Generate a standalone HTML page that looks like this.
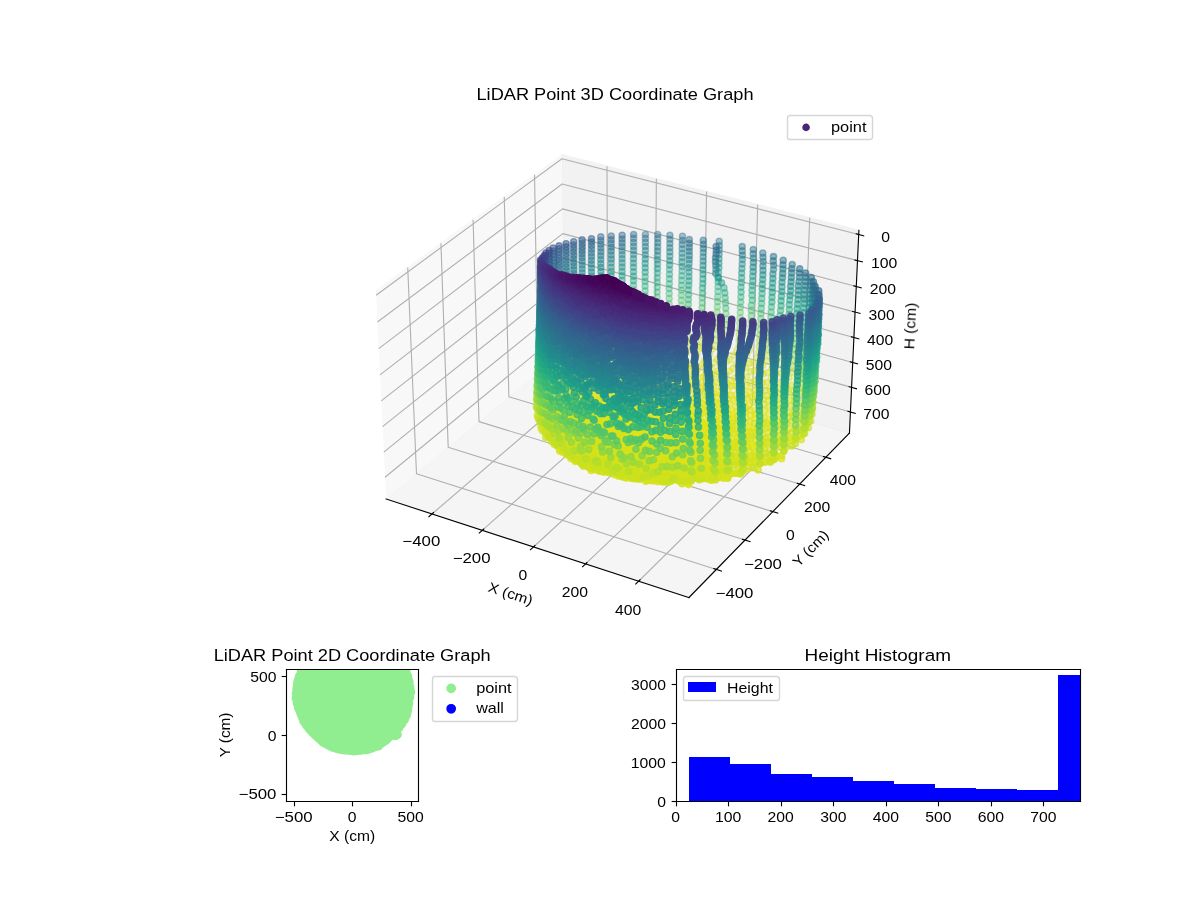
<!DOCTYPE html><html><head><meta charset="utf-8"><title>LiDAR Point Graphs</title><style>
html,body{margin:0;padding:0;background:#fff}svg{display:block}
svg path{stroke-linejoin:round;stroke-linecap:butt}
text{font-family:"Liberation Sans",sans-serif;fill:#000;white-space:pre}
.s3 circle{stroke-width:1.39px}
.k0{fill:#440154;stroke:#440154}.k1{fill:#46075a;stroke:#46075a}.k2{fill:#470d60;stroke:#470d60}.k3{fill:#471365;stroke:#471365}.k4{fill:#48186a;stroke:#48186a}.k5{fill:#481d6f;stroke:#481d6f}.k6{fill:#482374;stroke:#482374}.k7{fill:#482878;stroke:#482878}.k8{fill:#472d7b;stroke:#472d7b}.k9{fill:#46327e;stroke:#46327e}.ka{fill:#453781;stroke:#453781}.kb{fill:#443b84;stroke:#443b84}.kc{fill:#424086;stroke:#424086}.kd{fill:#404588;stroke:#404588}.ke{fill:#3e4989;stroke:#3e4989}.kf{fill:#3d4e8a;stroke:#3d4e8a}.kg{fill:#3a538b;stroke:#3a538b}.kh{fill:#38588c;stroke:#38588c}.ki{fill:#365c8d;stroke:#365c8d}.kj{fill:#34608d;stroke:#34608d}.kk{fill:#32648e;stroke:#32648e}.kl{fill:#31688e;stroke:#31688e}.km{fill:#2f6c8e;stroke:#2f6c8e}.kn{fill:#2d708e;stroke:#2d708e}.ko{fill:#2c738e;stroke:#2c738e}.kp{fill:#2a778e;stroke:#2a778e}.kq{fill:#297b8e;stroke:#297b8e}.kr{fill:#277f8e;stroke:#277f8e}.ks{fill:#26828e;stroke:#26828e}.kt{fill:#24868e;stroke:#24868e}.ku{fill:#238a8d;stroke:#238a8d}.kv{fill:#218e8d;stroke:#218e8d}.kw{fill:#20928c;stroke:#20928c}.kx{fill:#1f968b;stroke:#1f968b}.ky{fill:#1f9a8a;stroke:#1f9a8a}.kz{fill:#1f9e89;stroke:#1f9e89}.k10{fill:#1fa187;stroke:#1fa187}.k11{fill:#21a585;stroke:#21a585}.k12{fill:#23a983;stroke:#23a983}.k13{fill:#26ad81;stroke:#26ad81}.k14{fill:#2ab07f;stroke:#2ab07f}.k15{fill:#2fb47c;stroke:#2fb47c}.k16{fill:#35b779;stroke:#35b779}.k17{fill:#3bbb75;stroke:#3bbb75}.k18{fill:#42be71;stroke:#42be71}.k19{fill:#4ac16d;stroke:#4ac16d}.k1a{fill:#52c569;stroke:#52c569}.k1b{fill:#5ac864;stroke:#5ac864}.k1c{fill:#65cb5e;stroke:#65cb5e}.k1d{fill:#6ece58;stroke:#6ece58}.k1e{fill:#77d153;stroke:#77d153}.k1f{fill:#81d34d;stroke:#81d34d}.k1g{fill:#8bd646;stroke:#8bd646}.k1h{fill:#95d840;stroke:#95d840}.k1i{fill:#a0da39;stroke:#a0da39}.k1j{fill:#aadc32;stroke:#aadc32}.k1k{fill:#b5de2b;stroke:#b5de2b}.k1l{fill:#c0df25;stroke:#c0df25}.k1m{fill:#cae11f;stroke:#cae11f}.k1n{fill:#d5e21a;stroke:#d5e21a}.k1o{fill:#dfe318;stroke:#dfe318}.k1p{fill:#eae51a;stroke:#eae51a}.k1q{fill:#f4e61e;stroke:#f4e61e}.a0{fill-opacity:.3;stroke-opacity:.3}.a1{fill-opacity:.35;stroke-opacity:.35}.a2{fill-opacity:.4;stroke-opacity:.4}.a3{fill-opacity:.45;stroke-opacity:.45}.a4{fill-opacity:.5;stroke-opacity:.5}.a5{fill-opacity:.55;stroke-opacity:.55}.a6{fill-opacity:.6;stroke-opacity:.6}.a7{fill-opacity:.65;stroke-opacity:.65}.a8{fill-opacity:.7;stroke-opacity:.7}.a9{fill-opacity:.75;stroke-opacity:.75}.aa{fill-opacity:.8;stroke-opacity:.8}.ab{fill-opacity:.85;stroke-opacity:.85}.ac{fill-opacity:.9;stroke-opacity:.9}.ad{fill-opacity:.95;stroke-opacity:.95}.ae{fill-opacity:1;stroke-opacity:1}
</style></head><body>
<svg width="1200" height="900" viewBox="0 0 1200 900"><defs><clipPath id="p7de2c0d83e"><rect x="675.65" y="669" width="404.35" height="132"/></clipPath></defs>
<path d="M0 900L1200 900L1200 0L0 0Z" style="fill:#fff"/>
<path d="M351 636L879 636L879 108L351 108Z" style="fill:#fff"/>
<path d="M375.89 290.89L561.86 154.69L564.16 350.66L386.1 499.01" style="fill:#f2f2f2;opacity:0.5;stroke:#f2f2f2;stroke-linejoin:miter;stroke-width:1.389"/>
<path d="M561.86 154.69L858.9 230.3L849.44 433.15L564.16 350.66" style="fill:#e6e6e6;opacity:0.5;stroke:#e6e6e6;stroke-linejoin:miter;stroke-width:1.389"/>
<path d="M386.1 499.01L688.88 597.61L849.44 433.15L564.16 350.66" style="fill:#ececec;opacity:0.5;stroke:#ececec;stroke-linejoin:miter;stroke-width:1.389"/>
<path d="M432.02 513.96L607.59 363.22L607.01 166.18" style="fill:none;stroke:#b0b0b0;stroke-width:1.111"/>
<path d="M482.25 530.32L655.04 376.94L656.36 178.75" style="fill:none;stroke:#b0b0b0;stroke-width:1.111"/>
<path d="M533.42 546.98L703.29 390.89L706.58 191.53" style="fill:none;stroke:#b0b0b0;stroke-width:1.111"/>
<path d="M585.53 563.95L752.35 405.08L757.68 204.54" style="fill:none;stroke:#b0b0b0;stroke-width:1.111"/>
<path d="M638.61 581.24L802.26 419.51L809.69 217.77" style="fill:none;stroke:#b0b0b0;stroke-width:1.111"/>
<path d="M407.72 267.58L416.49 473.7L716.38 569.44" style="fill:none;stroke:#b0b0b0;stroke-width:1.111"/>
<path d="M440.91 243.27L448.21 447.26L745.06 540.07" style="fill:none;stroke:#b0b0b0;stroke-width:1.111"/>
<path d="M473.08 219.71L479 421.62L772.83 511.62" style="fill:none;stroke:#b0b0b0;stroke-width:1.111"/>
<path d="M504.27 196.87L508.88 396.72L799.75 484.04" style="fill:none;stroke:#b0b0b0;stroke-width:1.111"/>
<path d="M534.53 174.71L537.9 372.54L825.86 457.3" style="fill:none;stroke:#b0b0b0;stroke-width:1.111"/>
<path d="M858.7 234.51L561.91 158.75L376.1 295.22" style="fill:none;stroke:#b0b0b0;stroke-width:1.111"/>
<path d="M857.49 260.64L562.21 183.95L377.42 322.06" style="fill:none;stroke:#b0b0b0;stroke-width:1.111"/>
<path d="M856.28 286.51L562.5 208.91L378.72 348.63" style="fill:none;stroke:#b0b0b0;stroke-width:1.111"/>
<path d="M855.09 312.11L562.79 233.63L380.01 374.91" style="fill:none;stroke:#b0b0b0;stroke-width:1.111"/>
<path d="M853.91 337.45L563.07 258.11L381.29 400.91" style="fill:none;stroke:#b0b0b0;stroke-width:1.111"/>
<path d="M852.74 362.54L563.36 282.36L382.55 426.64" style="fill:none;stroke:#b0b0b0;stroke-width:1.111"/>
<path d="M851.58 387.37L563.64 306.37L383.8 452.1" style="fill:none;stroke:#b0b0b0;stroke-width:1.111"/>
<path d="M850.43 411.96L563.92 330.15L385.04 477.3" style="fill:none;stroke:#b0b0b0;stroke-width:1.111"/>
<path d="M386.1 499.01L688.88 597.61" style="fill:none;stroke:#000;stroke-width:1.111;stroke-linecap:square"/>
<path d="M433.55 512.65L428.95 516.6" style="fill:none;stroke:#000;stroke-width:1.111;stroke-linecap:square"/>
<path d="M483.76 528.98L479.23 533.01" style="fill:none;stroke:#000;stroke-width:1.111;stroke-linecap:square"/>
<path d="M534.9 545.62L530.44 549.72" style="fill:none;stroke:#000;stroke-width:1.111;stroke-linecap:square"/>
<path d="M586.98 562.56L582.6 566.74" style="fill:none;stroke:#000;stroke-width:1.111;stroke-linecap:square"/>
<path d="M640.04 579.82L635.74 584.08" style="fill:none;stroke:#000;stroke-width:1.111;stroke-linecap:square"/>
<path d="M849.44 433.15L688.88 597.61" style="fill:none;stroke:#000;stroke-width:1.111;stroke-linecap:square"/>
<path d="M713.86 568.63L721.45 571.05" style="fill:none;stroke:#000;stroke-width:1.111;stroke-linecap:square"/>
<path d="M742.55 539.29L750.06 541.63" style="fill:none;stroke:#000;stroke-width:1.111;stroke-linecap:square"/>
<path d="M770.36 510.86L777.79 513.14" style="fill:none;stroke:#000;stroke-width:1.111;stroke-linecap:square"/>
<path d="M797.31 483.31L804.65 485.51" style="fill:none;stroke:#000;stroke-width:1.111;stroke-linecap:square"/>
<path d="M823.44 456.59L830.71 458.73" style="fill:none;stroke:#000;stroke-width:1.111;stroke-linecap:square"/>
<path d="M849.44 433.15L858.9 230.3" style="fill:none;stroke:#000;stroke-width:1.111;stroke-linecap:square"/>
<path d="M856.21 233.87L863.71 235.78" style="fill:none;stroke:#000;stroke-width:1.111;stroke-linecap:square"/>
<path d="M855 259.99L862.46 261.93" style="fill:none;stroke:#000;stroke-width:1.111;stroke-linecap:square"/>
<path d="M853.81 285.85L861.23 287.81" style="fill:none;stroke:#000;stroke-width:1.111;stroke-linecap:square"/>
<path d="M852.63 311.45L860.01 313.43" style="fill:none;stroke:#000;stroke-width:1.111;stroke-linecap:square"/>
<path d="M851.46 336.78L858.8 338.79" style="fill:none;stroke:#000;stroke-width:1.111;stroke-linecap:square"/>
<path d="M850.3 361.86L857.61 363.89" style="fill:none;stroke:#000;stroke-width:1.111;stroke-linecap:square"/>
<path d="M849.16 386.69L856.42 388.73" style="fill:none;stroke:#000;stroke-width:1.111;stroke-linecap:square"/>
<path d="M848.02 411.27L855.25 413.33" style="fill:none;stroke:#000;stroke-width:1.111;stroke-linecap:square"/>
<g class="s3"><g class="a0"><circle cx="680.4" cy="339.2" r="3.1" class="k1m"/><circle cx="667.9" cy="341.4" r="3.1" class="k1m"/><circle cx="679.2" cy="344.9" r="3.1" class="k1n"/><circle cx="644.7" cy="339.3" r="3.1" class="k1l"/><circle cx="633.3" cy="343.9" r="3.1" class="k1n"/><circle cx="644.4" cy="344.7" r="3.1" class="k1n"/><circle cx="655.5" cy="344.8" r="3.1" class="k1n"/><circle cx="666.5" cy="346.8" r="3.1" class="k1n"/><circle cx="715" cy="345.5" r="3.1" class="k1m"/><circle cx="677.5" cy="348.3" r="3.1" class="k1n"/><circle cx="715.8" cy="340.2" r="3.1" class="k1l"/><circle cx="668.9" cy="319.9" r="3.1" class="k1f"/><circle cx="654.5" cy="350.2" r="3.1" class="k1n"/><circle cx="643.7" cy="347.4" r="3.1" class="k1n"/><circle cx="716.2" cy="334.4" r="3.1" class="k1j"/><circle cx="700.8" cy="346.7" r="3.1" class="k1m"/><circle cx="726" cy="348.7" r="3.1" class="k1n"/><circle cx="727.3" cy="343.1" r="3.1" class="k1l"/><circle cx="665.2" cy="349.8" r="3.1" class="k1n"/></g><g class="a1"><circle cx="611.5" cy="346.7" r="3.1" class="k1m"/><circle cx="712.3" cy="349" r="3.1" class="k1n"/><circle cx="675.8" cy="352.2" r="3.1" class="k1n"/><circle cx="716.4" cy="328.6" r="3.1" class="k1h"/><circle cx="632.6" cy="352.3" r="3.1" class="k1n"/><circle cx="701" cy="340.7" r="3.1" class="k1k"/><circle cx="738.9" cy="346.5" r="3.1" class="k1m"/><circle cx="681.1" cy="310.7" r="3.1" class="k1c"/><circle cx="669" cy="309" r="3.1" class="k1c"/><circle cx="699.1" cy="349" r="3.1" class="k1m"/><circle cx="663.9" cy="355.7" r="3.1" class="k1o"/><circle cx="727" cy="336.8" r="3.1" class="k1j"/><circle cx="611.7" cy="350.5" r="3.1" class="k1m"/><circle cx="686.4" cy="353" r="3.1" class="k1n"/><circle cx="736.7" cy="351.1" r="3.1" class="k1n"/><circle cx="653.5" cy="351.3" r="3.1" class="k1n"/><circle cx="601.3" cy="351.5" r="3.1" class="k1n"/><circle cx="681.3" cy="305.5" r="3.1" class="k1b"/><circle cx="687" cy="347.5" r="3.1" class="k1m"/><circle cx="709.6" cy="354.3" r="3.1" class="k1n"/><circle cx="716.5" cy="322.9" r="3.1" class="k1f"/><circle cx="701.1" cy="334.9" r="3.1" class="k1i"/><circle cx="669.1" cy="303.7" r="3.1" class="k1a"/><circle cx="739.1" cy="340.5" r="3.1" class="k1k"/><circle cx="674.2" cy="354.9" r="3.1" class="k1n"/><circle cx="696.8" cy="354.7" r="3.1" class="k1n"/><circle cx="716.9" cy="317.5" r="3.1" class="k1d"/><circle cx="749.8" cy="349.8" r="3.1" class="k1m"/><circle cx="681.4" cy="300.3" r="3.1" class="k19"/><circle cx="657" cy="302.2" r="3.1" class="k19"/><circle cx="632.3" cy="355.1" r="3.1" class="k1n"/><circle cx="642.4" cy="356" r="3.1" class="k1n"/><circle cx="687.2" cy="341.7" r="3.1" class="k1k"/><circle cx="701.4" cy="329.3" r="3.1" class="k1g"/><circle cx="684.4" cy="358.1" r="3.1" class="k1o"/><circle cx="726.8" cy="330.7" r="3.1" class="k1h"/><circle cx="669.2" cy="298.5" r="3.1" class="k18"/><circle cx="739.3" cy="334.6" r="3.1" class="k1i"/><circle cx="733.3" cy="355.2" r="3.1" class="k1n"/><circle cx="747.1" cy="354.8" r="3.1" class="k1n"/><circle cx="612" cy="353.6" r="3.1" class="k1m"/><circle cx="719.9" cy="355.7" r="3.1" class="k1n"/><circle cx="652.6" cy="354.5" r="3.1" class="k1n"/><circle cx="657.1" cy="297.1" r="3.1" class="k18"/><circle cx="717.1" cy="312.1" r="3.1" class="k1c"/><circle cx="687.5" cy="336.1" r="3.1" class="k1i"/><circle cx="681.5" cy="295.2" r="3.1" class="k17"/><circle cx="707" cy="357" r="3.1" class="k1n"/><circle cx="662.7" cy="356.6" r="3.1" class="k1n"/><circle cx="701.6" cy="323.8" r="3.1" class="k1e"/><circle cx="601.3" cy="339.4" r="3.1" class="k1i"/><circle cx="669.2" cy="293.5" r="3.1" class="k16"/><circle cx="739.8" cy="329" r="3.1" class="k1g"/><circle cx="749.6" cy="343.5" r="3.1" class="k1j"/><circle cx="694.5" cy="358.8" r="3.1" class="k1n"/><circle cx="592" cy="354.7" r="3.1" class="k1m"/><circle cx="672.7" cy="357.8" r="3.1" class="k1n"/><circle cx="726.5" cy="324.8" r="3.1" class="k1e"/><circle cx="717.4" cy="306.8" r="3.1" class="k1a"/><circle cx="657.1" cy="292.1" r="3.1" class="k16"/><circle cx="730" cy="359.8" r="3.1" class="k1n"/><circle cx="641.8" cy="358.3" r="3.1" class="k1n"/><circle cx="687.5" cy="330.3" r="3.1" class="k1g"/><circle cx="681.4" cy="290.1" r="3.1" class="k16"/><circle cx="701.7" cy="318.3" r="3.1" class="k1d"/><circle cx="645.1" cy="295.8" r="3.1" class="k17"/><circle cx="612.3" cy="357.6" r="3.1" class="k1n"/><circle cx="601.2" cy="333.7" r="3.1" class="k1h"/><circle cx="750" cy="337.8" r="3.1" class="k1i"/><circle cx="717" cy="359.2" r="3.1" class="k1n"/><circle cx="743.5" cy="357.6" r="3.1" class="k1n"/><circle cx="651.7" cy="358.4" r="3.1" class="k1n"/><circle cx="682.6" cy="359.1" r="3.1" class="k1n"/><circle cx="739.8" cy="323.3" r="3.1" class="k1e"/><circle cx="669.1" cy="288.5" r="3.1" class="k15"/><circle cx="661.4" cy="360.7" r="3.1" class="k1n"/><circle cx="717.6" cy="301.6" r="3.1" class="k18"/><circle cx="704.4" cy="360.5" r="3.1" class="k1n"/><circle cx="657.2" cy="287.2" r="3.1" class="k15"/><circle cx="757.3" cy="357.6" r="3.1" class="k1n"/><circle cx="759" cy="352.5" r="3.1" class="k1l"/><circle cx="692.3" cy="363.5" r="3.1" class="k1o"/><circle cx="681.6" cy="285.2" r="3.1" class="k14"/><circle cx="592.9" cy="359.8" r="3.1" class="k1n"/><circle cx="701.9" cy="313" r="3.1" class="k1b"/><circle cx="669.4" cy="283.7" r="3.1" class="k13"/><circle cx="671.1" cy="362.8" r="3.1" class="k1o"/><circle cx="645.1" cy="290.9" r="3.1" class="k15"/><circle cx="687.6" cy="324.8" r="3.1" class="k1e"/><circle cx="726.3" cy="319.1" r="3.1" class="k1c"/><circle cx="591.8" cy="343.7" r="3.1" class="k1j"/><circle cx="750.4" cy="332.1" r="3.1" class="k1g"/><circle cx="740.1" cy="317.9" r="3.1" class="k1c"/><circle cx="717.8" cy="296.6" r="3.1" class="k16"/><circle cx="583.3" cy="360.9" r="3.1" class="k1n"/><circle cx="657.2" cy="282.4" r="3.1" class="k13"/><circle cx="582.8" cy="354.6" r="3.1" class="k1l"/><circle cx="681.7" cy="280.4" r="3.1" class="k12"/><circle cx="612.6" cy="361.7" r="3.1" class="k1n"/><circle cx="739.9" cy="361.7" r="3.1" class="k1n"/><circle cx="714.1" cy="362.9" r="3.1" class="k1n"/><circle cx="669.4" cy="278.9" r="3.1" class="k12"/><circle cx="726.8" cy="361.4" r="3.1" class="k1n"/><circle cx="702" cy="307.8" r="3.1" class="k19"/><circle cx="759.3" cy="346.5" r="3.1" class="k1j"/><circle cx="753.3" cy="362.9" r="3.1" class="k1n"/><circle cx="650.7" cy="362.5" r="3.1" class="k1n"/><circle cx="680.7" cy="363" r="3.1" class="k1n"/><circle cx="645.1" cy="286.1" r="3.1" class="k14"/><circle cx="750.8" cy="326.6" r="3.1" class="k1e"/><circle cx="701.9" cy="364.4" r="3.1" class="k1o"/><circle cx="633.5" cy="290.1" r="3.1" class="k15"/><circle cx="660.2" cy="364" r="3.1" class="k1n"/><circle cx="669.6" cy="367.8" r="3.1" class="k1o"/><circle cx="740.3" cy="312.5" r="3.1" class="k1a"/><circle cx="717.9" cy="291.5" r="3.1" class="k15"/><circle cx="726" cy="313.6" r="3.1" class="k1a"/><circle cx="681.8" cy="275.7" r="3.1" class="k11"/><circle cx="657.2" cy="277.7" r="3.1" class="k11"/><circle cx="702.3" cy="302.9" r="3.1" class="k18"/><circle cx="593.8" cy="362.8" r="3.1" class="k1n"/><circle cx="690.2" cy="365.9" r="3.1" class="k1o"/><circle cx="603.2" cy="359" r="3.1" class="k1m"/><circle cx="669.5" cy="274.2" r="3.1" class="k10"/><circle cx="767.1" cy="361.3" r="3.1" class="k1n"/><circle cx="645.1" cy="281.4" r="3.1" class="k12"/><circle cx="759.6" cy="340.7" r="3.1" class="k1h"/><circle cx="582.7" cy="348.5" r="3.1" class="k1j"/><circle cx="657.4" cy="273.1" r="3.1" class="k10"/><circle cx="640.6" cy="366.5" r="3.1" class="k1o"/><circle cx="633.5" cy="285.4" r="3.1" class="k13"/><circle cx="751" cy="321.1" r="3.1" class="k1c"/><circle cx="622.1" cy="365.2" r="3.1" class="k1n"/><circle cx="682" cy="271" r="3.1" class="kz"/><circle cx="718" cy="286.6" r="3.1" class="k13"/><circle cx="711.3" cy="367.2" r="3.1" class="k1o"/><circle cx="740.4" cy="307.2" r="3.1" class="k18"/><circle cx="612.9" cy="365.1" r="3.1" class="k1n"/><circle cx="678.9" cy="367.1" r="3.1" class="k1o"/><circle cx="768.2" cy="355.7" r="3.1" class="k1l"/><circle cx="723.7" cy="364.7" r="3.1" class="k1n"/><circle cx="645.2" cy="276.8" r="3.1" class="k11"/><circle cx="736.3" cy="364.3" r="3.1" class="k1n"/><circle cx="584.5" cy="361.7" r="3.1" class="k1m"/><circle cx="688.1" cy="309.3" r="3.1" class="k19"/><circle cx="669.5" cy="269.6" r="3.1" class="kz"/><circle cx="702.3" cy="297.8" r="3.1" class="k16"/><circle cx="574.5" cy="359.3" r="3.1" class="k1m"/><circle cx="699.5" cy="367.7" r="3.1" class="k1o"/></g><g class="a2"><circle cx="725.7" cy="308.2" r="3.1" class="k18"/><circle cx="603.8" cy="365" r="3.1" class="k1n"/><circle cx="649.9" cy="364.5" r="3.1" class="k1n"/><circle cx="582.6" cy="342.9" r="3.1" class="k1h"/><circle cx="657.4" cy="268.6" r="3.1" class="ky"/><circle cx="759.9" cy="335" r="3.1" class="k1f"/><circle cx="682.1" cy="266.5" r="3.1" class="ky"/><circle cx="575.4" cy="364.7" r="3.1" class="k1n"/><circle cx="749.4" cy="363.3" r="3.1" class="k1n"/><circle cx="633.5" cy="280.7" r="3.1" class="k11"/><circle cx="751.3" cy="315.7" r="3.1" class="k1a"/><circle cx="718.2" cy="281.8" r="3.1" class="k12"/><circle cx="740.7" cy="302.1" r="3.1" class="k17"/><circle cx="762.8" cy="365.5" r="3.1" class="k1n"/><circle cx="659" cy="365.5" r="3.1" class="k1n"/><circle cx="688.1" cy="369.2" r="3.1" class="k1o"/><circle cx="768.8" cy="349.9" r="3.1" class="k1j"/><circle cx="669.6" cy="265.1" r="3.1" class="kx"/><circle cx="702.6" cy="293" r="3.1" class="k14"/><circle cx="594.7" cy="365" r="3.1" class="k1n"/><circle cx="645.2" cy="272.2" r="3.1" class="kz"/><circle cx="688.3" cy="304.4" r="3.1" class="k17"/><circle cx="668.1" cy="367.2" r="3.1" class="k1n"/><circle cx="657.5" cy="264.1" r="3.1" class="kx"/><circle cx="585.7" cy="367.3" r="3.1" class="k1n"/><circle cx="613.2" cy="369.2" r="3.1" class="k1o"/><circle cx="640" cy="368.9" r="3.1" class="k1o"/><circle cx="633.5" cy="276.2" r="3.1" class="k10"/><circle cx="760.2" cy="329.5" r="3.1" class="k1d"/><circle cx="732.9" cy="368.4" r="3.1" class="k1n"/><circle cx="718.4" cy="277" r="3.1" class="k10"/><circle cx="582.6" cy="337.2" r="3.1" class="k1f"/><circle cx="682" cy="261.9" r="3.1" class="kw"/><circle cx="720.6" cy="367.9" r="3.1" class="k1n"/><circle cx="649" cy="369.7" r="3.1" class="k1o"/><circle cx="725.5" cy="302.9" r="3.1" class="k16"/><circle cx="669.7" cy="260.7" r="3.1" class="kw"/><circle cx="740.9" cy="297.1" r="3.1" class="k15"/><circle cx="751.4" cy="310.4" r="3.1" class="k18"/><circle cx="631.1" cy="366.4" r="3.1" class="k1n"/><circle cx="677.1" cy="369.5" r="3.1" class="k1o"/><circle cx="622.1" cy="366.3" r="3.1" class="k1n"/><circle cx="708.6" cy="368.4" r="3.1" class="k1n"/><circle cx="622.1" cy="284.7" r="3.1" class="k12"/><circle cx="688.4" cy="299.5" r="3.1" class="k16"/><circle cx="776.3" cy="365" r="3.1" class="k1m"/><circle cx="745.6" cy="367.6" r="3.1" class="k1n"/><circle cx="697.1" cy="370.6" r="3.1" class="k1o"/><circle cx="702.5" cy="288.1" r="3.1" class="k13"/><circle cx="645.2" cy="267.8" r="3.1" class="kx"/><circle cx="768.9" cy="344" r="3.1" class="k1h"/><circle cx="633.5" cy="271.7" r="3.1" class="ky"/><circle cx="682.2" cy="257.5" r="3.1" class="kv"/><circle cx="760.7" cy="324.2" r="3.1" class="k1c"/><circle cx="758.6" cy="368.6" r="3.1" class="k1n"/><circle cx="576.8" cy="367.2" r="3.1" class="k1n"/><circle cx="657.9" cy="369.2" r="3.1" class="k1n"/><circle cx="657.4" cy="259.7" r="3.1" class="kv"/><circle cx="718.5" cy="272.3" r="3.1" class="kz"/><circle cx="669.8" cy="256.3" r="3.1" class="ku"/><circle cx="686" cy="371.4" r="3.1" class="k1o"/><circle cx="777.4" cy="359.4" r="3.1" class="k1l"/><circle cx="741.1" cy="292.1" r="3.1" class="k13"/><circle cx="622.1" cy="280.2" r="3.1" class="k10"/><circle cx="574.4" cy="347.4" r="3.1" class="k1h"/><circle cx="702.8" cy="283.5" r="3.1" class="k11"/><circle cx="688.6" cy="294.7" r="3.1" class="k14"/><circle cx="666.7" cy="371" r="3.1" class="k1o"/><circle cx="751.4" cy="305.2" r="3.1" class="k17"/><circle cx="645.2" cy="263.4" r="3.1" class="kw"/><circle cx="595.5" cy="366.8" r="3.1" class="k1m"/><circle cx="613.5" cy="373" r="3.1" class="k1o"/><circle cx="639.5" cy="372.6" r="3.1" class="k1o"/><circle cx="725.2" cy="297.8" r="3.1" class="k15"/><circle cx="718.9" cy="267.7" r="3.1" class="kx"/><circle cx="568.1" cy="369.7" r="3.1" class="k1n"/><circle cx="657.5" cy="255.4" r="3.1" class="ku"/><circle cx="630.8" cy="371.3" r="3.1" class="k1o"/><circle cx="729.5" cy="371.3" r="3.1" class="k1o"/><circle cx="705.9" cy="373" r="3.1" class="k1o"/><circle cx="717.5" cy="371.2" r="3.1" class="k1n"/><circle cx="648.1" cy="373.5" r="3.1" class="k1o"/><circle cx="772" cy="368.6" r="3.1" class="k1n"/><circle cx="567.2" cy="363.3" r="3.1" class="k1l"/><circle cx="752.3" cy="300.3" r="3.1" class="k15"/><circle cx="769.1" cy="338.2" r="3.1" class="k1f"/><circle cx="586.8" cy="368.7" r="3.1" class="k1n"/><circle cx="622.1" cy="370.2" r="3.1" class="k1n"/><circle cx="675.4" cy="373.1" r="3.1" class="k1o"/><circle cx="669.8" cy="251.9" r="3.1" class="kt"/><circle cx="633.5" cy="267.3" r="3.1" class="kx"/><circle cx="645.3" cy="259.1" r="3.1" class="kv"/><circle cx="682.1" cy="253.2" r="3.1" class="kt"/><circle cx="760.8" cy="318.7" r="3.1" class="k1a"/><circle cx="622.1" cy="275.7" r="3.1" class="kz"/><circle cx="702.9" cy="278.9" r="3.1" class="k10"/><circle cx="741.9" cy="370" r="3.1" class="k1n"/><circle cx="574.3" cy="341.8" r="3.1" class="k1g"/><circle cx="741" cy="287.2" r="3.1" class="k12"/><circle cx="657.6" cy="251.1" r="3.1" class="ks"/><circle cx="777.6" cy="353.4" r="3.1" class="k1j"/><circle cx="694.8" cy="372.5" r="3.1" class="k1n"/><circle cx="656.7" cy="372.7" r="3.1" class="k1o"/><circle cx="688.4" cy="289.9" r="3.1" class="k12"/><circle cx="718.9" cy="263.2" r="3.1" class="kv"/><circle cx="754.5" cy="370.7" r="3.1" class="k1n"/><circle cx="682.2" cy="248.8" r="3.1" class="ks"/><circle cx="633.5" cy="263" r="3.1" class="kv"/><circle cx="578.2" cy="369.6" r="3.1" class="k1n"/><circle cx="769.6" cy="332.8" r="3.1" class="k1d"/><circle cx="669.8" cy="247.7" r="3.1" class="kr"/><circle cx="684" cy="374.1" r="3.1" class="k1o"/><circle cx="596.4" cy="370.9" r="3.1" class="k1n"/><circle cx="665.3" cy="374.5" r="3.1" class="k1o"/><circle cx="645.3" cy="254.8" r="3.1" class="kt"/><circle cx="567.1" cy="357.4" r="3.1" class="k1j"/><circle cx="741.5" cy="282.5" r="3.1" class="k10"/><circle cx="724.8" cy="292.9" r="3.1" class="k13"/><circle cx="761" cy="313.5" r="3.1" class="k18"/><circle cx="703" cy="274.3" r="3.1" class="ky"/><circle cx="638.9" cy="376.3" r="3.1" class="k1o"/><circle cx="767.5" cy="372.6" r="3.1" class="k1n"/><circle cx="630.5" cy="375.3" r="3.1" class="k1o"/><circle cx="587.9" cy="373.6" r="3.1" class="k1n"/><circle cx="688.7" cy="285.4" r="3.1" class="k11"/><circle cx="703.3" cy="376.8" r="3.1" class="k1o"/><circle cx="657.6" cy="246.9" r="3.1" class="kr"/><circle cx="752" cy="295.2" r="3.1" class="k14"/><circle cx="611.3" cy="280" r="3.1" class="k10"/><circle cx="726.2" cy="374.3" r="3.1" class="k1o"/><circle cx="622.1" cy="271.4" r="3.1" class="kx"/><circle cx="613.8" cy="375.1" r="3.1" class="k1o"/><circle cx="714.6" cy="374.1" r="3.1" class="k1o"/><circle cx="622.1" cy="374.1" r="3.1" class="k1o"/><circle cx="574.2" cy="336.4" r="3.1" class="k1e"/><circle cx="673.7" cy="376.6" r="3.1" class="k1o"/><circle cx="719" cy="258.7" r="3.1" class="ku"/><circle cx="738.2" cy="374.2" r="3.1" class="k1n"/><circle cx="633.5" cy="258.7" r="3.1" class="ku"/><circle cx="777.9" cy="347.6" r="3.1" class="k1h"/><circle cx="669.9" cy="243.5" r="3.1" class="kq"/><circle cx="569.8" cy="370.8" r="3.1" class="k1n"/><circle cx="682.2" cy="244.6" r="3.1" class="kq"/><circle cx="645.4" cy="250.6" r="3.1" class="ks"/><circle cx="784.3" cy="368.3" r="3.1" class="k1m"/><circle cx="769.8" cy="327.4" r="3.1" class="k1b"/><circle cx="741.7" cy="277.7" r="3.1" class="kz"/><circle cx="622.1" cy="267.1" r="3.1" class="kw"/><circle cx="688.9" cy="280.9" r="3.1" class="k10"/><circle cx="647.3" cy="374.3" r="3.1" class="k1n"/><circle cx="605.4" cy="374.2" r="3.1" class="k1n"/><circle cx="657.7" cy="242.7" r="3.1" class="kq"/><circle cx="761.3" cy="308.4" r="3.1" class="k16"/><circle cx="692.5" cy="375.2" r="3.1" class="k1o"/><circle cx="611.2" cy="275.7" r="3.1" class="ky"/><circle cx="579.6" cy="373.7" r="3.1" class="k1n"/><circle cx="702.9" cy="269.8" r="3.1" class="kx"/><circle cx="633.6" cy="254.5" r="3.1" class="kt"/><circle cx="780.7" cy="373.3" r="3.1" class="k1n"/><circle cx="655.6" cy="375.4" r="3.1" class="k1n"/><circle cx="752" cy="290.3" r="3.1" class="k12"/><circle cx="567.1" cy="351.4" r="3.1" class="k1h"/><circle cx="682.4" cy="240.4" r="3.1" class="kp"/><circle cx="719.1" cy="254.3" r="3.1" class="kt"/><circle cx="645.4" cy="246.5" r="3.1" class="kq"/><circle cx="597.2" cy="374.2" r="3.1" class="k1n"/><circle cx="750.6" cy="371.7" r="3.1" class="k1m"/><circle cx="669.9" cy="239.3" r="3.1" class="kp"/><circle cx="722.9" cy="378.3" r="3.1" class="k1o"/><circle cx="561.5" cy="372.7" r="3.1" class="k1n"/><circle cx="682" cy="376.5" r="3.1" class="k1o"/><circle cx="663.9" cy="377.1" r="3.1" class="k1o"/><circle cx="770.3" cy="322.1" r="3.1" class="k1a"/><circle cx="784.8" cy="362.4" r="3.1" class="k1k"/><circle cx="724" cy="287.9" r="3.1" class="k11"/><circle cx="734.6" cy="378.2" r="3.1" class="k1o"/><circle cx="657.7" cy="238.6" r="3.1" class="ko"/><circle cx="622.1" cy="262.9" r="3.1" class="kv"/><circle cx="589" cy="376" r="3.1" class="k1n"/><circle cx="741.7" cy="273.1" r="3.1" class="kx"/><circle cx="777.8" cy="341.7" r="3.1" class="k1f"/><circle cx="763.1" cy="374.1" r="3.1" class="k1n"/><circle cx="703.1" cy="265.4" r="3.1" class="kv"/><circle cx="761.6" cy="303.4" r="3.1" class="k15"/><circle cx="688.9" cy="276.5" r="3.1" class="ky"/><circle cx="638.4" cy="378.4" r="3.1" class="k1o"/><circle cx="672" cy="380.1" r="3.1" class="k1o"/><circle cx="711.7" cy="376.8" r="3.1" class="k1o"/><circle cx="622.1" cy="377.2" r="3.1" class="k1o"/><circle cx="682.5" cy="236.2" r="3.1" class="ko"/><circle cx="752.3" cy="285.5" r="3.1" class="k10"/><circle cx="560.9" cy="367.2" r="3.1" class="k1l"/><circle cx="614" cy="377.5" r="3.1" class="k1o"/><circle cx="633.6" cy="250.4" r="3.1" class="kr"/><circle cx="700.7" cy="377.6" r="3.1" class="k1o"/><circle cx="646.4" cy="379" r="3.1" class="k1o"/><circle cx="719.2" cy="249.9" r="3.1" class="kr"/><circle cx="630.3" cy="376.2" r="3.1" class="k1n"/><circle cx="654.5" cy="381.3" r="3.1" class="k1p"/><circle cx="645.4" cy="242.4" r="3.1" class="kp"/><circle cx="690.2" cy="379.9" r="3.1" class="k1o"/><circle cx="611.3" cy="271.4" r="3.1" class="kx"/><circle cx="567" cy="345.9" r="3.1" class="k1f"/><circle cx="778.9" cy="336.6" r="3.1" class="k1d"/><circle cx="669.9" cy="235.3" r="3.1" class="kn"/><circle cx="571.4" cy="372.5" r="3.1" class="k1m"/><circle cx="770.9" cy="317.1" r="3.1" class="k18"/><circle cx="746.6" cy="376.9" r="3.1" class="k1n"/><circle cx="657.7" cy="234.5" r="3.1" class="kn"/><circle cx="622.1" cy="258.7" r="3.1" class="kt"/><circle cx="689" cy="272.1" r="3.1" class="kx"/><circle cx="606" cy="376.5" r="3.1" class="k1n"/><circle cx="703.2" cy="261.1" r="3.1" class="ku"/><circle cx="611.2" cy="267.2" r="3.1" class="kv"/><circle cx="741.9" cy="268.5" r="3.1" class="kw"/><circle cx="752.7" cy="280.9" r="3.1" class="kz"/><circle cx="680" cy="381.3" r="3.1" class="k1o"/><circle cx="761.8" cy="298.4" r="3.1" class="k13"/><circle cx="785.1" cy="356.6" r="3.1" class="k1i"/><circle cx="662.5" cy="381.2" r="3.1" class="k1o"/><circle cx="633.6" cy="246.4" r="3.1" class="kq"/><circle cx="598" cy="377.3" r="3.1" class="k1n"/><circle cx="581" cy="374.6" r="3.1" class="k1m"/><circle cx="719.3" cy="245.6" r="3.1" class="kq"/><circle cx="776.1" cy="373.4" r="3.1" class="k1m"/><circle cx="758.8" cy="377.4" r="3.1" class="k1n"/><circle cx="614.3" cy="382.6" r="3.1" class="k1o"/><circle cx="731.1" cy="381.1" r="3.1" class="k1o"/><circle cx="563.4" cy="374.8" r="3.1" class="k1m"/><circle cx="560.8" cy="361.1" r="3.1" class="k1j"/><circle cx="645.4" cy="238.4" r="3.1" class="ko"/><circle cx="600.9" cy="275.8" r="3.1" class="kx"/><circle cx="698.2" cy="381.8" r="3.1" class="k1o"/><circle cx="590.1" cy="379" r="3.1" class="k1n"/><circle cx="719.8" cy="379.4" r="3.1" class="k1o"/><circle cx="708.8" cy="379.9" r="3.1" class="k1o"/><circle cx="771.2" cy="312" r="3.1" class="k16"/><circle cx="622.1" cy="254.7" r="3.1" class="ks"/><circle cx="670.3" cy="383.2" r="3.1" class="k1p"/><circle cx="742.2" cy="264" r="3.1" class="ku"/><circle cx="637.8" cy="380.8" r="3.1" class="k1o"/><circle cx="703.2" cy="256.8" r="3.1" class="ks"/><circle cx="778.9" cy="331" r="3.1" class="k1b"/><circle cx="633.6" cy="242.4" r="3.1" class="kp"/><circle cx="622.1" cy="379.6" r="3.1" class="k1n"/><circle cx="786" cy="351.1" r="3.1" class="k1g"/><circle cx="762.1" cy="293.6" r="3.1" class="k12"/><circle cx="611.2" cy="263" r="3.1" class="ku"/><circle cx="688.8" cy="267.8" r="3.1" class="kv"/><circle cx="789" cy="377.8" r="3.1" class="k1n"/><circle cx="752.7" cy="276.2" r="3.1" class="kx"/><circle cx="792.1" cy="372.2" r="3.1" class="k1m"/><circle cx="630" cy="378.8" r="3.1" class="k1n"/><circle cx="742.7" cy="380.4" r="3.1" class="k1o"/><circle cx="688" cy="382.2" r="3.1" class="k1o"/><circle cx="573" cy="375.6" r="3.1" class="k1m"/><circle cx="606.5" cy="380.8" r="3.1" class="k1o"/><circle cx="719.2" cy="241.4" r="3.1" class="ko"/><circle cx="645.4" cy="234.5" r="3.1" class="km"/><circle cx="653.4" cy="382.9" r="3.1" class="k1o"/><circle cx="645.6" cy="380.2" r="3.1" class="k1n"/><circle cx="742.4" cy="259.6" r="3.1" class="kt"/><circle cx="622.1" cy="250.7" r="3.1" class="kq"/><circle cx="771.4" cy="377.7" r="3.1" class="k1n"/><circle cx="565.3" cy="379.8" r="3.1" class="k1n"/><circle cx="771.5" cy="306.9" r="3.1" class="k15"/><circle cx="582.3" cy="378.6" r="3.1" class="k1n"/><circle cx="598.8" cy="381.3" r="3.1" class="k1o"/><circle cx="689.1" cy="263.6" r="3.1" class="ku"/><circle cx="678.1" cy="383.8" r="3.1" class="k1o"/><circle cx="703.3" cy="252.6" r="3.1" class="kr"/><circle cx="555.6" cy="376.3" r="3.1" class="k1m"/><circle cx="633.6" cy="238.4" r="3.1" class="kn"/></g><g class="a3"><circle cx="566.9" cy="335.1" r="3.1" class="k1c"/><circle cx="753.1" cy="271.6" r="3.1" class="kw"/><circle cx="661.1" cy="383.9" r="3.1" class="k1o"/><circle cx="754.7" cy="380.5" r="3.1" class="k1n"/><circle cx="779.3" cy="325.8" r="3.1" class="k19"/><circle cx="560.8" cy="355.2" r="3.1" class="k1h"/><circle cx="762.3" cy="288.8" r="3.1" class="k10"/><circle cx="601" cy="271.6" r="3.1" class="kw"/><circle cx="727.6" cy="384" r="3.1" class="k1o"/><circle cx="611.3" cy="259" r="3.1" class="ks"/><circle cx="622.1" cy="384.6" r="3.1" class="k1o"/><circle cx="786.2" cy="345.4" r="3.1" class="k1e"/><circle cx="716.7" cy="382.2" r="3.1" class="k1o"/><circle cx="668.7" cy="386.5" r="3.1" class="k1p"/><circle cx="721.6" cy="282.8" r="3.1" class="ky"/><circle cx="591.2" cy="381.8" r="3.1" class="k1o"/><circle cx="738.9" cy="384.6" r="3.1" class="k1o"/><circle cx="555" cy="371.4" r="3.1" class="k1l"/><circle cx="644.8" cy="386.5" r="3.1" class="k1p"/><circle cx="792.4" cy="366.1" r="3.1" class="k1j"/><circle cx="695.7" cy="383.9" r="3.1" class="k1o"/><circle cx="706" cy="382" r="3.1" class="k1o"/><circle cx="637.3" cy="384" r="3.1" class="k1o"/><circle cx="689.2" cy="259.5" r="3.1" class="ks"/><circle cx="703.4" cy="248.5" r="3.1" class="kq"/><circle cx="771.9" cy="302.1" r="3.1" class="k13"/><circle cx="633.6" cy="234.5" r="3.1" class="km"/><circle cx="574.7" cy="379.5" r="3.1" class="k1n"/><circle cx="629.7" cy="382.5" r="3.1" class="k1o"/><circle cx="742.4" cy="255.2" r="3.1" class="kr"/><circle cx="766.8" cy="382.3" r="3.1" class="k1o"/><circle cx="600.9" cy="267.5" r="3.1" class="ku"/><circle cx="622.1" cy="246.7" r="3.1" class="kp"/><circle cx="614.6" cy="383" r="3.1" class="k1o"/><circle cx="784.1" cy="379.6" r="3.1" class="k1n"/><circle cx="611.2" cy="255" r="3.1" class="kr"/><circle cx="753.1" cy="267.1" r="3.1" class="ku"/><circle cx="762.4" cy="284.1" r="3.1" class="ky"/><circle cx="607.1" cy="383.2" r="3.1" class="k1o"/><circle cx="599.6" cy="385.6" r="3.1" class="k1o"/><circle cx="685.8" cy="384" r="3.1" class="k1o"/><circle cx="557.7" cy="380.4" r="3.1" class="k1n"/><circle cx="779.4" cy="320.5" r="3.1" class="k18"/><circle cx="560.7" cy="349.6" r="3.1" class="k1f"/><circle cx="583.6" cy="382.2" r="3.1" class="k1n"/><circle cx="786.7" cy="340" r="3.1" class="k1c"/><circle cx="652.3" cy="384.7" r="3.1" class="k1o"/><circle cx="689.3" cy="255.4" r="3.1" class="kr"/><circle cx="600.8" cy="263.5" r="3.1" class="kt"/><circle cx="567.1" cy="382.1" r="3.1" class="k1n"/><circle cx="659.8" cy="387.3" r="3.1" class="k1o"/><circle cx="793.1" cy="360.5" r="3.1" class="k1i"/><circle cx="750.6" cy="382.8" r="3.1" class="k1n"/><circle cx="676.3" cy="386.1" r="3.1" class="k1o"/><circle cx="622.1" cy="242.9" r="3.1" class="ko"/><circle cx="703.4" cy="244.4" r="3.1" class="ko"/><circle cx="713.6" cy="385.9" r="3.1" class="k1o"/><circle cx="703.3" cy="386.3" r="3.1" class="k1o"/><circle cx="772" cy="297.2" r="3.1" class="k12"/><circle cx="554.9" cy="365.3" r="3.1" class="k1j"/><circle cx="742.3" cy="250.9" r="3.1" class="kq"/><circle cx="753.4" cy="262.6" r="3.1" class="kt"/><circle cx="611.2" cy="251.1" r="3.1" class="kq"/><circle cx="636.8" cy="388.3" r="3.1" class="k1p"/><circle cx="762.7" cy="279.5" r="3.1" class="kx"/><circle cx="780.1" cy="315.6" r="3.1" class="k16"/><circle cx="629.4" cy="387.2" r="3.1" class="k1o"/><circle cx="576.2" cy="383.6" r="3.1" class="k1n"/><circle cx="724.3" cy="384.8" r="3.1" class="k1o"/><circle cx="667.1" cy="388.7" r="3.1" class="k1p"/><circle cx="693.3" cy="386.4" r="3.1" class="k1o"/><circle cx="735.3" cy="386.1" r="3.1" class="k1o"/><circle cx="779.2" cy="382.6" r="3.1" class="k1n"/><circle cx="592.2" cy="383.9" r="3.1" class="k1n"/><circle cx="787.4" cy="334.8" r="3.1" class="k1b"/><circle cx="560.6" cy="344.3" r="3.1" class="k1d"/><circle cx="683.6" cy="388.6" r="3.1" class="k1p"/><circle cx="622.1" cy="385.6" r="3.1" class="k1o"/><circle cx="600.8" cy="259.5" r="3.1" class="ks"/><circle cx="614.8" cy="385.9" r="3.1" class="k1o"/><circle cx="689.2" cy="251.3" r="3.1" class="kq"/><circle cx="622.1" cy="239" r="3.1" class="km"/><circle cx="591.4" cy="276" r="3.1" class="kw"/><circle cx="559.8" cy="383.5" r="3.1" class="k1n"/><circle cx="644.1" cy="386.7" r="3.1" class="k1o"/><circle cx="584.9" cy="385.9" r="3.1" class="k1o"/><circle cx="550.3" cy="381.3" r="3.1" class="k1n"/><circle cx="772.3" cy="292.4" r="3.1" class="k10"/><circle cx="762.4" cy="382.7" r="3.1" class="k1n"/><circle cx="703.3" cy="240.4" r="3.1" class="kn"/><circle cx="793.2" cy="354.6" r="3.1" class="k1g"/><circle cx="746.5" cy="386.5" r="3.1" class="k1o"/><circle cx="797.1" cy="379.3" r="3.1" class="k1m"/><circle cx="742.2" cy="246.6" r="3.1" class="ko"/><circle cx="611.3" cy="247.2" r="3.1" class="ko"/><circle cx="780.6" cy="310.6" r="3.1" class="k15"/><circle cx="607.6" cy="385.5" r="3.1" class="k1n"/><circle cx="753.4" cy="258.2" r="3.1" class="kr"/><circle cx="762.9" cy="274.9" r="3.1" class="kv"/><circle cx="798.9" cy="375.8" r="3.1" class="k1l"/><circle cx="651.3" cy="387.4" r="3.1" class="k1o"/><circle cx="674.4" cy="389.4" r="3.1" class="k1o"/><circle cx="554.9" cy="359.4" r="3.1" class="k1h"/><circle cx="600.4" cy="386.6" r="3.1" class="k1o"/><circle cx="569" cy="384.1" r="3.1" class="k1n"/><circle cx="689.3" cy="247.4" r="3.1" class="ko"/><circle cx="622.1" cy="235.2" r="3.1" class="kl"/><circle cx="600.8" cy="255.6" r="3.1" class="kq"/><circle cx="787.5" cy="329.5" r="3.1" class="k19"/><circle cx="560.5" cy="339" r="3.1" class="k1b"/><circle cx="622.1" cy="390.7" r="3.1" class="k1p"/><circle cx="721" cy="387.7" r="3.1" class="k1o"/><circle cx="791.7" cy="385.2" r="3.1" class="k1n"/><circle cx="611.2" cy="243.4" r="3.1" class="kn"/><circle cx="593.3" cy="387.8" r="3.1" class="k1o"/><circle cx="774.4" cy="385.3" r="3.1" class="k1n"/><circle cx="710.7" cy="386.9" r="3.1" class="k1o"/><circle cx="700.6" cy="387.5" r="3.1" class="k1o"/><circle cx="577.8" cy="386.3" r="3.1" class="k1n"/><circle cx="549.9" cy="375.5" r="3.1" class="k1l"/><circle cx="591.5" cy="272" r="3.1" class="ku"/><circle cx="772.4" cy="287.7" r="3.1" class="ky"/><circle cx="781.1" cy="305.8" r="3.1" class="k13"/><circle cx="758" cy="387" r="3.1" class="k1o"/><circle cx="636.2" cy="390.3" r="3.1" class="k1o"/><circle cx="658.5" cy="387.3" r="3.1" class="k1o"/><circle cx="690.9" cy="388.6" r="3.1" class="k1o"/><circle cx="793.7" cy="349.1" r="3.1" class="k1e"/><circle cx="763" cy="270.4" r="3.1" class="ku"/><circle cx="629.2" cy="388.6" r="3.1" class="k1o"/><circle cx="681.5" cy="391.1" r="3.1" class="k1p"/><circle cx="753.2" cy="253.9" r="3.1" class="kq"/><circle cx="689.4" cy="243.4" r="3.1" class="kn"/><circle cx="552.6" cy="384.4" r="3.1" class="k1n"/><circle cx="799.3" cy="369.9" r="3.1" class="k1j"/><circle cx="600.9" cy="251.8" r="3.1" class="kp"/><circle cx="650.3" cy="392.1" r="3.1" class="k1p"/><circle cx="665.6" cy="389" r="3.1" class="k1o"/><circle cx="731.7" cy="385.9" r="3.1" class="k1n"/><circle cx="742.6" cy="388.8" r="3.1" class="k1o"/><circle cx="554.8" cy="353.8" r="3.1" class="k1f"/><circle cx="591.4" cy="268" r="3.1" class="kt"/><circle cx="643.3" cy="389.3" r="3.1" class="k1o"/><circle cx="586.2" cy="388.2" r="3.1" class="k1o"/><circle cx="615.1" cy="387.3" r="3.1" class="k1n"/><circle cx="611.2" cy="239.7" r="3.1" class="km"/><circle cx="608.1" cy="388.3" r="3.1" class="k1o"/><circle cx="561.8" cy="384.7" r="3.1" class="k1n"/><circle cx="787.7" cy="324.3" r="3.1" class="k17"/><circle cx="672.6" cy="392.3" r="3.1" class="k1p"/><circle cx="718.2" cy="277.9" r="3.1" class="kw"/><circle cx="717.7" cy="391.6" r="3.1" class="k1o"/><circle cx="707.7" cy="391.3" r="3.1" class="k1o"/><circle cx="570.7" cy="387" r="3.1" class="k1n"/><circle cx="772.6" cy="283.1" r="3.1" class="kx"/><circle cx="594.3" cy="392.5" r="3.1" class="k1p"/><circle cx="794.6" cy="343.9" r="3.1" class="k1c"/><circle cx="560.6" cy="333.8" r="3.1" class="k1a"/><circle cx="769.7" cy="388.6" r="3.1" class="k1o"/><circle cx="781.1" cy="300.9" r="3.1" class="k11"/><circle cx="549.7" cy="369.5" r="3.1" class="k1j"/><circle cx="786.6" cy="387.5" r="3.1" class="k1n"/><circle cx="762.9" cy="266" r="3.1" class="ks"/><circle cx="753.3" cy="249.6" r="3.1" class="ko"/><circle cx="600.8" cy="248" r="3.1" class="ko"/><circle cx="657.2" cy="391.6" r="3.1" class="k1o"/><circle cx="697.9" cy="390.7" r="3.1" class="k1o"/><circle cx="601.1" cy="388.1" r="3.1" class="k1n"/><circle cx="753.8" cy="389.9" r="3.1" class="k1o"/><circle cx="689.3" cy="239.6" r="3.1" class="km"/><circle cx="582.2" cy="276.6" r="3.1" class="kv"/><circle cx="579.3" cy="389" r="3.1" class="k1o"/><circle cx="642.5" cy="395.2" r="3.1" class="k1p"/><circle cx="728.1" cy="390.3" r="3.1" class="k1o"/><circle cx="591.4" cy="264.1" r="3.1" class="ks"/><circle cx="628.9" cy="392.4" r="3.1" class="k1o"/><circle cx="799.8" cy="364.1" r="3.1" class="k1h"/><circle cx="688.5" cy="391.1" r="3.1" class="k1o"/><circle cx="611.2" cy="236" r="3.1" class="kl"/><circle cx="635.7" cy="392.7" r="3.1" class="k1o"/><circle cx="554.7" cy="348.4" r="3.1" class="k1d"/><circle cx="545.7" cy="386.4" r="3.1" class="k1n"/><circle cx="679.4" cy="393.8" r="3.1" class="k1p"/><circle cx="788.1" cy="319.2" r="3.1" class="k16"/><circle cx="554.9" cy="387.2" r="3.1" class="k1n"/><circle cx="615.3" cy="392" r="3.1" class="k1o"/><circle cx="772.9" cy="278.5" r="3.1" class="kv"/><circle cx="560.4" cy="329" r="3.1" class="k18"/><circle cx="664" cy="392.3" r="3.1" class="k1o"/><circle cx="781.5" cy="296.2" r="3.1" class="k10"/><circle cx="622.1" cy="390.3" r="3.1" class="k1o"/><circle cx="763.2" cy="261.6" r="3.1" class="kr"/><circle cx="600.8" cy="244.2" r="3.1" class="kn"/><circle cx="670.8" cy="396.4" r="3.1" class="k1p"/><circle cx="608.6" cy="391.9" r="3.1" class="k1o"/><circle cx="794.8" cy="338.5" r="3.1" class="k1a"/><circle cx="649.2" cy="394.1" r="3.1" class="k1o"/><circle cx="572.5" cy="390.4" r="3.1" class="k1o"/><circle cx="738.8" cy="389.5" r="3.1" class="k1n"/><circle cx="587.5" cy="389.9" r="3.1" class="k1n"/><circle cx="563.9" cy="386.8" r="3.1" class="k1n"/><circle cx="582.2" cy="272.7" r="3.1" class="ku"/><circle cx="591.4" cy="260.3" r="3.1" class="kr"/><circle cx="789" cy="314.5" r="3.1" class="k14"/><circle cx="714.6" cy="393.7" r="3.1" class="k1o"/><circle cx="704.8" cy="393.6" r="3.1" class="k1o"/><circle cx="803.3" cy="384.7" r="3.1" class="k1m"/><circle cx="724.6" cy="394.8" r="3.1" class="k1p"/><circle cx="765.1" cy="390.2" r="3.1" class="k1n"/><circle cx="781.6" cy="389.5" r="3.1" class="k1n"/><circle cx="549.7" cy="363.4" r="3.1" class="k1h"/><circle cx="601.9" cy="391.8" r="3.1" class="k1o"/><circle cx="749.6" cy="392.2" r="3.1" class="k1o"/><circle cx="600.8" cy="240.5" r="3.1" class="kl"/><circle cx="695.3" cy="393.2" r="3.1" class="k1o"/><circle cx="772.9" cy="274" r="3.1" class="ku"/><circle cx="799.9" cy="358.4" r="3.1" class="k1f"/><circle cx="554.7" cy="343.1" r="3.1" class="k1b"/><circle cx="781.8" cy="291.5" r="3.1" class="ky"/><circle cx="686.2" cy="394.6" r="3.1" class="k1o"/><circle cx="655.9" cy="393.6" r="3.1" class="k1o"/><circle cx="560.4" cy="324.1" r="3.1" class="k16"/><circle cx="580.8" cy="391.2" r="3.1" class="k1n"/><circle cx="734.9" cy="395.1" r="3.1" class="k1o"/><circle cx="595.3" cy="392.6" r="3.1" class="k1o"/><circle cx="795.4" cy="333.4" r="3.1" class="k19"/><circle cx="798.9" cy="388.4" r="3.1" class="k1n"/><circle cx="763" cy="257.3" r="3.1" class="kp"/><circle cx="662.5" cy="396.3" r="3.1" class="k1p"/><circle cx="628.7" cy="394.8" r="3.1" class="k1o"/><circle cx="615.6" cy="395.2" r="3.1" class="k1o"/><circle cx="548.2" cy="388.3" r="3.1" class="k1n"/><circle cx="545.6" cy="379.3" r="3.1" class="k1k"/><circle cx="582.2" cy="268.8" r="3.1" class="ks"/><circle cx="635.2" cy="394.9" r="3.1" class="k1o"/><circle cx="565.9" cy="391.4" r="3.1" class="k1n"/><circle cx="789.4" cy="309.6" r="3.1" class="k13"/><circle cx="557.2" cy="388.9" r="3.1" class="k1n"/><circle cx="591.5" cy="256.5" r="3.1" class="kp"/><circle cx="692.7" cy="399" r="3.1" class="k1p"/><circle cx="773.5" cy="269.6" r="3.1" class="ks"/><circle cx="600.8" cy="236.9" r="3.1" class="kk"/><circle cx="622.1" cy="392.8" r="3.1" class="k1o"/><circle cx="641.8" cy="394.9" r="3.1" class="k1o"/><circle cx="760.6" cy="393.3" r="3.1" class="k1o"/><circle cx="588.7" cy="393.2" r="3.1" class="k1o"/><circle cx="677.4" cy="394.1" r="3.1" class="k1o"/><circle cx="803.7" cy="378.7" r="3.1" class="k1k"/><circle cx="776.7" cy="392.2" r="3.1" class="k1n"/><circle cx="648.2" cy="396.7" r="3.1" class="k1p"/><circle cx="800.7" cy="353" r="3.1" class="k1d"/><circle cx="782" cy="286.9" r="3.1" class="kx"/><circle cx="609.1" cy="393.8" r="3.1" class="k1o"/><circle cx="549.7" cy="357.7" r="3.1" class="k1f"/><circle cx="745.5" cy="395.1" r="3.1" class="k1o"/><circle cx="582.1" cy="265" r="3.1" class="kr"/><circle cx="702" cy="395.1" r="3.1" class="k1o"/><circle cx="554.7" cy="337.9" r="3.1" class="k19"/><circle cx="715.7" cy="273.5" r="3.1" class="kt"/><circle cx="711.5" cy="394.7" r="3.1" class="k1o"/><circle cx="669" cy="396.3" r="3.1" class="k1o"/><circle cx="591.4" cy="252.8" r="3.1" class="ko"/><circle cx="602.6" cy="394.3" r="3.1" class="k1o"/><circle cx="762.8" cy="253.1" r="3.1" class="ko"/><circle cx="574.2" cy="390.6" r="3.1" class="k1n"/><circle cx="795.4" cy="328.2" r="3.1" class="k17"/><circle cx="654.7" cy="397.3" r="3.1" class="k1o"/><circle cx="793.6" cy="390.6" r="3.1" class="k1n"/><circle cx="683.9" cy="397" r="3.1" class="k1o"/><circle cx="773.7" cy="265.2" r="3.1" class="kr"/><circle cx="721.3" cy="394.5" r="3.1" class="k1o"/><circle cx="596.2" cy="395.5" r="3.1" class="k1o"/><circle cx="789.3" cy="304.7" r="3.1" class="k11"/><circle cx="582.3" cy="393.4" r="3.1" class="k1n"/><circle cx="545.6" cy="373.1" r="3.1" class="k1i"/><circle cx="550.6" cy="390.4" r="3.1" class="k1m"/><circle cx="573.8" cy="277.4" r="3.1" class="ku"/><circle cx="716" cy="269.5" r="3.1" class="ks"/><circle cx="731.3" cy="395.4" r="3.1" class="k1o"/><circle cx="699.1" cy="400.7" r="3.1" class="k1p"/><circle cx="804.4" cy="373" r="3.1" class="k1i"/><circle cx="622.1" cy="397" r="3.1" class="k1o"/><circle cx="559.4" cy="391.4" r="3.1" class="k1n"/><circle cx="634.7" cy="397.8" r="3.1" class="k1o"/><circle cx="661" cy="398.2" r="3.1" class="k1o"/><circle cx="567.8" cy="393.7" r="3.1" class="k1n"/><circle cx="628.4" cy="396.8" r="3.1" class="k1o"/><circle cx="554.4" cy="333.2" r="3.1" class="k18"/><circle cx="782" cy="282.3" r="3.1" class="kv"/><circle cx="801" cy="347.6" r="3.1" class="k1c"/><circle cx="615.8" cy="397.1" r="3.1" class="k1o"/><circle cx="675.4" cy="397.5" r="3.1" class="k1o"/><circle cx="582.2" cy="261.2" r="3.1" class="kq"/><circle cx="641" cy="398.3" r="3.1" class="k1o"/><circle cx="708.4" cy="399.1" r="3.1" class="k1p"/><circle cx="591.5" cy="249.2" r="3.1" class="kn"/><circle cx="549.7" cy="352.2" r="3.1" class="k1d"/><circle cx="741.5" cy="397.5" r="3.1" class="k1o"/><circle cx="795.9" cy="323.2" r="3.1" class="k15"/><circle cx="756.3" cy="394.5" r="3.1" class="k1n"/><circle cx="771.9" cy="393.5" r="3.1" class="k1n"/><circle cx="542.1" cy="389.5" r="3.1" class="k1m"/><circle cx="576" cy="394.9" r="3.1" class="k1n"/><circle cx="789.8" cy="300" r="3.1" class="k10"/></g><g class="a4"><circle cx="667.3" cy="399.8" r="3.1" class="k1p"/><circle cx="609.6" cy="396" r="3.1" class="k1o"/><circle cx="690.3" cy="398.5" r="3.1" class="k1o"/><circle cx="773.3" cy="260.9" r="3.1" class="kp"/><circle cx="782.5" cy="277.8" r="3.1" class="ku"/><circle cx="647.3" cy="397.5" r="3.1" class="k1o"/><circle cx="788.4" cy="392.4" r="3.1" class="k1n"/><circle cx="589.9" cy="393.5" r="3.1" class="k1n"/><circle cx="573.9" cy="273.5" r="3.1" class="kt"/><circle cx="582.1" cy="257.6" r="3.1" class="kp"/><circle cx="681.7" cy="400" r="3.1" class="k1p"/><circle cx="717.9" cy="397.2" r="3.1" class="k1o"/><circle cx="544.4" cy="394.1" r="3.1" class="k1n"/><circle cx="653.4" cy="399.8" r="3.1" class="k1o"/><circle cx="597.2" cy="398.9" r="3.1" class="k1o"/><circle cx="583.7" cy="396.9" r="3.1" class="k1o"/><circle cx="715.8" cy="265.5" r="3.1" class="kr"/><circle cx="603.4" cy="396" r="3.1" class="k1n"/><circle cx="553.1" cy="393.9" r="3.1" class="k1n"/><circle cx="591.5" cy="245.6" r="3.1" class="km"/><circle cx="801.5" cy="342.4" r="3.1" class="k1a"/><circle cx="796.7" cy="318.4" r="3.1" class="k14"/><circle cx="554.4" cy="328.4" r="3.1" class="k16"/><circle cx="804.7" cy="367.2" r="3.1" class="k1g"/><circle cx="561.6" cy="394.7" r="3.1" class="k1n"/><circle cx="727.6" cy="397.9" r="3.1" class="k1o"/><circle cx="805.6" cy="393.8" r="3.1" class="k1n"/><circle cx="659.5" cy="401.7" r="3.1" class="k1p"/><circle cx="549.6" cy="347" r="3.1" class="k1b"/><circle cx="790.1" cy="295.4" r="3.1" class="ky"/><circle cx="752" cy="397.2" r="3.1" class="k1o"/><circle cx="628.2" cy="399.6" r="3.1" class="k1o"/><circle cx="767.2" cy="395.9" r="3.1" class="k1n"/><circle cx="616.1" cy="399.9" r="3.1" class="k1o"/><circle cx="783.2" cy="396.7" r="3.1" class="k1n"/><circle cx="545.9" cy="366.6" r="3.1" class="k1g"/><circle cx="622.1" cy="399.2" r="3.1" class="k1o"/><circle cx="569.8" cy="395.3" r="3.1" class="k1n"/><circle cx="573.8" cy="269.7" r="3.1" class="kr"/><circle cx="582.1" cy="253.9" r="3.1" class="kn"/><circle cx="773.5" cy="256.6" r="3.1" class="ko"/><circle cx="696.4" cy="401.6" r="3.1" class="k1p"/><circle cx="673.4" cy="399.7" r="3.1" class="k1o"/><circle cx="634.3" cy="399.4" r="3.1" class="k1o"/><circle cx="737.6" cy="399.1" r="3.1" class="k1o"/><circle cx="782.7" cy="273.4" r="3.1" class="ks"/><circle cx="591.1" cy="398.6" r="3.1" class="k1o"/><circle cx="640.3" cy="400.6" r="3.1" class="k1o"/><circle cx="714.6" cy="401.4" r="3.1" class="k1p"/><circle cx="591.5" cy="242.1" r="3.1" class="kl"/><circle cx="687.8" cy="402.1" r="3.1" class="k1p"/><circle cx="610.1" cy="399.7" r="3.1" class="k1o"/><circle cx="542.1" cy="382.9" r="3.1" class="k1k"/><circle cx="547.1" cy="397.9" r="3.1" class="k1o"/><circle cx="705.4" cy="399.7" r="3.1" class="k1o"/><circle cx="796.9" cy="313.5" r="3.1" class="k12"/><circle cx="801.8" cy="337.1" r="3.1" class="k18"/><circle cx="715.5" cy="261.6" r="3.1" class="kp"/><circle cx="790.7" cy="290.8" r="3.1" class="kx"/><circle cx="646.3" cy="400.7" r="3.1" class="k1o"/><circle cx="679.4" cy="403" r="3.1" class="k1p"/><circle cx="805.3" cy="361.8" r="3.1" class="k1e"/><circle cx="604.1" cy="399.7" r="3.1" class="k1o"/><circle cx="577.6" cy="395.6" r="3.1" class="k1n"/><circle cx="555.5" cy="396.5" r="3.1" class="k1n"/><circle cx="806.9" cy="387.3" r="3.1" class="k1l"/><circle cx="724" cy="400.9" r="3.1" class="k1o"/><circle cx="554.6" cy="323.6" r="3.1" class="k15"/><circle cx="582.1" cy="250.4" r="3.1" class="km"/><circle cx="652.2" cy="402.4" r="3.1" class="k1p"/><circle cx="573.8" cy="266" r="3.1" class="kq"/><circle cx="571.7" cy="400.3" r="3.1" class="k1o"/><circle cx="762.6" cy="399.3" r="3.1" class="k1o"/><circle cx="549.6" cy="341.8" r="3.1" class="k19"/><circle cx="665.6" cy="399.9" r="3.1" class="k1o"/><circle cx="545.6" cy="361.2" r="3.1" class="k1e"/><circle cx="563.7" cy="397" r="3.1" class="k1n"/><circle cx="782.9" cy="269" r="3.1" class="kr"/><circle cx="598.2" cy="400.1" r="3.1" class="k1o"/><circle cx="671.5" cy="403.9" r="3.1" class="k1p"/><circle cx="591.5" cy="238.7" r="3.1" class="kj"/><circle cx="628" cy="403.4" r="3.1" class="k1p"/><circle cx="778.2" cy="398.7" r="3.1" class="k1n"/><circle cx="585.2" cy="397.7" r="3.1" class="k1n"/><circle cx="800.2" cy="393.9" r="3.1" class="k1m"/><circle cx="658.1" cy="403.6" r="3.1" class="k1p"/><circle cx="715.6" cy="257.8" r="3.1" class="ko"/><circle cx="573.6" cy="262.4" r="3.1" class="kp"/><circle cx="622.1" cy="402.5" r="3.1" class="k1o"/><circle cx="747.8" cy="398.4" r="3.1" class="k1n"/><circle cx="702.4" cy="403.5" r="3.1" class="k1p"/><circle cx="797.1" cy="308.7" r="3.1" class="k11"/><circle cx="685.3" cy="404.8" r="3.1" class="k1p"/><circle cx="639.6" cy="403.5" r="3.1" class="k1p"/><circle cx="802.2" cy="332.1" r="3.1" class="k16"/><circle cx="693.7" cy="403.2" r="3.1" class="k1o"/><circle cx="610.5" cy="403" r="3.1" class="k1o"/><circle cx="733.8" cy="400.2" r="3.1" class="k1o"/><circle cx="633.8" cy="402" r="3.1" class="k1o"/><circle cx="616.3" cy="401.7" r="3.1" class="k1o"/><circle cx="579.3" cy="400.1" r="3.1" class="k1o"/><circle cx="790.6" cy="286.3" r="3.1" class="kv"/><circle cx="582.2" cy="246.9" r="3.1" class="kl"/><circle cx="645.3" cy="404.9" r="3.1" class="k1p"/><circle cx="592.3" cy="400.5" r="3.1" class="k1o"/><circle cx="716.1" cy="254" r="3.1" class="kn"/><circle cx="554.5" cy="319.1" r="3.1" class="k13"/><circle cx="805.4" cy="356.2" r="3.1" class="k1c"/><circle cx="604.8" cy="403.5" r="3.1" class="k1o"/><circle cx="783" cy="264.7" r="3.1" class="kp"/><circle cx="542.3" cy="376.3" r="3.1" class="k1h"/><circle cx="807.4" cy="381.4" r="3.1" class="k1j"/><circle cx="677.3" cy="405.3" r="3.1" class="k1p"/><circle cx="549.6" cy="336.9" r="3.1" class="k17"/><circle cx="663.9" cy="404" r="3.1" class="k1o"/><circle cx="711.4" cy="401.1" r="3.1" class="k1o"/><circle cx="720.5" cy="402.9" r="3.1" class="k1o"/><circle cx="758.1" cy="401.1" r="3.1" class="k1o"/><circle cx="743.6" cy="402.4" r="3.1" class="k1o"/><circle cx="573.6" cy="258.8" r="3.1" class="ko"/><circle cx="557.9" cy="398.4" r="3.1" class="k1n"/><circle cx="549.6" cy="397.7" r="3.1" class="k1n"/><circle cx="565.9" cy="400.1" r="3.1" class="k1n"/><circle cx="773.3" cy="401.2" r="3.1" class="k1o"/><circle cx="794.7" cy="396.7" r="3.1" class="k1n"/><circle cx="716.3" cy="250.2" r="3.1" class="km"/><circle cx="797.5" cy="304.1" r="3.1" class="kz"/><circle cx="586.6" cy="401" r="3.1" class="k1o"/><circle cx="791.1" cy="281.8" r="3.1" class="ku"/><circle cx="541.1" cy="396.7" r="3.1" class="k1m"/><circle cx="651" cy="404" r="3.1" class="k1o"/><circle cx="545.9" cy="355.4" r="3.1" class="k1c"/><circle cx="582.2" cy="243.4" r="3.1" class="kk"/><circle cx="699.4" cy="406.4" r="3.1" class="k1p"/><circle cx="573.6" cy="400.8" r="3.1" class="k1n"/><circle cx="729.9" cy="403.3" r="3.1" class="k1o"/><circle cx="691" cy="406.6" r="3.1" class="k1p"/><circle cx="802.2" cy="327" r="3.1" class="k15"/><circle cx="627.7" cy="405.4" r="3.1" class="k1p"/><circle cx="669.6" cy="405.4" r="3.1" class="k1p"/><circle cx="806.1" cy="351" r="3.1" class="k1b"/><circle cx="783.2" cy="260.4" r="3.1" class="ko"/><circle cx="540" cy="391.9" r="3.1" class="k1l"/><circle cx="656.7" cy="405.5" r="3.1" class="k1p"/><circle cx="616.6" cy="404.9" r="3.1" class="k1o"/><circle cx="633.3" cy="405.2" r="3.1" class="k1o"/><circle cx="708.1" cy="405" r="3.1" class="k1o"/><circle cx="593.5" cy="403.8" r="3.1" class="k1o"/><circle cx="599.1" cy="400.8" r="3.1" class="k1n"/><circle cx="789.3" cy="400.2" r="3.1" class="k1n"/><circle cx="581" cy="402.6" r="3.1" class="k1o"/><circle cx="566.5" cy="274.4" r="3.1" class="kr"/><circle cx="622.1" cy="403.9" r="3.1" class="k1o"/><circle cx="549.6" cy="332.2" r="3.1" class="k16"/><circle cx="582.1" cy="239.9" r="3.1" class="kj"/><circle cx="638.9" cy="405.7" r="3.1" class="k1o"/><circle cx="682.9" cy="406.3" r="3.1" class="k1p"/><circle cx="611" cy="405.2" r="3.1" class="k1o"/><circle cx="739.5" cy="405.3" r="3.1" class="k1o"/><circle cx="573.8" cy="255.3" r="3.1" class="kn"/><circle cx="798" cy="299.5" r="3.1" class="ky"/><circle cx="791.4" cy="277.4" r="3.1" class="ks"/><circle cx="807.4" cy="375.4" r="3.1" class="k1h"/><circle cx="803.4" cy="322.4" r="3.1" class="k14"/><circle cx="552.2" cy="400.6" r="3.1" class="k1n"/><circle cx="644.4" cy="406.4" r="3.1" class="k1p"/><circle cx="542.4" cy="370.1" r="3.1" class="k1f"/><circle cx="560.2" cy="401" r="3.1" class="k1n"/><circle cx="716.1" cy="246.6" r="3.1" class="kl"/><circle cx="753.7" cy="402.1" r="3.1" class="k1n"/><circle cx="675.1" cy="407" r="3.1" class="k1p"/><circle cx="662.2" cy="405.7" r="3.1" class="k1o"/><circle cx="545.8" cy="350.2" r="3.1" class="k1a"/><circle cx="717.1" cy="403.6" r="3.1" class="k1o"/><circle cx="649.8" cy="407.7" r="3.1" class="k1p"/><circle cx="543.9" cy="399.2" r="3.1" class="k1n"/><circle cx="605.5" cy="404.3" r="3.1" class="k1o"/><circle cx="806.6" cy="345.8" r="3.1" class="k19"/><circle cx="573.6" cy="251.8" r="3.1" class="kl"/><circle cx="667.7" cy="409.3" r="3.1" class="k1p"/><circle cx="588" cy="403.4" r="3.1" class="k1o"/><circle cx="568" cy="400.8" r="3.1" class="k1n"/><circle cx="627.5" cy="409.2" r="3.1" class="k1p"/><circle cx="768.6" cy="400.4" r="3.1" class="k1n"/><circle cx="566.5" cy="270.8" r="3.1" class="kq"/><circle cx="688.4" cy="408.9" r="3.1" class="k1p"/><circle cx="539.8" cy="385.6" r="3.1" class="k1j"/><circle cx="600.1" cy="404.4" r="3.1" class="k1o"/><circle cx="655.3" cy="408.3" r="3.1" class="k1p"/><circle cx="726.3" cy="403.9" r="3.1" class="k1o"/><circle cx="806.2" cy="399.6" r="3.1" class="k1m"/><circle cx="791.6" cy="273.1" r="3.1" class="kr"/><circle cx="798.2" cy="294.9" r="3.1" class="kw"/><circle cx="784.2" cy="401.5" r="3.1" class="k1n"/><circle cx="562.6" cy="405.5" r="3.1" class="k1o"/><circle cx="622.1" cy="407.6" r="3.1" class="k1o"/><circle cx="808.2" cy="370" r="3.1" class="k1f"/><circle cx="638.1" cy="409.5" r="3.1" class="k1p"/><circle cx="749.3" cy="405.5" r="3.1" class="k1o"/><circle cx="809" cy="395.5" r="3.1" class="k1l"/><circle cx="735.5" cy="407.1" r="3.1" class="k1o"/><circle cx="575.4" cy="401.2" r="3.1" class="k1n"/><circle cx="696.6" cy="406.1" r="3.1" class="k1o"/><circle cx="803.3" cy="317.5" r="3.1" class="k12"/><circle cx="549.9" cy="327.2" r="3.1" class="k14"/><circle cx="680.6" cy="408.4" r="3.1" class="k1p"/><circle cx="554.8" cy="403.2" r="3.1" class="k1n"/><circle cx="566.4" cy="267.2" r="3.1" class="kp"/><circle cx="594.7" cy="405.5" r="3.1" class="k1o"/><circle cx="713.7" cy="406.9" r="3.1" class="k1o"/><circle cx="632.8" cy="406.7" r="3.1" class="k1o"/><circle cx="763.8" cy="404.2" r="3.1" class="k1n"/><circle cx="611.5" cy="407.2" r="3.1" class="k1o"/><circle cx="705" cy="405" r="3.1" class="k1o"/><circle cx="573.7" cy="248.4" r="3.1" class="kl"/><circle cx="545.8" cy="345.1" r="3.1" class="k18"/><circle cx="542.5" cy="364.3" r="3.1" class="k1d"/><circle cx="807" cy="340.8" r="3.1" class="k17"/><circle cx="582.6" cy="403.1" r="3.1" class="k1n"/><circle cx="616.8" cy="405.3" r="3.1" class="k1o"/><circle cx="800.5" cy="403" r="3.1" class="k1n"/><circle cx="779" cy="405.1" r="3.1" class="k1o"/><circle cx="643.4" cy="408.3" r="3.1" class="k1o"/><circle cx="722.6" cy="407.9" r="3.1" class="k1o"/><circle cx="570" cy="404.2" r="3.1" class="k1n"/><circle cx="546.7" cy="401" r="3.1" class="k1n"/><circle cx="577.3" cy="406.9" r="3.1" class="k1o"/><circle cx="566.2" cy="263.7" r="3.1" class="ko"/><circle cx="660.6" cy="407.6" r="3.1" class="k1o"/><circle cx="798.4" cy="290.4" r="3.1" class="kv"/><circle cx="673" cy="408.1" r="3.1" class="k1o"/><circle cx="791.7" cy="268.8" r="3.1" class="kp"/><circle cx="606.2" cy="406.5" r="3.1" class="k1o"/><circle cx="573.6" cy="245" r="3.1" class="kj"/><circle cx="731.6" cy="410" r="3.1" class="k1p"/><circle cx="589.4" cy="405.4" r="3.1" class="k1o"/><circle cx="808.7" cy="364.6" r="3.1" class="k1d"/><circle cx="648.7" cy="408.6" r="3.1" class="k1o"/><circle cx="809.9" cy="389.9" r="3.1" class="k1k"/><circle cx="693.7" cy="409.6" r="3.1" class="k1p"/><circle cx="538.5" cy="400" r="3.1" class="k1m"/><circle cx="701.9" cy="409.4" r="3.1" class="k1o"/><circle cx="745" cy="407.4" r="3.1" class="k1o"/><circle cx="803.5" cy="312.7" r="3.1" class="k10"/><circle cx="710.3" cy="410.4" r="3.1" class="k1p"/><circle cx="601" cy="407.1" r="3.1" class="k1o"/><circle cx="759.2" cy="406.9" r="3.1" class="k1o"/><circle cx="665.8" cy="409" r="3.1" class="k1o"/><circle cx="595.8" cy="408.8" r="3.1" class="k1o"/><circle cx="685.8" cy="408.9" r="3.1" class="k1o"/><circle cx="545.7" cy="340.3" r="3.1" class="k17"/><circle cx="678.2" cy="410.7" r="3.1" class="k1p"/><circle cx="653.9" cy="409.7" r="3.1" class="k1o"/><circle cx="540" cy="378.9" r="3.1" class="k1h"/><circle cx="541.5" cy="405.5" r="3.1" class="k1n"/><circle cx="792.2" cy="264.5" r="3.1" class="ko"/><circle cx="566.2" cy="260.3" r="3.1" class="kn"/><circle cx="807.2" cy="335.7" r="3.1" class="k16"/><circle cx="564.8" cy="405.9" r="3.1" class="k1n"/><circle cx="632.4" cy="409.7" r="3.1" class="k1o"/><circle cx="622.1" cy="408.4" r="3.1" class="k1o"/><circle cx="627.3" cy="408.5" r="3.1" class="k1o"/><circle cx="670.9" cy="412.2" r="3.1" class="k1p"/><circle cx="611.9" cy="409.6" r="3.1" class="k1o"/><circle cx="573.7" cy="241.7" r="3.1" class="ki"/><circle cx="617" cy="408.5" r="3.1" class="k1o"/><circle cx="719" cy="409.7" r="3.1" class="k1o"/><circle cx="774" cy="406" r="3.1" class="k1n"/><circle cx="557.3" cy="403.4" r="3.1" class="k1n"/><circle cx="549.5" cy="403.2" r="3.1" class="k1n"/><circle cx="642.5" cy="411.4" r="3.1" class="k1p"/><circle cx="542.7" cy="358.5" r="3.1" class="k1b"/><circle cx="754.6" cy="410.7" r="3.1" class="k1o"/><circle cx="798.3" cy="285.9" r="3.1" class="kt"/><circle cx="584.2" cy="404.8" r="3.1" class="k1n"/><circle cx="572.1" cy="406.2" r="3.1" class="k1n"/><circle cx="740.8" cy="410.3" r="3.1" class="k1o"/><circle cx="549.8" cy="318.5" r="3.1" class="k11"/><circle cx="809.4" cy="359.4" r="3.1" class="k1b"/><circle cx="637.5" cy="408.9" r="3.1" class="k1o"/><circle cx="538.1" cy="394.8" r="3.1" class="k1k"/><circle cx="659" cy="410.4" r="3.1" class="k1o"/><circle cx="606.9" cy="409.4" r="3.1" class="k1o"/><circle cx="803.5" cy="308" r="3.1" class="kz"/><circle cx="683.3" cy="413.4" r="3.1" class="k1p"/><circle cx="795.1" cy="401.8" r="3.1" class="k1m"/><circle cx="698.9" cy="411.7" r="3.1" class="k1p"/><circle cx="566.2" cy="256.8" r="3.1" class="km"/><circle cx="590.7" cy="407.6" r="3.1" class="k1o"/><circle cx="579.1" cy="407.3" r="3.1" class="k1n"/><circle cx="810" cy="383.8" r="3.1" class="k1h"/><circle cx="545.6" cy="335.6" r="3.1" class="k16"/><circle cx="601.9" cy="410" r="3.1" class="k1o"/><circle cx="807.6" cy="330.8" r="3.1" class="k14"/><circle cx="647.5" cy="410.7" r="3.1" class="k1o"/><circle cx="799" cy="281.6" r="3.1" class="ks"/><circle cx="559.8" cy="275.5" r="3.1" class="kq"/><circle cx="727.8" cy="409.7" r="3.1" class="k1o"/><circle cx="707" cy="411.3" r="3.1" class="k1o"/><circle cx="691" cy="410.4" r="3.1" class="k1o"/><circle cx="675.9" cy="413.1" r="3.1" class="k1p"/><circle cx="789.6" cy="405.8" r="3.1" class="k1n"/><circle cx="597" cy="411.2" r="3.1" class="k1o"/><circle cx="631.9" cy="413" r="3.1" class="k1p"/><circle cx="552.2" cy="406.3" r="3.1" class="k1n"/><circle cx="804.4" cy="303.5" r="3.1" class="kx"/><circle cx="636.8" cy="413.9" r="3.1" class="k1p"/><circle cx="540.1" cy="372.8" r="3.1" class="k1f"/><circle cx="559.7" cy="406.3" r="3.1" class="k1n"/><circle cx="652.5" cy="411.3" r="3.1" class="k1o"/><circle cx="617.3" cy="411.8" r="3.1" class="k1o"/><circle cx="542.7" cy="353.3" r="3.1" class="k1a"/><circle cx="769.2" cy="407" r="3.1" class="k1n"/><circle cx="715.4" cy="411.3" r="3.1" class="k1o"/><circle cx="664" cy="409.8" r="3.1" class="k1o"/><circle cx="627" cy="411.2" r="3.1" class="k1o"/><circle cx="724" cy="414.3" r="3.1" class="k1p"/><circle cx="567.1" cy="406.9" r="3.1" class="k1n"/><circle cx="544.4" cy="405.6" r="3.1" class="k1n"/><circle cx="622.1" cy="410.7" r="3.1" class="k1o"/><circle cx="566.3" cy="253.5" r="3.1" class="kl"/><circle cx="559.7" cy="272" r="3.1" class="kp"/><circle cx="657.4" cy="413.6" r="3.1" class="k1p"/><circle cx="736.8" cy="411.4" r="3.1" class="k1o"/><circle cx="809.2" cy="353.9" r="3.1" class="k1a"/><circle cx="668.9" cy="413.5" r="3.1" class="k1p"/><circle cx="808.4" cy="326.1" r="3.1" class="k13"/><circle cx="784.3" cy="409.5" r="3.1" class="k1o"/><circle cx="607.6" cy="412.8" r="3.1" class="k1o"/><circle cx="799.5" cy="277.3" r="3.1" class="kq"/><circle cx="585.7" cy="406.8" r="3.1" class="k1n"/><circle cx="750.2" cy="410.2" r="3.1" class="k1o"/><circle cx="646.4" cy="415.1" r="3.1" class="k1p"/><circle cx="580.9" cy="410.7" r="3.1" class="k1o"/><circle cx="641.6" cy="412.7" r="3.1" class="k1o"/><circle cx="612.4" cy="410.5" r="3.1" class="k1o"/><circle cx="545.7" cy="331" r="3.1" class="k14"/><circle cx="574.1" cy="407.2" r="3.1" class="k1n"/><circle cx="810.4" cy="403.7" r="3.1" class="k1m"/><circle cx="695.9" cy="413.4" r="3.1" class="k1o"/><circle cx="810.4" cy="378.2" r="3.1" class="k1g"/></g><g class="a5"><circle cx="764.3" cy="410.6" r="3.1" class="k1o"/><circle cx="538.2" cy="388" r="3.1" class="k1i"/><circle cx="566.1" cy="250.2" r="3.1" class="kk"/><circle cx="562.2" cy="410.4" r="3.1" class="k1o"/><circle cx="688.2" cy="412.9" r="3.1" class="k1o"/><circle cx="536.7" cy="404.9" r="3.1" class="k1m"/><circle cx="559.6" cy="268.6" r="3.1" class="ko"/><circle cx="805.8" cy="407.2" r="3.1" class="k1n"/><circle cx="804.4" cy="299" r="3.1" class="kw"/><circle cx="703.8" cy="412.6" r="3.1" class="k1o"/><circle cx="680.8" cy="413.4" r="3.1" class="k1o"/><circle cx="662.1" cy="414.1" r="3.1" class="k1p"/><circle cx="732.7" cy="414.6" r="3.1" class="k1p"/><circle cx="626.8" cy="415.5" r="3.1" class="k1p"/><circle cx="592.1" cy="408.4" r="3.1" class="k1n"/><circle cx="569.3" cy="410.2" r="3.1" class="k1n"/><circle cx="673.6" cy="414.8" r="3.1" class="k1p"/><circle cx="554.9" cy="408" r="3.1" class="k1n"/><circle cx="651.1" cy="414.7" r="3.1" class="k1p"/><circle cx="631.5" cy="415.6" r="3.1" class="k1p"/><circle cx="712" cy="413.1" r="3.1" class="k1o"/><circle cx="539.6" cy="409.3" r="3.1" class="k1n"/><circle cx="576.1" cy="412.1" r="3.1" class="k1o"/><circle cx="602.8" cy="410.6" r="3.1" class="k1o"/><circle cx="587.3" cy="411.2" r="3.1" class="k1o"/><circle cx="542.8" cy="348.1" r="3.1" class="k18"/><circle cx="809.6" cy="348.8" r="3.1" class="k18"/><circle cx="799.4" cy="273" r="3.1" class="kp"/><circle cx="540.3" cy="366.9" r="3.1" class="k1c"/><circle cx="808.4" cy="321.3" r="3.1" class="k11"/><circle cx="559.4" cy="265.2" r="3.1" class="kn"/><circle cx="617.5" cy="414.1" r="3.1" class="k1o"/><circle cx="598.1" cy="412" r="3.1" class="k1o"/><circle cx="566.1" cy="246.9" r="3.1" class="kj"/><circle cx="636.1" cy="415.3" r="3.1" class="k1p"/><circle cx="622.1" cy="413.4" r="3.1" class="k1o"/><circle cx="655.8" cy="416.2" r="3.1" class="k1p"/><circle cx="640.7" cy="416.4" r="3.1" class="k1p"/><circle cx="547.3" cy="406.2" r="3.1" class="k1m"/><circle cx="666.8" cy="415.6" r="3.1" class="k1p"/><circle cx="745.9" cy="411.1" r="3.1" class="k1n"/><circle cx="800.2" cy="409.4" r="3.1" class="k1n"/><circle cx="811.3" cy="398" r="3.1" class="k1k"/><circle cx="810.8" cy="372.6" r="3.1" class="k1e"/><circle cx="759.7" cy="411.8" r="3.1" class="k1o"/><circle cx="612.8" cy="413.5" r="3.1" class="k1o"/><circle cx="779.2" cy="408.8" r="3.1" class="k1n"/><circle cx="692.9" cy="415.2" r="3.1" class="k1o"/><circle cx="685.5" cy="415.3" r="3.1" class="k1o"/><circle cx="804.4" cy="294.5" r="3.1" class="ku"/><circle cx="720.3" cy="412.8" r="3.1" class="k1o"/><circle cx="582.7" cy="412.2" r="3.1" class="k1o"/><circle cx="593.4" cy="412.5" r="3.1" class="k1o"/><circle cx="660.3" cy="417.5" r="3.1" class="k1p"/><circle cx="809.4" cy="316.8" r="3.1" class="k10"/><circle cx="566.1" cy="243.7" r="3.1" class="ki"/><circle cx="678.3" cy="415.9" r="3.1" class="k1o"/><circle cx="608.2" cy="413.3" r="3.1" class="k1o"/><circle cx="559.4" cy="261.8" r="3.1" class="km"/><circle cx="799.7" cy="268.8" r="3.1" class="ko"/><circle cx="700.6" cy="414.1" r="3.1" class="k1o"/><circle cx="741.6" cy="414.9" r="3.1" class="k1o"/><circle cx="542.7" cy="343.4" r="3.1" class="k16"/><circle cx="603.7" cy="414.5" r="3.1" class="k1o"/><circle cx="645.3" cy="415.3" r="3.1" class="k1o"/><circle cx="599.2" cy="416.7" r="3.1" class="k1p"/><circle cx="564.6" cy="410.7" r="3.1" class="k1n"/><circle cx="810" cy="343.8" r="3.1" class="k16"/><circle cx="708.5" cy="414.9" r="3.1" class="k1o"/><circle cx="728.8" cy="414.9" r="3.1" class="k1o"/><circle cx="538.6" cy="381.2" r="3.1" class="k1g"/><circle cx="671.4" cy="416.8" r="3.1" class="k1p"/><circle cx="557.5" cy="409.5" r="3.1" class="k1n"/><circle cx="536.8" cy="397.8" r="3.1" class="k1k"/><circle cx="755" cy="414.5" r="3.1" class="k1o"/><circle cx="550.1" cy="409.2" r="3.1" class="k1n"/><circle cx="774.1" cy="411.3" r="3.1" class="k1n"/><circle cx="631" cy="417.7" r="3.1" class="k1p"/><circle cx="697.4" cy="419.2" r="3.1" class="k1p"/><circle cx="794.6" cy="410.5" r="3.1" class="k1n"/><circle cx="716.6" cy="416.1" r="3.1" class="k1o"/><circle cx="649.8" cy="415.9" r="3.1" class="k1o"/><circle cx="559.3" cy="258.5" r="3.1" class="kl"/><circle cx="540.5" cy="361.2" r="3.1" class="k1a"/><circle cx="546" cy="322.1" r="3.1" class="k11"/><circle cx="626.6" cy="416.6" r="3.1" class="k1o"/><circle cx="542.6" cy="409.3" r="3.1" class="k1n"/><circle cx="588.9" cy="412.4" r="3.1" class="k1n"/><circle cx="571.5" cy="410.1" r="3.1" class="k1n"/><circle cx="811.8" cy="392.2" r="3.1" class="k1i"/><circle cx="804.5" cy="290.1" r="3.1" class="kt"/><circle cx="811.1" cy="367.2" r="3.1" class="k1c"/><circle cx="560.1" cy="414.7" r="3.1" class="k1o"/><circle cx="682.8" cy="418.2" r="3.1" class="k1p"/><circle cx="635.4" cy="417.4" r="3.1" class="k1p"/><circle cx="654.2" cy="417.8" r="3.1" class="k1p"/><circle cx="584.4" cy="415.4" r="3.1" class="k1o"/><circle cx="639.8" cy="418.5" r="3.1" class="k1p"/><circle cx="664.8" cy="416.9" r="3.1" class="k1o"/><circle cx="613.3" cy="416.1" r="3.1" class="k1o"/><circle cx="622.1" cy="414.8" r="3.1" class="k1o"/><circle cx="705.1" cy="418.2" r="3.1" class="k1p"/><circle cx="675.8" cy="418.7" r="3.1" class="k1p"/><circle cx="594.8" cy="415.5" r="3.1" class="k1o"/><circle cx="809.2" cy="312.1" r="3.1" class="ky"/><circle cx="608.9" cy="416.9" r="3.1" class="k1o"/><circle cx="617.7" cy="414.6" r="3.1" class="k1o"/><circle cx="769.1" cy="414" r="3.1" class="k1o"/><circle cx="690" cy="416" r="3.1" class="k1o"/><circle cx="737.4" cy="416.2" r="3.1" class="k1o"/><circle cx="578.1" cy="410.6" r="3.1" class="k1n"/><circle cx="542.7" cy="338.7" r="3.1" class="k15"/><circle cx="559.1" cy="255.2" r="3.1" class="kk"/><circle cx="724.9" cy="416.7" r="3.1" class="k1o"/><circle cx="810.2" cy="338.8" r="3.1" class="k15"/><circle cx="789.2" cy="412.7" r="3.1" class="k1n"/><circle cx="553" cy="412.1" r="3.1" class="k1n"/><circle cx="545.7" cy="412.8" r="3.1" class="k1n"/><circle cx="567" cy="412.7" r="3.1" class="k1n"/><circle cx="604.6" cy="417.1" r="3.1" class="k1o"/><circle cx="573.7" cy="414.4" r="3.1" class="k1o"/><circle cx="750.5" cy="415.5" r="3.1" class="k1o"/><circle cx="805.1" cy="285.8" r="3.1" class="kr"/><circle cx="590.4" cy="416.8" r="3.1" class="k1o"/><circle cx="658.6" cy="418.1" r="3.1" class="k1o"/><circle cx="644.2" cy="417.4" r="3.1" class="k1o"/><circle cx="669.2" cy="418.8" r="3.1" class="k1p"/><circle cx="764.2" cy="417.6" r="3.1" class="k1o"/><circle cx="713" cy="418" r="3.1" class="k1o"/><circle cx="546" cy="317.9" r="3.1" class="kz"/><circle cx="538.7" cy="375.1" r="3.1" class="k1e"/><circle cx="811.7" cy="362.1" r="3.1" class="k1a"/><circle cx="701.8" cy="421.6" r="3.1" class="k1p"/><circle cx="580.1" cy="415.3" r="3.1" class="k1o"/><circle cx="694.3" cy="420.1" r="3.1" class="k1p"/><circle cx="812.4" cy="386.6" r="3.1" class="k1g"/><circle cx="648.4" cy="418.5" r="3.1" class="k1o"/><circle cx="617.9" cy="419.7" r="3.1" class="k1p"/><circle cx="540.6" cy="355.8" r="3.1" class="k19"/><circle cx="809.6" cy="307.6" r="3.1" class="kx"/><circle cx="559.2" cy="252.1" r="3.1" class="kj"/><circle cx="600.3" cy="416.6" r="3.1" class="k1o"/><circle cx="733.2" cy="418" r="3.1" class="k1o"/><circle cx="562.7" cy="415.7" r="3.1" class="k1o"/><circle cx="652.7" cy="420.3" r="3.1" class="k1p"/><circle cx="622.1" cy="418.3" r="3.1" class="k1o"/><circle cx="810.8" cy="334.1" r="3.1" class="k13"/><circle cx="538.2" cy="411.2" r="3.1" class="k1m"/><circle cx="680.1" cy="419.4" r="3.1" class="k1o"/><circle cx="783.8" cy="414.3" r="3.1" class="k1n"/><circle cx="537.2" cy="390.4" r="3.1" class="k1h"/><circle cx="810.7" cy="411.1" r="3.1" class="k1m"/><circle cx="673.4" cy="420.7" r="3.1" class="k1p"/><circle cx="687.1" cy="418.1" r="3.1" class="k1o"/><circle cx="630.6" cy="418.2" r="3.1" class="k1o"/><circle cx="746.1" cy="417.6" r="3.1" class="k1o"/><circle cx="805.5" cy="281.6" r="3.1" class="kq"/><circle cx="638.9" cy="420.5" r="3.1" class="k1p"/><circle cx="569.4" cy="415.9" r="3.1" class="k1o"/><circle cx="721" cy="418.2" r="3.1" class="k1o"/><circle cx="662.8" cy="418.5" r="3.1" class="k1o"/><circle cx="536.5" cy="406.9" r="3.1" class="k1l"/><circle cx="542.9" cy="334" r="3.1" class="k13"/><circle cx="596.1" cy="417.1" r="3.1" class="k1o"/><circle cx="626.4" cy="416.6" r="3.1" class="k1o"/><circle cx="555.8" cy="413.5" r="3.1" class="k1n"/><circle cx="634.8" cy="417.8" r="3.1" class="k1o"/><circle cx="586.1" cy="415.2" r="3.1" class="k1n"/><circle cx="559.2" cy="248.9" r="3.1" class="ki"/><circle cx="553.8" cy="270" r="3.1" class="kn"/><circle cx="609.6" cy="418.1" r="3.1" class="k1o"/><circle cx="575.8" cy="416.2" r="3.1" class="k1n"/><circle cx="656.8" cy="420.9" r="3.1" class="k1p"/><circle cx="709.4" cy="419.3" r="3.1" class="k1o"/><circle cx="759.5" cy="417.7" r="3.1" class="k1o"/><circle cx="812.1" cy="357" r="3.1" class="k19"/><circle cx="810.1" cy="303.2" r="3.1" class="kv"/><circle cx="548.6" cy="413" r="3.1" class="k1n"/><circle cx="667" cy="420.9" r="3.1" class="k1p"/><circle cx="684.3" cy="422.7" r="3.1" class="k1p"/><circle cx="591.9" cy="418.7" r="3.1" class="k1o"/><circle cx="804.9" cy="413.2" r="3.1" class="k1n"/><circle cx="541.4" cy="414.3" r="3.1" class="k1n"/><circle cx="729.1" cy="420.1" r="3.1" class="k1o"/><circle cx="613.7" cy="415.5" r="3.1" class="k1n"/><circle cx="778.6" cy="415.9" r="3.1" class="k1n"/><circle cx="812.1" cy="406.1" r="3.1" class="k1l"/><circle cx="540.6" cy="350.9" r="3.1" class="k17"/><circle cx="553.5" cy="266.7" r="3.1" class="km"/><circle cx="605.4" cy="418.1" r="3.1" class="k1o"/><circle cx="811.3" cy="329.4" r="3.1" class="k12"/><circle cx="677.5" cy="422.5" r="3.1" class="k1p"/><circle cx="597.4" cy="422.4" r="3.1" class="k1p"/><circle cx="643.1" cy="418.6" r="3.1" class="k1o"/><circle cx="812.4" cy="380.8" r="3.1" class="k1e"/><circle cx="539" cy="369.1" r="3.1" class="k1b"/><circle cx="805.6" cy="277.3" r="3.1" class="kp"/><circle cx="660.9" cy="422.3" r="3.1" class="k1p"/><circle cx="559.1" cy="245.8" r="3.1" class="kh"/><circle cx="717.2" cy="420.1" r="3.1" class="k1o"/><circle cx="626.1" cy="421.6" r="3.1" class="k1p"/><circle cx="705.9" cy="423.3" r="3.1" class="k1p"/><circle cx="582" cy="416.4" r="3.1" class="k1n"/><circle cx="647.1" cy="420.2" r="3.1" class="k1o"/><circle cx="565.2" cy="417.2" r="3.1" class="k1n"/><circle cx="601.4" cy="418.7" r="3.1" class="k1o"/><circle cx="691.3" cy="420.1" r="3.1" class="k1o"/><circle cx="741.7" cy="418.3" r="3.1" class="k1o"/><circle cx="558.5" cy="416.5" r="3.1" class="k1n"/><circle cx="618.1" cy="421" r="3.1" class="k1o"/><circle cx="571.7" cy="418" r="3.1" class="k1o"/><circle cx="799.1" cy="415.4" r="3.1" class="k1n"/><circle cx="725.1" cy="423.4" r="3.1" class="k1p"/><circle cx="622.1" cy="420.3" r="3.1" class="k1o"/><circle cx="614.2" cy="421.2" r="3.1" class="k1o"/><circle cx="671" cy="422" r="3.1" class="k1p"/><circle cx="698.5" cy="419.3" r="3.1" class="k1o"/><circle cx="810.3" cy="298.8" r="3.1" class="ku"/><circle cx="634.1" cy="421.1" r="3.1" class="k1o"/><circle cx="537.4" cy="383.8" r="3.1" class="k1f"/><circle cx="544.5" cy="416.7" r="3.1" class="k1n"/><circle cx="773.5" cy="417.4" r="3.1" class="k1n"/><circle cx="754.8" cy="418.3" r="3.1" class="k1o"/><circle cx="587.9" cy="417.5" r="3.1" class="k1n"/><circle cx="630.1" cy="419.1" r="3.1" class="k1o"/><circle cx="688.2" cy="424.3" r="3.1" class="k1p"/><circle cx="651.1" cy="420" r="3.1" class="k1o"/><circle cx="606.3" cy="422.3" r="3.1" class="k1o"/><circle cx="641.9" cy="423.2" r="3.1" class="k1p"/><circle cx="551.6" cy="414.4" r="3.1" class="k1n"/><circle cx="577.9" cy="417.9" r="3.1" class="k1n"/><circle cx="553.7" cy="263.5" r="3.1" class="kl"/><circle cx="610.2" cy="420.4" r="3.1" class="k1o"/><circle cx="811.9" cy="351.7" r="3.1" class="k17"/><circle cx="638" cy="420.9" r="3.1" class="k1o"/><circle cx="655.1" cy="422.7" r="3.1" class="k1p"/><circle cx="536.6" cy="399.5" r="3.1" class="k1j"/><circle cx="695.3" cy="424.2" r="3.1" class="k1p"/><circle cx="811.3" cy="324.7" r="3.1" class="k10"/><circle cx="805.6" cy="273.1" r="3.1" class="kn"/><circle cx="583.9" cy="420.2" r="3.1" class="k1o"/><circle cx="793.5" cy="417.6" r="3.1" class="k1n"/><circle cx="593.4" cy="420.5" r="3.1" class="k1o"/><circle cx="664.8" cy="422.2" r="3.1" class="k1o"/><circle cx="768.4" cy="421" r="3.1" class="k1o"/><circle cx="812.9" cy="375.4" r="3.1" class="k1d"/><circle cx="812.5" cy="400.2" r="3.1" class="k1j"/><circle cx="750.2" cy="421.9" r="3.1" class="k1o"/><circle cx="658.9" cy="425.2" r="3.1" class="k1p"/><circle cx="540.9" cy="345.8" r="3.1" class="k15"/><circle cx="681.5" cy="422.8" r="3.1" class="k1o"/><circle cx="713.5" cy="421.4" r="3.1" class="k1o"/><circle cx="737.4" cy="419.4" r="3.1" class="k1o"/><circle cx="539" cy="363.6" r="3.1" class="k1a"/><circle cx="645.8" cy="422.9" r="3.1" class="k1o"/><circle cx="674.9" cy="423.2" r="3.1" class="k1p"/><circle cx="543.1" cy="325.2" r="3.1" class="k10"/><circle cx="553.5" cy="260.3" r="3.1" class="kk"/><circle cx="554.5" cy="418.2" r="3.1" class="k1n"/><circle cx="810.5" cy="294.4" r="3.1" class="ks"/><circle cx="537.3" cy="415.3" r="3.1" class="k1m"/><circle cx="625.9" cy="423.7" r="3.1" class="k1p"/><circle cx="602.4" cy="421" r="3.1" class="k1o"/><circle cx="721.2" cy="424" r="3.1" class="k1p"/><circle cx="629.7" cy="424" r="3.1" class="k1p"/><circle cx="668.7" cy="424.3" r="3.1" class="k1p"/><circle cx="633.4" cy="424.6" r="3.1" class="k1p"/><circle cx="574" cy="419.2" r="3.1" class="k1n"/><circle cx="702.5" cy="422.6" r="3.1" class="k1o"/><circle cx="567.7" cy="417.3" r="3.1" class="k1n"/><circle cx="812.7" cy="347" r="3.1" class="k16"/><circle cx="618.4" cy="423" r="3.1" class="k1o"/><circle cx="614.6" cy="423.6" r="3.1" class="k1o"/><circle cx="589.6" cy="420.5" r="3.1" class="k1o"/><circle cx="598.6" cy="422.1" r="3.1" class="k1o"/><circle cx="547.7" cy="417.6" r="3.1" class="k1n"/><circle cx="811.8" cy="320.2" r="3.1" class="kz"/><circle cx="685.3" cy="426.2" r="3.1" class="k1p"/><circle cx="733.2" cy="422.1" r="3.1" class="k1o"/><circle cx="561.2" cy="415.7" r="3.1" class="k1m"/><circle cx="709.8" cy="424.1" r="3.1" class="k1o"/><circle cx="610.9" cy="423.7" r="3.1" class="k1o"/><circle cx="649.6" cy="422.8" r="3.1" class="k1o"/><circle cx="653.3" cy="425.7" r="3.1" class="k1p"/><circle cx="763.6" cy="421.6" r="3.1" class="k1o"/><circle cx="553.5" cy="257.2" r="3.1" class="kj"/><circle cx="745.7" cy="423" r="3.1" class="k1o"/><circle cx="662.7" cy="425" r="3.1" class="k1p"/><circle cx="540.8" cy="341.3" r="3.1" class="k14"/><circle cx="537.6" cy="377.5" r="3.1" class="k1d"/><circle cx="564" cy="421.5" r="3.1" class="k1o"/><circle cx="813.4" cy="394.7" r="3.1" class="k1h"/><circle cx="672.4" cy="426.7" r="3.1" class="k1p"/><circle cx="637.2" cy="423.4" r="3.1" class="k1o"/><circle cx="622.1" cy="420.5" r="3.1" class="k1n"/><circle cx="594.9" cy="423" r="3.1" class="k1o"/><circle cx="813.2" cy="370.1" r="3.1" class="k1b"/><circle cx="580" cy="419" r="3.1" class="k1n"/><circle cx="640.9" cy="425" r="3.1" class="k1p"/><circle cx="678.7" cy="425.1" r="3.1" class="k1p"/><circle cx="810.7" cy="290.1" r="3.1" class="kr"/><circle cx="557.4" cy="420.4" r="3.1" class="k1n"/><circle cx="788.2" cy="416.2" r="3.1" class="k1m"/><circle cx="607.2" cy="423" r="3.1" class="k1o"/><circle cx="644.5" cy="425.9" r="3.1" class="k1p"/><circle cx="699" cy="425" r="3.1" class="k1p"/><circle cx="692.1" cy="423.5" r="3.1" class="k1o"/><circle cx="782.7" cy="420.3" r="3.1" class="k1n"/><circle cx="585.8" cy="420.7" r="3.1" class="k1n"/><circle cx="536.8" cy="392.5" r="3.1" class="k1g"/><circle cx="553.3" cy="254.1" r="3.1" class="ki"/><circle cx="812.4" cy="315.8" r="3.1" class="kx"/><circle cx="576.3" cy="421.8" r="3.1" class="k1o"/><circle cx="717.3" cy="424.6" r="3.1" class="k1o"/><circle cx="603.5" cy="423.9" r="3.1" class="k1o"/><circle cx="539.3" cy="358.1" r="3.1" class="k18"/><circle cx="758.7" cy="423.4" r="3.1" class="k1o"/><circle cx="812.9" cy="342.1" r="3.1" class="k14"/><circle cx="729" cy="423.4" r="3.1" class="k1o"/><circle cx="809" cy="418.7" r="3.1" class="k1n"/><circle cx="591.3" cy="423.4" r="3.1" class="k1o"/><circle cx="657" cy="425.2" r="3.1" class="k1o"/><circle cx="550.7" cy="419.2" r="3.1" class="k1n"/><circle cx="648.1" cy="426.5" r="3.1" class="k1p"/><circle cx="666.3" cy="425.5" r="3.1" class="k1o"/><circle cx="706.2" cy="425.3" r="3.1" class="k1o"/><circle cx="570.2" cy="418.5" r="3.1" class="k1n"/><circle cx="537.1" cy="408.2" r="3.1" class="k1k"/><circle cx="540.6" cy="414.4" r="3.1" class="k1m"/><circle cx="622.1" cy="425.1" r="3.1" class="k1o"/><circle cx="741.2" cy="423.4" r="3.1" class="k1o"/><circle cx="582.1" cy="422.3" r="3.1" class="k1o"/><circle cx="682.3" cy="426.9" r="3.1" class="k1p"/><circle cx="669.8" cy="429.2" r="3.1" class="k1p"/><circle cx="553.2" cy="251" r="3.1" class="kh"/><circle cx="811" cy="285.9" r="3.1" class="kq"/><circle cx="629.3" cy="424.9" r="3.1" class="k1o"/><circle cx="813.8" cy="365.1" r="3.1" class="k19"/><circle cx="541" cy="336.6" r="3.1" class="k12"/><circle cx="660.5" cy="426.9" r="3.1" class="k1p"/><circle cx="813.9" cy="389.1" r="3.1" class="k1f"/><circle cx="777.5" cy="421.5" r="3.1" class="k1n"/><circle cx="803.2" cy="420.8" r="3.1" class="k1n"/><circle cx="611.5" cy="425.7" r="3.1" class="k1o"/><circle cx="695.7" cy="427.3" r="3.1" class="k1p"/><circle cx="632.8" cy="425.1" r="3.1" class="k1o"/><circle cx="625.7" cy="423.7" r="3.1" class="k1o"/><circle cx="812" cy="413.9" r="3.1" class="k1l"/><circle cx="572.7" cy="423.6" r="3.1" class="k1o"/><circle cx="599.9" cy="422.5" r="3.1" class="k1n"/><circle cx="618.6" cy="423.3" r="3.1" class="k1o"/><circle cx="543.9" cy="418.2" r="3.1" class="k1m"/><circle cx="636.3" cy="425.6" r="3.1" class="k1o"/><circle cx="596.4" cy="424.8" r="3.1" class="k1o"/><circle cx="566.6" cy="421.7" r="3.1" class="k1n"/><circle cx="676" cy="425.8" r="3.1" class="k1o"/><circle cx="615" cy="423.5" r="3.1" class="k1o"/><circle cx="688.9" cy="425.1" r="3.1" class="k1o"/><circle cx="639.8" cy="426.6" r="3.1" class="k1o"/><circle cx="538" cy="371.4" r="3.1" class="k1b"/><circle cx="812.4" cy="311.3" r="3.1" class="kw"/><circle cx="587.7" cy="423.1" r="3.1" class="k1o"/><circle cx="651.6" cy="425.7" r="3.1" class="k1o"/><circle cx="553.1" cy="248" r="3.1" class="kg"/><circle cx="560.3" cy="420.6" r="3.1" class="k1n"/><circle cx="539.2" cy="353.2" r="3.1" class="k16"/><circle cx="713.5" cy="425.2" r="3.1" class="k1o"/><circle cx="553.8" cy="421.1" r="3.1" class="k1n"/><circle cx="813" cy="337.3" r="3.1" class="k12"/><circle cx="578.6" cy="423.4" r="3.1" class="k1o"/><circle cx="754" cy="423.1" r="3.1" class="k1n"/><circle cx="604.6" cy="426.3" r="3.1" class="k1o"/><circle cx="724.9" cy="423.7" r="3.1" class="k1o"/><circle cx="749.3" cy="427.5" r="3.1" class="k1p"/><circle cx="736.9" cy="424.6" r="3.1" class="k1o"/><circle cx="702.6" cy="426.5" r="3.1" class="k1o"/><circle cx="664" cy="427.8" r="3.1" class="k1p"/><circle cx="811.3" cy="281.8" r="3.1" class="ko"/><circle cx="608" cy="423.7" r="3.1" class="k1o"/><circle cx="720.8" cy="428.3" r="3.1" class="k1p"/><circle cx="643.2" cy="426.5" r="3.1" class="k1o"/><circle cx="537" cy="386" r="3.1" class="k1e"/><circle cx="540.9" cy="332.5" r="3.1" class="k11"/><circle cx="592.9" cy="424.9" r="3.1" class="k1o"/><circle cx="655.1" cy="426.8" r="3.1" class="k1o"/><circle cx="601.2" cy="427" r="3.1" class="k1o"/><circle cx="584.2" cy="424.5" r="3.1" class="k1o"/><circle cx="772.4" cy="422" r="3.1" class="k1n"/><circle cx="709.7" cy="428.5" r="3.1" class="k1p"/><circle cx="547.1" cy="420.7" r="3.1" class="k1n"/><circle cx="646.6" cy="428.1" r="3.1" class="k1p"/><circle cx="814" cy="360" r="3.1" class="k18"/></g><g class="a6"><circle cx="618.8" cy="427.6" r="3.1" class="k1o"/><circle cx="679.4" cy="427.9" r="3.1" class="k1o"/><circle cx="549.1" cy="268.3" r="3.1" class="kl"/><circle cx="797.5" cy="420.2" r="3.1" class="k1n"/><circle cx="673.2" cy="428.5" r="3.1" class="k1p"/><circle cx="569.3" cy="424.1" r="3.1" class="k1n"/><circle cx="575.2" cy="425.4" r="3.1" class="k1o"/><circle cx="628.8" cy="427.3" r="3.1" class="k1o"/><circle cx="589.6" cy="426.7" r="3.1" class="k1o"/><circle cx="814.1" cy="383.6" r="3.1" class="k1d"/><circle cx="699.1" cy="429.8" r="3.1" class="k1p"/><circle cx="685.8" cy="427" r="3.1" class="k1o"/><circle cx="813.9" cy="332.9" r="3.1" class="k11"/><circle cx="812.6" cy="306.9" r="3.1" class="ku"/><circle cx="812.5" cy="408" r="3.1" class="k1j"/><circle cx="676.5" cy="433.4" r="3.1" class="k1q"/><circle cx="732.6" cy="426.5" r="3.1" class="k1o"/><circle cx="658.4" cy="428.2" r="3.1" class="k1o"/><circle cx="615.5" cy="427" r="3.1" class="k1o"/><circle cx="649.9" cy="429.1" r="3.1" class="k1p"/><circle cx="632.2" cy="427.3" r="3.1" class="k1o"/><circle cx="537.9" cy="417.4" r="3.1" class="k1m"/><circle cx="744.7" cy="428.7" r="3.1" class="k1p"/><circle cx="537.3" cy="400.6" r="3.1" class="k1h"/><circle cx="622.1" cy="425.3" r="3.1" class="k1o"/><circle cx="556.8" cy="422.6" r="3.1" class="k1n"/><circle cx="540.4" cy="420.5" r="3.1" class="k1m"/><circle cx="563.1" cy="421.8" r="3.1" class="k1n"/><circle cx="538" cy="366" r="3.1" class="k19"/><circle cx="667.3" cy="428.4" r="3.1" class="k1o"/><circle cx="539.3" cy="348.4" r="3.1" class="k15"/><circle cx="635.5" cy="427.3" r="3.1" class="k1o"/><circle cx="597.9" cy="426.2" r="3.1" class="k1o"/><circle cx="550.4" cy="423.4" r="3.1" class="k1n"/><circle cx="692.4" cy="426.1" r="3.1" class="k1o"/><circle cx="811.3" cy="277.6" r="3.1" class="kn"/><circle cx="767.3" cy="423.2" r="3.1" class="k1n"/><circle cx="625.5" cy="424.5" r="3.1" class="k1n"/><circle cx="586.3" cy="428" r="3.1" class="k1o"/><circle cx="612.1" cy="426.1" r="3.1" class="k1o"/><circle cx="549.1" cy="265.2" r="3.1" class="kk"/><circle cx="762.3" cy="426.8" r="3.1" class="k1o"/><circle cx="791.9" cy="421.1" r="3.1" class="k1m"/><circle cx="608.9" cy="426.5" r="3.1" class="k1o"/><circle cx="814.7" cy="355.2" r="3.1" class="k16"/><circle cx="638.7" cy="427.4" r="3.1" class="k1o"/><circle cx="594.6" cy="427.5" r="3.1" class="k1o"/><circle cx="728.3" cy="428.3" r="3.1" class="k1o"/><circle cx="682.7" cy="429.8" r="3.1" class="k1p"/><circle cx="653.2" cy="428.7" r="3.1" class="k1o"/><circle cx="716.9" cy="427.5" r="3.1" class="k1o"/><circle cx="642" cy="428.5" r="3.1" class="k1o"/><circle cx="661.7" cy="428.3" r="3.1" class="k1o"/><circle cx="580.8" cy="422.9" r="3.1" class="k1n"/><circle cx="812.6" cy="302.6" r="3.1" class="kt"/><circle cx="543.8" cy="423" r="3.1" class="k1n"/><circle cx="706" cy="427.9" r="3.1" class="k1o"/><circle cx="571.9" cy="425.6" r="3.1" class="k1n"/><circle cx="622.1" cy="429.9" r="3.1" class="k1o"/><circle cx="645.1" cy="429.8" r="3.1" class="k1o"/><circle cx="670.6" cy="429.9" r="3.1" class="k1o"/><circle cx="565.9" cy="424.7" r="3.1" class="k1n"/><circle cx="619" cy="430" r="3.1" class="k1o"/><circle cx="605.6" cy="426.2" r="3.1" class="k1o"/><circle cx="786.4" cy="423.2" r="3.1" class="k1n"/><circle cx="813.7" cy="328.2" r="3.1" class="kz"/><circle cx="625.3" cy="429.6" r="3.1" class="k1o"/><circle cx="814.3" cy="378.1" r="3.1" class="k1c"/><circle cx="648.3" cy="431.9" r="3.1" class="k1p"/><circle cx="689.1" cy="428.6" r="3.1" class="k1o"/><circle cx="656.4" cy="430.4" r="3.1" class="k1p"/><circle cx="537.5" cy="379.3" r="3.1" class="k1c"/><circle cx="628.4" cy="429.4" r="3.1" class="k1o"/><circle cx="812.9" cy="402.2" r="3.1" class="k1h"/><circle cx="559.8" cy="424" r="3.1" class="k1n"/><circle cx="612.8" cy="430.5" r="3.1" class="k1p"/><circle cx="602.4" cy="427.3" r="3.1" class="k1o"/><circle cx="615.9" cy="429.5" r="3.1" class="k1o"/><circle cx="631.5" cy="429.9" r="3.1" class="k1o"/><circle cx="757.4" cy="427.9" r="3.1" class="k1o"/><circle cx="583.1" cy="428" r="3.1" class="k1o"/><circle cx="664.9" cy="430.6" r="3.1" class="k1p"/><circle cx="549.3" cy="262.2" r="3.1" class="kj"/><circle cx="539.4" cy="343.7" r="3.1" class="k13"/><circle cx="591.4" cy="427.1" r="3.1" class="k1o"/><circle cx="702.3" cy="431.1" r="3.1" class="k1p"/><circle cx="713" cy="429.3" r="3.1" class="k1o"/><circle cx="577.6" cy="424.6" r="3.1" class="k1n"/><circle cx="740.3" cy="426.8" r="3.1" class="k1n"/><circle cx="695.6" cy="428.1" r="3.1" class="k1o"/><circle cx="637.7" cy="431.2" r="3.1" class="k1p"/><circle cx="781" cy="425.2" r="3.1" class="k1n"/><circle cx="815.1" cy="350.4" r="3.1" class="k15"/><circle cx="553.5" cy="423.3" r="3.1" class="k1n"/><circle cx="537.3" cy="394" r="3.1" class="k1f"/><circle cx="538.3" cy="360.5" r="3.1" class="k17"/><circle cx="634.6" cy="429.2" r="3.1" class="k1o"/><circle cx="735.8" cy="430.7" r="3.1" class="k1o"/><circle cx="724.2" cy="428.7" r="3.1" class="k1o"/><circle cx="673.7" cy="432" r="3.1" class="k1p"/><circle cx="651.3" cy="431.4" r="3.1" class="k1p"/><circle cx="814.5" cy="323.8" r="3.1" class="ky"/><circle cx="549.1" cy="259.2" r="3.1" class="ki"/><circle cx="685.8" cy="431.2" r="3.1" class="k1o"/><circle cx="596.2" cy="429.4" r="3.1" class="k1o"/><circle cx="599.3" cy="426.7" r="3.1" class="k1n"/><circle cx="588.3" cy="428.5" r="3.1" class="k1o"/><circle cx="812.6" cy="298.3" r="3.1" class="ks"/><circle cx="659.4" cy="430.7" r="3.1" class="k1o"/><circle cx="547.1" cy="424" r="3.1" class="k1n"/><circle cx="562.8" cy="426.7" r="3.1" class="k1n"/><circle cx="679.6" cy="430.2" r="3.1" class="k1o"/><circle cx="609.7" cy="428.3" r="3.1" class="k1o"/><circle cx="815" cy="373.2" r="3.1" class="k1a"/><circle cx="556.7" cy="426.9" r="3.1" class="k1n"/><circle cx="775.7" cy="426.8" r="3.1" class="k1n"/><circle cx="585.3" cy="431.1" r="3.1" class="k1o"/><circle cx="640.7" cy="430.2" r="3.1" class="k1o"/><circle cx="622.1" cy="432.8" r="3.1" class="k1p"/><circle cx="568.7" cy="425.8" r="3.1" class="k1n"/><circle cx="752.7" cy="428.2" r="3.1" class="k1o"/><circle cx="538.5" cy="408.8" r="3.1" class="k1j"/><circle cx="692.2" cy="430.8" r="3.1" class="k1o"/><circle cx="606.7" cy="428.7" r="3.1" class="k1o"/><circle cx="806.8" cy="424.1" r="3.1" class="k1n"/><circle cx="603.7" cy="430.5" r="3.1" class="k1o"/><circle cx="643.7" cy="431.8" r="3.1" class="k1o"/><circle cx="698.7" cy="432.6" r="3.1" class="k1p"/><circle cx="540.6" cy="425.2" r="3.1" class="k1n"/><circle cx="625.1" cy="432.1" r="3.1" class="k1o"/><circle cx="810.7" cy="421.1" r="3.1" class="k1m"/><circle cx="800.8" cy="427.5" r="3.1" class="k1n"/><circle cx="667.9" cy="430.5" r="3.1" class="k1o"/><circle cx="813.4" cy="396.5" r="3.1" class="k1g"/><circle cx="747.9" cy="431.3" r="3.1" class="k1o"/><circle cx="580" cy="427.3" r="3.1" class="k1n"/><circle cx="628" cy="432" r="3.1" class="k1o"/><circle cx="709.1" cy="430.2" r="3.1" class="k1o"/><circle cx="593.2" cy="429.7" r="3.1" class="k1o"/><circle cx="662.4" cy="432.2" r="3.1" class="k1o"/><circle cx="574.5" cy="425.3" r="3.1" class="k1n"/><circle cx="539.6" cy="339.2" r="3.1" class="k12"/><circle cx="549.1" cy="256.3" r="3.1" class="kh"/><circle cx="654.3" cy="431.5" r="3.1" class="k1o"/><circle cx="571.5" cy="430.4" r="3.1" class="k1o"/><circle cx="676.6" cy="433.9" r="3.1" class="k1p"/><circle cx="616.3" cy="431.6" r="3.1" class="k1o"/><circle cx="720.1" cy="429.5" r="3.1" class="k1o"/><circle cx="815.3" cy="345.6" r="3.1" class="k13"/><circle cx="537.7" cy="373.4" r="3.1" class="k1a"/><circle cx="619.2" cy="430.7" r="3.1" class="k1o"/><circle cx="600.8" cy="430.8" r="3.1" class="k1o"/><circle cx="770.6" cy="428.2" r="3.1" class="k1n"/><circle cx="813" cy="294.1" r="3.1" class="kq"/><circle cx="636.6" cy="433.7" r="3.1" class="k1p"/><circle cx="550.4" cy="425.6" r="3.1" class="k1n"/><circle cx="814.6" cy="319.4" r="3.1" class="kw"/><circle cx="590.3" cy="431.1" r="3.1" class="k1o"/><circle cx="646.6" cy="431.3" r="3.1" class="k1o"/><circle cx="682.6" cy="432.3" r="3.1" class="k1o"/><circle cx="670.8" cy="433" r="3.1" class="k1o"/><circle cx="795.1" cy="428.7" r="3.1" class="k1n"/><circle cx="538.5" cy="355.3" r="3.1" class="k15"/><circle cx="559.8" cy="428.7" r="3.1" class="k1n"/><circle cx="630.9" cy="430.4" r="3.1" class="k1o"/><circle cx="688.8" cy="433.1" r="3.1" class="k1o"/><circle cx="610.5" cy="431.6" r="3.1" class="k1o"/><circle cx="731.5" cy="429.2" r="3.1" class="k1n"/><circle cx="565.7" cy="427.6" r="3.1" class="k1n"/><circle cx="549" cy="253.4" r="3.1" class="kg"/><circle cx="538.9" cy="419.4" r="3.1" class="k1l"/><circle cx="743.3" cy="432.4" r="3.1" class="k1o"/><circle cx="633.8" cy="430.7" r="3.1" class="k1o"/><circle cx="597.9" cy="431.2" r="3.1" class="k1o"/><circle cx="642.2" cy="435.4" r="3.1" class="k1p"/><circle cx="705.3" cy="431.8" r="3.1" class="k1o"/><circle cx="815.1" cy="368" r="3.1" class="k18"/><circle cx="613.4" cy="429.6" r="3.1" class="k1o"/><circle cx="639.4" cy="433.2" r="3.1" class="k1o"/><circle cx="544.1" cy="426.1" r="3.1" class="k1n"/><circle cx="727.2" cy="432.4" r="3.1" class="k1o"/><circle cx="652.2" cy="435" r="3.1" class="k1p"/><circle cx="695.1" cy="433.2" r="3.1" class="k1o"/><circle cx="649.5" cy="431.9" r="3.1" class="k1o"/><circle cx="577" cy="427.7" r="3.1" class="k1n"/><circle cx="657.2" cy="431.1" r="3.1" class="k1o"/><circle cx="716" cy="430.4" r="3.1" class="k1o"/><circle cx="660" cy="434.6" r="3.1" class="k1p"/><circle cx="607.7" cy="431.1" r="3.1" class="k1o"/><circle cx="582.4" cy="429.3" r="3.1" class="k1n"/><circle cx="537.8" cy="386.9" r="3.1" class="k1d"/><circle cx="665.3" cy="432.1" r="3.1" class="k1o"/><circle cx="814.1" cy="391.3" r="3.1" class="k1e"/><circle cx="815.9" cy="341" r="3.1" class="k12"/><circle cx="539.7" cy="334.8" r="3.1" class="k10"/><circle cx="587.5" cy="431.5" r="3.1" class="k1o"/><circle cx="813.2" cy="290" r="3.1" class="kp"/><circle cx="765.5" cy="428.1" r="3.1" class="k1n"/><circle cx="701.5" cy="434.9" r="3.1" class="k1p"/><circle cx="810.9" cy="414.9" r="3.1" class="k1k"/><circle cx="595.1" cy="431.2" r="3.1" class="k1o"/><circle cx="814.7" cy="315" r="3.1" class="kv"/><circle cx="604.9" cy="431.4" r="3.1" class="k1o"/><circle cx="549.1" cy="250.5" r="3.1" class="kf"/><circle cx="602.2" cy="433.3" r="3.1" class="k1o"/><circle cx="553.7" cy="426.2" r="3.1" class="k1m"/><circle cx="644.9" cy="434.6" r="3.1" class="k1p"/><circle cx="712" cy="433.2" r="3.1" class="k1o"/><circle cx="789.6" cy="428.1" r="3.1" class="k1n"/><circle cx="738.8" cy="433" r="3.1" class="k1o"/><circle cx="685.4" cy="434.4" r="3.1" class="k1o"/><circle cx="568.6" cy="429.8" r="3.1" class="k1n"/><circle cx="630.3" cy="434.2" r="3.1" class="k1o"/><circle cx="679.4" cy="433.5" r="3.1" class="k1o"/><circle cx="760.5" cy="430.4" r="3.1" class="k1n"/><circle cx="673.6" cy="433.6" r="3.1" class="k1o"/><circle cx="627.6" cy="433.2" r="3.1" class="k1o"/><circle cx="624.9" cy="432.7" r="3.1" class="k1o"/><circle cx="538.6" cy="350.6" r="3.1" class="k14"/><circle cx="668" cy="434.1" r="3.1" class="k1o"/><circle cx="538" cy="367.6" r="3.1" class="k18"/><circle cx="614" cy="433.4" r="3.1" class="k1o"/><circle cx="547.5" cy="427.3" r="3.1" class="k1n"/><circle cx="538.9" cy="400.9" r="3.1" class="k1g"/><circle cx="784.1" cy="430.4" r="3.1" class="k1n"/><circle cx="722.9" cy="432.9" r="3.1" class="k1o"/><circle cx="654.9" cy="434.4" r="3.1" class="k1o"/><circle cx="718.7" cy="437" r="3.1" class="k1p"/><circle cx="574.2" cy="428.9" r="3.1" class="k1n"/><circle cx="647.6" cy="435.3" r="3.1" class="k1p"/><circle cx="592.3" cy="432" r="3.1" class="k1o"/><circle cx="632.9" cy="433.6" r="3.1" class="k1o"/><circle cx="579.6" cy="429.9" r="3.1" class="k1n"/><circle cx="635.6" cy="434.5" r="3.1" class="k1o"/><circle cx="557" cy="429.4" r="3.1" class="k1n"/><circle cx="562.9" cy="428.1" r="3.1" class="k1n"/><circle cx="619.4" cy="431.3" r="3.1" class="k1n"/><circle cx="662.7" cy="434.7" r="3.1" class="k1o"/><circle cx="622.1" cy="431" r="3.1" class="k1n"/><circle cx="815.2" cy="362.8" r="3.1" class="k16"/><circle cx="697.8" cy="436.5" r="3.1" class="k1p"/><circle cx="638.2" cy="435.8" r="3.1" class="k1p"/><circle cx="541.5" cy="312.6" r="3.1" class="ku"/><circle cx="691.5" cy="433.6" r="3.1" class="k1o"/><circle cx="657.5" cy="436.9" r="3.1" class="k1p"/><circle cx="813.4" cy="285.9" r="3.1" class="ko"/><circle cx="755.6" cy="431.8" r="3.1" class="k1o"/><circle cx="539.8" cy="330.8" r="3.1" class="kz"/><circle cx="616.7" cy="430.9" r="3.1" class="k1n"/><circle cx="816" cy="336.4" r="3.1" class="k10"/><circle cx="577" cy="433.4" r="3.1" class="k1o"/><circle cx="734.3" cy="433.6" r="3.1" class="k1o"/><circle cx="611.4" cy="432.2" r="3.1" class="k1o"/><circle cx="541.2" cy="428.3" r="3.1" class="k1n"/><circle cx="596.9" cy="434.2" r="3.1" class="k1o"/><circle cx="676.3" cy="435.7" r="3.1" class="k1o"/><circle cx="814.2" cy="385.7" r="3.1" class="k1c"/><circle cx="670.6" cy="436" r="3.1" class="k1p"/><circle cx="814.7" cy="310.7" r="3.1" class="ku"/><circle cx="708.1" cy="433.7" r="3.1" class="k1o"/><circle cx="608.7" cy="432.9" r="3.1" class="k1o"/><circle cx="682.1" cy="435.8" r="3.1" class="k1o"/><circle cx="811.9" cy="409.5" r="3.1" class="k1i"/><circle cx="629.6" cy="438.1" r="3.1" class="k1p"/><circle cx="584.8" cy="429.8" r="3.1" class="k1n"/><circle cx="650.2" cy="435.1" r="3.1" class="k1o"/><circle cx="665.2" cy="436.6" r="3.1" class="k1p"/><circle cx="538" cy="380.7" r="3.1" class="k1b"/><circle cx="622.1" cy="436.3" r="3.1" class="k1o"/><circle cx="640.8" cy="434.7" r="3.1" class="k1o"/><circle cx="778.7" cy="430" r="3.1" class="k1n"/><circle cx="582.2" cy="433.1" r="3.1" class="k1o"/><circle cx="688" cy="436" r="3.1" class="k1o"/><circle cx="541.3" cy="309.2" r="3.1" class="kt"/><circle cx="538.6" cy="346.1" r="3.1" class="k12"/><circle cx="606.2" cy="433.2" r="3.1" class="k1o"/><circle cx="571.5" cy="430.2" r="3.1" class="k1n"/><circle cx="545.8" cy="267" r="3.1" class="kj"/><circle cx="704.1" cy="436.6" r="3.1" class="k1p"/><circle cx="816.3" cy="358.4" r="3.1" class="k15"/><circle cx="750.8" cy="432.4" r="3.1" class="k1n"/><circle cx="746" cy="436" r="3.1" class="k1o"/><circle cx="589.7" cy="431" r="3.1" class="k1n"/><circle cx="624.6" cy="435.1" r="3.1" class="k1o"/><circle cx="565.9" cy="429.5" r="3.1" class="k1n"/><circle cx="660.1" cy="436.9" r="3.1" class="k1p"/><circle cx="714.6" cy="436.3" r="3.1" class="k1o"/><circle cx="550.9" cy="427" r="3.1" class="k1m"/><circle cx="603.6" cy="433.9" r="3.1" class="k1o"/><circle cx="594.3" cy="434.1" r="3.1" class="k1o"/><circle cx="619.6" cy="434.8" r="3.1" class="k1o"/><circle cx="813.4" cy="281.9" r="3.1" class="km"/><circle cx="773.4" cy="432" r="3.1" class="k1n"/><circle cx="560.2" cy="429.8" r="3.1" class="k1n"/><circle cx="614.7" cy="435.6" r="3.1" class="k1o"/><circle cx="539.7" cy="410.2" r="3.1" class="k1i"/><circle cx="544.8" cy="429.5" r="3.1" class="k1n"/><circle cx="729.9" cy="434" r="3.1" class="k1o"/><circle cx="694.1" cy="436.4" r="3.1" class="k1o"/><circle cx="643.3" cy="434.7" r="3.1" class="k1o"/><circle cx="539.9" cy="326.7" r="3.1" class="kx"/><circle cx="627.1" cy="434.4" r="3.1" class="k1o"/><circle cx="617.1" cy="434.5" r="3.1" class="k1o"/><circle cx="538.4" cy="362.1" r="3.1" class="k16"/><circle cx="632.1" cy="435.7" r="3.1" class="k1o"/><circle cx="587.1" cy="433.1" r="3.1" class="k1n"/><circle cx="634.6" cy="436.7" r="3.1" class="k1o"/><circle cx="569" cy="433.7" r="3.1" class="k1o"/><circle cx="816" cy="331.8" r="3.1" class="kz"/><circle cx="652.7" cy="435" r="3.1" class="k1o"/><circle cx="678.8" cy="437.4" r="3.1" class="k1o"/><circle cx="554.3" cy="430.5" r="3.1" class="k1n"/><circle cx="655.2" cy="438.2" r="3.1" class="k1p"/><circle cx="725.5" cy="437" r="3.1" class="k1o"/><circle cx="815.1" cy="380.9" r="3.1" class="k1a"/><circle cx="648.2" cy="438.7" r="3.1" class="k1p"/><circle cx="814.6" cy="306.4" r="3.1" class="ks"/><circle cx="645.8" cy="435.9" r="3.1" class="k1o"/><circle cx="612.2" cy="435.1" r="3.1" class="k1o"/><circle cx="591.9" cy="435.3" r="3.1" class="k1o"/><circle cx="609.8" cy="436.1" r="3.1" class="k1o"/><circle cx="673.2" cy="436.4" r="3.1" class="k1o"/><circle cx="545.9" cy="264.1" r="3.1" class="ki"/><circle cx="667.7" cy="436.7" r="3.1" class="k1o"/><circle cx="639.3" cy="438.2" r="3.1" class="k1p"/><circle cx="540.2" cy="421.4" r="3.1" class="k1k"/><circle cx="662.5" cy="438" r="3.1" class="k1p"/><circle cx="808.4" cy="427.8" r="3.1" class="k1m"/><circle cx="768.3" cy="432.4" r="3.1" class="k1n"/><circle cx="579.6" cy="432.9" r="3.1" class="k1n"/><circle cx="684.6" cy="436.6" r="3.1" class="k1o"/><circle cx="539.5" cy="393.4" r="3.1" class="k1d"/><circle cx="557.7" cy="433.5" r="3.1" class="k1n"/><circle cx="803.9" cy="429.8" r="3.1" class="k1m"/><circle cx="763.1" cy="435.5" r="3.1" class="k1o"/><circle cx="637" cy="435.7" r="3.1" class="k1o"/><circle cx="700.3" cy="436.8" r="3.1" class="k1o"/><circle cx="710.6" cy="436.5" r="3.1" class="k1o"/><circle cx="538.8" cy="341.5" r="3.1" class="k11"/><circle cx="741.4" cy="435" r="3.1" class="k1o"/><circle cx="607.4" cy="435.7" r="3.1" class="k1o"/><circle cx="548.3" cy="430.6" r="3.1" class="k1n"/><circle cx="574.4" cy="430.7" r="3.1" class="k1n"/><circle cx="816.1" cy="353.4" r="3.1" class="k14"/><circle cx="598.7" cy="434" r="3.1" class="k1n"/><circle cx="811.3" cy="403.1" r="3.1" class="k1g"/><circle cx="816.7" cy="327.6" r="3.1" class="kx"/><circle cx="563.4" cy="430.7" r="3.1" class="k1n"/><circle cx="736.8" cy="437.8" r="3.1" class="k1o"/><circle cx="605" cy="436.7" r="3.1" class="k1o"/><circle cx="584.7" cy="433.2" r="3.1" class="k1n"/><circle cx="540.1" cy="322.8" r="3.1" class="kw"/><circle cx="561" cy="436.7" r="3.1" class="k1o"/><circle cx="815.3" cy="302.4" r="3.1" class="kr"/><circle cx="546" cy="261.3" r="3.1" class="kh"/><circle cx="690.5" cy="436.3" r="3.1" class="k1o"/><circle cx="670.1" cy="438.8" r="3.1" class="k1o"/><circle cx="641.7" cy="437.3" r="3.1" class="k1o"/><circle cx="538.5" cy="374.4" r="3.1" class="k18"/><circle cx="596.3" cy="435.4" r="3.1" class="k1o"/><circle cx="675.5" cy="438.3" r="3.1" class="k1o"/><circle cx="589.5" cy="434.8" r="3.1" class="k1n"/><circle cx="624.4" cy="436.8" r="3.1" class="k1o"/><circle cx="538.4" cy="357.2" r="3.1" class="k14"/><circle cx="602.7" cy="437.2" r="3.1" class="k1o"/><circle cx="629" cy="437.5" r="3.1" class="k1o"/><circle cx="657.5" cy="436.9" r="3.1" class="k1o"/><circle cx="664.8" cy="438.9" r="3.1" class="k1o"/><circle cx="577.2" cy="434.4" r="3.1" class="k1n"/><circle cx="650.5" cy="436.8" r="3.1" class="k1o"/><circle cx="551.9" cy="432.9" r="3.1" class="k1n"/><circle cx="617.5" cy="436.9" r="3.1" class="k1o"/><circle cx="681.1" cy="438.4" r="3.1" class="k1o"/><circle cx="798.1" cy="429.8" r="3.1" class="k1m"/><circle cx="706.6" cy="438" r="3.1" class="k1o"/><circle cx="572" cy="433.7" r="3.1" class="k1n"/><circle cx="631.3" cy="438" r="3.1" class="k1o"/><circle cx="721.3" cy="435.7" r="3.1" class="k1o"/><circle cx="622.1" cy="436.2" r="3.1" class="k1o"/><circle cx="626.7" cy="436.5" r="3.1" class="k1o"/><circle cx="644" cy="438.3" r="3.1" class="k1o"/><circle cx="792.3" cy="432.8" r="3.1" class="k1n"/><circle cx="696.5" cy="438.1" r="3.1" class="k1o"/><circle cx="815.3" cy="375.7" r="3.1" class="k19"/><circle cx="594" cy="437.2" r="3.1" class="k1o"/><circle cx="635.7" cy="439.9" r="3.1" class="k1p"/><circle cx="545.6" cy="258.5" r="3.1" class="kg"/><circle cx="615.3" cy="436.8" r="3.1" class="k1o"/><circle cx="732.3" cy="438.8" r="3.1" class="k1o"/><circle cx="633.5" cy="438.4" r="3.1" class="k1o"/><circle cx="566.5" cy="433.2" r="3.1" class="k1n"/><circle cx="613" cy="437.5" r="3.1" class="k1o"/><circle cx="758.2" cy="434.8" r="3.1" class="k1n"/><circle cx="619.8" cy="435.4" r="3.1" class="k1n"/><circle cx="659.8" cy="439.6" r="3.1" class="k1p"/><circle cx="587.2" cy="436.8" r="3.1" class="k1o"/><circle cx="600.5" cy="437.8" r="3.1" class="k1o"/><circle cx="542.3" cy="430.4" r="3.1" class="k1m"/><circle cx="717" cy="438.1" r="3.1" class="k1o"/><circle cx="652.8" cy="438.2" r="3.1" class="k1o"/><circle cx="608.6" cy="439.2" r="3.1" class="k1o"/><circle cx="686.9" cy="438.2" r="3.1" class="k1o"/><circle cx="582.3" cy="433.6" r="3.1" class="k1n"/><circle cx="816.6" cy="348.8" r="3.1" class="k12"/><circle cx="646.2" cy="438.7" r="3.1" class="k1o"/><circle cx="808.9" cy="421.8" r="3.1" class="k1k"/><circle cx="580.1" cy="437.5" r="3.1" class="k1o"/><circle cx="540.2" cy="319.1" r="3.1" class="kv"/><circle cx="816.8" cy="323.2" r="3.1" class="kw"/><circle cx="812.2" cy="398" r="3.1" class="k1e"/><circle cx="786.8" cy="433.3" r="3.1" class="k1n"/><circle cx="539.1" cy="337.1" r="3.1" class="kz"/><circle cx="606.4" cy="439.4" r="3.1" class="k1o"/><circle cx="569.7" cy="436.2" r="3.1" class="k1n"/><circle cx="753.3" cy="435.8" r="3.1" class="k1n"/><circle cx="610.8" cy="436.2" r="3.1" class="k1n"/><circle cx="814.9" cy="298.2" r="3.1" class="kp"/><circle cx="575" cy="435.8" r="3.1" class="k1n"/><circle cx="540.4" cy="401.9" r="3.1" class="k1f"/><circle cx="712.8" cy="440" r="3.1" class="k1o"/><circle cx="672.3" cy="439.5" r="3.1" class="k1o"/><circle cx="667" cy="439.9" r="3.1" class="k1o"/><circle cx="555.3" cy="433.9" r="3.1" class="k1n"/><circle cx="661.9" cy="441.1" r="3.1" class="k1p"/><circle cx="541.7" cy="299" r="3.1" class="kq"/><circle cx="637.9" cy="438.3" r="3.1" class="k1o"/><circle cx="781.3" cy="435.1" r="3.1" class="k1n"/><circle cx="692.7" cy="438.8" r="3.1" class="k1o"/><circle cx="655" cy="439.2" r="3.1" class="k1o"/><circle cx="539.7" cy="386.8" r="3.1" class="k1b"/><circle cx="748.4" cy="437.9" r="3.1" class="k1o"/><circle cx="598.3" cy="437.3" r="3.1" class="k1o"/><circle cx="677.7" cy="438.9" r="3.1" class="k1o"/><circle cx="545.9" cy="255.8" r="3.1" class="kf"/><circle cx="775.9" cy="437.3" r="3.1" class="k1o"/><circle cx="727.9" cy="438.3" r="3.1" class="k1o"/><circle cx="683.3" cy="439.9" r="3.1" class="k1o"/><circle cx="545.9" cy="431.2" r="3.1" class="k1m"/><circle cx="585" cy="436.6" r="3.1" class="k1n"/><circle cx="815.4" cy="370.6" r="3.1" class="k17"/><circle cx="620" cy="439.1" r="3.1" class="k1o"/><circle cx="591.8" cy="435.3" r="3.1" class="k1n"/><circle cx="538.8" cy="368.7" r="3.1" class="k17"/><circle cx="628.4" cy="439.7" r="3.1" class="k1o"/><circle cx="538.8" cy="352.1" r="3.1" class="k13"/><circle cx="640.1" cy="438.1" r="3.1" class="k1o"/><circle cx="657" cy="440.9" r="3.1" class="k1o"/><circle cx="604.3" cy="438.4" r="3.1" class="k1o"/><circle cx="698.7" cy="440.3" r="3.1" class="k1o"/><circle cx="626.3" cy="438.7" r="3.1" class="k1o"/><circle cx="589.7" cy="438" r="3.1" class="k1o"/><circle cx="663.9" cy="442.8" r="3.1" class="k1p"/><circle cx="689" cy="440.8" r="3.1" class="k1o"/><circle cx="817.4" cy="319" r="3.1" class="ku"/><circle cx="702.6" cy="435.9" r="3.1" class="k1n"/><circle cx="582.9" cy="439.3" r="3.1" class="k1o"/><circle cx="630.5" cy="439.4" r="3.1" class="k1o"/><circle cx="572.8" cy="437.9" r="3.1" class="k1o"/><circle cx="642.1" cy="439.1" r="3.1" class="k1o"/><circle cx="816.9" cy="344.3" r="3.1" class="k11"/><circle cx="540.3" cy="315.5" r="3.1" class="kt"/><circle cx="743.7" cy="438.6" r="3.1" class="k1o"/><circle cx="648.3" cy="436.9" r="3.1" class="k1n"/><circle cx="549.6" cy="433.7" r="3.1" class="k1n"/><circle cx="539.1" cy="333.1" r="3.1" class="ky"/><circle cx="624.2" cy="437.6" r="3.1" class="k1o"/><circle cx="622.1" cy="437.5" r="3.1" class="k1n"/><circle cx="674.3" cy="441.6" r="3.1" class="k1o"/><circle cx="578" cy="437.8" r="3.1" class="k1o"/><circle cx="594.1" cy="440.3" r="3.1" class="k1o"/><circle cx="634.5" cy="441.1" r="3.1" class="k1o"/><circle cx="613.8" cy="439.2" r="3.1" class="k1o"/><circle cx="545.9" cy="253" r="3.1" class="ke"/><circle cx="602.3" cy="439.2" r="3.1" class="k1o"/><circle cx="541.1" cy="411.9" r="3.1" class="k1h"/><circle cx="618" cy="437.6" r="3.1" class="k1n"/><circle cx="815.2" cy="294.1" r="3.1" class="ko"/><circle cx="596.2" cy="437" r="3.1" class="k1n"/><circle cx="650.4" cy="439" r="3.1" class="k1o"/><circle cx="615.9" cy="437.9" r="3.1" class="k1o"/><circle cx="564.3" cy="432.6" r="3.1" class="k1m"/><circle cx="652.4" cy="441.9" r="3.1" class="k1o"/><circle cx="812.8" cy="392.7" r="3.1" class="k1c"/><circle cx="708.7" cy="439.4" r="3.1" class="k1o"/><circle cx="770.6" cy="436.9" r="3.1" class="k1n"/><circle cx="723.5" cy="438.6" r="3.1" class="k1o"/><circle cx="739" cy="440.4" r="3.1" class="k1o"/><circle cx="611.8" cy="439" r="3.1" class="k1o"/><circle cx="809.3" cy="415.8" r="3.1" class="k1i"/><circle cx="734.4" cy="443" r="3.1" class="k1p"/><circle cx="669.1" cy="439.9" r="3.1" class="k1o"/><circle cx="553.2" cy="436.3" r="3.1" class="k1n"/><circle cx="679.8" cy="441" r="3.1" class="k1o"/><circle cx="632.5" cy="438.4" r="3.1" class="k1o"/><circle cx="719.1" cy="441.2" r="3.1" class="k1o"/><circle cx="609.8" cy="439.8" r="3.1" class="k1o"/><circle cx="644.2" cy="439.2" r="3.1" class="k1o"/></g><g class="a7"><circle cx="558.7" cy="433.1" r="3.1" class="k1m"/><circle cx="567.6" cy="435.9" r="3.1" class="k1n"/><circle cx="562.2" cy="437.3" r="3.1" class="k1n"/><circle cx="636.5" cy="440.2" r="3.1" class="k1o"/><circle cx="765.4" cy="438.2" r="3.1" class="k1n"/><circle cx="540.1" cy="312.2" r="3.1" class="ks"/><circle cx="587.6" cy="438.1" r="3.1" class="k1n"/><circle cx="646.2" cy="440.7" r="3.1" class="k1o"/><circle cx="542.4" cy="422.5" r="3.1" class="k1k"/><circle cx="815.7" cy="365.7" r="3.1" class="k16"/><circle cx="607.8" cy="439.8" r="3.1" class="k1o"/><circle cx="600.2" cy="438.5" r="3.1" class="k1n"/><circle cx="714.9" cy="443" r="3.1" class="k1p"/><circle cx="817.7" cy="340" r="3.1" class="kz"/><circle cx="539.8" cy="380.8" r="3.1" class="k19"/><circle cx="598.3" cy="440.7" r="3.1" class="k1o"/><circle cx="585.7" cy="441.1" r="3.1" class="k1o"/><circle cx="539" cy="329.4" r="3.1" class="kx"/><circle cx="704.7" cy="440.4" r="3.1" class="k1o"/><circle cx="659.1" cy="440.1" r="3.1" class="k1o"/><circle cx="539" cy="347.6" r="3.1" class="k11"/><circle cx="592.2" cy="439.8" r="3.1" class="k1o"/><circle cx="654.4" cy="442.3" r="3.1" class="k1o"/><circle cx="676.3" cy="443.5" r="3.1" class="k1p"/><circle cx="817.4" cy="314.8" r="3.1" class="kt"/><circle cx="580.9" cy="439.5" r="3.1" class="k1o"/><circle cx="760.4" cy="439.6" r="3.1" class="k1o"/><circle cx="622.1" cy="441.4" r="3.1" class="k1o"/><circle cx="538.9" cy="363.6" r="3.1" class="k15"/><circle cx="624" cy="441.5" r="3.1" class="k1o"/><circle cx="638.4" cy="440.1" r="3.1" class="k1o"/><circle cx="700.6" cy="443.5" r="3.1" class="k1p"/><circle cx="694.8" cy="439.3" r="3.1" class="k1o"/><circle cx="625.9" cy="441.5" r="3.1" class="k1o"/><circle cx="620.2" cy="441.3" r="3.1" class="k1o"/><circle cx="618.4" cy="441.5" r="3.1" class="k1o"/><circle cx="681.7" cy="444.5" r="3.1" class="k1p"/><circle cx="627.8" cy="441.9" r="3.1" class="k1o"/><circle cx="815.3" cy="290.1" r="3.1" class="kn"/><circle cx="685.3" cy="440.1" r="3.1" class="k1o"/><circle cx="605.9" cy="440.2" r="3.1" class="k1o"/><circle cx="540.7" cy="394.6" r="3.1" class="k1c"/><circle cx="648.1" cy="441.5" r="3.1" class="k1o"/><circle cx="570.8" cy="438.2" r="3.1" class="k1n"/><circle cx="604" cy="441.7" r="3.1" class="k1o"/><circle cx="547.5" cy="436.6" r="3.1" class="k1n"/><circle cx="640.3" cy="441.1" r="3.1" class="k1o"/><circle cx="671" cy="441.6" r="3.1" class="k1o"/><circle cx="575.9" cy="437.6" r="3.1" class="k1n"/><circle cx="629.6" cy="441.7" r="3.1" class="k1o"/><circle cx="665.9" cy="441.5" r="3.1" class="k1o"/><circle cx="616.5" cy="441.1" r="3.1" class="k1o"/><circle cx="614.6" cy="441.7" r="3.1" class="k1o"/><circle cx="672.8" cy="446.4" r="3.1" class="k1p"/><circle cx="596.4" cy="441.5" r="3.1" class="k1o"/><circle cx="729.9" cy="442.2" r="3.1" class="k1o"/><circle cx="660.9" cy="442.2" r="3.1" class="k1o"/><circle cx="691" cy="441.9" r="3.1" class="k1o"/><circle cx="813.4" cy="387.7" r="3.1" class="k1b"/><circle cx="556.7" cy="436.3" r="3.1" class="k1n"/><circle cx="642.2" cy="442.2" r="3.1" class="k1o"/><circle cx="631.5" cy="441.7" r="3.1" class="k1o"/><circle cx="590.3" cy="440.6" r="3.1" class="k1o"/><circle cx="755.4" cy="440" r="3.1" class="k1o"/><circle cx="540.2" cy="308.8" r="3.1" class="kr"/><circle cx="565.6" cy="437.5" r="3.1" class="k1n"/><circle cx="544.9" cy="432.2" r="3.1" class="k1m"/><circle cx="710.7" cy="442.4" r="3.1" class="k1o"/><circle cx="800.5" cy="435.7" r="3.1" class="k1m"/><circle cx="816.4" cy="361.1" r="3.1" class="k14"/><circle cx="579" cy="440.4" r="3.1" class="k1o"/><circle cx="635.1" cy="442.7" r="3.1" class="k1o"/><circle cx="644" cy="442.7" r="3.1" class="k1o"/><circle cx="656.2" cy="441.9" r="3.1" class="k1o"/><circle cx="662.7" cy="444.3" r="3.1" class="k1o"/><circle cx="804.6" cy="433.5" r="3.1" class="k1m"/><circle cx="809.1" cy="409.7" r="3.1" class="k1g"/><circle cx="594.6" cy="442" r="3.1" class="k1o"/><circle cx="611" cy="441.4" r="3.1" class="k1o"/><circle cx="696.7" cy="443.5" r="3.1" class="k1o"/><circle cx="560.3" cy="438.4" r="3.1" class="k1n"/><circle cx="538.9" cy="343.4" r="3.1" class="k10"/><circle cx="612.8" cy="440.3" r="3.1" class="k1n"/><circle cx="636.8" cy="443.8" r="3.1" class="k1o"/><circle cx="817.8" cy="335.5" r="3.1" class="ky"/><circle cx="817.6" cy="310.6" r="3.1" class="ks"/><circle cx="678.1" cy="444.9" r="3.1" class="k1p"/><circle cx="725.4" cy="442.3" r="3.1" class="k1o"/><circle cx="794.7" cy="437" r="3.1" class="k1n"/><circle cx="539.4" cy="325.4" r="3.1" class="kv"/><circle cx="649.9" cy="440.6" r="3.1" class="k1o"/><circle cx="667.7" cy="443" r="3.1" class="k1o"/><circle cx="687.2" cy="442.9" r="3.1" class="k1o"/><circle cx="815.1" cy="286.2" r="3.1" class="km"/><circle cx="602.2" cy="439.9" r="3.1" class="k1n"/><circle cx="583.8" cy="439.6" r="3.1" class="k1n"/><circle cx="569" cy="439.5" r="3.1" class="k1n"/><circle cx="551.2" cy="436.3" r="3.1" class="k1m"/><circle cx="706.5" cy="443.7" r="3.1" class="k1o"/><circle cx="745.6" cy="442.2" r="3.1" class="k1o"/><circle cx="789" cy="438.4" r="3.1" class="k1n"/><circle cx="574" cy="438.4" r="3.1" class="k1n"/><circle cx="600.4" cy="441.2" r="3.1" class="k1o"/><circle cx="598.7" cy="443.6" r="3.1" class="k1o"/><circle cx="750.5" cy="439.2" r="3.1" class="k1n"/><circle cx="607.5" cy="442.2" r="3.1" class="k1o"/><circle cx="539.2" cy="358.5" r="3.1" class="k13"/><circle cx="540.1" cy="374.8" r="3.1" class="k17"/><circle cx="540.3" cy="305.5" r="3.1" class="kq"/><circle cx="683.4" cy="445.2" r="3.1" class="k1p"/><circle cx="554.9" cy="439.1" r="3.1" class="k1n"/><circle cx="620.5" cy="443.3" r="3.1" class="k1o"/><circle cx="622.1" cy="443.1" r="3.1" class="k1o"/><circle cx="702.4" cy="445.8" r="3.1" class="k1p"/><circle cx="588.5" cy="440" r="3.1" class="k1n"/><circle cx="623.8" cy="443" r="3.1" class="k1o"/><circle cx="609.2" cy="439.9" r="3.1" class="k1n"/><circle cx="542" cy="403.1" r="3.1" class="k1e"/><circle cx="657.9" cy="442.5" r="3.1" class="k1o"/><circle cx="721" cy="442.7" r="3.1" class="k1o"/><circle cx="651.7" cy="441.3" r="3.1" class="k1n"/><circle cx="813.6" cy="382.5" r="3.1" class="k19"/><circle cx="638.6" cy="442.3" r="3.1" class="k1o"/><circle cx="582.1" cy="441.8" r="3.1" class="k1o"/><circle cx="645.7" cy="441.6" r="3.1" class="k1o"/><circle cx="653.4" cy="444.1" r="3.1" class="k1o"/><circle cx="615.5" cy="443.6" r="3.1" class="k1o"/><circle cx="783.5" cy="438.8" r="3.1" class="k1n"/><circle cx="778" cy="441.1" r="3.1" class="k1n"/><circle cx="627.2" cy="442.7" r="3.1" class="k1o"/><circle cx="659.6" cy="445.6" r="3.1" class="k1o"/><circle cx="544.2" cy="266" r="3.1" class="kh"/><circle cx="674.5" cy="445.5" r="3.1" class="k1o"/><circle cx="716.6" cy="444.5" r="3.1" class="k1o"/><circle cx="647.4" cy="443.5" r="3.1" class="k1o"/><circle cx="816.7" cy="356.5" r="3.1" class="k13"/><circle cx="592.9" cy="440.9" r="3.1" class="k1n"/><circle cx="563.7" cy="438.4" r="3.1" class="k1n"/><circle cx="692.8" cy="442.9" r="3.1" class="k1o"/><circle cx="817.6" cy="306.5" r="3.1" class="kq"/><circle cx="577.3" cy="440.5" r="3.1" class="k1n"/><circle cx="641.8" cy="444.9" r="3.1" class="k1o"/><circle cx="541.1" cy="387.8" r="3.1" class="k1a"/><circle cx="628.8" cy="442.5" r="3.1" class="k1o"/><circle cx="567.3" cy="442.1" r="3.1" class="k1o"/><circle cx="545.7" cy="437.4" r="3.1" class="k1m"/><circle cx="586.8" cy="441.7" r="3.1" class="k1n"/><circle cx="817.9" cy="331.1" r="3.1" class="kw"/><circle cx="613.8" cy="443.3" r="3.1" class="k1o"/><circle cx="669.4" cy="444" r="3.1" class="k1o"/><circle cx="612.2" cy="444.2" r="3.1" class="k1o"/><circle cx="664.4" cy="443.8" r="3.1" class="k1o"/><circle cx="539.1" cy="339.1" r="3.1" class="ky"/><circle cx="630.5" cy="442.9" r="3.1" class="k1o"/><circle cx="801.4" cy="439.6" r="3.1" class="k1n"/><circle cx="604.2" cy="442.7" r="3.1" class="k1o"/><circle cx="539.6" cy="321.6" r="3.1" class="ku"/><circle cx="605.8" cy="440.8" r="3.1" class="k1n"/><circle cx="731.6" cy="446.3" r="3.1" class="k1p"/><circle cx="809.7" cy="404.3" r="3.1" class="k1e"/><circle cx="655" cy="445.7" r="3.1" class="k1o"/><circle cx="618.8" cy="440.8" r="3.1" class="k1n"/><circle cx="572.3" cy="440.1" r="3.1" class="k1n"/><circle cx="805.5" cy="427.9" r="3.1" class="k1k"/><circle cx="558.5" cy="439.8" r="3.1" class="k1n"/><circle cx="543.1" cy="413" r="3.1" class="k1g"/><circle cx="540.4" cy="302.3" r="3.1" class="kp"/><circle cx="633.7" cy="444" r="3.1" class="k1o"/><circle cx="640.2" cy="441.5" r="3.1" class="k1n"/><circle cx="740.9" cy="440.4" r="3.1" class="k1n"/><circle cx="617.1" cy="440.5" r="3.1" class="k1n"/><circle cx="602.6" cy="443.7" r="3.1" class="k1o"/><circle cx="712.3" cy="445.3" r="3.1" class="k1o"/><circle cx="772.7" cy="440.8" r="3.1" class="k1n"/><circle cx="698.3" cy="445.4" r="3.1" class="k1o"/><circle cx="609.1" cy="444.9" r="3.1" class="k1o"/><circle cx="610.6" cy="443.5" r="3.1" class="k1o"/><circle cx="635.2" cy="444.6" r="3.1" class="k1o"/><circle cx="795.6" cy="439.8" r="3.1" class="k1n"/><circle cx="597.1" cy="441.3" r="3.1" class="k1n"/><circle cx="767.4" cy="442.2" r="3.1" class="k1n"/><circle cx="679.7" cy="444.3" r="3.1" class="k1o"/><circle cx="736.3" cy="441.8" r="3.1" class="k1n"/><circle cx="688.9" cy="443.5" r="3.1" class="k1o"/><circle cx="544.4" cy="263.3" r="3.1" class="kg"/><circle cx="670.9" cy="446.5" r="3.1" class="k1o"/><circle cx="591.2" cy="440.9" r="3.1" class="k1n"/><circle cx="649" cy="442.9" r="3.1" class="k1n"/><circle cx="636.8" cy="445.1" r="3.1" class="k1o"/><circle cx="549.4" cy="437.8" r="3.1" class="k1m"/><circle cx="661.1" cy="445.8" r="3.1" class="k1o"/><circle cx="575.6" cy="442" r="3.1" class="k1n"/><circle cx="708.1" cy="446.5" r="3.1" class="k1o"/><circle cx="585.1" cy="442.3" r="3.1" class="k1n"/><circle cx="727" cy="446" r="3.1" class="k1o"/><circle cx="562.1" cy="440.9" r="3.1" class="k1n"/><circle cx="595.5" cy="442.9" r="3.1" class="k1n"/><circle cx="644.9" cy="445.7" r="3.1" class="k1o"/><circle cx="789.9" cy="440.6" r="3.1" class="k1n"/><circle cx="650.6" cy="445.1" r="3.1" class="k1o"/><circle cx="643.4" cy="443.3" r="3.1" class="k1o"/><circle cx="813.7" cy="377.4" r="3.1" class="k17"/><circle cx="666" cy="444.9" r="3.1" class="k1o"/><circle cx="619.2" cy="445.6" r="3.1" class="k1o"/><circle cx="553.2" cy="440.3" r="3.1" class="k1n"/><circle cx="685" cy="445.7" r="3.1" class="k1o"/><circle cx="625.1" cy="445.4" r="3.1" class="k1o"/><circle cx="539.8" cy="353.2" r="3.1" class="k11"/><circle cx="638.3" cy="445.7" r="3.1" class="k1o"/><circle cx="757.2" cy="444.9" r="3.1" class="k1o"/><circle cx="580.5" cy="440.9" r="3.1" class="k1n"/><circle cx="545.1" cy="422.9" r="3.1" class="k1i"/><circle cx="620.7" cy="444.9" r="3.1" class="k1o"/><circle cx="817.4" cy="302.4" r="3.1" class="kp"/><circle cx="762.3" cy="442.7" r="3.1" class="k1n"/><circle cx="676" cy="446.3" r="3.1" class="k1o"/><circle cx="601" cy="443" r="3.1" class="k1n"/><circle cx="817.9" cy="326.8" r="3.1" class="kv"/><circle cx="816.6" cy="351.8" r="3.1" class="k11"/><circle cx="540.6" cy="369" r="3.1" class="k15"/><circle cx="694.3" cy="445.6" r="3.1" class="k1o"/><circle cx="539.8" cy="318" r="3.1" class="kt"/><circle cx="570.7" cy="441.5" r="3.1" class="k1n"/><circle cx="540.5" cy="299.2" r="3.1" class="ko"/><circle cx="628" cy="445.4" r="3.1" class="k1o"/><circle cx="594" cy="444.4" r="3.1" class="k1o"/><circle cx="544.2" cy="260.7" r="3.1" class="kf"/><circle cx="617.7" cy="444.7" r="3.1" class="k1o"/><circle cx="623.6" cy="443.9" r="3.1" class="k1o"/><circle cx="606.1" cy="444.8" r="3.1" class="k1o"/><circle cx="539.4" cy="334.9" r="3.1" class="kx"/><circle cx="607.6" cy="442.9" r="3.1" class="k1n"/><circle cx="626.6" cy="444.2" r="3.1" class="k1o"/><circle cx="616.3" cy="444.8" r="3.1" class="k1o"/><circle cx="589.7" cy="441.5" r="3.1" class="k1n"/><circle cx="778.8" cy="442.7" r="3.1" class="k1n"/><circle cx="652" cy="446.2" r="3.1" class="k1o"/><circle cx="622.1" cy="443.4" r="3.1" class="k1n"/><circle cx="803.3" cy="433.7" r="3.1" class="k1l"/><circle cx="646.4" cy="445.9" r="3.1" class="k1o"/><circle cx="810.1" cy="399" r="3.1" class="k1c"/><circle cx="613.4" cy="446" r="3.1" class="k1o"/><circle cx="599.5" cy="443.9" r="3.1" class="k1n"/><circle cx="574.1" cy="444.2" r="3.1" class="k1o"/><circle cx="703.9" cy="446.2" r="3.1" class="k1o"/><circle cx="630.9" cy="445.5" r="3.1" class="k1o"/><circle cx="578.9" cy="443.1" r="3.1" class="k1n"/><circle cx="784.4" cy="439.8" r="3.1" class="k1m"/><circle cx="642.4" cy="448.8" r="3.1" class="k1p"/><circle cx="614.8" cy="444.2" r="3.1" class="k1n"/><circle cx="752.2" cy="444.3" r="3.1" class="k1o"/><circle cx="667.4" cy="446.5" r="3.1" class="k1o"/><circle cx="583.6" cy="442.8" r="3.1" class="k1n"/><circle cx="542.6" cy="395.4" r="3.1" class="k1b"/><circle cx="672.3" cy="447.5" r="3.1" class="k1o"/><circle cx="657.9" cy="446.7" r="3.1" class="k1o"/><circle cx="604.7" cy="444.8" r="3.1" class="k1o"/><circle cx="656.5" cy="442.9" r="3.1" class="k1n"/><circle cx="747.3" cy="446" r="3.1" class="k1o"/><circle cx="699.8" cy="447.8" r="3.1" class="k1o"/><circle cx="598.1" cy="444.9" r="3.1" class="k1o"/><circle cx="639.7" cy="444.1" r="3.1" class="k1n"/><circle cx="541.6" cy="381.2" r="3.1" class="k18"/><circle cx="805.3" cy="421.4" r="3.1" class="k1i"/><circle cx="818" cy="298.5" r="3.1" class="ko"/><circle cx="681.2" cy="445.5" r="3.1" class="k1o"/><circle cx="641.1" cy="445.8" r="3.1" class="k1o"/><circle cx="633.7" cy="446.2" r="3.1" class="k1o"/><circle cx="565.6" cy="440.4" r="3.1" class="k1m"/><circle cx="647.8" cy="446.6" r="3.1" class="k1o"/><circle cx="556.9" cy="439.6" r="3.1" class="k1m"/><circle cx="539.7" cy="314.7" r="3.1" class="ks"/><circle cx="690.3" cy="445.3" r="3.1" class="k1o"/><circle cx="632.3" cy="444.8" r="3.1" class="k1o"/><circle cx="588.2" cy="442.7" r="3.1" class="k1n"/><circle cx="540.6" cy="296.1" r="3.1" class="kn"/><circle cx="718.2" cy="446" r="3.1" class="k1o"/><circle cx="544.4" cy="258.1" r="3.1" class="ke"/><circle cx="722.6" cy="443.5" r="3.1" class="k1n"/><circle cx="668.7" cy="449.9" r="3.1" class="k1p"/><circle cx="635" cy="446.8" r="3.1" class="k1o"/><circle cx="763" cy="445.6" r="3.1" class="k1o"/><circle cx="662.6" cy="444.5" r="3.1" class="k1n"/><circle cx="818.1" cy="322.6" r="3.1" class="ku"/><circle cx="773.5" cy="441.7" r="3.1" class="k1n"/><circle cx="817.1" cy="347.4" r="3.1" class="k10"/><circle cx="813.8" cy="372.4" r="3.1" class="k16"/><circle cx="603.3" cy="445.1" r="3.1" class="k1o"/><circle cx="663.9" cy="448.7" r="3.1" class="k1o"/><circle cx="539.3" cy="331.3" r="3.1" class="kw"/><circle cx="677.4" cy="447.7" r="3.1" class="k1o"/><circle cx="610.7" cy="445.1" r="3.1" class="k1o"/><circle cx="653.4" cy="446" r="3.1" class="k1o"/><circle cx="686.4" cy="447.3" r="3.1" class="k1o"/><circle cx="695.7" cy="448.8" r="3.1" class="k1o"/><circle cx="654.7" cy="449.1" r="3.1" class="k1o"/><circle cx="586.8" cy="445" r="3.1" class="k1n"/><circle cx="768.2" cy="442.9" r="3.1" class="k1n"/><circle cx="592.6" cy="443" r="3.1" class="k1n"/><circle cx="560.6" cy="441.3" r="3.1" class="k1n"/><circle cx="659.2" cy="448" r="3.1" class="k1o"/><circle cx="649.1" cy="447.6" r="3.1" class="k1o"/><circle cx="623.4" cy="447.2" r="3.1" class="k1o"/><circle cx="596.7" cy="445.2" r="3.1" class="k1n"/><circle cx="582.2" cy="444.1" r="3.1" class="k1n"/><circle cx="569.2" cy="442" r="3.1" class="k1n"/><circle cx="540.3" cy="348.4" r="3.1" class="k10"/><circle cx="620.9" cy="447" r="3.1" class="k1o"/><circle cx="624.7" cy="447.1" r="3.1" class="k1o"/><circle cx="619.6" cy="447.1" r="3.1" class="k1o"/><circle cx="757.9" cy="445.9" r="3.1" class="k1o"/><circle cx="551.7" cy="441.4" r="3.1" class="k1m"/><circle cx="742.5" cy="445" r="3.1" class="k1n"/><circle cx="636.3" cy="446.3" r="3.1" class="k1o"/><circle cx="682.5" cy="449" r="3.1" class="k1o"/><circle cx="622.1" cy="446.5" r="3.1" class="k1o"/><circle cx="709.5" cy="448.5" r="3.1" class="k1o"/><circle cx="609.3" cy="444.8" r="3.1" class="k1n"/><circle cx="637.6" cy="447.5" r="3.1" class="k1o"/><circle cx="628.5" cy="447.8" r="3.1" class="k1o"/><circle cx="544.4" cy="255.6" r="3.1" class="kd"/><circle cx="752.9" cy="447.1" r="3.1" class="k1o"/><circle cx="606.8" cy="447.5" r="3.1" class="k1o"/><circle cx="577.5" cy="443.3" r="3.1" class="k1n"/><circle cx="541.1" cy="363.4" r="3.1" class="k13"/><circle cx="810.4" cy="393.8" r="3.1" class="k1b"/><circle cx="608" cy="445.8" r="3.1" class="k1o"/><circle cx="602" cy="444.7" r="3.1" class="k1n"/><circle cx="713.8" cy="445.3" r="3.1" class="k1n"/><circle cx="640" cy="450.4" r="3.1" class="k1p"/><circle cx="540.7" cy="293.2" r="3.1" class="km"/><circle cx="803.9" cy="427.8" r="3.1" class="k1j"/><circle cx="626" cy="446" r="3.1" class="k1o"/><circle cx="605.6" cy="448.6" r="3.1" class="k1o"/><circle cx="630.9" cy="448.5" r="3.1" class="k1o"/><circle cx="673.6" cy="448.3" r="3.1" class="k1o"/><circle cx="572.7" cy="443.7" r="3.1" class="k1n"/><circle cx="564.2" cy="442.5" r="3.1" class="k1n"/><circle cx="539.9" cy="311.4" r="3.1" class="kr"/><circle cx="817.8" cy="294.5" r="3.1" class="km"/><circle cx="638.8" cy="447.9" r="3.1" class="k1o"/><circle cx="581" cy="446.2" r="3.1" class="k1o"/><circle cx="591.2" cy="443.6" r="3.1" class="k1n"/><circle cx="615.8" cy="446.5" r="3.1" class="k1o"/><circle cx="629.7" cy="447" r="3.1" class="k1o"/><circle cx="614.6" cy="447.1" r="3.1" class="k1o"/><circle cx="737.8" cy="444.9" r="3.1" class="k1n"/><circle cx="817.8" cy="343.2" r="3.1" class="ky"/><circle cx="733.1" cy="446.8" r="3.1" class="k1o"/><circle cx="643.8" cy="445.3" r="3.1" class="k1n"/><circle cx="705.2" cy="448.8" r="3.1" class="k1o"/><circle cx="650.3" cy="447.6" r="3.1" class="k1o"/><circle cx="660.4" cy="449" r="3.1" class="k1o"/><circle cx="728.5" cy="448.6" r="3.1" class="k1o"/><circle cx="555.5" cy="441.9" r="3.1" class="k1m"/><circle cx="651.5" cy="450.5" r="3.1" class="k1p"/><circle cx="818.2" cy="318.5" r="3.1" class="ks"/><circle cx="595.4" cy="444.9" r="3.1" class="k1n"/><circle cx="585.5" cy="445.4" r="3.1" class="k1n"/><circle cx="627.2" cy="445.1" r="3.1" class="k1n"/><circle cx="665.1" cy="449.2" r="3.1" class="k1o"/><circle cx="814.5" cy="367.9" r="3.1" class="k14"/><circle cx="645" cy="447.2" r="3.1" class="k1o"/><circle cx="613.4" cy="447.3" r="3.1" class="k1o"/><circle cx="691.6" cy="447.6" r="3.1" class="k1o"/><circle cx="600.7" cy="445.1" r="3.1" class="k1n"/><circle cx="748" cy="446.6" r="3.1" class="k1o"/><circle cx="544.6" cy="403" r="3.1" class="k1d"/><circle cx="678.6" cy="449.2" r="3.1" class="k1o"/><circle cx="646.1" cy="449.3" r="3.1" class="k1o"/><circle cx="549.4" cy="436.7" r="3.1" class="k1l"/><circle cx="618.3" cy="444.1" r="3.1" class="k1n"/><circle cx="539.7" cy="327.3" r="3.1" class="ku"/><circle cx="701" cy="450" r="3.1" class="k1o"/><circle cx="805.3" cy="415.4" r="3.1" class="k1g"/><circle cx="674.8" cy="451.7" r="3.1" class="k1p"/><circle cx="542.7" cy="388.9" r="3.1" class="k19"/><circle cx="547.1" cy="425.2" r="3.1" class="k1i"/><circle cx="559.2" cy="443.7" r="3.1" class="k1n"/><circle cx="634.4" cy="449.6" r="3.1" class="k1o"/><circle cx="641.1" cy="449.7" r="3.1" class="k1o"/><circle cx="540.2" cy="344.3" r="3.1" class="ky"/><circle cx="687.6" cy="449.2" r="3.1" class="k1o"/><circle cx="633.2" cy="448.1" r="3.1" class="k1o"/><circle cx="611.1" cy="448.2" r="3.1" class="k1o"/><circle cx="604.4" cy="447.8" r="3.1" class="k1o"/><circle cx="632.1" cy="446.9" r="3.1" class="k1o"/><circle cx="542" cy="375.1" r="3.1" class="k16"/><circle cx="567.9" cy="443.1" r="3.1" class="k1n"/><circle cx="540.7" cy="290.3" r="3.1" class="kl"/><circle cx="719.4" cy="450.6" r="3.1" class="k1o"/><circle cx="576.3" cy="444.5" r="3.1" class="k1n"/><circle cx="545.8" cy="413.4" r="3.1" class="k1f"/><circle cx="563" cy="445.6" r="3.1" class="k1n"/><circle cx="818.7" cy="290.7" r="3.1" class="kl"/><circle cx="589.9" cy="444.1" r="3.1" class="k1n"/><circle cx="669.9" cy="448.3" r="3.1" class="k1o"/><circle cx="655.9" cy="446.9" r="3.1" class="k1n"/><circle cx="584.3" cy="447.1" r="3.1" class="k1n"/><circle cx="540" cy="308.2" r="3.1" class="kp"/><circle cx="599.5" cy="445.3" r="3.1" class="k1n"/><circle cx="738.4" cy="448.1" r="3.1" class="k1o"/><circle cx="743.2" cy="446.2" r="3.1" class="k1n"/><circle cx="612.2" cy="445.9" r="3.1" class="k1n"/><circle cx="594.2" cy="445.1" r="3.1" class="k1n"/><circle cx="623.2" cy="449.2" r="3.1" class="k1o"/><circle cx="588.8" cy="446.8" r="3.1" class="k1n"/><circle cx="661.5" cy="449.9" r="3.1" class="k1o"/><circle cx="622.1" cy="448.9" r="3.1" class="k1o"/><circle cx="541.1" cy="358.7" r="3.1" class="k12"/><circle cx="724" cy="446.9" r="3.1" class="k1n"/><circle cx="696.9" cy="449.5" r="3.1" class="k1o"/><circle cx="624.3" cy="448.6" r="3.1" class="k1o"/><circle cx="635.5" cy="448.4" r="3.1" class="k1o"/><circle cx="642.2" cy="449.3" r="3.1" class="k1o"/><circle cx="818.6" cy="314.5" r="3.1" class="kr"/><circle cx="652.5" cy="449.9" r="3.1" class="k1o"/><circle cx="729" cy="450.3" r="3.1" class="k1o"/><circle cx="579.8" cy="446.2" r="3.1" class="k1n"/><circle cx="610" cy="447.1" r="3.1" class="k1n"/><circle cx="666.2" cy="450.1" r="3.1" class="k1o"/><circle cx="608.9" cy="448.4" r="3.1" class="k1o"/><circle cx="810.3" cy="388.4" r="3.1" class="k19"/><circle cx="621.1" cy="448.2" r="3.1" class="k1o"/><circle cx="625.4" cy="448.4" r="3.1" class="k1o"/><circle cx="598.3" cy="446.1" r="3.1" class="k1n"/><circle cx="617.9" cy="448.8" r="3.1" class="k1o"/><circle cx="683.6" cy="448.9" r="3.1" class="k1o"/><circle cx="636.5" cy="449.2" r="3.1" class="k1o"/><circle cx="817.6" cy="338.7" r="3.1" class="kx"/><circle cx="626.4" cy="448.5" r="3.1" class="k1o"/><circle cx="603.3" cy="446.8" r="3.1" class="k1n"/><circle cx="620" cy="447.8" r="3.1" class="k1n"/><circle cx="627.5" cy="448.8" r="3.1" class="k1o"/><circle cx="710.6" cy="451.4" r="3.1" class="k1o"/><circle cx="733.7" cy="447.6" r="3.1" class="k1n"/><circle cx="554.2" cy="444.2" r="3.1" class="k1n"/><circle cx="647.3" cy="447.6" r="3.1" class="k1n"/><circle cx="571.5" cy="443.2" r="3.1" class="k1m"/><circle cx="679.7" cy="450.9" r="3.1" class="k1o"/><circle cx="593.1" cy="446" r="3.1" class="k1n"/><circle cx="575.1" cy="446.3" r="3.1" class="k1n"/><circle cx="607.8" cy="448.7" r="3.1" class="k1o"/><circle cx="814.5" cy="363.1" r="3.1" class="k13"/><circle cx="803.9" cy="421.6" r="3.1" class="k1h"/><circle cx="539.9" cy="323.7" r="3.1" class="kt"/><circle cx="540.9" cy="287.5" r="3.1" class="kk"/><circle cx="583.3" cy="448.4" r="3.1" class="k1o"/><circle cx="592" cy="448.7" r="3.1" class="k1o"/><circle cx="566.7" cy="445" r="3.1" class="k1n"/><circle cx="648.3" cy="449.4" r="3.1" class="k1o"/><circle cx="644.2" cy="451.6" r="3.1" class="k1o"/><circle cx="715.1" cy="448.4" r="3.1" class="k1o"/><circle cx="614.8" cy="449" r="3.1" class="k1o"/><circle cx="597.2" cy="446.9" r="3.1" class="k1n"/><circle cx="629.5" cy="448.8" r="3.1" class="k1o"/><circle cx="540.4" cy="340.1" r="3.1" class="kx"/><circle cx="643.2" cy="449.1" r="3.1" class="k1o"/><circle cx="805.8" cy="410" r="3.1" class="k1e"/><circle cx="606.8" cy="449.1" r="3.1" class="k1o"/><circle cx="630.5" cy="449.3" r="3.1" class="k1o"/><circle cx="692.7" cy="449.1" r="3.1" class="k1o"/><circle cx="540.3" cy="305" r="3.1" class="ko"/><circle cx="587.7" cy="447.1" r="3.1" class="k1n"/><circle cx="637.5" cy="448.8" r="3.1" class="k1o"/><circle cx="638.5" cy="449.9" r="3.1" class="k1o"/><circle cx="715.5" cy="452.2" r="3.1" class="k1o"/><circle cx="671" cy="448.8" r="3.1" class="k1n"/><circle cx="724.5" cy="448.7" r="3.1" class="k1n"/><circle cx="632.4" cy="450.5" r="3.1" class="k1o"/><circle cx="658" cy="449.6" r="3.1" class="k1o"/><circle cx="602.2" cy="446.2" r="3.1" class="k1n"/><circle cx="720" cy="450.3" r="3.1" class="k1o"/><circle cx="542.2" cy="369.7" r="3.1" class="k14"/><circle cx="702.1" cy="452.4" r="3.1" class="k1o"/><circle cx="675.8" cy="450.9" r="3.1" class="k1o"/><circle cx="639.4" cy="451.2" r="3.1" class="k1o"/><circle cx="688.7" cy="450.1" r="3.1" class="k1o"/><circle cx="601.2" cy="448" r="3.1" class="k1n"/><circle cx="667.2" cy="451.1" r="3.1" class="k1o"/><circle cx="631.5" cy="448.9" r="3.1" class="k1n"/><circle cx="540.9" cy="284.8" r="3.1" class="kk"/><circle cx="578.7" cy="446.7" r="3.1" class="k1n"/><circle cx="612.8" cy="448.8" r="3.1" class="k1n"/><circle cx="658.9" cy="452.6" r="3.1" class="k1o"/><circle cx="818.6" cy="310.4" r="3.1" class="kq"/><circle cx="818.4" cy="334.6" r="3.1" class="kw"/><circle cx="600.2" cy="449.7" r="3.1" class="k1o"/><circle cx="645.1" cy="451.8" r="3.1" class="k1o"/><circle cx="811.2" cy="383.8" r="3.1" class="k17"/><circle cx="541.2" cy="354.1" r="3.1" class="k10"/><circle cx="605.8" cy="448.9" r="3.1" class="k1n"/><circle cx="570.4" cy="445.3" r="3.1" class="k1n"/><circle cx="706.4" cy="449.7" r="3.1" class="k1o"/><circle cx="591.1" cy="449.1" r="3.1" class="k1n"/><circle cx="653.6" cy="448.5" r="3.1" class="k1n"/><circle cx="596.2" cy="447" r="3.1" class="k1n"/><circle cx="561.9" cy="445.5" r="3.1" class="k1n"/><circle cx="611.9" cy="449.1" r="3.1" class="k1n"/><circle cx="558" cy="443" r="3.1" class="k1m"/><circle cx="640.3" cy="451.8" r="3.1" class="k1o"/><circle cx="582.3" cy="449.1" r="3.1" class="k1n"/><circle cx="662.6" cy="448.5" r="3.1" class="k1n"/><circle cx="680.6" cy="453.2" r="3.1" class="k1o"/><circle cx="649.3" cy="449.3" r="3.1" class="k1n"/><circle cx="542.5" cy="265.2" r="3.1" class="kf"/><circle cx="540.1" cy="320.2" r="3.1" class="ks"/><circle cx="633.4" cy="449.6" r="3.1" class="k1o"/><circle cx="684.6" cy="450.6" r="3.1" class="k1o"/><circle cx="645.9" cy="453" r="3.1" class="k1o"/><circle cx="565.7" cy="447.2" r="3.1" class="k1n"/><circle cx="814.8" cy="358.6" r="3.1" class="k11"/><circle cx="543.6" cy="381.7" r="3.1" class="k17"/><circle cx="634.2" cy="450.4" r="3.1" class="k1o"/><circle cx="604.9" cy="449.3" r="3.1" class="k1n"/><circle cx="599.3" cy="450.5" r="3.1" class="k1o"/><circle cx="540.6" cy="282.2" r="3.1" class="kj"/><circle cx="641.2" cy="452.8" r="3.1" class="k1o"/><circle cx="540.4" cy="302" r="3.1" class="kn"/><circle cx="623" cy="450.2" r="3.1" class="k1o"/><circle cx="635.1" cy="451.5" r="3.1" class="k1o"/><circle cx="622.1" cy="450.1" r="3.1" class="k1o"/><circle cx="624.7" cy="450.5" r="3.1" class="k1o"/><circle cx="611" cy="449" r="3.1" class="k1n"/><circle cx="663.4" cy="451.7" r="3.1" class="k1o"/><circle cx="610.1" cy="450.1" r="3.1" class="k1o"/><circle cx="540.5" cy="336.3" r="3.1" class="kw"/><circle cx="574.1" cy="446.4" r="3.1" class="k1n"/><circle cx="595.3" cy="448.4" r="3.1" class="k1n"/><circle cx="654.5" cy="450.3" r="3.1" class="k1o"/><circle cx="586.7" cy="447.1" r="3.1" class="k1n"/><circle cx="623.9" cy="449.9" r="3.1" class="k1o"/><circle cx="625.6" cy="450.5" r="3.1" class="k1o"/><circle cx="671.9" cy="450.8" r="3.1" class="k1o"/><circle cx="650.1" cy="450.7" r="3.1" class="k1o"/><circle cx="545.6" cy="394.5" r="3.1" class="k1a"/><circle cx="577.8" cy="448.9" r="3.1" class="k1n"/><circle cx="546.1" cy="405.3" r="3.1" class="k1c"/><circle cx="618.7" cy="450.1" r="3.1" class="k1o"/><circle cx="569.5" cy="448.5" r="3.1" class="k1n"/><circle cx="693.7" cy="452.7" r="3.1" class="k1o"/><circle cx="627.3" cy="450.9" r="3.1" class="k1o"/><circle cx="697.9" cy="450.9" r="3.1" class="k1o"/><circle cx="549.6" cy="426.9" r="3.1" class="k1i"/><circle cx="711.2" cy="450" r="3.1" class="k1n"/><circle cx="590.2" cy="449.9" r="3.1" class="k1n"/><circle cx="609.2" cy="450.6" r="3.1" class="k1o"/><circle cx="804.1" cy="415.9" r="3.1" class="k1f"/><circle cx="641.9" cy="453.6" r="3.1" class="k1o"/><circle cx="547.5" cy="415.9" r="3.1" class="k1f"/><circle cx="659.7" cy="453.5" r="3.1" class="k1o"/><circle cx="706.8" cy="451.3" r="3.1" class="k1o"/><circle cx="628.9" cy="451.6" r="3.1" class="k1o"/><circle cx="542.4" cy="262.8" r="3.1" class="ke"/><circle cx="629.7" cy="452.4" r="3.1" class="k1o"/><circle cx="806.5" cy="404.9" r="3.1" class="k1c"/><circle cx="668.1" cy="451.9" r="3.1" class="k1o"/><circle cx="615.4" cy="451.1" r="3.1" class="k1o"/><circle cx="626.5" cy="449.2" r="3.1" class="k1n"/><circle cx="635.9" cy="450.9" r="3.1" class="k1o"/><circle cx="607.6" cy="452.5" r="3.1" class="k1o"/><circle cx="818.6" cy="306.4" r="3.1" class="ko"/><circle cx="689.5" cy="453.1" r="3.1" class="k1o"/><circle cx="676.6" cy="452" r="3.1" class="k1o"/><circle cx="573.2" cy="449.4" r="3.1" class="k1n"/><circle cx="616.2" cy="450" r="3.1" class="k1n"/><circle cx="630.5" cy="452.1" r="3.1" class="k1o"/><circle cx="685.4" cy="454.5" r="3.1" class="k1o"/><circle cx="557.1" cy="446" r="3.1" class="k1m"/><circle cx="598.5" cy="450.2" r="3.1" class="k1n"/><circle cx="617" cy="449.1" r="3.1" class="k1n"/><circle cx="608.4" cy="450.3" r="3.1" class="k1n"/><circle cx="603.2" cy="450.1" r="3.1" class="k1n"/><circle cx="811.7" cy="379.1" r="3.1" class="k16"/><circle cx="540.2" cy="316.8" r="3.1" class="kr"/><circle cx="702.5" cy="451.2" r="3.1" class="k1o"/><circle cx="631.2" cy="452.4" r="3.1" class="k1o"/><circle cx="817.8" cy="330.2" r="3.1" class="ku"/><circle cx="540.5" cy="299" r="3.1" class="km"/><circle cx="646.7" cy="451.9" r="3.1" class="k1o"/><circle cx="636.7" cy="451.2" r="3.1" class="k1o"/><circle cx="632" cy="453.2" r="3.1" class="k1o"/><circle cx="561" cy="447.4" r="3.1" class="k1n"/><circle cx="786.3" cy="447.1" r="3.1" class="k1n"/><circle cx="792" cy="445.9" r="3.1" class="k1m"/><circle cx="540.9" cy="279.5" r="3.1" class="ki"/><circle cx="655.3" cy="450.5" r="3.1" class="k1n"/><circle cx="606.9" cy="452.4" r="3.1" class="k1o"/><circle cx="637.4" cy="452.2" r="3.1" class="k1o"/><circle cx="589.4" cy="450.6" r="3.1" class="k1n"/><circle cx="672.7" cy="452.7" r="3.1" class="k1o"/><circle cx="542.4" cy="260.3" r="3.1" class="kd"/><circle cx="604" cy="447.2" r="3.1" class="k1n"/><circle cx="698.3" cy="451.9" r="3.1" class="k1o"/><circle cx="815.2" cy="354.2" r="3.1" class="k10"/><circle cx="542.7" cy="364.1" r="3.1" class="k12"/><circle cx="769.9" cy="449.7" r="3.1" class="k1n"/><circle cx="540.6" cy="332.5" r="3.1" class="kv"/><circle cx="585" cy="450.6" r="3.1" class="k1n"/><circle cx="642.7" cy="452.4" r="3.1" class="k1o"/><circle cx="594.4" cy="447.1" r="3.1" class="k1m"/><circle cx="638.1" cy="453.2" r="3.1" class="k1o"/><circle cx="780.8" cy="447.2" r="3.1" class="k1m"/><circle cx="593.6" cy="450" r="3.1" class="k1n"/><circle cx="775.3" cy="448.2" r="3.1" class="k1n"/><circle cx="617.8" cy="446.7" r="3.1" class="k1m"/><circle cx="576.9" cy="449.6" r="3.1" class="k1n"/><circle cx="541.9" cy="349" r="3.1" class="kz"/><circle cx="651.7" cy="452.5" r="3.1" class="k1o"/><circle cx="759.5" cy="451.1" r="3.1" class="k1n"/><circle cx="754.5" cy="452.1" r="3.1" class="k1o"/><circle cx="564.8" cy="448" r="3.1" class="k1n"/><circle cx="656" cy="452.7" r="3.1" class="k1o"/><circle cx="597.7" cy="450.5" r="3.1" class="k1n"/><circle cx="795.4" cy="443.8" r="3.1" class="k1m"/><circle cx="694.1" cy="452.3" r="3.1" class="k1o"/><circle cx="612.3" cy="451.6" r="3.1" class="k1n"/><circle cx="668.8" cy="453.5" r="3.1" class="k1o"/><circle cx="554.5" cy="442.2" r="3.1" class="k1l"/><circle cx="613.1" cy="450.4" r="3.1" class="k1n"/><circle cx="611.6" cy="452.5" r="3.1" class="k1o"/><circle cx="622.1" cy="452.6" r="3.1" class="k1o"/><circle cx="581.4" cy="446.9" r="3.1" class="k1m"/><circle cx="632.7" cy="452.1" r="3.1" class="k1o"/><circle cx="568.6" cy="449.5" r="3.1" class="k1n"/><circle cx="540.7" cy="277" r="3.1" class="kh"/><circle cx="606.2" cy="452.2" r="3.1" class="k1o"/><circle cx="643.4" cy="453.4" r="3.1" class="k1o"/><circle cx="647.5" cy="452.1" r="3.1" class="k1o"/><circle cx="652.3" cy="454.6" r="3.1" class="k1o"/><circle cx="554.2" cy="433.6" r="3.1" class="k1j"/><circle cx="633.3" cy="452.8" r="3.1" class="k1o"/><circle cx="664.2" cy="450.3" r="3.1" class="k1n"/><circle cx="585.8" cy="445.3" r="3.1" class="k1m"/><circle cx="572.4" cy="451" r="3.1" class="k1n"/><circle cx="624.8" cy="452.4" r="3.1" class="k1o"/><circle cx="624.1" cy="452.1" r="3.1" class="k1o"/><circle cx="764.7" cy="448.7" r="3.1" class="k1n"/><circle cx="660.4" cy="452.5" r="3.1" class="k1o"/><circle cx="620.8" cy="451.9" r="3.1" class="k1n"/><circle cx="818.6" cy="302.5" r="3.1" class="kn"/><circle cx="601.7" cy="450.9" r="3.1" class="k1n"/><circle cx="540.6" cy="296.2" r="3.1" class="kl"/><circle cx="804.5" cy="410.5" r="3.1" class="k1d"/><circle cx="592.9" cy="451.1" r="3.1" class="k1n"/><circle cx="685.8" cy="453.8" r="3.1" class="k1o"/><circle cx="618.8" cy="452.2" r="3.1" class="k1o"/><circle cx="818.5" cy="326.2" r="3.1" class="kt"/><circle cx="611" cy="452.1" r="3.1" class="k1n"/><circle cx="626.1" cy="452.4" r="3.1" class="k1o"/><circle cx="540.5" cy="313.5" r="3.1" class="kq"/><circle cx="542.6" cy="257.9" r="3.1" class="kc"/><circle cx="601.1" cy="452.5" r="3.1" class="k1o"/><circle cx="580.6" cy="449.8" r="3.1" class="k1n"/><circle cx="681.7" cy="455" r="3.1" class="k1o"/><circle cx="806.5" cy="399.5" r="3.1" class="k1b"/><circle cx="619.5" cy="451.5" r="3.1" class="k1n"/><circle cx="681.4" cy="451.8" r="3.1" class="k1n"/><circle cx="621.5" cy="450.9" r="3.1" class="k1n"/><circle cx="628.6" cy="454.3" r="3.1" class="k1o"/><circle cx="588.6" cy="450.9" r="3.1" class="k1n"/><circle cx="644" cy="454.3" r="3.1" class="k1o"/><circle cx="596.4" cy="453.6" r="3.1" class="k1o"/><circle cx="749.5" cy="450.7" r="3.1" class="k1n"/><circle cx="610.4" cy="452.8" r="3.1" class="k1o"/><circle cx="623.5" cy="450.7" r="3.1" class="k1n"/><circle cx="664.9" cy="453.3" r="3.1" class="k1o"/><circle cx="618.2" cy="451.8" r="3.1" class="k1n"/><circle cx="639.4" cy="453.7" r="3.1" class="k1o"/><circle cx="739.8" cy="452.4" r="3.1" class="k1n"/><circle cx="648.1" cy="453" r="3.1" class="k1o"/><circle cx="540.5" cy="329.1" r="3.1" class="kt"/><circle cx="689.9" cy="451.2" r="3.1" class="k1n"/><circle cx="540.6" cy="274.5" r="3.1" class="kg"/><circle cx="544.4" cy="375" r="3.1" class="k15"/><circle cx="811.8" cy="374.2" r="3.1" class="k15"/><circle cx="638.8" cy="451.6" r="3.1" class="k1n"/><circle cx="634" cy="452.2" r="3.1" class="k1n"/><circle cx="744.6" cy="451.2" r="3.1" class="k1n"/><circle cx="560.2" cy="449.5" r="3.1" class="k1n"/><circle cx="605.6" cy="451.6" r="3.1" class="k1n"/><circle cx="597" cy="450.1" r="3.1" class="k1n"/></g><g class="a8"><circle cx="634.6" cy="453.2" r="3.1" class="k1o"/><circle cx="656.7" cy="453.1" r="3.1" class="k1o"/><circle cx="815.4" cy="349.9" r="3.1" class="ky"/><circle cx="616.3" cy="452.6" r="3.1" class="k1n"/><circle cx="635.1" cy="454.4" r="3.1" class="k1o"/><circle cx="661" cy="454.6" r="3.1" class="k1o"/><circle cx="677.4" cy="452.3" r="3.1" class="k1n"/><circle cx="673.6" cy="456.6" r="3.1" class="k1o"/><circle cx="735" cy="452.6" r="3.1" class="k1n"/><circle cx="617.5" cy="451.3" r="3.1" class="k1n"/><circle cx="600.5" cy="453.1" r="3.1" class="k1o"/><circle cx="609.8" cy="452.9" r="3.1" class="k1o"/><circle cx="640" cy="454.5" r="3.1" class="k1o"/><circle cx="657.2" cy="456.3" r="3.1" class="k1o"/><circle cx="626.7" cy="451" r="3.1" class="k1n"/><circle cx="629.7" cy="454.2" r="3.1" class="k1o"/><circle cx="546.2" cy="387.3" r="3.1" class="k17"/><circle cx="730.3" cy="453.1" r="3.1" class="k1o"/><circle cx="552" cy="429.3" r="3.1" class="k1i"/><circle cx="609.2" cy="453.9" r="3.1" class="k1o"/><circle cx="584.3" cy="450.2" r="3.1" class="k1n"/><circle cx="673.4" cy="453.3" r="3.1" class="k1o"/><circle cx="630.2" cy="454.6" r="3.1" class="k1o"/><circle cx="604.9" cy="452.3" r="3.1" class="k1n"/><circle cx="652.9" cy="454.5" r="3.1" class="k1o"/><circle cx="592.2" cy="451.5" r="3.1" class="k1n"/><circle cx="540.6" cy="293.4" r="3.1" class="kl"/><circle cx="542.1" cy="344.8" r="3.1" class="kx"/><circle cx="588" cy="451.9" r="3.1" class="k1n"/><circle cx="564.1" cy="449.3" r="3.1" class="k1n"/><circle cx="604.4" cy="453.5" r="3.1" class="k1o"/><circle cx="725.7" cy="453.1" r="3.1" class="k1n"/><circle cx="568" cy="450.9" r="3.1" class="k1n"/><circle cx="721.1" cy="454" r="3.1" class="k1o"/><circle cx="635.7" cy="454.2" r="3.1" class="k1o"/><circle cx="576.2" cy="449.3" r="3.1" class="k1n"/><circle cx="818.8" cy="298.7" r="3.1" class="km"/><circle cx="669.4" cy="454" r="3.1" class="k1o"/><circle cx="580" cy="451.2" r="3.1" class="k1n"/><circle cx="665.5" cy="455.5" r="3.1" class="k1o"/><circle cx="540.6" cy="310.5" r="3.1" class="kp"/><circle cx="640.5" cy="454.8" r="3.1" class="k1o"/><circle cx="716.6" cy="454.5" r="3.1" class="k1o"/><circle cx="644.5" cy="453.5" r="3.1" class="k1o"/><circle cx="630.7" cy="454.2" r="3.1" class="k1o"/><circle cx="645" cy="455.8" r="3.1" class="k1o"/><circle cx="608.7" cy="453.7" r="3.1" class="k1o"/><circle cx="648.7" cy="452.9" r="3.1" class="k1n"/><circle cx="540.6" cy="272" r="3.1" class="kf"/><circle cx="677.7" cy="453" r="3.1" class="k1n"/><circle cx="669.6" cy="455.8" r="3.1" class="k1o"/><circle cx="629.1" cy="451.5" r="3.1" class="k1n"/><circle cx="712.2" cy="454.9" r="3.1" class="k1o"/><circle cx="649.2" cy="455.3" r="3.1" class="k1o"/><circle cx="608.2" cy="454.7" r="3.1" class="k1o"/><circle cx="547.2" cy="396.5" r="3.1" class="k19"/><circle cx="557.3" cy="445.2" r="3.1" class="k1l"/><circle cx="818.4" cy="322.1" r="3.1" class="kr"/><circle cx="614.1" cy="452.8" r="3.1" class="k1n"/><circle cx="595.8" cy="452.4" r="3.1" class="k1n"/><circle cx="636.2" cy="454.3" r="3.1" class="k1o"/><circle cx="661.5" cy="456" r="3.1" class="k1o"/><circle cx="707.8" cy="455.3" r="3.1" class="k1o"/><circle cx="543.6" cy="358.4" r="3.1" class="k10"/><circle cx="795.7" cy="437.5" r="3.1" class="k1k"/><circle cx="613.5" cy="453.4" r="3.1" class="k1n"/><circle cx="550.1" cy="417.1" r="3.1" class="k1e"/><circle cx="603.9" cy="453.7" r="3.1" class="k1n"/><circle cx="591.7" cy="452.4" r="3.1" class="k1n"/><circle cx="599.9" cy="452.4" r="3.1" class="k1n"/><circle cx="583.7" cy="451.5" r="3.1" class="k1n"/><circle cx="540.5" cy="290.8" r="3.1" class="kk"/><circle cx="631.2" cy="453.8" r="3.1" class="k1n"/><circle cx="615.1" cy="450.4" r="3.1" class="k1n"/><circle cx="571.8" cy="450.6" r="3.1" class="k1n"/><circle cx="621.2" cy="453.8" r="3.1" class="k1n"/><circle cx="540.9" cy="325.4" r="3.1" class="ks"/><circle cx="641" cy="455" r="3.1" class="k1o"/><circle cx="632.1" cy="455.5" r="3.1" class="k1o"/><circle cx="599.4" cy="454.3" r="3.1" class="k1o"/><circle cx="812.3" cy="369.8" r="3.1" class="k13"/><circle cx="595.4" cy="454.2" r="3.1" class="k1o"/><circle cx="806.7" cy="394.3" r="3.1" class="k19"/><circle cx="804.5" cy="404.9" r="3.1" class="k1b"/><circle cx="631.7" cy="454.2" r="3.1" class="k1o"/><circle cx="622.6" cy="453.4" r="3.1" class="k1n"/><circle cx="653.4" cy="454.6" r="3.1" class="k1o"/><circle cx="624" cy="453.7" r="3.1" class="k1n"/><circle cx="575.6" cy="451.6" r="3.1" class="k1n"/><circle cx="545.4" cy="382.7" r="3.1" class="k16"/><circle cx="587.5" cy="452.7" r="3.1" class="k1n"/><circle cx="815.6" cy="345.5" r="3.1" class="kx"/><circle cx="623.1" cy="453.3" r="3.1" class="k1n"/><circle cx="665.7" cy="455.2" r="3.1" class="k1o"/><circle cx="625.4" cy="454.3" r="3.1" class="k1o"/><circle cx="699.1" cy="455.4" r="3.1" class="k1o"/><circle cx="624.5" cy="453.4" r="3.1" class="k1n"/><circle cx="559.6" cy="451.1" r="3.1" class="k1n"/><circle cx="544.4" cy="369.9" r="3.1" class="k13"/><circle cx="548.9" cy="405.6" r="3.1" class="k1c"/><circle cx="618.5" cy="454.3" r="3.1" class="k1n"/><circle cx="618.9" cy="453.9" r="3.1" class="k1n"/><circle cx="540.7" cy="269.5" r="3.1" class="kf"/><circle cx="657.7" cy="455.8" r="3.1" class="k1o"/><circle cx="623.5" cy="452.9" r="3.1" class="k1n"/><circle cx="632.6" cy="455.5" r="3.1" class="k1o"/><circle cx="619.8" cy="453.2" r="3.1" class="k1n"/><circle cx="624.9" cy="453.4" r="3.1" class="k1n"/><circle cx="636.6" cy="453.7" r="3.1" class="k1n"/><circle cx="703.5" cy="454" r="3.1" class="k1n"/><circle cx="653.8" cy="457.1" r="3.1" class="k1o"/><circle cx="626.6" cy="454.7" r="3.1" class="k1o"/><circle cx="819" cy="294.9" r="3.1" class="kl"/><circle cx="540.7" cy="307.4" r="3.1" class="ko"/><circle cx="649.6" cy="455.3" r="3.1" class="k1o"/><circle cx="607.7" cy="453.3" r="3.1" class="k1n"/><circle cx="645.5" cy="454.8" r="3.1" class="k1o"/><circle cx="603.4" cy="453.3" r="3.1" class="k1n"/><circle cx="637.1" cy="454.7" r="3.1" class="k1o"/><circle cx="686.5" cy="456.9" r="3.1" class="k1o"/><circle cx="579.5" cy="451.7" r="3.1" class="k1n"/><circle cx="694.9" cy="455.1" r="3.1" class="k1o"/><circle cx="627" cy="454.5" r="3.1" class="k1n"/><circle cx="612.6" cy="452.4" r="3.1" class="k1n"/><circle cx="632.9" cy="455.5" r="3.1" class="k1o"/><circle cx="594.9" cy="454.9" r="3.1" class="k1o"/><circle cx="626.2" cy="453.3" r="3.1" class="k1n"/><circle cx="617.2" cy="454.3" r="3.1" class="k1n"/><circle cx="641.4" cy="454.5" r="3.1" class="k1n"/><circle cx="542.6" cy="340.5" r="3.1" class="kw"/><circle cx="654" cy="457.6" r="3.1" class="k1o"/><circle cx="661.8" cy="454.7" r="3.1" class="k1n"/><circle cx="690.7" cy="455.4" r="3.1" class="k1o"/><circle cx="657.8" cy="456.1" r="3.1" class="k1o"/><circle cx="611.8" cy="454.1" r="3.1" class="k1n"/><circle cx="543.2" cy="354.5" r="3.1" class="kz"/><circle cx="818.7" cy="318.2" r="3.1" class="kq"/><circle cx="563.5" cy="450.5" r="3.1" class="k1m"/><circle cx="599" cy="454" r="3.1" class="k1n"/><circle cx="616.5" cy="455" r="3.1" class="k1n"/><circle cx="612.2" cy="452.8" r="3.1" class="k1n"/><circle cx="603" cy="454.2" r="3.1" class="k1n"/><circle cx="591.2" cy="452.3" r="3.1" class="k1n"/><circle cx="540.5" cy="267.1" r="3.1" class="ke"/><circle cx="616.8" cy="454.2" r="3.1" class="k1n"/><circle cx="682.4" cy="456.6" r="3.1" class="k1o"/><circle cx="633.3" cy="455.7" r="3.1" class="k1o"/><circle cx="637.4" cy="454.9" r="3.1" class="k1n"/><circle cx="540.9" cy="288" r="3.1" class="kj"/><circle cx="641.7" cy="455.7" r="3.1" class="k1o"/><circle cx="611.4" cy="454.4" r="3.1" class="k1n"/><circle cx="617.6" cy="452.8" r="3.1" class="k1n"/><circle cx="606.9" cy="454.8" r="3.1" class="k1n"/><circle cx="627.8" cy="454.3" r="3.1" class="k1n"/><circle cx="571.3" cy="452.2" r="3.1" class="k1n"/><circle cx="628.2" cy="454.8" r="3.1" class="k1n"/><circle cx="567.4" cy="450.9" r="3.1" class="k1m"/><circle cx="616.1" cy="454.8" r="3.1" class="k1n"/><circle cx="650" cy="456.3" r="3.1" class="k1o"/><circle cx="645.8" cy="455.1" r="3.1" class="k1n"/><circle cx="579.1" cy="454.1" r="3.1" class="k1n"/><circle cx="615.4" cy="455.6" r="3.1" class="k1o"/><circle cx="587" cy="452.6" r="3.1" class="k1n"/><circle cx="650.1" cy="457.3" r="3.1" class="k1o"/><circle cx="816.1" cy="341.5" r="3.1" class="kw"/><circle cx="611" cy="454.6" r="3.1" class="k1n"/><circle cx="670.2" cy="457.7" r="3.1" class="k1o"/><circle cx="594.6" cy="455.7" r="3.1" class="k1o"/><circle cx="602.7" cy="454.7" r="3.1" class="k1n"/><circle cx="812.5" cy="365.2" r="3.1" class="k12"/><circle cx="633.9" cy="456.8" r="3.1" class="k1o"/><circle cx="805.4" cy="400.2" r="3.1" class="k1a"/><circle cx="628.5" cy="454.4" r="3.1" class="k1n"/><circle cx="628.8" cy="455.1" r="3.1" class="k1n"/><circle cx="575.2" cy="452.3" r="3.1" class="k1n"/><circle cx="541.4" cy="321.7" r="3.1" class="kr"/><circle cx="583.2" cy="450.5" r="3.1" class="k1m"/><circle cx="615.1" cy="455.7" r="3.1" class="k1n"/><circle cx="598.6" cy="454.4" r="3.1" class="k1n"/><circle cx="606.6" cy="455" r="3.1" class="k1n"/><circle cx="633.6" cy="455.2" r="3.1" class="k1n"/><circle cx="590.8" cy="453.5" r="3.1" class="k1n"/><circle cx="807" cy="389.4" r="3.1" class="k17"/><circle cx="662.2" cy="458.7" r="3.1" class="k1o"/><circle cx="796.2" cy="431.7" r="3.1" class="k1i"/><circle cx="606.3" cy="456.4" r="3.1" class="k1o"/><circle cx="541" cy="304.4" r="3.1" class="kn"/><circle cx="634.2" cy="457.3" r="3.1" class="k1o"/><circle cx="582.9" cy="454" r="3.1" class="k1n"/><circle cx="614.9" cy="455.7" r="3.1" class="k1n"/><circle cx="674.2" cy="455.8" r="3.1" class="k1n"/><circle cx="678.3" cy="454.9" r="3.1" class="k1n"/><circle cx="637.8" cy="454" r="3.1" class="k1n"/><circle cx="614.6" cy="456.1" r="3.1" class="k1o"/><circle cx="642.1" cy="455.2" r="3.1" class="k1n"/><circle cx="610.4" cy="455.4" r="3.1" class="k1n"/><circle cx="621.3" cy="455.5" r="3.1" class="k1n"/><circle cx="666.2" cy="456.9" r="3.1" class="k1o"/><circle cx="634.4" cy="457.8" r="3.1" class="k1o"/><circle cx="615.8" cy="453" r="3.1" class="k1n"/><circle cx="620.8" cy="455.7" r="3.1" class="k1n"/><circle cx="571" cy="454.8" r="3.1" class="k1n"/><circle cx="544.6" cy="364.8" r="3.1" class="k11"/><circle cx="630" cy="456.5" r="3.1" class="k1o"/><circle cx="610.7" cy="453.9" r="3.1" class="k1n"/><circle cx="540.9" cy="264.8" r="3.1" class="kd"/><circle cx="629.1" cy="454.1" r="3.1" class="k1n"/><circle cx="541.1" cy="285.4" r="3.1" class="ki"/><circle cx="638.3" cy="456.8" r="3.1" class="k1o"/><circle cx="623.2" cy="455.3" r="3.1" class="k1n"/><circle cx="542.7" cy="336.7" r="3.1" class="ku"/><circle cx="620.3" cy="455.7" r="3.1" class="k1n"/><circle cx="602.3" cy="454.8" r="3.1" class="k1n"/><circle cx="621.1" cy="455.2" r="3.1" class="k1n"/><circle cx="658.3" cy="458" r="3.1" class="k1o"/><circle cx="818.9" cy="314.3" r="3.1" class="kp"/><circle cx="598.3" cy="455.1" r="3.1" class="k1n"/><circle cx="622.4" cy="454.8" r="3.1" class="k1n"/><circle cx="622.1" cy="454.8" r="3.1" class="k1n"/><circle cx="586.7" cy="453.9" r="3.1" class="k1n"/><circle cx="642.3" cy="456.6" r="3.1" class="k1o"/><circle cx="629.7" cy="455.2" r="3.1" class="k1n"/><circle cx="563.1" cy="452.5" r="3.1" class="k1n"/><circle cx="630.2" cy="456.7" r="3.1" class="k1o"/><circle cx="646.3" cy="456" r="3.1" class="k1n"/><circle cx="610.2" cy="455.6" r="3.1" class="k1n"/><circle cx="619.8" cy="455.5" r="3.1" class="k1n"/><circle cx="590.5" cy="454.6" r="3.1" class="k1n"/><circle cx="638.5" cy="457.6" r="3.1" class="k1o"/><circle cx="630.4" cy="457.1" r="3.1" class="k1o"/><circle cx="545.9" cy="376.4" r="3.1" class="k14"/><circle cx="552.5" cy="419.1" r="3.1" class="k1e"/><circle cx="625" cy="455.6" r="3.1" class="k1n"/><circle cx="619.1" cy="455.8" r="3.1" class="k1n"/><circle cx="567" cy="452.5" r="3.1" class="k1m"/><circle cx="624.7" cy="455.1" r="3.1" class="k1n"/><circle cx="624.2" cy="454.6" r="3.1" class="k1n"/><circle cx="602.1" cy="455.5" r="3.1" class="k1n"/><circle cx="598.1" cy="456.4" r="3.1" class="k1n"/><circle cx="816.7" cy="337.5" r="3.1" class="ku"/><circle cx="574.9" cy="454" r="3.1" class="k1n"/><circle cx="625.4" cy="455.8" r="3.1" class="k1n"/><circle cx="609.9" cy="455.9" r="3.1" class="k1n"/><circle cx="634.7" cy="458.5" r="3.1" class="k1o"/><circle cx="634.6" cy="457.1" r="3.1" class="k1o"/><circle cx="541.1" cy="301.6" r="3.1" class="km"/><circle cx="614.1" cy="455.4" r="3.1" class="k1n"/><circle cx="634.8" cy="458.9" r="3.1" class="k1o"/><circle cx="613.9" cy="456.1" r="3.1" class="k1n"/><circle cx="543.8" cy="349.6" r="3.1" class="kx"/><circle cx="619.3" cy="454.7" r="3.1" class="k1n"/><circle cx="540.8" cy="262.4" r="3.1" class="kc"/><circle cx="646.5" cy="458.3" r="3.1" class="k1o"/><circle cx="541.7" cy="318.3" r="3.1" class="kq"/><circle cx="625.8" cy="455.8" r="3.1" class="k1n"/><circle cx="812.9" cy="360.9" r="3.1" class="k10"/><circle cx="594.3" cy="454.3" r="3.1" class="k1n"/><circle cx="606" cy="454.4" r="3.1" class="k1n"/><circle cx="642.4" cy="455.6" r="3.1" class="k1n"/><circle cx="613.7" cy="456.6" r="3.1" class="k1n"/><circle cx="618.7" cy="455.3" r="3.1" class="k1n"/><circle cx="590.3" cy="456.2" r="3.1" class="k1n"/><circle cx="626.3" cy="456.8" r="3.1" class="k1n"/><circle cx="541.1" cy="282.9" r="3.1" class="kh"/><circle cx="654.3" cy="456.3" r="3.1" class="k1n"/><circle cx="601.9" cy="456.3" r="3.1" class="k1n"/><circle cx="578.7" cy="453.6" r="3.1" class="k1n"/><circle cx="638.6" cy="456.6" r="3.1" class="k1n"/><circle cx="550.8" cy="407.8" r="3.1" class="k1b"/><circle cx="582.6" cy="454.2" r="3.1" class="k1n"/><circle cx="618.5" cy="455.2" r="3.1" class="k1n"/><circle cx="626.5" cy="456.7" r="3.1" class="k1n"/><circle cx="650.4" cy="456.7" r="3.1" class="k1n"/><circle cx="618" cy="456.3" r="3.1" class="k1n"/><circle cx="626.6" cy="457" r="3.1" class="k1n"/><circle cx="548.8" cy="387.4" r="3.1" class="k16"/><circle cx="691" cy="460.8" r="3.1" class="k1o"/><circle cx="807.1" cy="384.4" r="3.1" class="k16"/><circle cx="805.4" cy="395" r="3.1" class="k18"/><circle cx="586.5" cy="454.3" r="3.1" class="k1n"/><circle cx="642.7" cy="457.6" r="3.1" class="k1o"/><circle cx="630.9" cy="457.1" r="3.1" class="k1n"/><circle cx="542.7" cy="333.1" r="3.1" class="kt"/><circle cx="613.6" cy="456.1" r="3.1" class="k1n"/><circle cx="549.7" cy="397" r="3.1" class="k19"/><circle cx="540.6" cy="260.1" r="3.1" class="kc"/><circle cx="726.2" cy="459.6" r="3.1" class="k1o"/><circle cx="626.8" cy="456.8" r="3.1" class="k1n"/><circle cx="699.5" cy="460" r="3.1" class="k1o"/><circle cx="682.7" cy="460.3" r="3.1" class="k1o"/><circle cx="627" cy="457.6" r="3.1" class="k1n"/><circle cx="617.5" cy="456.6" r="3.1" class="k1n"/><circle cx="613.4" cy="456.6" r="3.1" class="k1n"/><circle cx="818.7" cy="310.3" r="3.1" class="ko"/><circle cx="703.8" cy="459.7" r="3.1" class="k1o"/><circle cx="745.2" cy="458.9" r="3.1" class="k1o"/><circle cx="597.9" cy="456.1" r="3.1" class="k1n"/><circle cx="626.9" cy="456.8" r="3.1" class="k1n"/><circle cx="691" cy="460.8" r="3.1" class="k1o"/><circle cx="570.8" cy="455.5" r="3.1" class="k1n"/><circle cx="617.7" cy="455.6" r="3.1" class="k1n"/><circle cx="617.3" cy="457" r="3.1" class="k1n"/><circle cx="541" cy="280.5" r="3.1" class="kg"/><circle cx="721.6" cy="460.4" r="3.1" class="k1o"/><circle cx="658.4" cy="459.9" r="3.1" class="k1o"/><circle cx="617.2" cy="457.4" r="3.1" class="k1n"/><circle cx="566.8" cy="454.7" r="3.1" class="k1n"/><circle cx="541.3" cy="298.8" r="3.1" class="kl"/><circle cx="627.1" cy="457.2" r="3.1" class="k1n"/><circle cx="609.4" cy="457.7" r="3.1" class="k1n"/><circle cx="605.7" cy="455.2" r="3.1" class="k1n"/><circle cx="631" cy="456.7" r="3.1" class="k1n"/><circle cx="712.6" cy="458.7" r="3.1" class="k1o"/><circle cx="574.7" cy="455.4" r="3.1" class="k1n"/><circle cx="594.1" cy="454.4" r="3.1" class="k1n"/><circle cx="617.1" cy="457.6" r="3.1" class="k1n"/><circle cx="654.5" cy="459.7" r="3.1" class="k1o"/><circle cx="557.1" cy="425.4" r="3.1" class="k1f"/><circle cx="717.1" cy="458.5" r="3.1" class="k1o"/><circle cx="740.4" cy="458" r="3.1" class="k1n"/><circle cx="601.7" cy="458" r="3.1" class="k1n"/><circle cx="678.6" cy="459.1" r="3.1" class="k1o"/><circle cx="658.4" cy="460" r="3.1" class="k1o"/><circle cx="795.7" cy="425.2" r="3.1" class="k1f"/><circle cx="594" cy="457.2" r="3.1" class="k1n"/><circle cx="638.8" cy="456.7" r="3.1" class="k1n"/><circle cx="816.9" cy="333.4" r="3.1" class="kt"/><circle cx="699.5" cy="459.7" r="3.1" class="k1o"/><circle cx="686.8" cy="459.7" r="3.1" class="k1o"/><circle cx="670.4" cy="459.7" r="3.1" class="k1o"/><circle cx="735.6" cy="459.5" r="3.1" class="k1o"/><circle cx="590.2" cy="456.5" r="3.1" class="k1n"/><circle cx="678.6" cy="459.7" r="3.1" class="k1o"/><circle cx="695.3" cy="458.4" r="3.1" class="k1o"/><circle cx="627.2" cy="457.6" r="3.1" class="k1n"/><circle cx="541.9" cy="315.2" r="3.1" class="kp"/><circle cx="650.6" cy="459.6" r="3.1" class="k1o"/><circle cx="613.3" cy="455.9" r="3.1" class="k1n"/><circle cx="627.1" cy="456.9" r="3.1" class="k1n"/><circle cx="674.5" cy="458.6" r="3.1" class="k1o"/><circle cx="708.2" cy="457.9" r="3.1" class="k1n"/><circle cx="631.1" cy="457.7" r="3.1" class="k1n"/><circle cx="635" cy="456.9" r="3.1" class="k1n"/><circle cx="726.2" cy="459.2" r="3.1" class="k1o"/><circle cx="686.9" cy="458.2" r="3.1" class="k1n"/><circle cx="670.4" cy="458.5" r="3.1" class="k1o"/><circle cx="617.1" cy="457.2" r="3.1" class="k1n"/><circle cx="666.4" cy="458.5" r="3.1" class="k1o"/><circle cx="695.3" cy="459.1" r="3.1" class="k1o"/><circle cx="613.2" cy="456.5" r="3.1" class="k1n"/><circle cx="622.3" cy="456.6" r="3.1" class="k1n"/><circle cx="650.6" cy="458.7" r="3.1" class="k1o"/><circle cx="708.2" cy="459" r="3.1" class="k1o"/><circle cx="635" cy="459.2" r="3.1" class="k1o"/><circle cx="770.7" cy="458.8" r="3.1" class="k1o"/><circle cx="721.7" cy="457.4" r="3.1" class="k1n"/><circle cx="781.5" cy="458.7" r="3.1" class="k1o"/><circle cx="617" cy="457.5" r="3.1" class="k1n"/><circle cx="730.9" cy="457.1" r="3.1" class="k1n"/><circle cx="586.3" cy="455.3" r="3.1" class="k1n"/><circle cx="682.7" cy="458.9" r="3.1" class="k1o"/><circle cx="617" cy="458" r="3.1" class="k1n"/><circle cx="597.8" cy="456.5" r="3.1" class="k1n"/><circle cx="760.3" cy="456.4" r="3.1" class="k1n"/><circle cx="740.4" cy="458.6" r="3.1" class="k1o"/><circle cx="654.5" cy="458.8" r="3.1" class="k1o"/><circle cx="750.2" cy="456.5" r="3.1" class="k1n"/><circle cx="613.1" cy="457.9" r="3.1" class="k1n"/><circle cx="703.9" cy="458.6" r="3.1" class="k1n"/><circle cx="635" cy="458.6" r="3.1" class="k1n"/><circle cx="781.6" cy="455.9" r="3.1" class="k1n"/><circle cx="717.1" cy="458.5" r="3.1" class="k1n"/><circle cx="712.7" cy="458.5" r="3.1" class="k1n"/><circle cx="578.6" cy="454.2" r="3.1" class="k1m"/><circle cx="621.2" cy="456.9" r="3.1" class="k1n"/><circle cx="812.9" cy="356.5" r="3.1" class="kz"/><circle cx="662.4" cy="458.5" r="3.1" class="k1n"/><circle cx="750.2" cy="458.2" r="3.1" class="k1n"/><circle cx="545.5" cy="359.1" r="3.1" class="kz"/><circle cx="666.4" cy="458.4" r="3.1" class="k1n"/><circle cx="617" cy="458" r="3.1" class="k1n"/><circle cx="646.7" cy="458.1" r="3.1" class="k1n"/><circle cx="674.5" cy="458.2" r="3.1" class="k1n"/><circle cx="770.8" cy="455.5" r="3.1" class="k1n"/><circle cx="541" cy="278.1" r="3.1" class="kg"/><circle cx="735.6" cy="456.1" r="3.1" class="k1n"/><circle cx="631.2" cy="458.2" r="3.1" class="k1n"/><circle cx="544.3" cy="345.1" r="3.1" class="kw"/><circle cx="808" cy="380.2" r="3.1" class="k14"/><circle cx="776.1" cy="455.3" r="3.1" class="k1n"/><circle cx="542.8" cy="329.6" r="3.1" class="ks"/><circle cx="559.7" cy="438.3" r="3.1" class="k1i"/><circle cx="558.6" cy="431" r="3.1" class="k1h"/><circle cx="582.4" cy="453.8" r="3.1" class="k1m"/><circle cx="776.1" cy="457.5" r="3.1" class="k1n"/><circle cx="631.1" cy="459.3" r="3.1" class="k1o"/><circle cx="819.2" cy="306.6" r="3.1" class="km"/><circle cx="650.5" cy="462.6" r="3.1" class="k1o"/><circle cx="646.7" cy="457.7" r="3.1" class="k1n"/><circle cx="642.8" cy="457.6" r="3.1" class="k1n"/><circle cx="638.9" cy="457.6" r="3.1" class="k1n"/><circle cx="621" cy="456.3" r="3.1" class="k1n"/><circle cx="605.5" cy="455.9" r="3.1" class="k1n"/><circle cx="755.2" cy="455.1" r="3.1" class="k1n"/><circle cx="646.6" cy="461.3" r="3.1" class="k1o"/><circle cx="620.9" cy="456.6" r="3.1" class="k1n"/><circle cx="541.4" cy="296.1" r="3.1" class="kk"/><circle cx="622.9" cy="455.2" r="3.1" class="k1n"/><circle cx="745.3" cy="457" r="3.1" class="k1n"/><circle cx="627.3" cy="458.1" r="3.1" class="k1n"/><circle cx="765.5" cy="456.7" r="3.1" class="k1n"/><circle cx="635" cy="459.1" r="3.1" class="k1n"/><circle cx="601.7" cy="459.2" r="3.1" class="k1n"/><circle cx="631.2" cy="456.9" r="3.1" class="k1n"/><circle cx="617" cy="458.1" r="3.1" class="k1n"/><circle cx="755.2" cy="456.6" r="3.1" class="k1n"/><circle cx="597.8" cy="457" r="3.1" class="k1n"/><circle cx="623.4" cy="456.3" r="3.1" class="k1n"/><circle cx="620.8" cy="457.1" r="3.1" class="k1n"/><circle cx="613.1" cy="457.9" r="3.1" class="k1n"/><circle cx="601.6" cy="456.9" r="3.1" class="k1n"/><circle cx="631" cy="460" r="3.1" class="k1o"/><circle cx="623.4" cy="457.5" r="3.1" class="k1n"/><circle cx="805.5" cy="390" r="3.1" class="k17"/><circle cx="609.3" cy="455.4" r="3.1" class="k1n"/><circle cx="635" cy="458.9" r="3.1" class="k1n"/><circle cx="590.1" cy="456.6" r="3.1" class="k1n"/><circle cx="586.3" cy="456.6" r="3.1" class="k1n"/><circle cx="605.5" cy="456.6" r="3.1" class="k1n"/><circle cx="627.3" cy="457.4" r="3.1" class="k1n"/><circle cx="620.8" cy="457.2" r="3.1" class="k1n"/><circle cx="620.9" cy="457.4" r="3.1" class="k1n"/><circle cx="542" cy="312.2" r="3.1" class="ko"/><circle cx="623.4" cy="457.4" r="3.1" class="k1n"/><circle cx="574.6" cy="456.4" r="3.1" class="k1n"/><circle cx="582.4" cy="456.4" r="3.1" class="k1n"/><circle cx="760.3" cy="456" r="3.1" class="k1n"/><circle cx="613.2" cy="458.2" r="3.1" class="k1n"/><circle cx="594" cy="456.3" r="3.1" class="k1n"/><circle cx="617" cy="456.3" r="3.1" class="k1n"/><circle cx="547.1" cy="369.6" r="3.1" class="k12"/><circle cx="561.9" cy="443.6" r="3.1" class="k1k"/><circle cx="623.5" cy="456.2" r="3.1" class="k1n"/><circle cx="540.9" cy="275.7" r="3.1" class="kf"/><circle cx="617" cy="457.7" r="3.1" class="k1n"/><circle cx="570.7" cy="456.1" r="3.1" class="k1n"/><circle cx="658.3" cy="461.6" r="3.1" class="k1o"/><circle cx="597.9" cy="458.6" r="3.1" class="k1n"/><circle cx="765.6" cy="453.3" r="3.1" class="k1m"/><circle cx="650.5" cy="460.3" r="3.1" class="k1o"/><circle cx="621.1" cy="457.6" r="3.1" class="k1n"/><circle cx="731" cy="455.4" r="3.1" class="k1m"/><circle cx="816.7" cy="329.3" r="3.1" class="ks"/><circle cx="549" cy="381.2" r="3.1" class="k15"/><circle cx="623.1" cy="457.6" r="3.1" class="k1n"/><circle cx="617.2" cy="458.8" r="3.1" class="k1n"/><circle cx="621.1" cy="457.4" r="3.1" class="k1n"/><circle cx="627.2" cy="457.3" r="3.1" class="k1n"/><circle cx="626.9" cy="459.3" r="3.1" class="k1n"/><circle cx="609.4" cy="458.1" r="3.1" class="k1n"/><circle cx="634.8" cy="459.9" r="3.1" class="k1o"/><circle cx="621" cy="456.7" r="3.1" class="k1n"/><circle cx="622.8" cy="457.7" r="3.1" class="k1n"/><circle cx="622.3" cy="458" r="3.1" class="k1n"/><circle cx="627" cy="459.1" r="3.1" class="k1n"/><circle cx="623.2" cy="456.9" r="3.1" class="k1n"/><circle cx="594" cy="458.2" r="3.1" class="k1n"/><circle cx="621.5" cy="457.6" r="3.1" class="k1n"/><circle cx="578.5" cy="455.2" r="3.1" class="k1m"/><circle cx="586.3" cy="459" r="3.1" class="k1n"/><circle cx="605.6" cy="458.7" r="3.1" class="k1n"/><circle cx="621.6" cy="457.6" r="3.1" class="k1n"/><circle cx="617.1" cy="457.8" r="3.1" class="k1n"/><circle cx="590.2" cy="458.4" r="3.1" class="k1n"/><circle cx="642.7" cy="458.5" r="3.1" class="k1n"/><circle cx="626.8" cy="459.7" r="3.1" class="k1n"/><circle cx="626.8" cy="459.6" r="3.1" class="k1n"/><circle cx="630.8" cy="459.9" r="3.1" class="k1n"/><circle cx="617.4" cy="459.1" r="3.1" class="k1n"/><circle cx="622.1" cy="457.6" r="3.1" class="k1n"/><circle cx="630.8" cy="460" r="3.1" class="k1n"/><circle cx="627.1" cy="457.8" r="3.1" class="k1n"/><circle cx="617.3" cy="458.5" r="3.1" class="k1n"/><circle cx="553" cy="409.9" r="3.1" class="k1b"/><circle cx="605.7" cy="460" r="3.1" class="k1n"/><circle cx="626.6" cy="460.1" r="3.1" class="k1o"/><circle cx="542.9" cy="326.3" r="3.1" class="kr"/><circle cx="598" cy="459.7" r="3.1" class="k1n"/><circle cx="658.3" cy="460.7" r="3.1" class="k1o"/><circle cx="813.2" cy="352.2" r="3.1" class="kx"/><circle cx="541.6" cy="293.5" r="3.1" class="kj"/><circle cx="638.8" cy="457.1" r="3.1" class="k1n"/><circle cx="566.7" cy="454.4" r="3.1" class="k1m"/><circle cx="564.6" cy="448.3" r="3.1" class="k1l"/><circle cx="819.4" cy="302.8" r="3.1" class="kl"/><circle cx="795.7" cy="419.3" r="3.1" class="k1d"/><circle cx="613.3" cy="458" r="3.1" class="k1n"/><circle cx="642.4" cy="461.4" r="3.1" class="k1o"/><circle cx="544.4" cy="341.3" r="3.1" class="kv"/><circle cx="784" cy="451" r="3.1" class="k1l"/><circle cx="654.4" cy="458.8" r="3.1" class="k1n"/><circle cx="646.6" cy="457.9" r="3.1" class="k1n"/><circle cx="594.1" cy="459.6" r="3.1" class="k1n"/><circle cx="662.3" cy="459.8" r="3.1" class="k1n"/><circle cx="609.3" cy="455" r="3.1" class="k1m"/><circle cx="674.3" cy="461.6" r="3.1" class="k1o"/><circle cx="590.3" cy="460.3" r="3.1" class="k1n"/><circle cx="541" cy="273.4" r="3.1" class="ke"/><circle cx="654.4" cy="459.1" r="3.1" class="k1n"/><circle cx="686.6" cy="463.3" r="3.1" class="k1o"/><circle cx="609.6" cy="458.8" r="3.1" class="k1n"/><circle cx="618" cy="459.5" r="3.1" class="k1n"/><circle cx="613.4" cy="458.1" r="3.1" class="k1n"/><circle cx="617.8" cy="459" r="3.1" class="k1n"/><circle cx="807.9" cy="375.3" r="3.1" class="k13"/><circle cx="545.9" cy="354.3" r="3.1" class="ky"/><circle cx="551.6" cy="399.1" r="3.1" class="k18"/><circle cx="542.2" cy="309.3" r="3.1" class="kn"/><circle cx="670.3" cy="461.3" r="3.1" class="k1o"/><circle cx="638.6" cy="459" r="3.1" class="k1n"/><circle cx="605.8" cy="460" r="3.1" class="k1n"/><circle cx="638.2" cy="462.2" r="3.1" class="k1o"/><circle cx="618.1" cy="459.6" r="3.1" class="k1n"/><circle cx="650.1" cy="462.8" r="3.1" class="k1o"/><circle cx="625.8" cy="460.2" r="3.1" class="k1n"/><circle cx="601.8" cy="457.1" r="3.1" class="k1n"/><circle cx="626.4" cy="458.9" r="3.1" class="k1n"/><circle cx="634.5" cy="459.8" r="3.1" class="k1n"/><circle cx="574.7" cy="457.8" r="3.1" class="k1n"/><circle cx="662.3" cy="459.5" r="3.1" class="k1n"/><circle cx="670.3" cy="460.1" r="3.1" class="k1n"/><circle cx="626.2" cy="459.2" r="3.1" class="k1n"/><circle cx="666.3" cy="459.4" r="3.1" class="k1n"/><circle cx="646.3" cy="461.2" r="3.1" class="k1o"/><circle cx="550.6" cy="389" r="3.1" class="k16"/><circle cx="630.5" cy="459.2" r="3.1" class="k1n"/><circle cx="609.7" cy="459.2" r="3.1" class="k1n"/><circle cx="678.4" cy="461.9" r="3.1" class="k1o"/><circle cx="618.3" cy="459.4" r="3.1" class="k1n"/><circle cx="613.7" cy="458.9" r="3.1" class="k1n"/><circle cx="666.3" cy="459.8" r="3.1" class="k1n"/><circle cx="806.2" cy="385.6" r="3.1" class="k15"/><circle cx="582.4" cy="456.4" r="3.1" class="k1m"/><circle cx="541.5" cy="291" r="3.1" class="ki"/><circle cx="629.8" cy="461.6" r="3.1" class="k1o"/><circle cx="682.5" cy="461.3" r="3.1" class="k1o"/><circle cx="618.9" cy="460.1" r="3.1" class="k1n"/><circle cx="690.8" cy="462.3" r="3.1" class="k1o"/><circle cx="634.5" cy="459" r="3.1" class="k1n"/><circle cx="654" cy="463" r="3.1" class="k1o"/><circle cx="816.7" cy="325.3" r="3.1" class="kr"/><circle cx="682.5" cy="461.9" r="3.1" class="k1o"/><circle cx="630.2" cy="459.9" r="3.1" class="k1n"/><circle cx="578.6" cy="456.2" r="3.1" class="k1m"/><circle cx="629.4" cy="462.2" r="3.1" class="k1o"/><circle cx="674.3" cy="460.4" r="3.1" class="k1n"/><circle cx="540.9" cy="271.1" r="3.1" class="kd"/><circle cx="625" cy="460.2" r="3.1" class="k1n"/><circle cx="557" cy="416.6" r="3.1" class="k1d"/><circle cx="602.1" cy="460" r="3.1" class="k1n"/><circle cx="783.5" cy="450.9" r="3.1" class="k1l"/><circle cx="634.1" cy="460.9" r="3.1" class="k1n"/><circle cx="629.5" cy="461.9" r="3.1" class="k1o"/><circle cx="598.1" cy="459" r="3.1" class="k1n"/><circle cx="570.7" cy="456.7" r="3.1" class="k1m"/><circle cx="606" cy="459.9" r="3.1" class="k1n"/><circle cx="695" cy="463.5" r="3.1" class="k1o"/><circle cx="609.9" cy="459.1" r="3.1" class="k1n"/><circle cx="678.4" cy="459.7" r="3.1" class="k1n"/><circle cx="614.6" cy="460.9" r="3.1" class="k1n"/><circle cx="624.5" cy="460.2" r="3.1" class="k1n"/><circle cx="699.3" cy="462.8" r="3.1" class="k1o"/><circle cx="625.2" cy="459.4" r="3.1" class="k1n"/><circle cx="634.1" cy="460.3" r="3.1" class="k1n"/><circle cx="633.6" cy="462.6" r="3.1" class="k1o"/><circle cx="686.6" cy="461.8" r="3.1" class="k1o"/><circle cx="548.8" cy="376.1" r="3.1" class="k13"/><circle cx="624.2" cy="460.2" r="3.1" class="k1n"/><circle cx="642" cy="462" r="3.1" class="k1o"/><circle cx="638.2" cy="460.1" r="3.1" class="k1n"/><circle cx="547.5" cy="364.3" r="3.1" class="k10"/><circle cx="594.3" cy="459.3" r="3.1" class="k1n"/><circle cx="819.3" cy="299.1" r="3.1" class="kk"/><circle cx="623.7" cy="460.3" r="3.1" class="k1n"/><circle cx="542.2" cy="306.5" r="3.1" class="km"/><circle cx="619.5" cy="459.4" r="3.1" class="k1n"/><circle cx="598.3" cy="460.4" r="3.1" class="k1n"/><circle cx="629.1" cy="461.6" r="3.1" class="k1n"/><circle cx="543.4" cy="322.7" r="3.1" class="kq"/><circle cx="812.9" cy="347.9" r="3.1" class="kw"/><circle cx="645.7" cy="463.5" r="3.1" class="k1o"/><circle cx="657.9" cy="462.7" r="3.1" class="k1o"/><circle cx="586.4" cy="457.5" r="3.1" class="k1m"/><circle cx="641.9" cy="461.6" r="3.1" class="k1n"/><circle cx="574.9" cy="459.8" r="3.1" class="k1n"/><circle cx="623.2" cy="460" r="3.1" class="k1n"/><circle cx="695.1" cy="461" r="3.1" class="k1n"/><circle cx="621.1" cy="460" r="3.1" class="k1n"/><circle cx="620.8" cy="459.8" r="3.1" class="k1n"/><circle cx="544.8" cy="337.4" r="3.1" class="kt"/><circle cx="628.8" cy="461.8" r="3.1" class="k1n"/><circle cx="610.4" cy="460" r="3.1" class="k1n"/><circle cx="582.6" cy="457.9" r="3.1" class="k1n"/><circle cx="637.7" cy="461.6" r="3.1" class="k1n"/><circle cx="808.5" cy="371.1" r="3.1" class="k12"/><circle cx="690.8" cy="461" r="3.1" class="k1n"/><circle cx="606.6" cy="461.3" r="3.1" class="k1n"/><circle cx="602.7" cy="462" r="3.1" class="k1o"/><circle cx="620" cy="458.8" r="3.1" class="k1n"/><circle cx="578.7" cy="458.5" r="3.1" class="k1n"/><circle cx="615.1" cy="460.6" r="3.1" class="k1n"/><circle cx="606.3" cy="459.6" r="3.1" class="k1n"/><circle cx="712.4" cy="463" r="3.1" class="k1o"/><circle cx="602.3" cy="459.8" r="3.1" class="k1n"/><circle cx="703.6" cy="462.8" r="3.1" class="k1o"/><circle cx="606.9" cy="462.6" r="3.1" class="k1o"/><circle cx="541.8" cy="288.4" r="3.1" class="ki"/><circle cx="633.7" cy="460.5" r="3.1" class="k1n"/><circle cx="708" cy="462.1" r="3.1" class="k1n"/><circle cx="796" cy="414" r="3.1" class="k1c"/><circle cx="637.7" cy="461.3" r="3.1" class="k1n"/><circle cx="541.1" cy="268.9" r="3.1" class="kd"/><circle cx="590.5" cy="458.8" r="3.1" class="k1n"/><circle cx="628.5" cy="461.4" r="3.1" class="k1n"/><circle cx="615.4" cy="460.7" r="3.1" class="k1n"/><circle cx="614.8" cy="459.2" r="3.1" class="k1n"/><circle cx="641.4" cy="463.5" r="3.1" class="k1o"/><circle cx="622.4" cy="458.9" r="3.1" class="k1n"/><circle cx="627.8" cy="462.5" r="3.1" class="k1o"/><circle cx="721.4" cy="463.6" r="3.1" class="k1o"/><circle cx="703.7" cy="460.9" r="3.1" class="k1n"/><circle cx="628.2" cy="461.9" r="3.1" class="k1n"/><circle cx="546.2" cy="349.8" r="3.1" class="kw"/><circle cx="633.1" cy="461.9" r="3.1" class="k1n"/><circle cx="699.3" cy="461.4" r="3.1" class="k1n"/><circle cx="610.7" cy="460" r="3.1" class="k1n"/><circle cx="614.3" cy="457.3" r="3.1" class="k1m"/><circle cx="627.4" cy="462.9" r="3.1" class="k1o"/><circle cx="661.8" cy="462.3" r="3.1" class="k1n"/><circle cx="615.8" cy="460.8" r="3.1" class="k1n"/><circle cx="586.7" cy="459.2" r="3.1" class="k1n"/><circle cx="816.9" cy="321.4" r="3.1" class="kp"/><circle cx="649.5" cy="463.4" r="3.1" class="k1o"/><circle cx="637.1" cy="462.8" r="3.1" class="k1o"/><circle cx="570.9" cy="458.6" r="3.1" class="k1n"/><circle cx="712.3" cy="463" r="3.1" class="k1o"/><circle cx="707.9" cy="462.1" r="3.1" class="k1n"/><circle cx="579" cy="461.3" r="3.1" class="k1n"/><circle cx="784.2" cy="444.6" r="3.1" class="k1j"/><circle cx="611.4" cy="461.4" r="3.1" class="k1n"/><circle cx="611.8" cy="462.4" r="3.1" class="k1n"/><circle cx="603" cy="462" r="3.1" class="k1n"/><circle cx="645.7" cy="461" r="3.1" class="k1n"/><circle cx="814.2" cy="344.2" r="3.1" class="kv"/><circle cx="616.5" cy="461.1" r="3.1" class="k1n"/><circle cx="627" cy="462" r="3.1" class="k1n"/><circle cx="542.6" cy="303.6" r="3.1" class="kl"/><circle cx="543.6" cy="319.6" r="3.1" class="kp"/><circle cx="716.9" cy="461.3" r="3.1" class="k1n"/><circle cx="616.8" cy="461.4" r="3.1" class="k1n"/><circle cx="669.7" cy="463.6" r="3.1" class="k1o"/><circle cx="805.9" cy="380.7" r="3.1" class="k14"/><circle cx="598.6" cy="459.4" r="3.1" class="k1n"/><circle cx="568.1" cy="452.4" r="3.1" class="k1l"/><circle cx="632.6" cy="461.8" r="3.1" class="k1n"/><circle cx="590.8" cy="460" r="3.1" class="k1n"/><circle cx="641.3" cy="461.9" r="3.1" class="k1n"/><circle cx="547.2" cy="360.1" r="3.1" class="kz"/><circle cx="607.3" cy="461.8" r="3.1" class="k1n"/><circle cx="541.1" cy="266.7" r="3.1" class="kc"/><circle cx="594.6" cy="458.3" r="3.1" class="k1m"/><circle cx="587" cy="461.5" r="3.1" class="k1n"/><circle cx="716.8" cy="462.5" r="3.1" class="k1n"/><circle cx="575.2" cy="461.4" r="3.1" class="k1n"/><circle cx="541.9" cy="286" r="3.1" class="kh"/><circle cx="637.1" cy="461.5" r="3.1" class="k1n"/><circle cx="653.2" cy="464.4" r="3.1" class="k1o"/><circle cx="665.8" cy="461.7" r="3.1" class="k1n"/><circle cx="582.9" cy="458.7" r="3.1" class="k1m"/><circle cx="640.6" cy="464.4" r="3.1" class="k1o"/><circle cx="553.5" cy="401.4" r="3.1" class="k18"/><circle cx="645" cy="463.7" r="3.1" class="k1o"/><circle cx="632.1" cy="462.1" r="3.1" class="k1n"/><circle cx="548.7" cy="371" r="3.1" class="k11"/><circle cx="725.9" cy="463.3" r="3.1" class="k1n"/><circle cx="726" cy="461.6" r="3.1" class="k1n"/><circle cx="721.3" cy="462.5" r="3.1" class="k1n"/><circle cx="625.4" cy="462.5" r="3.1" class="k1n"/><circle cx="612.2" cy="461.7" r="3.1" class="k1n"/><circle cx="644.9" cy="463.6" r="3.1" class="k1o"/><circle cx="617.6" cy="461.1" r="3.1" class="k1n"/><circle cx="545.1" cy="333.6" r="3.1" class="ks"/><circle cx="618.5" cy="461.9" r="3.1" class="k1n"/><circle cx="559.7" cy="418.8" r="3.1" class="k1d"/><circle cx="636.4" cy="462.8" r="3.1" class="k1n"/><circle cx="599" cy="460.3" r="3.1" class="k1n"/><circle cx="783.7" cy="444.7" r="3.1" class="k1j"/><circle cx="730.6" cy="461.7" r="3.1" class="k1n"/><circle cx="808.6" cy="366.6" r="3.1" class="k10"/><circle cx="624.9" cy="462.2" r="3.1" class="k1n"/><circle cx="653.3" cy="462.6" r="3.1" class="k1n"/><circle cx="740.1" cy="462.9" r="3.1" class="k1n"/><circle cx="603.4" cy="461.5" r="3.1" class="k1n"/><circle cx="617.2" cy="459.8" r="3.1" class="k1n"/><circle cx="618.9" cy="461.5" r="3.1" class="k1n"/><circle cx="624" cy="462.3" r="3.1" class="k1n"/><circle cx="677.7" cy="464.3" r="3.1" class="k1o"/><circle cx="623.1" cy="462.6" r="3.1" class="k1n"/><circle cx="640.5" cy="463.2" r="3.1" class="k1n"/><circle cx="599.4" cy="461.9" r="3.1" class="k1n"/><circle cx="613.5" cy="463.5" r="3.1" class="k1n"/><circle cx="607.7" cy="461" r="3.1" class="k1n"/><circle cx="619.4" cy="461.5" r="3.1" class="k1n"/><circle cx="817.1" cy="317.6" r="3.1" class="ko"/><circle cx="620.3" cy="461.9" r="3.1" class="k1n"/><circle cx="648.6" cy="464.9" r="3.1" class="k1o"/><circle cx="673.7" cy="462.5" r="3.1" class="k1n"/><circle cx="735.3" cy="461.4" r="3.1" class="k1n"/><circle cx="657.1" cy="464" r="3.1" class="k1o"/><circle cx="591.2" cy="460.7" r="3.1" class="k1n"/><circle cx="542.7" cy="301" r="3.1" class="kk"/><circle cx="622.1" cy="462" r="3.1" class="k1n"/><circle cx="613.1" cy="462.1" r="3.1" class="k1n"/><circle cx="546.5" cy="345.6" r="3.1" class="kv"/><circle cx="730.5" cy="462.1" r="3.1" class="k1n"/><circle cx="621.7" cy="461.8" r="3.1" class="k1n"/><circle cx="542.1" cy="283.6" r="3.1" class="kg"/><circle cx="624.5" cy="461.1" r="3.1" class="k1n"/><circle cx="552.8" cy="390.4" r="3.1" class="k16"/><circle cx="635.7" cy="463.3" r="3.1" class="k1n"/><circle cx="796" cy="408.6" r="3.1" class="k1a"/><circle cx="657" cy="463.9" r="3.1" class="k1n"/><circle cx="591.7" cy="463.3" r="3.1" class="k1n"/><circle cx="608.2" cy="461.6" r="3.1" class="k1n"/><circle cx="541.6" cy="264.5" r="3.1" class="kb"/><circle cx="603.9" cy="462.1" r="3.1" class="k1n"/><circle cx="635.8" cy="462.9" r="3.1" class="k1n"/><circle cx="630.2" cy="463.4" r="3.1" class="k1n"/><circle cx="681.8" cy="464.4" r="3.1" class="k1o"/><circle cx="814.5" cy="340.2" r="3.1" class="kt"/><circle cx="599.9" cy="463" r="3.1" class="k1n"/><circle cx="595.3" cy="460.6" r="3.1" class="k1n"/><circle cx="744.9" cy="461.9" r="3.1" class="k1n"/><circle cx="735.2" cy="462.2" r="3.1" class="k1n"/><circle cx="608.7" cy="462.7" r="3.1" class="k1n"/><circle cx="648.6" cy="464.1" r="3.1" class="k1n"/><circle cx="644.1" cy="464.8" r="3.1" class="k1o"/><circle cx="583.2" cy="459.4" r="3.1" class="k1m"/><circle cx="604.4" cy="463.3" r="3.1" class="k1n"/><circle cx="609.2" cy="463.5" r="3.1" class="k1n"/><circle cx="544.2" cy="316.3" r="3.1" class="ko"/><circle cx="754.8" cy="462.8" r="3.1" class="k1n"/><circle cx="660.9" cy="464.4" r="3.1" class="k1n"/><circle cx="749.9" cy="461.7" r="3.1" class="k1n"/><circle cx="685.9" cy="464.7" r="3.1" class="k1o"/><circle cx="545.2" cy="330.2" r="3.1" class="kr"/><circle cx="652.3" cy="465.5" r="3.1" class="k1o"/><circle cx="806.2" cy="376.3" r="3.1" class="k12"/><circle cx="628.6" cy="464.1" r="3.1" class="k1n"/><circle cx="541.3" cy="262.4" r="3.1" class="kb"/><circle cx="609.8" cy="464.1" r="3.1" class="k1n"/><circle cx="740" cy="461.6" r="3.1" class="k1n"/><circle cx="587.5" cy="460.4" r="3.1" class="k1m"/><circle cx="552.6" cy="379.8" r="3.1" class="k13"/><circle cx="644" cy="463.9" r="3.1" class="k1n"/><circle cx="542" cy="281.4" r="3.1" class="kf"/><circle cx="660.8" cy="464.2" r="3.1" class="k1n"/><circle cx="784.4" cy="438.5" r="3.1" class="k1h"/><circle cx="604.9" cy="463.8" r="3.1" class="k1n"/><circle cx="629.1" cy="463" r="3.1" class="k1n"/><circle cx="557.8" cy="406.8" r="3.1" class="k19"/><circle cx="639.7" cy="462.9" r="3.1" class="k1n"/><circle cx="629.7" cy="462.2" r="3.1" class="k1n"/><circle cx="614.6" cy="462.1" r="3.1" class="k1n"/><circle cx="652.2" cy="465.2" r="3.1" class="k1o"/><circle cx="542.8" cy="298.4" r="3.1" class="kj"/><circle cx="638.9" cy="465.2" r="3.1" class="k1o"/><circle cx="579.4" cy="459.1" r="3.1" class="k1m"/><circle cx="759.9" cy="462" r="3.1" class="k1n"/><circle cx="547.8" cy="355.1" r="3.1" class="kx"/><circle cx="808.6" cy="362.2" r="3.1" class="kz"/><circle cx="744.9" cy="461.4" r="3.1" class="k1n"/><circle cx="563.4" cy="428.3" r="3.1" class="k1f"/><circle cx="817.2" cy="313.9" r="3.1" class="kn"/><circle cx="749.8" cy="462.1" r="3.1" class="k1n"/><circle cx="628" cy="463.5" r="3.1" class="k1n"/><circle cx="600.5" cy="462.6" r="3.1" class="k1n"/><circle cx="690" cy="464.5" r="3.1" class="k1n"/><circle cx="759.8" cy="463.7" r="3.1" class="k1n"/><circle cx="588" cy="462.6" r="3.1" class="k1n"/><circle cx="592.2" cy="463.3" r="3.1" class="k1n"/><circle cx="546.4" cy="342" r="3.1" class="ku"/><circle cx="634.6" cy="462.7" r="3.1" class="k1n"/><circle cx="575.6" cy="460" r="3.1" class="k1m"/><circle cx="615.1" cy="461.8" r="3.1" class="k1n"/><circle cx="626.1" cy="464.6" r="3.1" class="k1n"/><circle cx="572.3" cy="456" r="3.1" class="k1l"/><circle cx="664.6" cy="465" r="3.1" class="k1n"/><circle cx="754.8" cy="462.4" r="3.1" class="k1n"/><circle cx="627.4" cy="463.6" r="3.1" class="k1n"/><circle cx="611" cy="464.8" r="3.1" class="k1n"/><circle cx="583.7" cy="460.6" r="3.1" class="k1m"/><circle cx="765.1" cy="461.7" r="3.1" class="k1n"/><circle cx="595.8" cy="460" r="3.1" class="k1m"/><circle cx="610.3" cy="463.4" r="3.1" class="k1n"/><circle cx="694.2" cy="465.1" r="3.1" class="k1n"/><circle cx="647.5" cy="465.3" r="3.1" class="k1n"/><circle cx="770.4" cy="462.2" r="3.1" class="k1n"/><circle cx="814.8" cy="336.3" r="3.1" class="ks"/><circle cx="544.3" cy="313.4" r="3.1" class="kn"/><circle cx="664.7" cy="463.7" r="3.1" class="k1n"/><circle cx="615.7" cy="461.7" r="3.1" class="k1n"/><circle cx="542" cy="279.1" r="3.1" class="ke"/><circle cx="562.6" cy="420.5" r="3.1" class="k1c"/><circle cx="625.5" cy="464.2" r="3.1" class="k1n"/><circle cx="643" cy="464.9" r="3.1" class="k1n"/><circle cx="601.1" cy="463.6" r="3.1" class="k1n"/><circle cx="698.4" cy="466" r="3.1" class="k1o"/><circle cx="580" cy="461.7" r="3.1" class="k1n"/><circle cx="617.5" cy="462.9" r="3.1" class="k1n"/><circle cx="656" cy="465.2" r="3.1" class="k1n"/><circle cx="545.2" cy="327.1" r="3.1" class="kq"/><circle cx="618.2" cy="463.2" r="3.1" class="k1n"/><circle cx="634" cy="462.4" r="3.1" class="k1n"/><circle cx="611.6" cy="464.6" r="3.1" class="k1n"/><circle cx="619.5" cy="463.9" r="3.1" class="k1n"/><circle cx="796.4" cy="403.7" r="3.1" class="k18"/><circle cx="668.6" cy="465" r="3.1" class="k1n"/><circle cx="620.1" cy="464" r="3.1" class="k1n"/><circle cx="783.6" cy="438.1" r="3.1" class="k1h"/><circle cx="606.2" cy="464.4" r="3.1" class="k1n"/><circle cx="668.5" cy="465.6" r="3.1" class="k1n"/><circle cx="647.6" cy="463.9" r="3.1" class="k1n"/><circle cx="616.9" cy="462" r="3.1" class="k1n"/><circle cx="624.1" cy="463.9" r="3.1" class="k1n"/><circle cx="542.9" cy="295.9" r="3.1" class="ki"/><circle cx="618.8" cy="463.2" r="3.1" class="k1n"/><circle cx="605.5" cy="462.4" r="3.1" class="k1n"/><circle cx="765" cy="462.3" r="3.1" class="k1n"/><circle cx="638.2" cy="464.2" r="3.1" class="k1n"/><circle cx="620.8" cy="463.4" r="3.1" class="k1n"/><circle cx="817.8" cy="310.3" r="3.1" class="km"/><circle cx="568.3" cy="437.4" r="3.1" class="k1g"/><circle cx="651.1" cy="466.2" r="3.1" class="k1n"/><circle cx="642.1" cy="465.9" r="3.1" class="k1n"/><circle cx="632" cy="464.4" r="3.1" class="k1n"/><circle cx="550.3" cy="364" r="3.1" class="kz"/><circle cx="706.9" cy="467.2" r="3.1" class="k1o"/><circle cx="612.3" cy="464.2" r="3.1" class="k1n"/><circle cx="806.4" cy="372" r="3.1" class="k11"/><circle cx="632.7" cy="463.2" r="3.1" class="k1n"/><circle cx="672.5" cy="465.7" r="3.1" class="k1n"/><circle cx="613.1" cy="465.1" r="3.1" class="k1n"/><circle cx="809.1" cy="358.2" r="3.1" class="kx"/><circle cx="542.1" cy="276.9" r="3.1" class="ke"/><circle cx="601.7" cy="463.4" r="3.1" class="k1n"/><circle cx="655.9" cy="463.7" r="3.1" class="k1n"/><circle cx="588.6" cy="462.5" r="3.1" class="k1n"/><circle cx="621.5" cy="462.4" r="3.1" class="k1m"/><circle cx="614.6" cy="466.4" r="3.1" class="k1n"/><circle cx="552.5" cy="374.6" r="3.1" class="k11"/><circle cx="613.8" cy="465.4" r="3.1" class="k1n"/><circle cx="642" cy="465.3" r="3.1" class="k1n"/><circle cx="770.3" cy="461.3" r="3.1" class="k1m"/><circle cx="774.1" cy="459.5" r="3.1" class="k1m"/><circle cx="544.5" cy="310.6" r="3.1" class="km"/><circle cx="651" cy="465.6" r="3.1" class="k1n"/><circle cx="566.6" cy="430.5" r="3.1" class="k1f"/><circle cx="602.4" cy="464.9" r="3.1" class="k1n"/><circle cx="659.6" cy="466" r="3.1" class="k1n"/><circle cx="702.6" cy="464.6" r="3.1" class="k1n"/><circle cx="631.2" cy="464.1" r="3.1" class="k1n"/><circle cx="676.4" cy="466.8" r="3.1" class="k1n"/><circle cx="624.8" cy="461.1" r="3.1" class="k1m"/><circle cx="711.3" cy="467.4" r="3.1" class="k1o"/><circle cx="616.2" cy="466.9" r="3.1" class="k1n"/><circle cx="663.3" cy="468.4" r="3.1" class="k1o"/></g><g class="a9"><circle cx="592.9" cy="461.8" r="3.1" class="k1m"/><circle cx="580.6" cy="462.6" r="3.1" class="k1m"/><circle cx="543.1" cy="293.4" r="3.1" class="ki"/><circle cx="629.7" cy="465.4" r="3.1" class="k1n"/><circle cx="659.7" cy="464.7" r="3.1" class="k1n"/><circle cx="672.4" cy="464.9" r="3.1" class="k1n"/><circle cx="814.7" cy="332.3" r="3.1" class="kr"/><circle cx="646.4" cy="465.1" r="3.1" class="k1n"/><circle cx="576.7" cy="459.7" r="3.1" class="k1m"/><circle cx="547.1" cy="337.8" r="3.1" class="ks"/><circle cx="635.1" cy="467.3" r="3.1" class="k1o"/><circle cx="584.3" cy="459.8" r="3.1" class="k1m"/><circle cx="597.7" cy="463.4" r="3.1" class="k1n"/><circle cx="784.2" cy="432.1" r="3.1" class="k1f"/><circle cx="548.5" cy="350.2" r="3.1" class="kv"/><circle cx="606.9" cy="462.5" r="3.1" class="k1m"/><circle cx="676.3" cy="466.6" r="3.1" class="k1n"/><circle cx="615.3" cy="465.4" r="3.1" class="k1n"/><circle cx="545.6" cy="323.7" r="3.1" class="kp"/><circle cx="542.1" cy="274.7" r="3.1" class="kd"/><circle cx="628.1" cy="465.8" r="3.1" class="k1n"/><circle cx="640.3" cy="467.3" r="3.1" class="k1n"/><circle cx="585" cy="463" r="3.1" class="k1m"/><circle cx="555.4" cy="391.1" r="3.1" class="k15"/><circle cx="589.3" cy="463.5" r="3.1" class="k1n"/><circle cx="641.2" cy="465.1" r="3.1" class="k1n"/><circle cx="636.7" cy="463.3" r="3.1" class="k1m"/><circle cx="593.6" cy="463.2" r="3.1" class="k1m"/><circle cx="598.5" cy="464.8" r="3.1" class="k1n"/><circle cx="560.6" cy="407.9" r="3.1" class="k19"/><circle cx="654.6" cy="466.4" r="3.1" class="k1n"/><circle cx="773.5" cy="459.5" r="3.1" class="k1m"/><circle cx="715.7" cy="467" r="3.1" class="k1n"/><circle cx="654.5" cy="466.8" r="3.1" class="k1n"/><circle cx="544.4" cy="308" r="3.1" class="kl"/><circle cx="796.6" cy="398.7" r="3.1" class="k17"/><circle cx="624.7" cy="466.8" r="3.1" class="k1n"/><circle cx="649.7" cy="467.6" r="3.1" class="k1n"/><circle cx="680.4" cy="466.8" r="3.1" class="k1n"/><circle cx="684.4" cy="468.9" r="3.1" class="k1o"/><circle cx="590.2" cy="466.2" r="3.1" class="k1n"/><circle cx="817.6" cy="306.5" r="3.1" class="kl"/><circle cx="680.3" cy="467.4" r="3.1" class="k1n"/><circle cx="626.5" cy="465.7" r="3.1" class="k1n"/><circle cx="635.9" cy="464.1" r="3.1" class="k1n"/><circle cx="809.7" cy="354.2" r="3.1" class="kw"/><circle cx="617" cy="465.1" r="3.1" class="k1n"/><circle cx="618.7" cy="466" r="3.1" class="k1n"/><circle cx="599.3" cy="466.4" r="3.1" class="k1n"/><circle cx="633.4" cy="467.8" r="3.1" class="k1n"/><circle cx="543.2" cy="291" r="3.1" class="kh"/><circle cx="663.4" cy="465.3" r="3.1" class="k1n"/><circle cx="623" cy="466.5" r="3.1" class="k1n"/><circle cx="645.3" cy="466" r="3.1" class="k1n"/><circle cx="639.5" cy="467.6" r="3.1" class="k1n"/><circle cx="603.2" cy="463.6" r="3.1" class="k1m"/><circle cx="620.4" cy="466.1" r="3.1" class="k1n"/><circle cx="720.1" cy="467.5" r="3.1" class="k1n"/><circle cx="806.9" cy="368" r="3.1" class="kz"/><circle cx="594.4" cy="464.7" r="3.1" class="k1n"/><circle cx="610.1" cy="465.9" r="3.1" class="k1n"/><circle cx="604" cy="465.2" r="3.1" class="k1n"/><circle cx="617.8" cy="464.8" r="3.1" class="k1n"/><circle cx="783.6" cy="432.1" r="3.1" class="k1f"/><circle cx="550.4" cy="359.4" r="3.1" class="kx"/><circle cx="585.8" cy="464.8" r="3.1" class="k1n"/><circle cx="554.9" cy="380.7" r="3.1" class="k12"/><circle cx="632.4" cy="468" r="3.1" class="k1n"/><circle cx="621.3" cy="465.7" r="3.1" class="k1n"/><circle cx="645.1" cy="465.7" r="3.1" class="k1n"/><circle cx="542.3" cy="272.6" r="3.1" class="kc"/><circle cx="600.2" cy="467.5" r="3.1" class="k1n"/><circle cx="815.2" cy="328.6" r="3.1" class="kq"/><circle cx="571.5" cy="442.5" r="3.1" class="k1h"/><circle cx="545.7" cy="320.7" r="3.1" class="ko"/><circle cx="658.2" cy="467.7" r="3.1" class="k1n"/><circle cx="581.4" cy="463.1" r="3.1" class="k1m"/><circle cx="558.6" cy="397.7" r="3.1" class="k16"/><circle cx="552.4" cy="369.6" r="3.1" class="k10"/><circle cx="667.2" cy="466.6" r="3.1" class="k1n"/><circle cx="724.7" cy="467.7" r="3.1" class="k1n"/><circle cx="611" cy="465.9" r="3.1" class="k1n"/><circle cx="688.4" cy="468.9" r="3.1" class="k1o"/><circle cx="605.8" cy="467.5" r="3.1" class="k1n"/><circle cx="638.5" cy="467.6" r="3.1" class="k1n"/><circle cx="684.3" cy="467.4" r="3.1" class="k1n"/><circle cx="648.3" cy="469.1" r="3.1" class="k1o"/><circle cx="544.5" cy="305.3" r="3.1" class="kk"/><circle cx="611.9" cy="466.6" r="3.1" class="k1n"/><circle cx="623.9" cy="464.2" r="3.1" class="k1m"/><circle cx="547.5" cy="334" r="3.1" class="kr"/><circle cx="670.9" cy="468.7" r="3.1" class="k1o"/><circle cx="630.5" cy="468.4" r="3.1" class="k1n"/><circle cx="609.2" cy="462.7" r="3.1" class="k1m"/><circle cx="548.8" cy="346" r="3.1" class="ku"/><circle cx="543.3" cy="288.7" r="3.1" class="kg"/><circle cx="658" cy="467.1" r="3.1" class="k1n"/><circle cx="667" cy="466.1" r="3.1" class="k1n"/><circle cx="631.5" cy="466.9" r="3.1" class="k1n"/><circle cx="574.5" cy="450.5" r="3.1" class="k1j"/><circle cx="604.9" cy="464.6" r="3.1" class="k1m"/><circle cx="542.3" cy="270.5" r="3.1" class="kc"/><circle cx="644.2" cy="465.7" r="3.1" class="k1n"/><circle cx="729.2" cy="467.7" r="3.1" class="k1n"/><circle cx="586.7" cy="465.8" r="3.1" class="k1n"/><circle cx="653.1" cy="467.6" r="3.1" class="k1n"/><circle cx="613.8" cy="467.2" r="3.1" class="k1n"/><circle cx="637.5" cy="467.6" r="3.1" class="k1n"/><circle cx="817.2" cy="302.8" r="3.1" class="kj"/><circle cx="784.4" cy="426.5" r="3.1" class="k1d"/><circle cx="774" cy="452.6" r="3.1" class="k1j"/><circle cx="549.9" cy="355.8" r="3.1" class="kw"/><circle cx="643.2" cy="467.3" r="3.1" class="k1n"/><circle cx="648.5" cy="466.9" r="3.1" class="k1n"/><circle cx="614.8" cy="467.4" r="3.1" class="k1n"/><circle cx="809.4" cy="349.9" r="3.1" class="kv"/><circle cx="595.2" cy="463.9" r="3.1" class="k1m"/><circle cx="688.3" cy="467.6" r="3.1" class="k1n"/><circle cx="582.2" cy="464.5" r="3.1" class="k1m"/><circle cx="674.6" cy="470.6" r="3.1" class="k1o"/><circle cx="670.8" cy="467.4" r="3.1" class="k1n"/><circle cx="796.4" cy="393.7" r="3.1" class="k15"/><circle cx="617.9" cy="468.8" r="3.1" class="k1n"/><circle cx="559.8" cy="402.1" r="3.1" class="k17"/><circle cx="545.9" cy="317.7" r="3.1" class="kn"/><circle cx="596.2" cy="466.1" r="3.1" class="k1n"/><circle cx="563.3" cy="409.8" r="3.1" class="k19"/><circle cx="815.4" cy="324.8" r="3.1" class="kp"/><circle cx="601.2" cy="466.1" r="3.1" class="k1n"/><circle cx="618.9" cy="469" r="3.1" class="k1n"/><circle cx="661.8" cy="467.7" r="3.1" class="k1n"/><circle cx="629.5" cy="466.6" r="3.1" class="k1n"/><circle cx="564.4" cy="416" r="3.1" class="k1a"/><circle cx="592" cy="467.2" r="3.1" class="k1n"/><circle cx="615.8" cy="467.1" r="3.1" class="k1n"/><circle cx="661.6" cy="468.1" r="3.1" class="k1n"/><circle cx="692.5" cy="467.9" r="3.1" class="k1n"/><circle cx="565.9" cy="422.1" r="3.1" class="k1c"/><circle cx="656.4" cy="470" r="3.1" class="k1o"/><circle cx="806.9" cy="363.7" r="3.1" class="ky"/><circle cx="641.1" cy="470.1" r="3.1" class="k1o"/><circle cx="552.1" cy="365.4" r="3.1" class="ky"/><circle cx="635.5" cy="468.8" r="3.1" class="k1n"/><circle cx="543.6" cy="286.4" r="3.1" class="kf"/><circle cx="591" cy="463.6" r="3.1" class="k1m"/><circle cx="545" cy="302.6" r="3.1" class="kj"/><circle cx="642.2" cy="467.6" r="3.1" class="k1n"/><circle cx="542.6" cy="268.4" r="3.1" class="kb"/><circle cx="636.5" cy="467" r="3.1" class="k1n"/><circle cx="547.7" cy="330.7" r="3.1" class="kq"/><circle cx="555.8" cy="384.2" r="3.1" class="k13"/><circle cx="628.5" cy="466.4" r="3.1" class="k1n"/><circle cx="773.5" cy="452.7" r="3.1" class="k1j"/><circle cx="634.4" cy="469.6" r="3.1" class="k1n"/><circle cx="674.7" cy="468" r="3.1" class="k1n"/><circle cx="606.8" cy="465" r="3.1" class="k1m"/><circle cx="616.8" cy="466.8" r="3.1" class="k1n"/><circle cx="783.9" cy="426.6" r="3.1" class="k1d"/><circle cx="587.7" cy="466.7" r="3.1" class="k1n"/><circle cx="621.1" cy="467.9" r="3.1" class="k1n"/><circle cx="696.6" cy="468.9" r="3.1" class="k1n"/><circle cx="651.7" cy="468.8" r="3.1" class="k1n"/><circle cx="651.5" cy="469.3" r="3.1" class="k1n"/><circle cx="624.3" cy="467.4" r="3.1" class="k1n"/><circle cx="602.2" cy="466.4" r="3.1" class="k1n"/><circle cx="607.8" cy="465.9" r="3.1" class="k1m"/><circle cx="692.4" cy="467.4" r="3.1" class="k1n"/><circle cx="626.4" cy="466.7" r="3.1" class="k1n"/><circle cx="583.2" cy="466.1" r="3.1" class="k1m"/><circle cx="611.1" cy="469.7" r="3.1" class="k1n"/><circle cx="733.9" cy="465.7" r="3.1" class="k1m"/><circle cx="593.1" cy="468.4" r="3.1" class="k1n"/><circle cx="738.6" cy="467.4" r="3.1" class="k1n"/><circle cx="623.2" cy="467.3" r="3.1" class="k1n"/><circle cx="597.2" cy="466.5" r="3.1" class="k1n"/><circle cx="603.3" cy="468" r="3.1" class="k1n"/><circle cx="609.9" cy="468.2" r="3.1" class="k1n"/><circle cx="647.3" cy="466.7" r="3.1" class="k1n"/><circle cx="810.3" cy="346.3" r="3.1" class="ku"/><circle cx="678.6" cy="469.7" r="3.1" class="k1n"/><circle cx="622.1" cy="466.9" r="3.1" class="k1n"/><circle cx="543.5" cy="284.2" r="3.1" class="kf"/><circle cx="696.4" cy="469" r="3.1" class="k1n"/><circle cx="665.4" cy="468.6" r="3.1" class="k1n"/><circle cx="633.2" cy="469.1" r="3.1" class="k1n"/><circle cx="640" cy="469.6" r="3.1" class="k1n"/><circle cx="678.4" cy="470.2" r="3.1" class="k1n"/><circle cx="542.6" cy="266.4" r="3.1" class="ka"/><circle cx="549.6" cy="341.6" r="3.1" class="ks"/><circle cx="646.2" cy="468.5" r="3.1" class="k1n"/><circle cx="700.6" cy="470.9" r="3.1" class="k1o"/><circle cx="665.2" cy="468.8" r="3.1" class="k1n"/><circle cx="700.8" cy="469.6" r="3.1" class="k1n"/><circle cx="545.1" cy="300.2" r="3.1" class="ki"/><circle cx="568.8" cy="425" r="3.1" class="k1c"/><circle cx="743.4" cy="467.8" r="3.1" class="k1n"/><circle cx="632.1" cy="469.5" r="3.1" class="k1n"/><circle cx="571.1" cy="430.1" r="3.1" class="k1e"/><circle cx="547.5" cy="327.8" r="3.1" class="kp"/><circle cx="815.4" cy="321.1" r="3.1" class="kn"/><circle cx="555.9" cy="373.6" r="3.1" class="k10"/><circle cx="558.8" cy="390.4" r="3.1" class="k14"/><circle cx="796.7" cy="389.2" r="3.1" class="k14"/><circle cx="546.6" cy="314.5" r="3.1" class="km"/><circle cx="784.8" cy="421.2" r="3.1" class="k1b"/><circle cx="645" cy="469.9" r="3.1" class="k1n"/><circle cx="550.5" cy="351" r="3.1" class="kv"/><circle cx="748.3" cy="468.5" r="3.1" class="k1n"/><circle cx="682.4" cy="470.7" r="3.1" class="k1n"/><circle cx="659.9" cy="470.1" r="3.1" class="k1n"/><circle cx="629.7" cy="470.3" r="3.1" class="k1n"/><circle cx="650.3" cy="469.4" r="3.1" class="k1n"/><circle cx="605.5" cy="469.4" r="3.1" class="k1n"/><circle cx="588.7" cy="467" r="3.1" class="k1m"/><circle cx="604.4" cy="467.5" r="3.1" class="k1n"/><circle cx="613.4" cy="469" r="3.1" class="k1n"/><circle cx="669" cy="470.1" r="3.1" class="k1n"/><circle cx="542.6" cy="264.4" r="3.1" class="ka"/><circle cx="614.6" cy="469.6" r="3.1" class="k1n"/><circle cx="704.8" cy="471.3" r="3.1" class="k1n"/><circle cx="543.8" cy="282" r="3.1" class="ke"/><circle cx="654.7" cy="470.3" r="3.1" class="k1n"/><circle cx="630.9" cy="468.7" r="3.1" class="k1n"/><circle cx="774" cy="446.1" r="3.1" class="k1h"/><circle cx="637.6" cy="470.5" r="3.1" class="k1n"/><circle cx="545" cy="297.8" r="3.1" class="ki"/><circle cx="668.8" cy="470.1" r="3.1" class="k1n"/><circle cx="806.4" cy="359.4" r="3.1" class="kw"/><circle cx="598.3" cy="465.6" r="3.1" class="k1m"/><circle cx="638.8" cy="468.5" r="3.1" class="k1n"/><circle cx="628.5" cy="469.8" r="3.1" class="k1n"/><circle cx="612.2" cy="467.2" r="3.1" class="k1m"/><circle cx="599.5" cy="467.9" r="3.1" class="k1n"/><circle cx="654.9" cy="469.4" r="3.1" class="k1n"/><circle cx="810.7" cy="342.5" r="3.1" class="ks"/><circle cx="682.3" cy="470.1" r="3.1" class="k1n"/><circle cx="549.5" cy="338.3" r="3.1" class="kr"/><circle cx="643.8" cy="470.1" r="3.1" class="k1n"/><circle cx="649.1" cy="470.5" r="3.1" class="k1n"/><circle cx="758.2" cy="470" r="3.1" class="k1n"/><circle cx="615.8" cy="468.8" r="3.1" class="k1n"/><circle cx="546.6" cy="311.9" r="3.1" class="kl"/><circle cx="595.4" cy="469.7" r="3.1" class="k1n"/><circle cx="606.8" cy="468.9" r="3.1" class="k1n"/><circle cx="636.3" cy="470.7" r="3.1" class="k1n"/><circle cx="547.6" cy="324.7" r="3.1" class="ko"/><circle cx="753.2" cy="467.8" r="3.1" class="k1m"/><circle cx="589.9" cy="468.3" r="3.1" class="k1n"/><circle cx="663.3" cy="472" r="3.1" class="k1n"/><circle cx="705" cy="468.4" r="3.1" class="k1n"/><circle cx="783.9" cy="420.9" r="3.1" class="k1b"/><circle cx="815.9" cy="317.5" r="3.1" class="km"/><circle cx="543.7" cy="280" r="3.1" class="kd"/><circle cx="635" cy="471.7" r="3.1" class="k1n"/><circle cx="642.5" cy="471.2" r="3.1" class="k1n"/><circle cx="617.1" cy="468.6" r="3.1" class="k1n"/><circle cx="773.7" cy="446.3" r="3.1" class="k1h"/><circle cx="624.7" cy="469.3" r="3.1" class="k1n"/><circle cx="619.6" cy="469.2" r="3.1" class="k1n"/><circle cx="601.9" cy="470.3" r="3.1" class="k1n"/><circle cx="553.3" cy="359.1" r="3.1" class="kw"/><circle cx="686.1" cy="471.3" r="3.1" class="k1n"/><circle cx="709" cy="471.1" r="3.1" class="k1n"/><circle cx="591.2" cy="470.5" r="3.1" class="k1n"/><circle cx="594.2" cy="465.5" r="3.1" class="k1m"/><circle cx="620.9" cy="469" r="3.1" class="k1n"/><circle cx="627.2" cy="468.1" r="3.1" class="k1m"/><circle cx="545.2" cy="295.5" r="3.1" class="kh"/><circle cx="797.2" cy="384.8" r="3.1" class="k12"/><circle cx="608" cy="469" r="3.1" class="k1n"/><circle cx="641.1" cy="472.3" r="3.1" class="k1n"/><circle cx="647.8" cy="471.3" r="3.1" class="k1n"/><circle cx="686.4" cy="469.9" r="3.1" class="k1n"/><circle cx="623.4" cy="468.8" r="3.1" class="k1n"/><circle cx="633.7" cy="471.8" r="3.1" class="k1n"/><circle cx="600.7" cy="467.6" r="3.1" class="k1m"/><circle cx="672.4" cy="470.9" r="3.1" class="k1n"/><circle cx="558.2" cy="385.5" r="3.1" class="k13"/><circle cx="709.2" cy="469" r="3.1" class="k1n"/><circle cx="653.4" cy="470.1" r="3.1" class="k1n"/><circle cx="580.7" cy="446.3" r="3.1" class="k1h"/><circle cx="657.9" cy="471.4" r="3.1" class="k1n"/><circle cx="690.3" cy="472.3" r="3.1" class="k1n"/><circle cx="672.7" cy="469.6" r="3.1" class="k1n"/><circle cx="713.3" cy="472.5" r="3.1" class="k1n"/><circle cx="603.3" cy="471.1" r="3.1" class="k1n"/><circle cx="612" cy="471.9" r="3.1" class="k1n"/><circle cx="658.1" cy="470.6" r="3.1" class="k1n"/><circle cx="632.3" cy="472.1" r="3.1" class="k1n"/><circle cx="546.8" cy="309.2" r="3.1" class="kk"/><circle cx="807.2" cy="355.8" r="3.1" class="kv"/><circle cx="713.5" cy="470.5" r="3.1" class="k1n"/><circle cx="557.1" cy="376.4" r="3.1" class="k10"/><circle cx="646.4" cy="472.5" r="3.1" class="k1n"/><circle cx="544" cy="277.9" r="3.1" class="kd"/><circle cx="810.8" cy="338.6" r="3.1" class="kr"/><circle cx="784.4" cy="415.4" r="3.1" class="k19"/><circle cx="580.9" cy="450.1" r="3.1" class="k1i"/><circle cx="556.3" cy="367.8" r="3.1" class="ky"/><circle cx="596.7" cy="469.1" r="3.1" class="k1m"/><circle cx="652" cy="471.9" r="3.1" class="k1n"/><circle cx="610.6" cy="469.7" r="3.1" class="k1n"/><circle cx="574.9" cy="432.9" r="3.1" class="k1e"/><circle cx="551.6" cy="346" r="3.1" class="kt"/><circle cx="676.1" cy="472.6" r="3.1" class="k1n"/><circle cx="613.4" cy="471.3" r="3.1" class="k1n"/><circle cx="815.7" cy="313.8" r="3.1" class="kl"/><circle cx="676.3" cy="471.4" r="3.1" class="k1n"/><circle cx="545.4" cy="293.2" r="3.1" class="kg"/><circle cx="609.3" cy="467.6" r="3.1" class="k1m"/><circle cx="661.4" cy="473.2" r="3.1" class="k1n"/><circle cx="639.7" cy="471.3" r="3.1" class="k1n"/><circle cx="552.9" cy="355.5" r="3.1" class="kv"/><circle cx="585.8" cy="459" r="3.1" class="k1k"/><circle cx="717.9" cy="471.2" r="3.1" class="k1n"/><circle cx="546.5" cy="307" r="3.1" class="kj"/><circle cx="598.1" cy="470.4" r="3.1" class="k1n"/><circle cx="630.9" cy="470.8" r="3.1" class="k1n"/><circle cx="774.2" cy="440" r="3.1" class="k1f"/><circle cx="548.5" cy="321.2" r="3.1" class="kn"/><circle cx="564.7" cy="398.5" r="3.1" class="k15"/><circle cx="650.6" cy="473.4" r="3.1" class="k1n"/><circle cx="638.3" cy="472.4" r="3.1" class="k1n"/><circle cx="544.1" cy="275.8" r="3.1" class="kc"/><circle cx="680" cy="474" r="3.1" class="k1o"/><circle cx="550.7" cy="333.8" r="3.1" class="kq"/><circle cx="666.7" cy="471" r="3.1" class="k1n"/><circle cx="698.3" cy="475.3" r="3.1" class="k1o"/><circle cx="797.6" cy="380.6" r="3.1" class="k11"/><circle cx="690.1" cy="470.1" r="3.1" class="k1n"/><circle cx="694" cy="473.2" r="3.1" class="k1n"/><circle cx="570.4" cy="421.5" r="3.1" class="k1b"/><circle cx="656.5" cy="471.7" r="3.1" class="k1n"/><circle cx="604.6" cy="469.8" r="3.1" class="k1m"/><circle cx="694.3" cy="471.9" r="3.1" class="k1n"/><circle cx="628" cy="471.3" r="3.1" class="k1n"/><circle cx="661.2" cy="472.5" r="3.1" class="k1n"/><circle cx="783.6" cy="415.3" r="3.1" class="k19"/><circle cx="551.7" cy="353" r="3.1" class="ku"/><circle cx="555.5" cy="364.5" r="3.1" class="kx"/><circle cx="592.7" cy="468.5" r="3.1" class="k1m"/><circle cx="617.7" cy="471.2" r="3.1" class="k1n"/><circle cx="599.5" cy="471.2" r="3.1" class="k1n"/><circle cx="717.7" cy="470.9" r="3.1" class="k1n"/><circle cx="545.5" cy="291" r="3.1" class="kf"/><circle cx="811.1" cy="334.9" r="3.1" class="kq"/><circle cx="581.8" cy="451" r="3.1" class="k1i"/><circle cx="644.9" cy="471.3" r="3.1" class="k1n"/><circle cx="629.5" cy="469.8" r="3.1" class="k1m"/><circle cx="620.7" cy="471.5" r="3.1" class="k1n"/><circle cx="562.4" cy="389.6" r="3.1" class="k13"/><circle cx="606.1" cy="470.6" r="3.1" class="k1n"/><circle cx="614.8" cy="469.6" r="3.1" class="k1m"/><circle cx="759.9" cy="463.5" r="3.1" class="k1l"/><circle cx="722.3" cy="471.4" r="3.1" class="k1n"/><circle cx="544" cy="273.9" r="3.1" class="kb"/><circle cx="636.8" cy="472" r="3.1" class="k1n"/><circle cx="578.5" cy="437.9" r="3.1" class="k1f"/><circle cx="773.5" cy="439.9" r="3.1" class="k1f"/><circle cx="607.6" cy="471.6" r="3.1" class="k1n"/><circle cx="625.1" cy="470.7" r="3.1" class="k1n"/><circle cx="816" cy="310.3" r="3.1" class="kk"/><circle cx="566.5" cy="402.3" r="3.1" class="k16"/><circle cx="548.6" cy="318.4" r="3.1" class="km"/><circle cx="807" cy="351.8" r="3.1" class="ku"/><circle cx="626.6" cy="469.9" r="3.1" class="k1m"/><circle cx="655" cy="473.1" r="3.1" class="k1n"/><circle cx="623.6" cy="470.3" r="3.1" class="k1m"/><circle cx="622.1" cy="470.2" r="3.1" class="k1m"/><circle cx="679.8" cy="472.1" r="3.1" class="k1n"/><circle cx="726.8" cy="472.8" r="3.1" class="k1n"/><circle cx="609.1" cy="471.7" r="3.1" class="k1n"/><circle cx="632.1" cy="474.3" r="3.1" class="k1n"/><circle cx="633.7" cy="473.2" r="3.1" class="k1n"/><circle cx="643.4" cy="471.6" r="3.1" class="k1n"/><circle cx="784.1" cy="409.9" r="3.1" class="k18"/><circle cx="573.8" cy="423" r="3.1" class="k1b"/><circle cx="659.6" cy="473.4" r="3.1" class="k1n"/><circle cx="552.4" cy="341.6" r="3.1" class="kr"/><circle cx="722.1" cy="471" r="3.1" class="k1m"/><circle cx="547.4" cy="304" r="3.1" class="ki"/><circle cx="683.8" cy="473.9" r="3.1" class="k1n"/><circle cx="551.1" cy="330.3" r="3.1" class="kp"/><circle cx="569.8" cy="412.3" r="3.1" class="k18"/><circle cx="544.2" cy="271.9" r="3.1" class="kb"/><circle cx="664.4" cy="473.6" r="3.1" class="k1n"/><circle cx="545.9" cy="288.7" r="3.1" class="kf"/><circle cx="670.2" cy="471.1" r="3.1" class="k1m"/><circle cx="601.1" cy="470" r="3.1" class="k1m"/><circle cx="610.6" cy="472" r="3.1" class="k1n"/><circle cx="635.3" cy="471" r="3.1" class="k1m"/><circle cx="649.1" cy="471.8" r="3.1" class="k1n"/><circle cx="641.9" cy="472.7" r="3.1" class="k1n"/><circle cx="731.3" cy="473.7" r="3.1" class="k1n"/><circle cx="568.4" cy="406.2" r="3.1" class="k17"/><circle cx="628.8" cy="474.8" r="3.1" class="k1n"/><circle cx="797.6" cy="376.1" r="3.1" class="k10"/><circle cx="647.4" cy="474.1" r="3.1" class="k1n"/><circle cx="673.7" cy="474.8" r="3.1" class="k1n"/><circle cx="683.5" cy="473.8" r="3.1" class="k1n"/><circle cx="702.1" cy="475" r="3.1" class="k1n"/><circle cx="640.2" cy="474.1" r="3.1" class="k1n"/><circle cx="602.5" cy="471.6" r="3.1" class="k1m"/><circle cx="810.9" cy="331" r="3.1" class="kp"/><circle cx="702.4" cy="473.5" r="3.1" class="k1n"/><circle cx="698.1" cy="471.5" r="3.1" class="k1m"/><circle cx="576.3" cy="430.6" r="3.1" class="k1d"/><circle cx="664.7" cy="471.7" r="3.1" class="k1m"/><circle cx="612.2" cy="472" r="3.1" class="k1n"/><circle cx="630.5" cy="473.1" r="3.1" class="k1n"/><circle cx="613.8" cy="472.9" r="3.1" class="k1n"/><circle cx="816.1" cy="306.7" r="3.1" class="kj"/><circle cx="547.3" cy="301.8" r="3.1" class="ki"/><circle cx="783.6" cy="410.1" r="3.1" class="k18"/><circle cx="552.4" cy="348.4" r="3.1" class="kt"/><circle cx="773.7" cy="433.5" r="3.1" class="k1d"/><circle cx="545.8" cy="286.7" r="3.1" class="ke"/><circle cx="625.5" cy="474.4" r="3.1" class="k1n"/><circle cx="726.6" cy="471.2" r="3.1" class="k1m"/><circle cx="550.8" cy="327.6" r="3.1" class="ko"/><circle cx="658" cy="474.4" r="3.1" class="k1n"/><circle cx="604.1" cy="472.2" r="3.1" class="k1n"/><circle cx="544.5" cy="270" r="3.1" class="ka"/><circle cx="807.3" cy="348.1" r="3.1" class="kt"/><circle cx="687.6" cy="474.9" r="3.1" class="k1n"/><circle cx="556.2" cy="359" r="3.1" class="kv"/><circle cx="617.1" cy="473.2" r="3.1" class="k1n"/><circle cx="706.5" cy="475.1" r="3.1" class="k1n"/><circle cx="627.2" cy="473.2" r="3.1" class="k1n"/><circle cx="731.1" cy="473.1" r="3.1" class="k1n"/><circle cx="620.5" cy="473.7" r="3.1" class="k1n"/><circle cx="653.4" cy="471.8" r="3.1" class="k1m"/><circle cx="615.4" cy="472.1" r="3.1" class="k1m"/><circle cx="549.7" cy="315" r="3.1" class="kl"/><circle cx="638.6" cy="473.6" r="3.1" class="k1n"/><circle cx="562.3" cy="383.5" r="3.1" class="k11"/><circle cx="651.7" cy="474.6" r="3.1" class="k1n"/><circle cx="667.7" cy="475.1" r="3.1" class="k1n"/><circle cx="773.9" cy="434.3" r="3.1" class="k1d"/><circle cx="622.1" cy="473.2" r="3.1" class="k1n"/><circle cx="706.2" cy="475.6" r="3.1" class="k1n"/><circle cx="735.9" cy="473.2" r="3.1" class="k1n"/><circle cx="618.8" cy="472.7" r="3.1" class="k1n"/><circle cx="784.8" cy="405.5" r="3.1" class="k16"/><circle cx="668" cy="473.8" r="3.1" class="k1n"/><circle cx="560.7" cy="375.2" r="3.1" class="kz"/><circle cx="544.5" cy="268.1" r="3.1" class="k9"/><circle cx="547.5" cy="299.5" r="3.1" class="kh"/><circle cx="635.1" cy="475.4" r="3.1" class="k1n"/><circle cx="546" cy="284.6" r="3.1" class="kd"/><circle cx="623.8" cy="472.2" r="3.1" class="k1m"/><circle cx="644" cy="475.1" r="3.1" class="k1n"/><circle cx="645.8" cy="472.7" r="3.1" class="k1m"/><circle cx="797.7" cy="371.9" r="3.1" class="ky"/><circle cx="811" cy="327.3" r="3.1" class="kn"/><circle cx="759.6" cy="456.1" r="3.1" class="k1i"/><circle cx="662.8" cy="473.3" r="3.1" class="k1n"/><circle cx="553.2" cy="337.3" r="3.1" class="kq"/><circle cx="595.2" cy="461.3" r="3.1" class="k1k"/><circle cx="559.7" cy="366.8" r="3.1" class="kx"/><circle cx="566.2" cy="395.5" r="3.1" class="k14"/><circle cx="687.3" cy="473.2" r="3.1" class="k1n"/><circle cx="735.7" cy="473.3" r="3.1" class="k1n"/><circle cx="671.3" cy="477.2" r="3.1" class="k1n"/><circle cx="549.5" cy="312.6" r="3.1" class="kk"/><circle cx="565.8" cy="389" r="3.1" class="k12"/><circle cx="606" cy="470.3" r="3.1" class="k1m"/><circle cx="691.4" cy="475.8" r="3.1" class="k1n"/><circle cx="636.9" cy="472.8" r="3.1" class="k1m"/><circle cx="547.1" cy="297.5" r="3.1" class="kg"/><circle cx="740.6" cy="473.7" r="3.1" class="k1n"/><circle cx="631.5" cy="476.3" r="3.1" class="k1n"/><circle cx="656.2" cy="474.7" r="3.1" class="k1n"/><circle cx="649.9" cy="475.2" r="3.1" class="k1n"/><circle cx="710.3" cy="476.5" r="3.1" class="k1n"/><circle cx="588.8" cy="449.6" r="3.1" class="k1h"/><circle cx="551.3" cy="324.3" r="3.1" class="kn"/><circle cx="633.3" cy="474.8" r="3.1" class="k1n"/><circle cx="784.1" cy="405.5" r="3.1" class="k16"/><circle cx="580.7" cy="432.9" r="3.1" class="k1d"/><circle cx="546.1" cy="282.6" r="3.1" class="kd"/><circle cx="677.3" cy="473.4" r="3.1" class="k1m"/><circle cx="661" cy="475.7" r="3.1" class="k1n"/><circle cx="640.4" cy="477.2" r="3.1" class="k1n"/><circle cx="544.7" cy="266.2" r="3.1" class="k9"/><circle cx="609.2" cy="472.8" r="3.1" class="k1m"/><circle cx="807.4" cy="344.4" r="3.1" class="kr"/><circle cx="671.1" cy="476.4" r="3.1" class="k1n"/><circle cx="691.1" cy="475.3" r="3.1" class="k1n"/><circle cx="652.4" cy="480" r="3.1" class="k1o"/><circle cx="710.7" cy="473.9" r="3.1" class="k1n"/><circle cx="774.1" cy="428.3" r="3.1" class="k1b"/><circle cx="629.7" cy="475.7" r="3.1" class="k1n"/><circle cx="556.4" cy="354.5" r="3.1" class="ku"/><circle cx="740.3" cy="473.8" r="3.1" class="k1m"/><circle cx="549.4" cy="310.2" r="3.1" class="kj"/><circle cx="642.2" cy="474.3" r="3.1" class="k1n"/><circle cx="596.8" cy="461.1" r="3.1" class="k1j"/><circle cx="622.1" cy="476.7" r="3.1" class="k1n"/><circle cx="811.4" cy="323.9" r="3.1" class="km"/><circle cx="618.4" cy="476.1" r="3.1" class="k1n"/><circle cx="550.9" cy="322" r="3.1" class="km"/><circle cx="584.8" cy="442.2" r="3.1" class="k1f"/><circle cx="614.6" cy="474.7" r="3.1" class="k1n"/><circle cx="798.2" cy="368" r="3.1" class="kx"/><circle cx="648.1" cy="475.3" r="3.1" class="k1n"/><circle cx="598.1" cy="463" r="3.1" class="k1k"/><circle cx="665.9" cy="474.6" r="3.1" class="k1n"/><circle cx="680.8" cy="475.6" r="3.1" class="k1n"/><circle cx="654.4" cy="475.2" r="3.1" class="k1n"/><circle cx="560.4" cy="370.5" r="3.1" class="ky"/><circle cx="784.5" cy="400.4" r="3.1" class="k15"/><circle cx="546.3" cy="280.6" r="3.1" class="kc"/><circle cx="774.3" cy="429.1" r="3.1" class="k1c"/><circle cx="568.6" cy="397.8" r="3.1" class="k14"/><circle cx="646.2" cy="477.4" r="3.1" class="k1n"/><circle cx="611" cy="471.8" r="3.1" class="k1m"/><circle cx="659.1" cy="477" r="3.1" class="k1n"/><circle cx="624" cy="475.2" r="3.1" class="k1n"/><circle cx="549.1" cy="308.1" r="3.1" class="kj"/><circle cx="553.9" cy="333.4" r="3.1" class="kp"/><circle cx="620.2" cy="475" r="3.1" class="k1n"/><circle cx="695.3" cy="475.7" r="3.1" class="k1n"/><circle cx="627.8" cy="474.2" r="3.1" class="k1m"/><circle cx="548" cy="294.9" r="3.1" class="kf"/><circle cx="695" cy="476.6" r="3.1" class="k1n"/><circle cx="664" cy="477.8" r="3.1" class="k1n"/><circle cx="625.9" cy="474.3" r="3.1" class="k1m"/><circle cx="714.6" cy="475.8" r="3.1" class="k1n"/><circle cx="714.9" cy="474.4" r="3.1" class="k1m"/><circle cx="554.6" cy="342.2" r="3.1" class="kr"/><circle cx="743.7" cy="471.1" r="3.1" class="k1m"/><circle cx="638.5" cy="475.5" r="3.1" class="k1n"/><circle cx="546" cy="278.8" r="3.1" class="kb"/><circle cx="612.8" cy="471.7" r="3.1" class="k1m"/><circle cx="572.2" cy="406.9" r="3.1" class="k16"/><circle cx="578.8" cy="424.9" r="3.1" class="k1a"/><circle cx="563" cy="376.4" r="3.1" class="kz"/><circle cx="719.1" cy="476.8" r="3.1" class="k1n"/><circle cx="616.5" cy="472.7" r="3.1" class="k1m"/><circle cx="807.7" cy="340.8" r="3.1" class="kq"/><circle cx="669.1" cy="477.4" r="3.1" class="k1n"/><circle cx="551.1" cy="319.2" r="3.1" class="kl"/><circle cx="812" cy="320.4" r="3.1" class="kl"/><circle cx="784.1" cy="400.7" r="3.1" class="k15"/><circle cx="608.1" cy="464.2" r="3.1" class="k1k"/><circle cx="759.6" cy="449.5" r="3.1" class="k1g"/><circle cx="570.9" cy="400.9" r="3.1" class="k15"/><circle cx="674.4" cy="476.8" r="3.1" class="k1n"/><circle cx="718.8" cy="477.7" r="3.1" class="k1n"/><circle cx="674.7" cy="475.9" r="3.1" class="k1n"/><circle cx="699.1" cy="477.4" r="3.1" class="k1n"/><circle cx="634.5" cy="477" r="3.1" class="k1n"/><circle cx="560.7" cy="360.7" r="3.1" class="kv"/><circle cx="548" cy="292.9" r="3.1" class="kf"/><circle cx="558.8" cy="359.3" r="3.1" class="kv"/><circle cx="684.4" cy="476.8" r="3.1" class="k1n"/><circle cx="556.8" cy="350.1" r="3.1" class="ks"/><circle cx="636.5" cy="475.2" r="3.1" class="k1m"/><circle cx="577.1" cy="414.4" r="3.1" class="k18"/><circle cx="549.4" cy="305.6" r="3.1" class="ki"/><circle cx="698.8" cy="477.9" r="3.1" class="k1n"/><circle cx="644.2" cy="476.3" r="3.1" class="k1n"/><circle cx="798" cy="363.8" r="3.1" class="kw"/><circle cx="774.2" cy="422.9" r="3.1" class="k1a"/><circle cx="657.1" cy="477.2" r="3.1" class="k1n"/><circle cx="723.4" cy="478.2" r="3.1" class="k1n"/><circle cx="742.3" cy="469.6" r="3.1" class="k1l"/><circle cx="575.1" cy="409.1" r="3.1" class="k16"/><circle cx="630.5" cy="477.6" r="3.1" class="k1n"/><circle cx="554.4" cy="330" r="3.1" class="kn"/><circle cx="546.7" cy="276.8" r="3.1" class="kb"/><circle cx="784.7" cy="395.9" r="3.1" class="k13"/><circle cx="650.5" cy="476.6" r="3.1" class="k1n"/><circle cx="626.3" cy="478.1" r="3.1" class="k1n"/><circle cx="548.2" cy="290.8" r="3.1" class="ke"/><circle cx="556" cy="347.5" r="3.1" class="ks"/><circle cx="632.5" cy="475.5" r="3.1" class="k1m"/><circle cx="677.8" cy="478.9" r="3.1" class="k1n"/><circle cx="555.1" cy="338.3" r="3.1" class="kp"/><circle cx="546.2" cy="275" r="3.1" class="ka"/><circle cx="642.2" cy="476.5" r="3.1" class="k1n"/><circle cx="812.3" cy="317" r="3.1" class="kk"/><circle cx="566.9" cy="380.3" r="3.1" class="kz"/><circle cx="773.9" cy="423.2" r="3.1" class="k1a"/><circle cx="553.8" cy="327.7" r="3.1" class="kn"/><circle cx="678.1" cy="477.3" r="3.1" class="k1n"/><circle cx="807.7" cy="337.2" r="3.1" class="kp"/><circle cx="624.2" cy="477.2" r="3.1" class="k1n"/><circle cx="655" cy="478.2" r="3.1" class="k1n"/><circle cx="591.5" cy="441.3" r="3.1" class="k1e"/><circle cx="662" cy="476.5" r="3.1" class="k1m"/><circle cx="640.1" cy="477.4" r="3.1" class="k1n"/><circle cx="648.4" cy="477.5" r="3.1" class="k1n"/><circle cx="552.1" cy="315.9" r="3.1" class="kk"/><circle cx="688" cy="477.5" r="3.1" class="k1n"/><circle cx="702.8" cy="478.5" r="3.1" class="k1n"/><circle cx="583.2" cy="426.5" r="3.1" class="k1a"/><circle cx="723.2" cy="477" r="3.1" class="k1n"/><circle cx="659.8" cy="480.1" r="3.1" class="k1n"/><circle cx="672.3" cy="477.7" r="3.1" class="k1n"/><circle cx="703.1" cy="477" r="3.1" class="k1n"/><circle cx="783.9" cy="395.8" r="3.1" class="k13"/><circle cx="798.4" cy="360" r="3.1" class="ku"/><circle cx="553" cy="325.6" r="3.1" class="km"/><circle cx="550.4" cy="302.8" r="3.1" class="kh"/><circle cx="628.4" cy="475.1" r="3.1" class="k1m"/></g><g class="aa"><circle cx="548.5" cy="288.7" r="3.1" class="kd"/><circle cx="646.2" cy="479" r="3.1" class="k1n"/><circle cx="727.9" cy="477.7" r="3.1" class="k1n"/><circle cx="559.1" cy="354.6" r="3.1" class="kt"/><circle cx="622.1" cy="475.6" r="3.1" class="k1m"/><circle cx="667.1" cy="476.4" r="3.1" class="k1m"/><circle cx="546.6" cy="273.2" r="3.1" class="ka"/><circle cx="620.1" cy="474.5" r="3.1" class="k1m"/><circle cx="637.9" cy="477.7" r="3.1" class="k1n"/><circle cx="614" cy="472" r="3.1" class="k1l"/><circle cx="664.9" cy="480.4" r="3.1" class="k1n"/><circle cx="635.8" cy="478.8" r="3.1" class="k1n"/><circle cx="759.7" cy="443.4" r="3.1" class="k1e"/><circle cx="583.7" cy="429" r="3.1" class="k1b"/><circle cx="785" cy="391.5" r="3.1" class="k12"/><circle cx="587.6" cy="434.6" r="3.1" class="k1c"/><circle cx="612.1" cy="469.7" r="3.1" class="k1l"/><circle cx="563.8" cy="369.7" r="3.1" class="kx"/><circle cx="743.3" cy="463.1" r="3.1" class="k1j"/><circle cx="550.1" cy="300.8" r="3.1" class="kg"/><circle cx="727.5" cy="478.2" r="3.1" class="k1n"/><circle cx="774.1" cy="417.4" r="3.1" class="k18"/><circle cx="707.1" cy="478.7" r="3.1" class="k1n"/><circle cx="811.8" cy="313.4" r="3.1" class="kj"/><circle cx="548.4" cy="286.8" r="3.1" class="kd"/><circle cx="552.3" cy="313.3" r="3.1" class="kj"/><circle cx="568.9" cy="382.7" r="3.1" class="k10"/><circle cx="546.6" cy="271.4" r="3.1" class="k9"/><circle cx="681.6" cy="478.7" r="3.1" class="k1n"/><circle cx="691.7" cy="479.1" r="3.1" class="k1n"/><circle cx="633.5" cy="478.7" r="3.1" class="k1n"/><circle cx="652.8" cy="478" r="3.1" class="k1n"/><circle cx="807.8" cy="333.7" r="3.1" class="ko"/><circle cx="562.9" cy="361.6" r="3.1" class="kv"/><circle cx="556.7" cy="343.1" r="3.1" class="kq"/><circle cx="681.2" cy="478.8" r="3.1" class="k1n"/><circle cx="566.6" cy="375.3" r="3.1" class="ky"/><circle cx="798.9" cy="356.4" r="3.1" class="kt"/><circle cx="706.8" cy="478.7" r="3.1" class="k1n"/><circle cx="670.1" cy="479.2" r="3.1" class="k1n"/><circle cx="578.9" cy="410.8" r="3.1" class="k16"/><circle cx="773.8" cy="417.8" r="3.1" class="k18"/><circle cx="644" cy="478" r="3.1" class="k1m"/><circle cx="631.3" cy="478.3" r="3.1" class="k1m"/><circle cx="742.2" cy="462.2" r="3.1" class="k1j"/><circle cx="581.4" cy="418.4" r="3.1" class="k18"/><circle cx="657.6" cy="479.3" r="3.1" class="k1n"/><circle cx="550.4" cy="298.6" r="3.1" class="kg"/><circle cx="616.1" cy="467.5" r="3.1" class="k1k"/><circle cx="783.9" cy="391.3" r="3.1" class="k12"/><circle cx="602.6" cy="451.9" r="3.1" class="k1g"/><circle cx="618.1" cy="468.2" r="3.1" class="k1k"/><circle cx="711.1" cy="480.3" r="3.1" class="k1n"/><circle cx="546.8" cy="269.6" r="3.1" class="k8"/><circle cx="552.5" cy="310.9" r="3.1" class="ki"/><circle cx="549" cy="284.8" r="3.1" class="kc"/><circle cx="650.6" cy="478.5" r="3.1" class="k1m"/><circle cx="559.5" cy="350.2" r="3.1" class="ks"/><circle cx="675.6" cy="477.5" r="3.1" class="k1m"/><circle cx="557.2" cy="333" r="3.1" class="kn"/><circle cx="556.3" cy="340.3" r="3.1" class="kp"/><circle cx="641.7" cy="478.6" r="3.1" class="k1m"/><circle cx="785.1" cy="387" r="3.1" class="k11"/><circle cx="811.9" cy="309.9" r="3.1" class="ki"/><circle cx="601.6" cy="446.9" r="3.1" class="k1f"/><circle cx="662.6" cy="480" r="3.1" class="k1n"/><circle cx="554.7" cy="321.5" r="3.1" class="kl"/><circle cx="648.2" cy="480.5" r="3.1" class="k1n"/><circle cx="685" cy="479.9" r="3.1" class="k1n"/><circle cx="688.5" cy="484.6" r="3.1" class="k1o"/><circle cx="546.9" cy="267.9" r="3.1" class="k8"/><circle cx="808.4" cy="330.3" r="3.1" class="kn"/><circle cx="562.5" cy="357.8" r="3.1" class="kt"/><circle cx="577.5" cy="403.8" r="3.1" class="k15"/><circle cx="550.5" cy="296.6" r="3.1" class="kf"/><circle cx="667.8" cy="480.8" r="3.1" class="k1n"/><circle cx="639.4" cy="479.2" r="3.1" class="k1m"/><circle cx="684.7" cy="480.2" r="3.1" class="k1n"/><circle cx="571.5" cy="383.9" r="3.1" class="k10"/><circle cx="710.8" cy="479.1" r="3.1" class="k1m"/><circle cx="552.5" cy="308.6" r="3.1" class="ki"/><circle cx="678.9" cy="480.9" r="3.1" class="k1n"/><circle cx="773.8" cy="412.1" r="3.1" class="k16"/><circle cx="798.5" cy="352.3" r="3.1" class="ks"/><circle cx="759.5" cy="437.2" r="3.1" class="k1c"/><circle cx="566.1" cy="370.9" r="3.1" class="kw"/><circle cx="549.4" cy="282.9" r="3.1" class="kb"/><circle cx="594.1" cy="433.8" r="3.1" class="k1b"/><circle cx="645.8" cy="481.2" r="3.1" class="k1n"/><circle cx="550.1" cy="294.7" r="3.1" class="ke"/><circle cx="695.5" cy="478.1" r="3.1" class="k1m"/><circle cx="673.2" cy="480.1" r="3.1" class="k1n"/><circle cx="610.8" cy="457.6" r="3.1" class="k1h"/><circle cx="655.2" cy="479" r="3.1" class="k1m"/><circle cx="743.7" cy="456.7" r="3.1" class="k1h"/><circle cx="574.4" cy="392.7" r="3.1" class="k12"/><circle cx="728.3" cy="470.1" r="3.1" class="k1k"/><circle cx="636.9" cy="478.5" r="3.1" class="k1m"/><circle cx="784.1" cy="387.1" r="3.1" class="k10"/><circle cx="576.2" cy="397.1" r="3.1" class="k13"/><circle cx="564.8" cy="363.1" r="3.1" class="ku"/><circle cx="628.8" cy="471.6" r="3.1" class="k1k"/><circle cx="715.3" cy="480" r="3.1" class="k1m"/><circle cx="773.9" cy="412.8" r="3.1" class="k16"/><circle cx="549.2" cy="281.1" r="3.1" class="kb"/><circle cx="573.3" cy="387.1" r="3.1" class="k10"/><circle cx="785.3" cy="382.8" r="3.1" class="kz"/><circle cx="555.2" cy="318.6" r="3.1" class="kk"/><circle cx="652.8" cy="481" r="3.1" class="k1n"/><circle cx="660.1" cy="480.5" r="3.1" class="k1n"/><circle cx="682.1" cy="483.8" r="3.1" class="k1n"/><circle cx="552.7" cy="306.3" r="3.1" class="kh"/><circle cx="560" cy="346" r="3.1" class="kq"/><circle cx="558.2" cy="329.1" r="3.1" class="km"/><circle cx="808.2" cy="326.8" r="3.1" class="km"/><circle cx="727.5" cy="469.7" r="3.1" class="k1k"/><circle cx="665.3" cy="481.8" r="3.1" class="k1n"/><circle cx="590.3" cy="427.1" r="3.1" class="k1a"/><circle cx="688.1" cy="481.7" r="3.1" class="k1n"/><circle cx="569.9" cy="374.6" r="3.1" class="kx"/><circle cx="799.2" cy="348.9" r="3.1" class="kr"/><circle cx="549.2" cy="279.4" r="3.1" class="ka"/><circle cx="552.2" cy="304.5" r="3.1" class="kg"/><circle cx="699.2" cy="479.8" r="3.1" class="k1m"/><circle cx="550.9" cy="292.5" r="3.1" class="ke"/><circle cx="609.4" cy="451.2" r="3.1" class="k1f"/><circle cx="742.1" cy="455.1" r="3.1" class="k1g"/><circle cx="713.8" cy="477.9" r="3.1" class="k1m"/><circle cx="773.9" cy="407.3" r="3.1" class="k15"/><circle cx="555.3" cy="316.1" r="3.1" class="kj"/><circle cx="670.7" cy="481.2" r="3.1" class="k1m"/><circle cx="563.4" cy="352.4" r="3.1" class="ks"/><circle cx="657.6" cy="481.6" r="3.1" class="k1n"/><circle cx="568.3" cy="372.5" r="3.1" class="kw"/><circle cx="558" cy="326.5" r="3.1" class="kl"/><circle cx="581.3" cy="405.5" r="3.1" class="k14"/><circle cx="558.4" cy="334.7" r="3.1" class="kn"/><circle cx="554.4" cy="314.5" r="3.1" class="kj"/><circle cx="549.3" cy="277.6" r="3.1" class="ka"/><circle cx="643" cy="477.1" r="3.1" class="k1l"/><circle cx="785.6" cy="378.7" r="3.1" class="ky"/><circle cx="784.3" cy="382.9" r="3.1" class="kz"/><circle cx="583.9" cy="412.6" r="3.1" class="k16"/><circle cx="550.9" cy="290.6" r="3.1" class="kd"/><circle cx="759.5" cy="431.4" r="3.1" class="k1a"/><circle cx="564.9" cy="358.5" r="3.1" class="kt"/><circle cx="571.7" cy="377.3" r="3.1" class="ky"/><circle cx="808.5" cy="323.4" r="3.1" class="kl"/><circle cx="596.1" cy="429.2" r="3.1" class="k1a"/><circle cx="605.3" cy="440.4" r="3.1" class="k1c"/><circle cx="626.4" cy="463.6" r="3.1" class="k1i"/><circle cx="557.3" cy="324.5" r="3.1" class="kl"/><circle cx="773.6" cy="407.7" r="3.1" class="k15"/><circle cx="799.3" cy="345.2" r="3.1" class="kq"/><circle cx="553" cy="302" r="3.1" class="kg"/><circle cx="606.8" cy="441.9" r="3.1" class="k1d"/><circle cx="662.7" cy="481.9" r="3.1" class="k1m"/><circle cx="676.4" cy="479.2" r="3.1" class="k1m"/><circle cx="567.2" cy="364" r="3.1" class="ku"/><circle cx="560.8" cy="341.5" r="3.1" class="kp"/><circle cx="701.9" cy="478.8" r="3.1" class="k1m"/><circle cx="649.5" cy="475.6" r="3.1" class="k1l"/><circle cx="691.3" cy="479.6" r="3.1" class="k1m"/><circle cx="743.2" cy="449.3" r="3.1" class="k1e"/><circle cx="550" cy="275.8" r="3.1" class="k9"/><circle cx="587.9" cy="415.5" r="3.1" class="k16"/><circle cx="608.4" cy="442.3" r="3.1" class="k1d"/><circle cx="563.2" cy="349" r="3.1" class="kr"/><circle cx="691.3" cy="481" r="3.1" class="k1m"/><circle cx="551.4" cy="288.6" r="3.1" class="kc"/><circle cx="668.1" cy="482.5" r="3.1" class="k1m"/><circle cx="786" cy="374.7" r="3.1" class="kx"/><circle cx="573.5" cy="380.1" r="3.1" class="ky"/><circle cx="557.2" cy="322.1" r="3.1" class="kk"/><circle cx="560" cy="339.2" r="3.1" class="ko"/><circle cx="727.8" cy="461.7" r="3.1" class="k1h"/><circle cx="553.2" cy="299.9" r="3.1" class="kf"/><circle cx="549.7" cy="274.2" r="3.1" class="k9"/><circle cx="773.9" cy="402.5" r="3.1" class="k13"/><circle cx="555.5" cy="311.4" r="3.1" class="ki"/><circle cx="784.3" cy="378.8" r="3.1" class="ky"/><circle cx="715.5" cy="472.1" r="3.1" class="k1k"/><circle cx="622.1" cy="459.1" r="3.1" class="k1h"/><circle cx="808.7" cy="320" r="3.1" class="kk"/><circle cx="551.3" cy="286.9" r="3.1" class="kc"/><circle cx="800" cy="341.9" r="3.1" class="kp"/><circle cx="684.8" cy="480.2" r="3.1" class="k1m"/><circle cx="742.3" cy="448.8" r="3.1" class="k1e"/><circle cx="597.8" cy="427.2" r="3.1" class="k19"/><circle cx="679" cy="480.8" r="3.1" class="k1m"/><circle cx="624.2" cy="457.5" r="3.1" class="k1g"/><circle cx="598.8" cy="430.1" r="3.1" class="k1a"/><circle cx="565.3" cy="353.7" r="3.1" class="kr"/><circle cx="555" cy="309.5" r="3.1" class="kh"/><circle cx="599.9" cy="432.8" r="3.1" class="k1a"/><circle cx="727" cy="461.2" r="3.1" class="k1h"/><circle cx="575.6" cy="382.5" r="3.1" class="ky"/><circle cx="601.1" cy="435.6" r="3.1" class="k1b"/><circle cx="672.8" cy="478.9" r="3.1" class="k1l"/><circle cx="773.6" cy="403" r="3.1" class="k13"/><circle cx="550" cy="272.5" r="3.1" class="k8"/><circle cx="568.9" cy="366.2" r="3.1" class="ku"/><circle cx="560.2" cy="329.9" r="3.1" class="km"/><circle cx="786.6" cy="370.9" r="3.1" class="kw"/><circle cx="759.2" cy="425.6" r="3.1" class="k18"/><circle cx="633.6" cy="462.3" r="3.1" class="k1h"/><circle cx="551.4" cy="285.1" r="3.1" class="kb"/><circle cx="593.1" cy="419" r="3.1" class="k17"/><circle cx="553.7" cy="297.7" r="3.1" class="ke"/><circle cx="567.4" cy="359.1" r="3.1" class="kt"/><circle cx="713.8" cy="469.4" r="3.1" class="k1j"/><circle cx="560.1" cy="336" r="3.1" class="kn"/><circle cx="554.7" cy="307.6" r="3.1" class="kg"/><circle cx="620.1" cy="454.1" r="3.1" class="k1f"/><circle cx="653.6" cy="473.1" r="3.1" class="k1k"/><circle cx="549.8" cy="271" r="3.1" class="k8"/><circle cx="808.9" cy="316.7" r="3.1" class="kj"/><circle cx="553.2" cy="296" r="3.1" class="ke"/><circle cx="583.6" cy="400.7" r="3.1" class="k13"/><circle cx="578" cy="384.7" r="3.1" class="kz"/><circle cx="564" cy="344.2" r="3.1" class="kp"/><circle cx="784.6" cy="375" r="3.1" class="kw"/><circle cx="799.7" cy="338.2" r="3.1" class="ko"/><circle cx="551.4" cy="283.4" r="3.1" class="kb"/><circle cx="579.8" cy="388.7" r="3.1" class="k10"/><circle cx="558.5" cy="318.5" r="3.1" class="kj"/><circle cx="594.2" cy="420.2" r="3.1" class="k17"/><circle cx="564.9" cy="350.5" r="3.1" class="kq"/><circle cx="572.6" cy="369.6" r="3.1" class="kv"/><circle cx="773.5" cy="397.7" r="3.1" class="k12"/><circle cx="639.4" cy="464.3" r="3.1" class="k1i"/><circle cx="646.1" cy="468.5" r="3.1" class="k1j"/><circle cx="582.1" cy="391.4" r="3.1" class="k10"/><circle cx="586.6" cy="406.1" r="3.1" class="k14"/><circle cx="549.9" cy="269.4" r="3.1" class="k7"/><circle cx="557.6" cy="316.9" r="3.1" class="kj"/><circle cx="743" cy="442.7" r="3.1" class="k1c"/><circle cx="786.6" cy="366.8" r="3.1" class="ku"/><circle cx="590.1" cy="410.5" r="3.1" class="k15"/><circle cx="553.4" cy="294.1" r="3.1" class="kd"/><circle cx="603.1" cy="431.9" r="3.1" class="k1a"/><circle cx="555.3" cy="305.2" r="3.1" class="kg"/><circle cx="774" cy="398.7" r="3.1" class="k12"/><circle cx="631" cy="456.7" r="3.1" class="k1g"/><circle cx="658.1" cy="471.5" r="3.1" class="k1j"/><circle cx="567.2" cy="355.2" r="3.1" class="kr"/><circle cx="809" cy="313.4" r="3.1" class="ki"/><circle cx="569" cy="361.3" r="3.1" class="kt"/><circle cx="759.8" cy="421.1" r="3.1" class="k17"/><circle cx="552.2" cy="281.6" r="3.1" class="ka"/><circle cx="691.9" cy="471.9" r="3.1" class="k1j"/><circle cx="571.5" cy="366.9" r="3.1" class="ku"/><circle cx="614.4" cy="444.8" r="3.1" class="k1d"/><circle cx="727.4" cy="454" r="3.1" class="k1f"/><circle cx="604.6" cy="432.8" r="3.1" class="k1a"/><circle cx="741.6" cy="441.5" r="3.1" class="k1c"/><circle cx="787.5" cy="363.3" r="3.1" class="kt"/><circle cx="799.5" cy="334.6" r="3.1" class="km"/><circle cx="561.9" cy="325.5" r="3.1" class="kk"/><circle cx="618.2" cy="445.9" r="3.1" class="k1d"/><circle cx="555.1" cy="303.3" r="3.1" class="kf"/><circle cx="587.5" cy="406.6" r="3.1" class="k14"/><circle cx="784.6" cy="371" r="3.1" class="kv"/><circle cx="553.7" cy="292.2" r="3.1" class="kc"/><circle cx="701.3" cy="468.3" r="3.1" class="k1i"/><circle cx="561.4" cy="331.6" r="3.1" class="km"/><circle cx="552" cy="280" r="3.1" class="k9"/><circle cx="558.4" cy="314" r="3.1" class="ki"/><circle cx="715" cy="463.1" r="3.1" class="k1h"/><circle cx="691" cy="470.8" r="3.1" class="k1j"/><circle cx="726.8" cy="453.9" r="3.1" class="k1f"/><circle cx="774.1" cy="393.7" r="3.1" class="k10"/><circle cx="575.1" cy="370.5" r="3.1" class="kv"/><circle cx="564.9" cy="339.7" r="3.1" class="kn"/><circle cx="573" cy="370" r="3.1" class="kv"/><circle cx="553.4" cy="290.6" r="3.1" class="kc"/><circle cx="552" cy="278.4" r="3.1" class="k9"/><circle cx="563.8" cy="338" r="3.1" class="kn"/><circle cx="788" cy="359.6" r="3.1" class="ks"/><circle cx="616.5" cy="440.9" r="3.1" class="k1b"/><circle cx="774.4" cy="394.6" r="3.1" class="k11"/><circle cx="562.1" cy="322.8" r="3.1" class="kk"/><circle cx="611.2" cy="436.1" r="3.1" class="k1a"/><circle cx="560.9" cy="321.4" r="3.1" class="kj"/><circle cx="799.5" cy="331.2" r="3.1" class="kl"/><circle cx="566.4" cy="344.7" r="3.1" class="kp"/><circle cx="591.9" cy="407.6" r="3.1" class="k14"/><circle cx="578.2" cy="377.5" r="3.1" class="kw"/><circle cx="662" cy="466.7" r="3.1" class="k1i"/><circle cx="553.5" cy="288.8" r="3.1" class="kb"/><circle cx="558.7" cy="311.6" r="3.1" class="kh"/><circle cx="742.6" cy="436.2" r="3.1" class="k1a"/><circle cx="713.2" cy="460.4" r="3.1" class="k1g"/><circle cx="585.9" cy="395.7" r="3.1" class="k11"/><circle cx="552" cy="276.8" r="3.1" class="k8"/><circle cx="684.1" cy="468" r="3.1" class="k1i"/><circle cx="613" cy="436" r="3.1" class="k1a"/><circle cx="556.5" cy="300.6" r="3.1" class="ke"/><circle cx="577.4" cy="372" r="3.1" class="kv"/><circle cx="759.7" cy="415.9" r="3.1" class="k16"/><circle cx="784.3" cy="367" r="3.1" class="ku"/><circle cx="582.1" cy="384.1" r="3.1" class="ky"/><circle cx="584.2" cy="387.3" r="3.1" class="kz"/><circle cx="649.2" cy="460.8" r="3.1" class="k1g"/><circle cx="788.8" cy="356.2" r="3.1" class="kr"/><circle cx="667.1" cy="466.6" r="3.1" class="k1h"/><circle cx="553.3" cy="287.2" r="3.1" class="kb"/><circle cx="560.6" cy="319.4" r="3.1" class="kj"/><circle cx="558.4" cy="309.8" r="3.1" class="kg"/><circle cx="672.5" cy="467.2" r="3.1" class="k1i"/><circle cx="597" cy="411.4" r="3.1" class="k14"/><circle cx="773.7" cy="389.2" r="3.1" class="kz"/><circle cx="568.6" cy="349.1" r="3.1" class="kp"/><circle cx="552.4" cy="275.2" r="3.1" class="k8"/><circle cx="677.7" cy="465.7" r="3.1" class="k1h"/><circle cx="741.4" cy="435.3" r="3.1" class="k1a"/><circle cx="557.6" cy="308.2" r="3.1" class="kg"/><circle cx="642.2" cy="455.8" r="3.1" class="k1f"/><circle cx="727.5" cy="447.5" r="3.1" class="k1d"/><circle cx="564.3" cy="334.4" r="3.1" class="km"/><circle cx="607" cy="424.5" r="3.1" class="k17"/><circle cx="581" cy="378.2" r="3.1" class="kw"/><circle cx="799.5" cy="327.8" r="3.1" class="kk"/><circle cx="551.9" cy="273.7" r="3.1" class="k7"/><circle cx="635.9" cy="449.3" r="3.1" class="k1d"/><circle cx="560.2" cy="317.4" r="3.1" class="ki"/><circle cx="586.8" cy="396.2" r="3.1" class="k11"/><circle cx="557.1" cy="298.5" r="3.1" class="kd"/><circle cx="584.5" cy="389.1" r="3.1" class="kz"/><circle cx="774.1" cy="390.1" r="3.1" class="kz"/><circle cx="628.3" cy="442.5" r="3.1" class="k1b"/><circle cx="573.3" cy="364.2" r="3.1" class="kt"/><circle cx="571" cy="353.4" r="3.1" class="kq"/><circle cx="727" cy="447.4" r="3.1" class="k1d"/><circle cx="788.7" cy="352.3" r="3.1" class="kq"/><circle cx="567.1" cy="340.4" r="3.1" class="kn"/><circle cx="784.6" cy="363.4" r="3.1" class="kt"/><circle cx="554.3" cy="285.3" r="3.1" class="ka"/><circle cx="593.7" cy="405" r="3.1" class="k13"/><circle cx="653.4" cy="459.8" r="3.1" class="k1g"/><circle cx="573.4" cy="358.3" r="3.1" class="kr"/><circle cx="552.1" cy="272.2" r="3.1" class="k7"/><circle cx="691.6" cy="462.4" r="3.1" class="k1g"/><circle cx="714.5" cy="454.9" r="3.1" class="k1e"/><circle cx="557.2" cy="296.6" r="3.1" class="kd"/><circle cx="564.7" cy="325.4" r="3.1" class="kk"/><circle cx="577" cy="367.5" r="3.1" class="ku"/><circle cx="590.5" cy="399.2" r="3.1" class="k11"/><circle cx="556.3" cy="295.4" r="3.1" class="kc"/><circle cx="551.5" cy="270.8" r="3.1" class="k7"/><circle cx="554" cy="283.8" r="3.1" class="ka"/><circle cx="774.1" cy="385.3" r="3.1" class="ky"/><circle cx="610.3" cy="423.8" r="3.1" class="k17"/><circle cx="558.6" cy="305.7" r="3.1" class="kf"/><circle cx="759.3" cy="410.6" r="3.1" class="k14"/><circle cx="700.5" cy="458.3" r="3.1" class="k1f"/><circle cx="626.2" cy="439.6" r="3.1" class="k1b"/><circle cx="564.6" cy="331.3" r="3.1" class="kl"/><circle cx="742.2" cy="430.1" r="3.1" class="k18"/><circle cx="799.4" cy="324.5" r="3.1" class="kj"/><circle cx="560.9" cy="314.7" r="3.1" class="kh"/><circle cx="789.1" cy="348.7" r="3.1" class="kp"/><circle cx="569.1" cy="344.6" r="3.1" class="ko"/><circle cx="578.7" cy="370.4" r="3.1" class="ku"/><circle cx="690.6" cy="460.7" r="3.1" class="k1g"/><circle cx="599.8" cy="410.8" r="3.1" class="k14"/><circle cx="600.7" cy="413.8" r="3.1" class="k15"/><circle cx="556.2" cy="293.7" r="3.1" class="kc"/><circle cx="571" cy="349.5" r="3.1" class="kp"/><circle cx="558.6" cy="303.7" r="3.1" class="ke"/><circle cx="774.1" cy="386.1" r="3.1" class="ky"/><circle cx="599.2" cy="406.1" r="3.1" class="k13"/><circle cx="784.8" cy="359.9" r="3.1" class="ks"/><circle cx="712.5" cy="451.7" r="3.1" class="k1d"/><circle cx="741" cy="429.3" r="3.1" class="k18"/><circle cx="567.6" cy="336.6" r="3.1" class="km"/><circle cx="556" cy="292.1" r="3.1" class="kb"/><circle cx="633.1" cy="441.2" r="3.1" class="k1b"/><circle cx="555.1" cy="281.9" r="3.1" class="k9"/><circle cx="595.4" cy="402.7" r="3.1" class="k12"/><circle cx="573.4" cy="354.1" r="3.1" class="kq"/><circle cx="645.4" cy="450.4" r="3.1" class="k1d"/><circle cx="727.4" cy="440.9" r="3.1" class="k1b"/><circle cx="789.5" cy="345.3" r="3.1" class="ko"/><circle cx="564.8" cy="328.3" r="3.1" class="kk"/><circle cx="565.5" cy="322.1" r="3.1" class="kj"/><circle cx="576.5" cy="363.7" r="3.1" class="ks"/><circle cx="581.1" cy="371.9" r="3.1" class="ku"/><circle cx="588.8" cy="392.7" r="3.1" class="kz"/><circle cx="799.8" cy="321.4" r="3.1" class="ki"/><circle cx="774.1" cy="381.1" r="3.1" class="kw"/><circle cx="586.5" cy="385.7" r="3.1" class="ky"/><circle cx="561.7" cy="311.9" r="3.1" class="kg"/><circle cx="555" cy="280.4" r="3.1" class="k9"/><circle cx="559.1" cy="301.6" r="3.1" class="ke"/><circle cx="567.1" cy="334.4" r="3.1" class="kl"/><circle cx="759.3" cy="406" r="3.1" class="k12"/><circle cx="583.3" cy="373.9" r="3.1" class="kv"/><circle cx="656.6" cy="452.2" r="3.1" class="k1d"/><circle cx="554.3" cy="279.1" r="3.1" class="k8"/><circle cx="638.6" cy="442.8" r="3.1" class="k1b"/><circle cx="556.5" cy="290.3" r="3.1" class="kb"/><circle cx="726.1" cy="439.8" r="3.1" class="k1a"/><circle cx="603.8" cy="413.6" r="3.1" class="k14"/><circle cx="630.8" cy="438.5" r="3.1" class="k1a"/><circle cx="585.3" cy="376.7" r="3.1" class="kv"/><circle cx="561.3" cy="310.2" r="3.1" class="kg"/><circle cx="742.3" cy="424.9" r="3.1" class="k17"/><circle cx="682.7" cy="454.7" r="3.1" class="k1e"/><circle cx="789.9" cy="341.9" r="3.1" class="kn"/><circle cx="649.5" cy="451.4" r="3.1" class="k1d"/><circle cx="784.7" cy="356.2" r="3.1" class="kq"/><circle cx="672.3" cy="456.7" r="3.1" class="k1e"/><circle cx="609.7" cy="412.4" r="3.1" class="k14"/><circle cx="554" cy="277.7" r="3.1" class="k8"/><circle cx="556" cy="288.9" r="3.1" class="ka"/><circle cx="571.2" cy="345.6" r="3.1" class="ko"/><circle cx="564.4" cy="318.6" r="3.1" class="ki"/><circle cx="573" cy="350.8" r="3.1" class="kp"/></g><g class="ab"><circle cx="570.4" cy="339.5" r="3.1" class="km"/><circle cx="575.7" cy="360.6" r="3.1" class="kr"/><circle cx="624" cy="428.5" r="3.1" class="k17"/><circle cx="773.4" cy="381.6" r="3.1" class="kw"/><circle cx="800" cy="318.2" r="3.1" class="kh"/><circle cx="575.4" cy="355.4" r="3.1" class="kq"/><circle cx="713.8" cy="446.6" r="3.1" class="k1c"/><circle cx="603" cy="407.7" r="3.1" class="k13"/><circle cx="774.3" cy="377.3" r="3.1" class="kv"/><circle cx="563.7" cy="317" r="3.1" class="kh"/><circle cx="676.6" cy="453.1" r="3.1" class="k1d"/><circle cx="618.4" cy="426.5" r="3.1" class="k17"/><circle cx="556" cy="287.3" r="3.1" class="ka"/><circle cx="554.2" cy="276.2" r="3.1" class="k7"/><circle cx="567.3" cy="331.3" r="3.1" class="kk"/><circle cx="560.1" cy="299.3" r="3.1" class="kd"/><circle cx="566.8" cy="318.5" r="3.1" class="kh"/><circle cx="587.7" cy="385.1" r="3.1" class="kx"/><circle cx="700.2" cy="450.2" r="3.1" class="k1c"/><circle cx="740.7" cy="423.5" r="3.1" class="k16"/><circle cx="790.4" cy="338.6" r="3.1" class="km"/><circle cx="622.1" cy="425.9" r="3.1" class="k17"/><circle cx="636" cy="439.7" r="3.1" class="k1a"/><circle cx="690.9" cy="452.3" r="3.1" class="k1d"/><circle cx="665.7" cy="450.7" r="3.1" class="k1d"/><circle cx="660.4" cy="448.5" r="3.1" class="k1c"/><circle cx="559.4" cy="298" r="3.1" class="kc"/><circle cx="553.8" cy="274.8" r="3.1" class="k7"/><circle cx="562.3" cy="307.5" r="3.1" class="kf"/><circle cx="616.6" cy="423.1" r="3.1" class="k16"/><circle cx="620.3" cy="424.3" r="3.1" class="k16"/><circle cx="571" cy="342.5" r="3.1" class="kn"/><circle cx="712.3" cy="444.7" r="3.1" class="k1b"/><circle cx="563.6" cy="315" r="3.1" class="kg"/><circle cx="726.8" cy="434.2" r="3.1" class="k19"/><circle cx="758.9" cy="401.1" r="3.1" class="k11"/><circle cx="558.9" cy="296.5" r="3.1" class="kc"/><circle cx="784.3" cy="352.6" r="3.1" class="kp"/><circle cx="570.5" cy="336.2" r="3.1" class="kl"/><circle cx="567.3" cy="323.1" r="3.1" class="ki"/><circle cx="800" cy="315" r="3.1" class="kg"/><circle cx="567" cy="328.9" r="3.1" class="kk"/><circle cx="556.6" cy="285.6" r="3.1" class="k9"/><circle cx="580.5" cy="360.9" r="3.1" class="kr"/><circle cx="554" cy="273.4" r="3.1" class="k6"/><circle cx="689.6" cy="450" r="3.1" class="k1c"/><circle cx="742.6" cy="420.1" r="3.1" class="k15"/><circle cx="606" cy="407.8" r="3.1" class="k12"/><circle cx="773.8" cy="378" r="3.1" class="kv"/><circle cx="562.2" cy="305.7" r="3.1" class="ke"/><circle cx="575.3" cy="351.6" r="3.1" class="kp"/><circle cx="774.5" cy="373.6" r="3.1" class="ku"/><circle cx="594.2" cy="387.9" r="3.1" class="ky"/><circle cx="628.3" cy="429.6" r="3.1" class="k17"/><circle cx="586.9" cy="374.5" r="3.1" class="ku"/><circle cx="581.9" cy="364.3" r="3.1" class="ks"/><circle cx="641.6" cy="439.1" r="3.1" class="k1a"/><circle cx="790.4" cy="335.2" r="3.1" class="kl"/><circle cx="553.6" cy="272" r="3.1" class="k6"/><circle cx="613.3" cy="416.9" r="3.1" class="k14"/><circle cx="725.9" cy="433.5" r="3.1" class="k18"/><circle cx="559.1" cy="294.8" r="3.1" class="kb"/><circle cx="556.6" cy="284.1" r="3.1" class="k9"/><circle cx="573.9" cy="345.7" r="3.1" class="kn"/><circle cx="583.7" cy="367" r="3.1" class="ks"/><circle cx="607.5" cy="407.7" r="3.1" class="k12"/><circle cx="562" cy="304" r="3.1" class="ke"/><circle cx="615.1" cy="416" r="3.1" class="k14"/><circle cx="556.4" cy="282.7" r="3.1" class="k8"/><circle cx="579.5" cy="358.6" r="3.1" class="kq"/><circle cx="576.6" cy="354.4" r="3.1" class="kp"/><circle cx="784.8" cy="349.4" r="3.1" class="ko"/><circle cx="683.3" cy="448.5" r="3.1" class="k1c"/><circle cx="589.4" cy="382.8" r="3.1" class="kw"/><circle cx="585.9" cy="368.8" r="3.1" class="kt"/><circle cx="740.7" cy="418.5" r="3.1" class="k15"/><circle cx="652" cy="441.1" r="3.1" class="k1a"/><circle cx="561.7" cy="302.5" r="3.1" class="kd"/><circle cx="759.5" cy="397.4" r="3.1" class="k10"/><circle cx="790.6" cy="331.8" r="3.1" class="kk"/><circle cx="565.1" cy="311.7" r="3.1" class="kf"/><circle cx="713.6" cy="439.9" r="3.1" class="k1a"/><circle cx="571.2" cy="332.5" r="3.1" class="kk"/><circle cx="598.9" cy="390.5" r="3.1" class="ky"/><circle cx="563.9" cy="310.8" r="3.1" class="kf"/><circle cx="560.7" cy="301.4" r="3.1" class="kd"/><circle cx="567.9" cy="325.5" r="3.1" class="kj"/><circle cx="568.3" cy="319.7" r="3.1" class="kh"/><circle cx="656.8" cy="444" r="3.1" class="k1a"/><circle cx="559.8" cy="292.9" r="3.1" class="kb"/><circle cx="774.4" cy="369.7" r="3.1" class="kt"/><circle cx="773.6" cy="374.2" r="3.1" class="ku"/><circle cx="700.3" cy="443.3" r="3.1" class="k1a"/><circle cx="557.1" cy="281.1" r="3.1" class="k8"/><circle cx="581.5" cy="360.2" r="3.1" class="kr"/><circle cx="610.7" cy="406.7" r="3.1" class="k12"/><circle cx="645" cy="437" r="3.1" class="k19"/><circle cx="556.1" cy="279.9" r="3.1" class="k8"/><circle cx="567.9" cy="318" r="3.1" class="kh"/><circle cx="726.4" cy="428" r="3.1" class="k17"/><circle cx="575.8" cy="346.9" r="3.1" class="kn"/><circle cx="570.6" cy="330.4" r="3.1" class="kk"/><circle cx="742.2" cy="414.7" r="3.1" class="k14"/><circle cx="588.4" cy="372.5" r="3.1" class="kt"/><circle cx="632.9" cy="426.9" r="3.1" class="k16"/><circle cx="593.1" cy="380" r="3.1" class="kv"/><circle cx="596.1" cy="384.2" r="3.1" class="kw"/><circle cx="573.2" cy="336.1" r="3.1" class="kl"/><circle cx="560.3" cy="291.2" r="3.1" class="ka"/><circle cx="711.6" cy="437" r="3.1" class="k19"/><circle cx="576.4" cy="350.8" r="3.1" class="ko"/><circle cx="784.4" cy="345.8" r="3.1" class="kn"/><circle cx="556" cy="278.5" r="3.1" class="k7"/><circle cx="690.2" cy="443.2" r="3.1" class="k1a"/><circle cx="790.3" cy="328.5" r="3.1" class="kj"/><circle cx="676" cy="442.7" r="3.1" class="k1a"/><circle cx="564.7" cy="308.2" r="3.1" class="ke"/><circle cx="626" cy="419" r="3.1" class="k15"/><circle cx="579.3" cy="354.5" r="3.1" class="kp"/><circle cx="609.6" cy="401.8" r="3.1" class="k10"/><circle cx="665.8" cy="442.5" r="3.1" class="k1a"/><circle cx="559.7" cy="289.9" r="3.1" class="ka"/><circle cx="670.8" cy="442.9" r="3.1" class="k1a"/><circle cx="585.2" cy="365.2" r="3.1" class="ks"/><circle cx="660.6" cy="440.4" r="3.1" class="k19"/><circle cx="775.1" cy="366.4" r="3.1" class="ks"/><circle cx="725.6" cy="427.5" r="3.1" class="k16"/><circle cx="612.4" cy="404.8" r="3.1" class="k11"/><circle cx="559.1" cy="288.7" r="3.1" class="k9"/><circle cx="575.4" cy="339.8" r="3.1" class="kl"/><circle cx="759.5" cy="393.2" r="3.1" class="ky"/><circle cx="588.8" cy="374.3" r="3.1" class="ku"/><circle cx="568.3" cy="315.4" r="3.1" class="kg"/><circle cx="556.3" cy="277.1" r="3.1" class="k7"/><circle cx="689.1" cy="441.5" r="3.1" class="k1a"/><circle cx="740.4" cy="413.2" r="3.1" class="k13"/><circle cx="638.1" cy="427.5" r="3.1" class="k16"/><circle cx="587.5" cy="366.6" r="3.1" class="ks"/><circle cx="600.8" cy="386.8" r="3.1" class="kx"/><circle cx="567.1" cy="314.5" r="3.1" class="kg"/><circle cx="558.9" cy="287.3" r="3.1" class="k9"/><circle cx="773.6" cy="370.6" r="3.1" class="kt"/><circle cx="563.2" cy="298.2" r="3.1" class="kc"/><circle cx="571.1" cy="327.2" r="3.1" class="kj"/><circle cx="603.4" cy="394.8" r="3.1" class="kz"/><circle cx="565.1" cy="306.1" r="3.1" class="ke"/><circle cx="584.8" cy="359" r="3.1" class="kq"/><circle cx="555" cy="274.6" r="3.1" class="k6"/><circle cx="578.5" cy="352.2" r="3.1" class="ko"/><circle cx="556.2" cy="275.8" r="3.1" class="k6"/><circle cx="790.4" cy="325.3" r="3.1" class="ki"/><circle cx="566.6" cy="313" r="3.1" class="kf"/><circle cx="784.4" cy="342.6" r="3.1" class="km"/><circle cx="713.4" cy="433.5" r="3.1" class="k17"/><circle cx="624" cy="413.7" r="3.1" class="k13"/><circle cx="573.9" cy="332.3" r="3.1" class="kk"/><circle cx="581.7" cy="355.1" r="3.1" class="kp"/><circle cx="775.3" cy="362.9" r="3.1" class="kr"/><circle cx="605.9" cy="398.4" r="3.1" class="kz"/><circle cx="742.4" cy="410.3" r="3.1" class="k12"/><circle cx="570.6" cy="320.1" r="3.1" class="kh"/><circle cx="563.3" cy="296.6" r="3.1" class="kb"/><circle cx="598" cy="380.8" r="3.1" class="kv"/><circle cx="726.2" cy="422.4" r="3.1" class="k15"/><circle cx="620.3" cy="411.7" r="3.1" class="k12"/><circle cx="555.2" cy="273.3" r="3.1" class="k6"/><circle cx="571" cy="325" r="3.1" class="ki"/><circle cx="682.6" cy="439.1" r="3.1" class="k19"/><circle cx="605" cy="394" r="3.1" class="ky"/><circle cx="565.3" cy="304.2" r="3.1" class="kd"/><circle cx="603.1" cy="387.9" r="3.1" class="kx"/><circle cx="577.2" cy="345.6" r="3.1" class="kn"/><circle cx="602.3" cy="384.9" r="3.1" class="kw"/><circle cx="622.1" cy="410.6" r="3.1" class="k12"/><circle cx="759.7" cy="389.4" r="3.1" class="kx"/><circle cx="575.9" cy="335.9" r="3.1" class="kk"/><circle cx="566.7" cy="311" r="3.1" class="kf"/><circle cx="560.1" cy="285.5" r="3.1" class="k8"/><circle cx="630.3" cy="417.1" r="3.1" class="k14"/><circle cx="641.4" cy="426.8" r="3.1" class="k16"/><circle cx="711.7" cy="431.3" r="3.1" class="k17"/><circle cx="699.6" cy="435.4" r="3.1" class="k18"/><circle cx="598.9" cy="382.2" r="3.1" class="kv"/><circle cx="615.1" cy="406.6" r="3.1" class="k11"/><circle cx="647.3" cy="427.3" r="3.1" class="k16"/><circle cx="563.5" cy="295" r="3.1" class="kb"/><circle cx="595.5" cy="374.5" r="3.1" class="kt"/><circle cx="565" cy="302.8" r="3.1" class="kd"/><circle cx="652" cy="431.8" r="3.1" class="k17"/><circle cx="618.5" cy="408.2" r="3.1" class="k11"/><circle cx="577.9" cy="339.9" r="3.1" class="kl"/><circle cx="593" cy="373.4" r="3.1" class="kt"/><circle cx="790.2" cy="322.2" r="3.1" class="kh"/><circle cx="616.8" cy="407.3" r="3.1" class="k11"/><circle cx="559.7" cy="284.2" r="3.1" class="k8"/><circle cx="740.6" cy="408.8" r="3.1" class="k12"/><circle cx="725.1" cy="421.5" r="3.1" class="k15"/><circle cx="773.4" cy="366.9" r="3.1" class="ks"/><circle cx="574" cy="329.4" r="3.1" class="kj"/><circle cx="570.8" cy="317.7" r="3.1" class="kg"/><circle cx="628.2" cy="415.9" r="3.1" class="k13"/><circle cx="775.8" cy="359.6" r="3.1" class="kq"/><circle cx="784.3" cy="339.3" r="3.1" class="kl"/><circle cx="566.6" cy="309.3" r="3.1" class="ke"/><circle cx="635.2" cy="419.5" r="3.1" class="k14"/><circle cx="591" cy="370.6" r="3.1" class="ks"/><circle cx="584.6" cy="354.7" r="3.1" class="kp"/><circle cx="563.7" cy="293.4" r="3.1" class="ka"/><circle cx="689.4" cy="434.2" r="3.1" class="k17"/><circle cx="571.5" cy="322.1" r="3.1" class="kh"/><circle cx="675.7" cy="434.4" r="3.1" class="k17"/><circle cx="626.1" cy="413.7" r="3.1" class="k13"/><circle cx="589.7" cy="362.7" r="3.1" class="kq"/><circle cx="582" cy="350.4" r="3.1" class="kn"/><circle cx="573.6" cy="327.4" r="3.1" class="ki"/><circle cx="655.9" cy="430.4" r="3.1" class="k16"/><circle cx="742.3" cy="405.7" r="3.1" class="k11"/><circle cx="560.5" cy="282.6" r="3.1" class="k7"/><circle cx="562" cy="291.3" r="3.1" class="ka"/><circle cx="559.5" cy="281.6" r="3.1" class="k7"/><circle cx="576.3" cy="332.5" r="3.1" class="kj"/><circle cx="569.6" cy="314.9" r="3.1" class="kf"/><circle cx="660.6" cy="432.2" r="3.1" class="k17"/><circle cx="613.8" cy="399.4" r="3.1" class="kz"/><circle cx="596.8" cy="373.7" r="3.1" class="kt"/><circle cx="790.5" cy="319.2" r="3.1" class="kg"/><circle cx="571.3" cy="315.2" r="3.1" class="kf"/><circle cx="713.2" cy="427.4" r="3.1" class="k16"/><circle cx="759.4" cy="385.2" r="3.1" class="kw"/><circle cx="567" cy="307.2" r="3.1" class="kd"/><circle cx="688.4" cy="433" r="3.1" class="k17"/><circle cx="559" cy="280.4" r="3.1" class="k7"/><circle cx="566.3" cy="300.3" r="3.1" class="kc"/><circle cx="588.5" cy="358.4" r="3.1" class="kp"/><circle cx="565.2" cy="299.4" r="3.1" class="kb"/><circle cx="580" cy="345.3" r="3.1" class="km"/><circle cx="564" cy="291.8" r="3.1" class="ka"/><circle cx="775.4" cy="355.8" r="3.1" class="kp"/><circle cx="644.4" cy="423.8" r="3.1" class="k15"/><circle cx="784.2" cy="336.1" r="3.1" class="kk"/><circle cx="669.8" cy="431.4" r="3.1" class="k16"/><circle cx="638.4" cy="420.9" r="3.1" class="k14"/><circle cx="587.2" cy="354.7" r="3.1" class="ko"/><circle cx="725.6" cy="416.4" r="3.1" class="k13"/><circle cx="562.1" cy="289.8" r="3.1" class="k9"/><circle cx="773.5" cy="363.6" r="3.1" class="kq"/><circle cx="608.4" cy="389.7" r="3.1" class="kx"/><circle cx="664.7" cy="430.2" r="3.1" class="k16"/><circle cx="558.7" cy="279.2" r="3.1" class="k7"/><circle cx="624.1" cy="409.2" r="3.1" class="k11"/><circle cx="569.6" cy="313" r="3.1" class="kf"/><circle cx="561.5" cy="288.7" r="3.1" class="k9"/><circle cx="578.8" cy="335.2" r="3.1" class="kk"/><circle cx="740.3" cy="404.1" r="3.1" class="k10"/><circle cx="590.5" cy="363.2" r="3.1" class="kq"/><circle cx="601.1" cy="377.1" r="3.1" class="ku"/><circle cx="725.3" cy="416.9" r="3.1" class="k13"/><circle cx="711.6" cy="425.5" r="3.1" class="k15"/><circle cx="601.8" cy="379.9" r="3.1" class="ku"/><circle cx="574" cy="324.4" r="3.1" class="kh"/><circle cx="598" cy="373.5" r="3.1" class="kt"/><circle cx="581.8" cy="347" r="3.1" class="km"/><circle cx="632.5" cy="411.6" r="3.1" class="k12"/><circle cx="595.3" cy="369" r="3.1" class="ks"/><circle cx="592.8" cy="367.9" r="3.1" class="kr"/><circle cx="682.3" cy="431.4" r="3.1" class="k16"/><circle cx="790.7" cy="316.3" r="3.1" class="kf"/><circle cx="567.8" cy="304.8" r="3.1" class="kd"/><circle cx="610" cy="388.6" r="3.1" class="kw"/><circle cx="776.4" cy="353" r="3.1" class="ko"/><circle cx="558.1" cy="276.7" r="3.1" class="k6"/><circle cx="559.3" cy="277.7" r="3.1" class="k6"/><circle cx="598.7" cy="375.6" r="3.1" class="kt"/><circle cx="611.3" cy="389.6" r="3.1" class="kx"/><circle cx="698.5" cy="427.1" r="3.1" class="k15"/><circle cx="573.3" cy="317.9" r="3.1" class="kg"/><circle cx="577.2" cy="328.4" r="3.1" class="ki"/><circle cx="566.7" cy="297" r="3.1" class="kb"/><circle cx="784.1" cy="333" r="3.1" class="kj"/><circle cx="759.3" cy="381.3" r="3.1" class="ku"/><circle cx="580.1" cy="337.2" r="3.1" class="kk"/><circle cx="741.3" cy="400.2" r="3.1" class="kz"/><circle cx="616.6" cy="401.9" r="3.1" class="kz"/><circle cx="586.8" cy="351.3" r="3.1" class="kn"/><circle cx="588.2" cy="354.4" r="3.1" class="ko"/><circle cx="647.6" cy="420.4" r="3.1" class="k14"/><circle cx="622.1" cy="403" r="3.1" class="k10"/><circle cx="558.3" cy="275.4" r="3.1" class="k5"/><circle cx="576.1" cy="327.4" r="3.1" class="ki"/><circle cx="612.9" cy="389.2" r="3.1" class="kw"/><circle cx="568" cy="303.1" r="3.1" class="kc"/><circle cx="570.7" cy="310.1" r="3.1" class="ke"/><circle cx="563.3" cy="286.7" r="3.1" class="k8"/><circle cx="604.2" cy="381.2" r="3.1" class="ku"/><circle cx="572.9" cy="316.2" r="3.1" class="kf"/><circle cx="773.1" cy="360.1" r="3.1" class="kp"/><circle cx="641.3" cy="417.9" r="3.1" class="k13"/><circle cx="586.1" cy="347" r="3.1" class="km"/><circle cx="618.5" cy="401.1" r="3.1" class="kz"/><circle cx="574.4" cy="321.7" r="3.1" class="kg"/><circle cx="584" cy="347.8" r="3.1" class="km"/><circle cx="557.8" cy="274.3" r="3.1" class="k5"/><circle cx="635.5" cy="413.7" r="3.1" class="k12"/><circle cx="689" cy="427" r="3.1" class="k15"/><circle cx="615" cy="398.7" r="3.1" class="kz"/><circle cx="591.7" cy="362.4" r="3.1" class="kq"/><circle cx="675.9" cy="428.2" r="3.1" class="k16"/><circle cx="566.9" cy="295.4" r="3.1" class="ka"/><circle cx="605.3" cy="383.2" r="3.1" class="kv"/><circle cx="725.4" cy="411.4" r="3.1" class="k12"/><circle cx="581.5" cy="344" r="3.1" class="kl"/><circle cx="581.2" cy="339.7" r="3.1" class="kl"/><circle cx="630.2" cy="407" r="3.1" class="k10"/><circle cx="776.6" cy="349.7" r="3.1" class="kn"/><circle cx="566" cy="294.5" r="3.1" class="ka"/><circle cx="712.5" cy="421" r="3.1" class="k14"/><circle cx="563" cy="285.5" r="3.1" class="k8"/><circle cx="582.3" cy="347.8" r="3.1" class="km"/><circle cx="590" cy="359.4" r="3.1" class="kp"/><circle cx="651.5" cy="421.2" r="3.1" class="k14"/><circle cx="620.3" cy="399.6" r="3.1" class="kz"/><circle cx="579.9" cy="330.7" r="3.1" class="ki"/><circle cx="740" cy="399.4" r="3.1" class="kz"/><circle cx="688.4" cy="426.7" r="3.1" class="k15"/><circle cx="596.8" cy="367.2" r="3.1" class="kr"/><circle cx="573.8" cy="320.2" r="3.1" class="kg"/><circle cx="570.7" cy="308.3" r="3.1" class="kd"/><circle cx="783.9" cy="329.9" r="3.1" class="ki"/><circle cx="660.7" cy="425" r="3.1" class="k15"/><circle cx="568.6" cy="301.1" r="3.1" class="kb"/><circle cx="604" cy="374.5" r="3.1" class="kt"/><circle cx="724.5" cy="411" r="3.1" class="k11"/><circle cx="655.6" cy="421.8" r="3.1" class="k14"/><circle cx="759.4" cy="377.6" r="3.1" class="kt"/><circle cx="578.9" cy="329.5" r="3.1" class="ki"/><circle cx="591.2" cy="353.2" r="3.1" class="ko"/><circle cx="606.9" cy="382.1" r="3.1" class="ku"/><circle cx="570.3" cy="307" r="3.1" class="kd"/><circle cx="566.5" cy="292.8" r="3.1" class="k9"/><circle cx="669.5" cy="423.5" r="3.1" class="k14"/><circle cx="710.7" cy="418.7" r="3.1" class="k13"/><circle cx="638.7" cy="414.9" r="3.1" class="k12"/><circle cx="568.3" cy="299.8" r="3.1" class="kb"/><circle cx="741.4" cy="396.2" r="3.1" class="ky"/><circle cx="608.2" cy="383.3" r="3.1" class="kv"/><circle cx="577" cy="323.8" r="3.1" class="kh"/><circle cx="565.7" cy="291.9" r="3.1" class="k9"/><circle cx="586.7" cy="347.5" r="3.1" class="km"/><circle cx="564" cy="283.9" r="3.1" class="k7"/><circle cx="628" cy="402.6" r="3.1" class="kz"/><circle cx="600.9" cy="370.8" r="3.1" class="ks"/><circle cx="597.8" cy="367.7" r="3.1" class="kr"/><circle cx="589.5" cy="353.4" r="3.1" class="kn"/><circle cx="776.3" cy="346.2" r="3.1" class="km"/><circle cx="773.1" cy="356.9" r="3.1" class="ko"/><circle cx="609.5" cy="384.6" r="3.1" class="kv"/><circle cx="574.4" cy="312.8" r="3.1" class="ke"/><circle cx="581.4" cy="332.1" r="3.1" class="kj"/><circle cx="563.8" cy="282.7" r="3.1" class="k7"/><circle cx="644.2" cy="414.1" r="3.1" class="k12"/><circle cx="698" cy="420.5" r="3.1" class="k13"/><circle cx="570.3" cy="305.3" r="3.1" class="kc"/><circle cx="573.5" cy="311.9" r="3.1" class="ke"/><circle cx="565.6" cy="290.6" r="3.1" class="k9"/><circle cx="593.4" cy="360.4" r="3.1" class="kp"/><circle cx="563" cy="281.7" r="3.1" class="k7"/><circle cx="578.9" cy="327" r="3.1" class="kh"/><circle cx="783.6" cy="326.7" r="3.1" class="kh"/><circle cx="602.1" cy="371.3" r="3.1" class="ks"/><circle cx="663.4" cy="418.3" r="3.1" class="k13"/><circle cx="725.4" cy="406.9" r="3.1" class="k10"/><circle cx="562.3" cy="280.7" r="3.1" class="k6"/><circle cx="626" cy="399.6" r="3.1" class="ky"/><circle cx="681.1" cy="422.1" r="3.1" class="k14"/><circle cx="568.8" cy="298" r="3.1" class="ka"/><circle cx="739.8" cy="395.2" r="3.1" class="kx"/><circle cx="589.1" cy="347.8" r="3.1" class="km"/><circle cx="759.8" cy="374.3" r="3.1" class="ks"/><circle cx="607" cy="385.3" r="3.1" class="kv"/><circle cx="611.2" cy="382.8" r="3.1" class="ku"/><circle cx="632.5" cy="403.6" r="3.1" class="kz"/><circle cx="568.1" cy="297" r="3.1" class="ka"/><circle cx="565.7" cy="289.3" r="3.1" class="k8"/><circle cx="599.1" cy="367.3" r="3.1" class="kr"/><circle cx="573.3" cy="310.3" r="3.1" class="kd"/><circle cx="689" cy="421.3" r="3.1" class="k13"/><circle cx="575.8" cy="315.9" r="3.1" class="kf"/><circle cx="622.1" cy="398.2" r="3.1" class="ky"/><circle cx="581.1" cy="329.8" r="3.1" class="ki"/><circle cx="711.9" cy="414.8" r="3.1" class="k12"/><circle cx="583.1" cy="337.7" r="3.1" class="kk"/><circle cx="594.2" cy="361.6" r="3.1" class="kp"/><circle cx="776" cy="342.8" r="3.1" class="kl"/><circle cx="577.8" cy="320.5" r="3.1" class="kg"/><circle cx="620.3" cy="397" r="3.1" class="ky"/><circle cx="561.6" cy="278.5" r="3.1" class="k6"/><circle cx="562.8" cy="279.3" r="3.1" class="k6"/><circle cx="624" cy="396.4" r="3.1" class="kx"/><circle cx="724" cy="405.7" r="3.1" class="k10"/><circle cx="675.5" cy="420.7" r="3.1" class="k13"/><circle cx="576.7" cy="319.9" r="3.1" class="kf"/><circle cx="741.3" cy="392.1" r="3.1" class="kw"/><circle cx="772.8" cy="353.6" r="3.1" class="kn"/><circle cx="605.3" cy="376.3" r="3.1" class="kt"/><circle cx="583.7" cy="332.3" r="3.1" class="ki"/><circle cx="597" cy="356.8" r="3.1" class="ko"/><circle cx="571.7" cy="302.7" r="3.1" class="kb"/><circle cx="579.2" cy="324.1" r="3.1" class="kg"/><circle cx="573.3" cy="308.6" r="3.1" class="kd"/><circle cx="687.7" cy="419.3" r="3.1" class="k13"/><circle cx="587.2" cy="342.7" r="3.1" class="kl"/><circle cx="588.3" cy="345.9" r="3.1" class="kl"/><circle cx="612.9" cy="380.6" r="3.1" class="ku"/><circle cx="647.2" cy="410.6" r="3.1" class="k11"/><circle cx="710.6" cy="413.6" r="3.1" class="k11"/><circle cx="783.6" cy="323.8" r="3.1" class="kg"/><circle cx="584.5" cy="339.8" r="3.1" class="kk"/><circle cx="591.3" cy="351.1" r="3.1" class="kn"/><circle cx="568.9" cy="295.1" r="3.1" class="k9"/><circle cx="618.5" cy="393.2" r="3.1" class="kx"/><circle cx="597.3" cy="359.7" r="3.1" class="kp"/><circle cx="603.8" cy="368.8" r="3.1" class="kr"/><circle cx="565.7" cy="286.7" r="3.1" class="k7"/><circle cx="562" cy="277.2" r="3.1" class="k5"/><circle cx="604.6" cy="371.6" r="3.1" class="kr"/><circle cx="566.9" cy="287.5" r="3.1" class="k8"/><circle cx="630.2" cy="399.5" r="3.1" class="ky"/><circle cx="560.9" cy="276.2" r="3.1" class="k5"/><circle cx="760" cy="370.9" r="3.1" class="kr"/><circle cx="581.1" cy="327.3" r="3.1" class="kh"/><circle cx="576.4" cy="313.4" r="3.1" class="ke"/><circle cx="641" cy="407.7" r="3.1" class="k10"/><circle cx="585.7" cy="342.4" r="3.1" class="kl"/><circle cx="568.4" cy="294.1" r="3.1" class="k9"/><circle cx="776.8" cy="340" r="3.1" class="kk"/><circle cx="669.7" cy="417.9" r="3.1" class="k12"/><circle cx="571.7" cy="301.2" r="3.1" class="kb"/><circle cx="616.8" cy="389.8" r="3.1" class="kw"/><circle cx="739.6" cy="390.9" r="3.1" class="kw"/><circle cx="590.5" cy="346.7" r="3.1" class="kl"/><circle cx="614.5" cy="379.1" r="3.1" class="kt"/><circle cx="600.9" cy="364.6" r="3.1" class="kq"/><circle cx="593.8" cy="350.9" r="3.1" class="km"/><circle cx="697.9" cy="415" r="3.1" class="k12"/><circle cx="635.1" cy="402" r="3.1" class="kz"/><circle cx="573.7" cy="306.6" r="3.1" class="kc"/><circle cx="724.8" cy="401.7" r="3.1" class="ky"/><circle cx="650.6" cy="409.5" r="3.1" class="k10"/><circle cx="607" cy="374" r="3.1" class="ks"/><circle cx="655.1" cy="412.1" r="3.1" class="k11"/><circle cx="566.3" cy="285.3" r="3.1" class="k7"/><circle cx="591.9" cy="352.2" r="3.1" class="kn"/><circle cx="571.6" cy="299.9" r="3.1" class="ka"/><circle cx="580.6" cy="325.7" r="3.1" class="kh"/><circle cx="561.8" cy="274.9" r="3.1" class="k4"/><circle cx="583.8" cy="329.2" r="3.1" class="kh"/><circle cx="783.6" cy="320.9" r="3.1" class="kf"/><circle cx="712" cy="410.4" r="3.1" class="k10"/><circle cx="609.5" cy="377.6" r="3.1" class="kt"/><circle cx="772.5" cy="350.3" r="3.1" class="km"/><circle cx="681" cy="416.1" r="3.1" class="k12"/><circle cx="659.2" cy="412.2" r="3.1" class="k11"/><circle cx="741.2" cy="388.1" r="3.1" class="kv"/><circle cx="578.3" cy="315.9" r="3.1" class="ke"/><circle cx="566.2" cy="284.1" r="3.1" class="k7"/><circle cx="580.3" cy="320.5" r="3.1" class="kf"/><circle cx="588.2" cy="342.4" r="3.1" class="kk"/><circle cx="594.4" cy="352.3" r="3.1" class="kn"/><circle cx="777.4" cy="337.2" r="3.1" class="kj"/><circle cx="723.6" cy="400.9" r="3.1" class="ky"/><circle cx="591" cy="347.9" r="3.1" class="km"/><circle cx="598.9" cy="357.7" r="3.1" class="ko"/><circle cx="663.2" cy="411.1" r="3.1" class="k11"/><circle cx="565.5" cy="283.2" r="3.1" class="k6"/><circle cx="569.9" cy="292" r="3.1" class="k8"/><circle cx="577.4" cy="310.5" r="3.1" class="kd"/><circle cx="759.9" cy="367.3" r="3.1" class="kq"/><circle cx="615.4" cy="383" r="3.1" class="ku"/><circle cx="596.7" cy="356.7" r="3.1" class="ko"/><circle cx="583.1" cy="327.9" r="3.1" class="kh"/><circle cx="613.9" cy="380.9" r="3.1" class="kt"/><circle cx="632.7" cy="398.4" r="3.1" class="kx"/><circle cx="574.5" cy="304.3" r="3.1" class="kb"/><circle cx="570.8" cy="297.6" r="3.1" class="ka"/><circle cx="627.9" cy="391.9" r="3.1" class="kw"/><circle cx="573.3" cy="303.8" r="3.1" class="kb"/><circle cx="572.2" cy="298" r="3.1" class="ka"/><circle cx="569.5" cy="290.9" r="3.1" class="k8"/><circle cx="577.9" cy="314.5" r="3.1" class="ke"/><circle cx="579.8" cy="318.9" r="3.1" class="kf"/><circle cx="687.4" cy="412.2" r="3.1" class="k11"/><circle cx="638" cy="401.5" r="3.1" class="ky"/><circle cx="710.1" cy="408.2" r="3.1" class="k10"/><circle cx="585.5" cy="330.3" r="3.1" class="kh"/><circle cx="568.8" cy="290" r="3.1" class="k8"/><circle cx="603.4" cy="365" r="3.1" class="kp"/><circle cx="675.3" cy="414.3" r="3.1" class="k11"/><circle cx="575.7" cy="308.8" r="3.1" class="kc"/><circle cx="739.5" cy="387" r="3.1" class="kv"/><circle cx="566" cy="281.9" r="3.1" class="k6"/><circle cx="687.3" cy="413.1" r="3.1" class="k11"/><circle cx="586.1" cy="333.7" r="3.1" class="ki"/><circle cx="622.1" cy="391.1" r="3.1" class="kw"/><circle cx="611.3" cy="374.4" r="3.1" class="ks"/><circle cx="612.7" cy="376.2" r="3.1" class="ks"/><circle cx="602.9" cy="360.7" r="3.1" class="ko"/><circle cx="783.4" cy="318" r="3.1" class="ke"/><circle cx="577.7" cy="308.6" r="3.1" class="kc"/><circle cx="581.4" cy="322.2" r="3.1" class="kf"/><circle cx="625.9" cy="389.2" r="3.1" class="kv"/><circle cx="573.3" cy="302.3" r="3.1" class="kb"/><circle cx="724.6" cy="397.3" r="3.1" class="kx"/><circle cx="593.5" cy="350.7" r="3.1" class="km"/><circle cx="773.2" cy="347.7" r="3.1" class="kl"/><circle cx="777.4" cy="334.2" r="3.1" class="ki"/><circle cx="568.7" cy="288.9" r="3.1" class="k7"/><circle cx="698.3" cy="410.9" r="3.1" class="k10"/><circle cx="571.4" cy="295.8" r="3.1" class="k9"/><circle cx="643" cy="399.4" r="3.1" class="ky"/><circle cx="565.9" cy="280.8" r="3.1" class="k6"/><circle cx="592" cy="348" r="3.1" class="kl"/><circle cx="647.2" cy="403.9" r="3.1" class="kz"/><circle cx="567.9" cy="288" r="3.1" class="k7"/><circle cx="579.8" cy="317.1" r="3.1" class="ke"/><circle cx="595.8" cy="351.2" r="3.1" class="km"/><circle cx="587.5" cy="335.5" r="3.1" class="kj"/><circle cx="565.1" cy="279.9" r="3.1" class="k5"/><circle cx="741.1" cy="384.3" r="3.1" class="ku"/><circle cx="760.1" cy="364.1" r="3.1" class="kp"/><circle cx="583.5" cy="324.7" r="3.1" class="kg"/><circle cx="600.7" cy="354.9" r="3.1" class="kn"/><circle cx="605.8" cy="366.4" r="3.1" class="kq"/><circle cx="711.5" cy="405" r="3.1" class="kz"/></g><g class="ac"><circle cx="668.8" cy="409.3" r="3.1" class="k10"/><circle cx="723.3" cy="396.4" r="3.1" class="kx"/><circle cx="620.3" cy="385.5" r="3.1" class="ku"/><circle cx="624" cy="385.4" r="3.1" class="ku"/><circle cx="565.1" cy="278.8" r="3.1" class="k5"/><circle cx="585.8" cy="327.2" r="3.1" class="kg"/><circle cx="630.2" cy="391.2" r="3.1" class="kv"/><circle cx="582.5" cy="324" r="3.1" class="kg"/><circle cx="577" cy="306" r="3.1" class="kb"/><circle cx="579.4" cy="311" r="3.1" class="kd"/><circle cx="681" cy="410.6" r="3.1" class="k10"/><circle cx="608.1" cy="370.5" r="3.1" class="kr"/><circle cx="605.2" cy="361.8" r="3.1" class="ko"/><circle cx="618.6" cy="383.3" r="3.1" class="ku"/><circle cx="568.7" cy="286.5" r="3.1" class="k7"/><circle cx="567.4" cy="285.9" r="3.1" class="k7"/><circle cx="592.5" cy="337.8" r="3.1" class="kj"/><circle cx="654.8" cy="405" r="3.1" class="kz"/><circle cx="572.6" cy="293.9" r="3.1" class="k8"/><circle cx="739.6" cy="383.5" r="3.1" class="ku"/><circle cx="589.6" cy="336" r="3.1" class="kj"/><circle cx="590.7" cy="338.9" r="3.1" class="kj"/><circle cx="582.2" cy="318.9" r="3.1" class="ke"/><circle cx="574.8" cy="299.7" r="3.1" class="ka"/><circle cx="777.1" cy="331" r="3.1" class="kh"/><circle cx="596.9" cy="351.3" r="3.1" class="km"/><circle cx="615.2" cy="379.5" r="3.1" class="kt"/><circle cx="602.2" cy="358.8" r="3.1" class="ko"/><circle cx="635" cy="393.4" r="3.1" class="kw"/><circle cx="565.6" cy="277.6" r="3.1" class="k5"/><circle cx="650" cy="400.1" r="3.1" class="kx"/><circle cx="579" cy="309.7" r="3.1" class="kc"/><circle cx="572" cy="292.9" r="3.1" class="k8"/><circle cx="576.8" cy="304.7" r="3.1" class="kb"/><circle cx="610.8" cy="373.2" r="3.1" class="kr"/><circle cx="760.6" cy="361.1" r="3.1" class="ko"/><circle cx="580.7" cy="314" r="3.1" class="kd"/><circle cx="709.4" cy="402.6" r="3.1" class="ky"/><circle cx="772.3" cy="344.3" r="3.1" class="kk"/><circle cx="662.7" cy="403.7" r="3.1" class="ky"/><circle cx="724.4" cy="393.1" r="3.1" class="kw"/><circle cx="602.2" cy="353.5" r="3.1" class="km"/><circle cx="599.6" cy="350" r="3.1" class="kl"/><circle cx="686.8" cy="406" r="3.1" class="kz"/><circle cx="607.5" cy="364" r="3.1" class="kp"/><circle cx="587.5" cy="328.2" r="3.1" class="kh"/><circle cx="638.3" cy="397.8" r="3.1" class="kx"/><circle cx="592.7" cy="339.6" r="3.1" class="kj"/><circle cx="574.8" cy="298.4" r="3.1" class="k9"/><circle cx="565.5" cy="276.5" r="3.1" class="k4"/><circle cx="613.9" cy="374.7" r="3.1" class="kr"/><circle cx="740.5" cy="380.2" r="3.1" class="kt"/><circle cx="658" cy="401.5" r="3.1" class="ky"/><circle cx="639.9" cy="392.6" r="3.1" class="kw"/><circle cx="595.8" cy="347.2" r="3.1" class="kl"/><circle cx="609.9" cy="368" r="3.1" class="kq"/><circle cx="564.8" cy="275.6" r="3.1" class="k4"/><circle cx="586.1" cy="324.2" r="3.1" class="kg"/><circle cx="617.1" cy="376.5" r="3.1" class="ks"/><circle cx="627.9" cy="385.4" r="3.1" class="ku"/><circle cx="603.6" cy="358.2" r="3.1" class="kn"/><circle cx="612.6" cy="370.9" r="3.1" class="kq"/><circle cx="569.4" cy="284" r="3.1" class="k6"/><circle cx="580.7" cy="312.2" r="3.1" class="kd"/><circle cx="697.4" cy="404.6" r="3.1" class="ky"/><circle cx="723.6" cy="392.8" r="3.1" class="kw"/><circle cx="685.7" cy="404.5" r="3.1" class="ky"/><circle cx="573" cy="291.2" r="3.1" class="k8"/><circle cx="577.4" cy="302.7" r="3.1" class="ka"/><circle cx="582.8" cy="316.2" r="3.1" class="ke"/><circle cx="674" cy="405.4" r="3.1" class="kz"/><circle cx="594.5" cy="343.9" r="3.1" class="kk"/><circle cx="579.7" cy="307.4" r="3.1" class="kb"/><circle cx="777" cy="328.1" r="3.1" class="kg"/><circle cx="585.1" cy="323.6" r="3.1" class="kf"/><circle cx="576.3" cy="302.2" r="3.1" class="ka"/><circle cx="586.9" cy="326.8" r="3.1" class="kg"/><circle cx="589.1" cy="329.5" r="3.1" class="kh"/><circle cx="568.7" cy="283.1" r="3.1" class="k6"/><circle cx="584" cy="319.7" r="3.1" class="ke"/><circle cx="578.6" cy="307" r="3.1" class="kb"/><circle cx="643.2" cy="394.2" r="3.1" class="kw"/><circle cx="710.9" cy="399.8" r="3.1" class="kx"/><circle cx="761.1" cy="358.2" r="3.1" class="kn"/><circle cx="739.2" cy="379.6" r="3.1" class="ks"/><circle cx="575.7" cy="301.3" r="3.1" class="ka"/><circle cx="575.8" cy="296.4" r="3.1" class="k9"/><circle cx="598.8" cy="348.8" r="3.1" class="kl"/><circle cx="573" cy="290" r="3.1" class="k7"/><circle cx="601" cy="348.9" r="3.1" class="kl"/><circle cx="574.9" cy="295.8" r="3.1" class="k9"/><circle cx="568.6" cy="282.1" r="3.1" class="k5"/><circle cx="669" cy="404.5" r="3.1" class="ky"/><circle cx="772.4" cy="341.4" r="3.1" class="kj"/><circle cx="632.3" cy="386.3" r="3.1" class="ku"/><circle cx="592.4" cy="337.1" r="3.1" class="ki"/><circle cx="601.4" cy="352.1" r="3.1" class="km"/><circle cx="578.3" cy="305.7" r="3.1" class="kb"/><circle cx="574.1" cy="295" r="3.1" class="k8"/><circle cx="594" cy="338.9" r="3.1" class="kj"/><circle cx="590.8" cy="330.5" r="3.1" class="kh"/><circle cx="625.8" cy="379.9" r="3.1" class="ks"/><circle cx="572.7" cy="289.1" r="3.1" class="k7"/><circle cx="568.2" cy="281.2" r="3.1" class="k5"/><circle cx="646.6" cy="394.9" r="3.1" class="kw"/><circle cx="588.4" cy="328.1" r="3.1" class="kg"/><circle cx="680.5" cy="404.6" r="3.1" class="ky"/><circle cx="741" cy="377.1" r="3.1" class="ks"/><circle cx="581.2" cy="309.9" r="3.1" class="kc"/><circle cx="591.9" cy="333" r="3.1" class="kh"/><circle cx="567.3" cy="280.4" r="3.1" class="k5"/><circle cx="724.2" cy="389.1" r="3.1" class="ku"/><circle cx="583.2" cy="313.8" r="3.1" class="kd"/><circle cx="709.2" cy="398" r="3.1" class="kx"/><circle cx="572" cy="288.3" r="3.1" class="k7"/><circle cx="585.2" cy="321.2" r="3.1" class="kf"/><circle cx="605.5" cy="355.2" r="3.1" class="km"/><circle cx="584.2" cy="317.3" r="3.1" class="ke"/><circle cx="589.5" cy="330.5" r="3.1" class="kh"/><circle cx="687.5" cy="402.6" r="3.1" class="ky"/><circle cx="663.5" cy="401.2" r="3.1" class="kx"/><circle cx="576.3" cy="299.5" r="3.1" class="k9"/><circle cx="777.1" cy="325.3" r="3.1" class="kg"/><circle cx="582.5" cy="312.9" r="3.1" class="kd"/><circle cx="571.8" cy="287.3" r="3.1" class="k6"/><circle cx="761.3" cy="355.1" r="3.1" class="km"/><circle cx="623.9" cy="376.6" r="3.1" class="kr"/><circle cx="635" cy="387.8" r="3.1" class="ku"/><circle cx="598" cy="343.6" r="3.1" class="kk"/><circle cx="686.8" cy="402.3" r="3.1" class="kx"/><circle cx="723.3" cy="388.7" r="3.1" class="ku"/><circle cx="587.9" cy="322.6" r="3.1" class="kf"/><circle cx="596.4" cy="341.5" r="3.1" class="kj"/><circle cx="658.2" cy="397.1" r="3.1" class="kw"/><circle cx="629.9" cy="381.2" r="3.1" class="ks"/><circle cx="649.6" cy="392.5" r="3.1" class="kv"/><circle cx="581.6" cy="307.9" r="3.1" class="kb"/><circle cx="568.4" cy="279" r="3.1" class="k4"/><circle cx="571.6" cy="286.3" r="3.1" class="k6"/><circle cx="697.4" cy="400.2" r="3.1" class="kx"/><circle cx="739" cy="375.9" r="3.1" class="kr"/><circle cx="653.7" cy="394.5" r="3.1" class="kw"/><circle cx="606.8" cy="354.8" r="3.1" class="km"/><circle cx="579.5" cy="303.2" r="3.1" class="ka"/><circle cx="600.6" cy="346.3" r="3.1" class="kk"/><circle cx="772.2" cy="338.4" r="3.1" class="kj"/><circle cx="566.3" cy="277.5" r="3.1" class="k4"/><circle cx="639.9" cy="387.3" r="3.1" class="ku"/><circle cx="585.3" cy="319" r="3.1" class="ke"/><circle cx="674.3" cy="401.2" r="3.1" class="kx"/><circle cx="567.8" cy="278.2" r="3.1" class="k4"/><circle cx="710.5" cy="395.2" r="3.1" class="kw"/><circle cx="571.2" cy="285.4" r="3.1" class="k6"/><circle cx="575" cy="292.1" r="3.1" class="k7"/><circle cx="576.3" cy="292.5" r="3.1" class="k8"/><circle cx="612.5" cy="366" r="3.1" class="kp"/><circle cx="622.1" cy="372.6" r="3.1" class="kq"/><circle cx="591.9" cy="330.1" r="3.1" class="kg"/><circle cx="740.8" cy="373.4" r="3.1" class="kr"/><circle cx="589" cy="324.5" r="3.1" class="kf"/><circle cx="582.8" cy="310.9" r="3.1" class="kc"/><circle cx="598.9" cy="344.4" r="3.1" class="kk"/><circle cx="595.6" cy="337.3" r="3.1" class="ki"/><circle cx="593" cy="332.6" r="3.1" class="kh"/><circle cx="608" cy="355.4" r="3.1" class="km"/><circle cx="609.1" cy="357.6" r="3.1" class="kn"/><circle cx="618.8" cy="370.4" r="3.1" class="kq"/><circle cx="777.2" cy="322.6" r="3.1" class="kf"/><circle cx="566.5" cy="276.5" r="3.1" class="k4"/><circle cx="578" cy="296.9" r="3.1" class="k9"/><circle cx="724.3" cy="385.5" r="3.1" class="kt"/><circle cx="614.1" cy="365.9" r="3.1" class="kp"/><circle cx="761.7" cy="352.2" r="3.1" class="kl"/><circle cx="578.5" cy="301.3" r="3.1" class="ka"/><circle cx="571.3" cy="284.3" r="3.1" class="k6"/><circle cx="643.2" cy="388.6" r="3.1" class="ku"/><circle cx="620.5" cy="369.8" r="3.1" class="kq"/><circle cx="590.1" cy="326.7" r="3.1" class="kg"/><circle cx="585.6" cy="313.5" r="3.1" class="kc"/><circle cx="580" cy="301.3" r="3.1" class="ka"/><circle cx="594.8" cy="333.5" r="3.1" class="kh"/><circle cx="588.1" cy="320.1" r="3.1" class="ke"/><circle cx="709.1" cy="393.9" r="3.1" class="kv"/><circle cx="627.7" cy="376.2" r="3.1" class="kr"/><circle cx="604.6" cy="348.8" r="3.1" class="kl"/><circle cx="577.6" cy="296" r="3.1" class="k8"/><circle cx="585.4" cy="317" r="3.1" class="kd"/><circle cx="584.5" cy="313.2" r="3.1" class="kc"/><circle cx="581.3" cy="305.2" r="3.1" class="ka"/><circle cx="610.5" cy="357.5" r="3.1" class="kn"/><circle cx="688.1" cy="399.4" r="3.1" class="kx"/><circle cx="668.3" cy="397.6" r="3.1" class="kw"/><circle cx="582.8" cy="305.2" r="3.1" class="ka"/><circle cx="591.3" cy="328.8" r="3.1" class="kg"/><circle cx="576.1" cy="290.4" r="3.1" class="k7"/><circle cx="602.1" cy="345.1" r="3.1" class="kk"/><circle cx="604.3" cy="344.5" r="3.1" class="kk"/><circle cx="576.9" cy="295.3" r="3.1" class="k8"/><circle cx="575" cy="289.9" r="3.1" class="k7"/><circle cx="739.1" cy="372.7" r="3.1" class="kq"/><circle cx="583.3" cy="308.7" r="3.1" class="kb"/><circle cx="722.9" cy="384.6" r="3.1" class="kt"/><circle cx="637.2" cy="383.1" r="3.1" class="kt"/><circle cx="772.3" cy="335.7" r="3.1" class="ki"/><circle cx="593.7" cy="333.3" r="3.1" class="kh"/><circle cx="570.6" cy="282.5" r="3.1" class="k5"/><circle cx="615.9" cy="363.1" r="3.1" class="ko"/><circle cx="572.1" cy="283" r="3.1" class="k5"/><circle cx="679" cy="396.3" r="3.1" class="kw"/><circle cx="587.7" cy="318.8" r="3.1" class="ke"/><circle cx="632.1" cy="378.3" r="3.1" class="kr"/><circle cx="584.1" cy="312.1" r="3.1" class="kc"/><circle cx="741.1" cy="370.2" r="3.1" class="kq"/><circle cx="598.5" cy="338.4" r="3.1" class="ki"/><circle cx="579.1" cy="299.5" r="3.1" class="k9"/><circle cx="617.4" cy="363.4" r="3.1" class="ko"/><circle cx="630.2" cy="379.5" r="3.1" class="ks"/><circle cx="600.6" cy="342.5" r="3.1" class="kj"/><circle cx="625.7" cy="372.1" r="3.1" class="kq"/><circle cx="662.7" cy="393.7" r="3.1" class="kv"/><circle cx="777" cy="319.7" r="3.1" class="ke"/><circle cx="650.1" cy="389.7" r="3.1" class="ku"/><circle cx="575.3" cy="288.7" r="3.1" class="k6"/><circle cx="686.1" cy="396.5" r="3.1" class="kw"/><circle cx="697.1" cy="395.5" r="3.1" class="kw"/><circle cx="577.2" cy="294" r="3.1" class="k8"/><circle cx="581.8" cy="303.4" r="3.1" class="ka"/><circle cx="612.1" cy="355.5" r="3.1" class="km"/><circle cx="762.1" cy="349.3" r="3.1" class="kl"/><circle cx="578.5" cy="298.7" r="3.1" class="k9"/><circle cx="606" cy="347.6" r="3.1" class="kk"/><circle cx="586.8" cy="318.2" r="3.1" class="kd"/><circle cx="597.3" cy="335.4" r="3.1" class="kh"/><circle cx="710.1" cy="390.8" r="3.1" class="ku"/><circle cx="583.3" cy="307.2" r="3.1" class="kb"/><circle cx="590.3" cy="320.1" r="3.1" class="ke"/><circle cx="571.1" cy="281.3" r="3.1" class="k5"/><circle cx="658.2" cy="392" r="3.1" class="kv"/><circle cx="674.6" cy="397.4" r="3.1" class="kw"/><circle cx="586" cy="314.3" r="3.1" class="kc"/><circle cx="645.5" cy="383.9" r="3.1" class="kt"/><circle cx="593.9" cy="327.9" r="3.1" class="kg"/><circle cx="653.7" cy="389.7" r="3.1" class="ku"/><circle cx="591.3" cy="326.2" r="3.1" class="kf"/><circle cx="575.3" cy="287.7" r="3.1" class="k6"/><circle cx="723.9" cy="381.5" r="3.1" class="ks"/><circle cx="570.7" cy="280.5" r="3.1" class="k4"/><circle cx="623.9" cy="369.1" r="3.1" class="kp"/><circle cx="640.1" cy="382.8" r="3.1" class="ks"/><circle cx="584.4" cy="310" r="3.1" class="kb"/><circle cx="573.3" cy="286.5" r="3.1" class="k6"/><circle cx="569.9" cy="279.7" r="3.1" class="k4"/><circle cx="580.5" cy="301.9" r="3.1" class="k9"/><circle cx="577.6" cy="292.6" r="3.1" class="k7"/><circle cx="599.6" cy="338.3" r="3.1" class="ki"/><circle cx="601.7" cy="342.8" r="3.1" class="kj"/><circle cx="596.7" cy="331.2" r="3.1" class="kg"/><circle cx="591.5" cy="321.7" r="3.1" class="ke"/><circle cx="583.2" cy="305.8" r="3.1" class="ka"/><circle cx="634.6" cy="378.5" r="3.1" class="kr"/><circle cx="741.6" cy="367.2" r="3.1" class="kp"/><circle cx="589.8" cy="318.8" r="3.1" class="kd"/><circle cx="739.1" cy="369.4" r="3.1" class="kp"/><circle cx="582.4" cy="301.5" r="3.1" class="k9"/><circle cx="708.3" cy="389" r="3.1" class="ku"/><circle cx="595" cy="332.8" r="3.1" class="kh"/><circle cx="579.6" cy="301.4" r="3.1" class="k9"/><circle cx="772" cy="332.7" r="3.1" class="kh"/><circle cx="579.6" cy="296.7" r="3.1" class="k8"/><circle cx="604.3" cy="340.8" r="3.1" class="kj"/><circle cx="577.4" cy="291.6" r="3.1" class="k7"/><circle cx="575.9" cy="286.3" r="3.1" class="k6"/><circle cx="593.3" cy="326.5" r="3.1" class="kf"/><circle cx="722.5" cy="380.6" r="3.1" class="ks"/><circle cx="570.1" cy="278.7" r="3.1" class="k4"/><circle cx="762.4" cy="346.5" r="3.1" class="kk"/><circle cx="586.4" cy="312.1" r="3.1" class="kc"/><circle cx="643.2" cy="383.4" r="3.1" class="ks"/><circle cx="605.4" cy="346.8" r="3.1" class="kk"/><circle cx="604.9" cy="343" r="3.1" class="kj"/><circle cx="668.3" cy="392.8" r="3.1" class="kv"/><circle cx="627.8" cy="371.7" r="3.1" class="kq"/><circle cx="590.8" cy="320.8" r="3.1" class="ke"/><circle cx="587.7" cy="315" r="3.1" class="kc"/><circle cx="686.9" cy="392.9" r="3.1" class="kv"/><circle cx="679.5" cy="393.2" r="3.1" class="kv"/><circle cx="610.6" cy="352.1" r="3.1" class="kl"/><circle cx="569.9" cy="277.8" r="3.1" class="k4"/><circle cx="574.6" cy="284.9" r="3.1" class="k5"/><circle cx="622.1" cy="362.3" r="3.1" class="kn"/><circle cx="608.9" cy="345.5" r="3.1" class="kk"/><circle cx="620.5" cy="361.9" r="3.1" class="kn"/><circle cx="569.1" cy="277" r="3.1" class="k3"/><circle cx="613.1" cy="354.9" r="3.1" class="km"/><circle cx="606.6" cy="347.4" r="3.1" class="kk"/><circle cx="710.1" cy="387.1" r="3.1" class="kt"/><circle cx="611.9" cy="352.6" r="3.1" class="kl"/><circle cx="592.6" cy="325.7" r="3.1" class="kf"/><circle cx="696.8" cy="390.9" r="3.1" class="ku"/><circle cx="584.2" cy="303.3" r="3.1" class="ka"/><circle cx="742.2" cy="364.3" r="3.1" class="ko"/><circle cx="590.1" cy="316.4" r="3.1" class="kd"/><circle cx="580.6" cy="299.2" r="3.1" class="k9"/><circle cx="614.5" cy="356" r="3.1" class="km"/><circle cx="663" cy="389.8" r="3.1" class="ku"/><circle cx="599.6" cy="331.8" r="3.1" class="kg"/><circle cx="685.7" cy="391.4" r="3.1" class="ku"/><circle cx="592.3" cy="322" r="3.1" class="ke"/><circle cx="586" cy="306.7" r="3.1" class="ka"/><circle cx="723.9" cy="378.1" r="3.1" class="kr"/><circle cx="603.5" cy="340.4" r="3.1" class="ki"/><circle cx="632.1" cy="373.1" r="3.1" class="kq"/><circle cx="578.8" cy="289.8" r="3.1" class="k6"/><circle cx="646.1" cy="381.9" r="3.1" class="ks"/><circle cx="583.3" cy="302.9" r="3.1" class="k9"/><circle cx="610.1" cy="346.2" r="3.1" class="kk"/><circle cx="581" cy="294.5" r="3.1" class="k7"/><circle cx="598.3" cy="329.8" r="3.1" class="kg"/><circle cx="577.6" cy="289.4" r="3.1" class="k6"/><circle cx="658.6" cy="388.8" r="3.1" class="ku"/><circle cx="586.8" cy="309.8" r="3.1" class="kb"/><circle cx="579.9" cy="294.2" r="3.1" class="k7"/><circle cx="772.3" cy="330.1" r="3.1" class="kg"/><circle cx="739" cy="366.1" r="3.1" class="ko"/><circle cx="619" cy="358.1" r="3.1" class="km"/><circle cx="575.4" cy="283.7" r="3.1" class="k5"/><circle cx="585.2" cy="306.1" r="3.1" class="ka"/><circle cx="625.7" cy="366.5" r="3.1" class="ko"/><circle cx="674.1" cy="391.7" r="3.1" class="ku"/><circle cx="596.3" cy="324.5" r="3.1" class="ke"/><circle cx="579.1" cy="293.7" r="3.1" class="k7"/><circle cx="762.4" cy="343.5" r="3.1" class="kj"/><circle cx="588.2" cy="312.5" r="3.1" class="kc"/><circle cx="616.1" cy="354.5" r="3.1" class="kl"/><circle cx="649.6" cy="382.5" r="3.1" class="ks"/><circle cx="585.9" cy="309.4" r="3.1" class="kb"/><circle cx="636.6" cy="373.4" r="3.1" class="kq"/><circle cx="708.1" cy="385" r="3.1" class="kt"/><circle cx="573.8" cy="282.4" r="3.1" class="k4"/><circle cx="617.6" cy="354.9" r="3.1" class="kl"/><circle cx="653.4" cy="383.8" r="3.1" class="ks"/><circle cx="602.1" cy="333.7" r="3.1" class="kh"/><circle cx="581.2" cy="297.6" r="3.1" class="k8"/><circle cx="575.5" cy="282.7" r="3.1" class="k5"/><circle cx="722.1" cy="376.9" r="3.1" class="kr"/><circle cx="640" cy="377.8" r="3.1" class="kr"/><circle cx="602.3" cy="336.8" r="3.1" class="kh"/><circle cx="742.9" cy="361.5" r="3.1" class="kn"/><circle cx="629.9" cy="370" r="3.1" class="kp"/><circle cx="578.4" cy="288" r="3.1" class="k6"/><circle cx="590.4" cy="314.1" r="3.1" class="kc"/><circle cx="604.8" cy="339.8" r="3.1" class="ki"/><circle cx="573.5" cy="281.5" r="3.1" class="k4"/><circle cx="600.8" cy="331.5" r="3.1" class="kg"/><circle cx="592.3" cy="316.1" r="3.1" class="kc"/><circle cx="608.5" cy="343.9" r="3.1" class="kj"/><circle cx="623.8" cy="361.9" r="3.1" class="kn"/><circle cx="585.7" cy="304.2" r="3.1" class="ka"/><circle cx="578.7" cy="291.8" r="3.1" class="k7"/><circle cx="686.9" cy="388.9" r="3.1" class="kt"/><circle cx="596" cy="322.9" r="3.1" class="ke"/><circle cx="599.6" cy="329" r="3.1" class="kf"/><circle cx="586.2" cy="307.6" r="3.1" class="ka"/><circle cx="573.3" cy="280.7" r="3.1" class="k4"/><circle cx="609.6" cy="345.4" r="3.1" class="kj"/><circle cx="627.9" cy="368.3" r="3.1" class="ko"/><circle cx="593.5" cy="321.6" r="3.1" class="ke"/><circle cx="679.3" cy="388.5" r="3.1" class="kt"/><circle cx="605.8" cy="340.8" r="3.1" class="ki"/><circle cx="589.8" cy="313.2" r="3.1" class="kc"/><circle cx="622.1" cy="360.1" r="3.1" class="kn"/><circle cx="577.5" cy="286.5" r="3.1" class="k5"/><circle cx="597.2" cy="324.7" r="3.1" class="ke"/><circle cx="578.8" cy="286.8" r="3.1" class="k5"/><circle cx="583.8" cy="299.9" r="3.1" class="k8"/><circle cx="580.8" cy="291.5" r="3.1" class="k6"/><circle cx="739.3" cy="363.2" r="3.1" class="kn"/><circle cx="588.9" cy="309.9" r="3.1" class="kb"/><circle cx="772.3" cy="327.3" r="3.1" class="kf"/><circle cx="723.7" cy="374.6" r="3.1" class="kq"/><circle cx="709.6" cy="382.8" r="3.1" class="ks"/><circle cx="582.5" cy="299.9" r="3.1" class="k8"/><circle cx="593.5" cy="317.7" r="3.1" class="kd"/><circle cx="667.5" cy="386.3" r="3.1" class="kt"/><circle cx="582.2" cy="295.6" r="3.1" class="k7"/><circle cx="762.8" cy="340.9" r="3.1" class="ki"/><circle cx="591.7" cy="315.4" r="3.1" class="kc"/><circle cx="601.5" cy="332.6" r="3.1" class="kg"/><circle cx="576.9" cy="285.9" r="3.1" class="k5"/><circle cx="585.5" cy="303.1" r="3.1" class="k9"/><circle cx="743.6" cy="358.7" r="3.1" class="km"/><circle cx="695.8" cy="385.5" r="3.1" class="ks"/><circle cx="581.4" cy="295.1" r="3.1" class="k7"/><circle cx="685.5" cy="387.2" r="3.1" class="kt"/><circle cx="642.6" cy="375.3" r="3.1" class="kq"/><circle cx="582" cy="299.1" r="3.1" class="k8"/><circle cx="576.3" cy="285.2" r="3.1" class="k5"/><circle cx="620.5" cy="356.1" r="3.1" class="kl"/><circle cx="586.4" cy="306" r="3.1" class="ka"/><circle cx="599.4" cy="324.2" r="3.1" class="ke"/><circle cx="595.5" cy="321.7" r="3.1" class="ke"/><circle cx="589.5" cy="312" r="3.1" class="kb"/><circle cx="574.5" cy="279.4" r="3.1" class="k4"/><circle cx="633.7" cy="365.8" r="3.1" class="ko"/><circle cx="708.4" cy="382" r="3.1" class="ks"/><circle cx="588.8" cy="308.5" r="3.1" class="ka"/><circle cx="607.3" cy="340.1" r="3.1" class="ki"/><circle cx="573.4" cy="278.8" r="3.1" class="k3"/><circle cx="722.3" cy="373.9" r="3.1" class="kq"/><circle cx="625.8" cy="363.3" r="3.1" class="kn"/><circle cx="585.4" cy="301.9" r="3.1" class="k9"/><circle cx="662" cy="382.6" r="3.1" class="ks"/><circle cx="579.3" cy="289.4" r="3.1" class="k6"/><circle cx="673.7" cy="386.8" r="3.1" class="kt"/><circle cx="619" cy="352.9" r="3.1" class="kl"/><circle cx="581.9" cy="293.7" r="3.1" class="k7"/><circle cx="645.6" cy="375.2" r="3.1" class="kq"/><circle cx="653.9" cy="381" r="3.1" class="kr"/><circle cx="612.4" cy="344.2" r="3.1" class="kj"/><circle cx="636.8" cy="369.9" r="3.1" class="kp"/><circle cx="581" cy="289.3" r="3.1" class="k6"/><circle cx="611.5" cy="341.6" r="3.1" class="ki"/><circle cx="631.8" cy="366" r="3.1" class="ko"/><circle cx="649.6" cy="378" r="3.1" class="kr"/><circle cx="657.5" cy="380.9" r="3.1" class="kr"/><circle cx="604.8" cy="331.9" r="3.1" class="kg"/><circle cx="598.5" cy="324.1" r="3.1" class="ke"/><circle cx="744.3" cy="356" r="3.1" class="kl"/><circle cx="592.2" cy="312.8" r="3.1" class="kb"/><circle cx="573.5" cy="277.9" r="3.1" class="k3"/><circle cx="588.4" cy="307.6" r="3.1" class="ka"/><circle cx="582.7" cy="297.4" r="3.1" class="k8"/><circle cx="603" cy="331.6" r="3.1" class="kg"/><circle cx="763.3" cy="338.3" r="3.1" class="kh"/><circle cx="772.4" cy="324.7" r="3.1" class="ke"/><circle cx="623.9" cy="360.5" r="3.1" class="km"/><circle cx="594.1" cy="314.6" r="3.1" class="kc"/><circle cx="739.3" cy="360.1" r="3.1" class="km"/><circle cx="592.4" cy="315.9" r="3.1" class="kc"/><circle cx="577.7" cy="283.6" r="3.1" class="k4"/><circle cx="629.9" cy="366.2" r="3.1" class="ko"/><circle cx="581.7" cy="292.8" r="3.1" class="k7"/><circle cx="600.2" cy="324.7" r="3.1" class="ke"/><circle cx="572.9" cy="277.2" r="3.1" class="k3"/><circle cx="687.1" cy="385.5" r="3.1" class="ks"/><circle cx="639.9" cy="372.3" r="3.1" class="kp"/><circle cx="613.9" cy="343.3" r="3.1" class="kj"/><circle cx="595.4" cy="319.8" r="3.1" class="kd"/><circle cx="617.7" cy="348.2" r="3.1" class="kk"/><circle cx="577" cy="283" r="3.1" class="k4"/><circle cx="609.5" cy="342" r="3.1" class="ki"/><circle cx="601.9" cy="325.3" r="3.1" class="ke"/><circle cx="595" cy="316.7" r="3.1" class="kc"/><circle cx="710" cy="380" r="3.1" class="kr"/><circle cx="605.6" cy="333.4" r="3.1" class="kg"/><circle cx="723.3" cy="371" r="3.1" class="kp"/><circle cx="587.4" cy="303.5" r="3.1" class="k9"/><circle cx="590.2" cy="309.5" r="3.1" class="kb"/><circle cx="620.4" cy="357.6" r="3.1" class="km"/><circle cx="598.5" cy="319.4" r="3.1" class="kd"/><circle cx="616.5" cy="345.5" r="3.1" class="kj"/><circle cx="580.6" cy="287.7" r="3.1" class="k5"/><circle cx="668.1" cy="384" r="3.1" class="ks"/><circle cx="576.4" cy="282.4" r="3.1" class="k4"/><circle cx="609" cy="337.3" r="3.1" class="kh"/><circle cx="615.3" cy="343.3" r="3.1" class="ki"/><circle cx="575.3" cy="281.9" r="3.1" class="k4"/><circle cx="588.5" cy="306" r="3.1" class="ka"/><circle cx="602.2" cy="327.6" r="3.1" class="kf"/><circle cx="622.1" cy="356.1" r="3.1" class="kl"/><circle cx="583.4" cy="295.7" r="3.1" class="k7"/><circle cx="695.8" cy="382" r="3.1" class="kr"/><circle cx="745.1" cy="353.3" r="3.1" class="kl"/><circle cx="627.8" cy="363.5" r="3.1" class="kn"/><circle cx="585.7" cy="299.1" r="3.1" class="k8"/><circle cx="634.2" cy="366" r="3.1" class="ko"/><circle cx="597.2" cy="320.2" r="3.1" class="kd"/><circle cx="584.3" cy="299.3" r="3.1" class="k8"/><circle cx="610.9" cy="341.7" r="3.1" class="ki"/><circle cx="685.5" cy="383.4" r="3.1" class="ks"/><circle cx="677.6" cy="381.2" r="3.1" class="kr"/><circle cx="582.5" cy="291.3" r="3.1" class="k6"/><circle cx="601" cy="325.3" r="3.1" class="ke"/><circle cx="592.8" cy="310.2" r="3.1" class="kb"/><circle cx="604.4" cy="330.6" r="3.1" class="kf"/><circle cx="587.5" cy="302.1" r="3.1" class="k9"/><circle cx="580.7" cy="286.7" r="3.1" class="k5"/><circle cx="708.4" cy="378.6" r="3.1" class="kr"/><circle cx="721.8" cy="370.2" r="3.1" class="kp"/><circle cx="581.6" cy="290.9" r="3.1" class="k6"/><circle cx="606.8" cy="333" r="3.1" class="kg"/><circle cx="646.7" cy="376" r="3.1" class="kq"/><circle cx="594.8" cy="315.1" r="3.1" class="kc"/><circle cx="602.7" cy="329.6" r="3.1" class="kf"/><circle cx="607.4" cy="336.2" r="3.1" class="kh"/><circle cx="580" cy="286.2" r="3.1" class="k5"/><circle cx="618.9" cy="351.5" r="3.1" class="kk"/><circle cx="763.5" cy="335.6" r="3.1" class="kh"/><circle cx="612.3" cy="341.9" r="3.1" class="ki"/><circle cx="739.5" cy="357.3" r="3.1" class="kl"/><circle cx="642.3" cy="369.6" r="3.1" class="ko"/><circle cx="584.1" cy="298.4" r="3.1" class="k8"/><circle cx="772.2" cy="321.9" r="3.1" class="kd"/><circle cx="591.9" cy="310" r="3.1" class="ka"/><circle cx="576.3" cy="280.7" r="3.1" class="k4"/><circle cx="637.2" cy="368.9" r="3.1" class="ko"/><circle cx="590.9" cy="307" r="3.1" class="ka"/><circle cx="625.8" cy="360.1" r="3.1" class="km"/><circle cx="593.5" cy="312.1" r="3.1" class="kb"/><circle cx="596.5" cy="319.8" r="3.1" class="kd"/><circle cx="595.9" cy="316.8" r="3.1" class="kc"/><circle cx="584.2" cy="294" r="3.1" class="k7"/><circle cx="661.9" cy="378.3" r="3.1" class="kq"/><circle cx="746.4" cy="351.1" r="3.1" class="kk"/><circle cx="593.8" cy="315.1" r="3.1" class="kc"/><circle cx="589.1" cy="303.9" r="3.1" class="k9"/><circle cx="587.5" cy="300.8" r="3.1" class="k8"/><circle cx="579.8" cy="285.4" r="3.1" class="k5"/><circle cx="605.4" cy="331" r="3.1" class="kf"/><circle cx="575.8" cy="280" r="3.1" class="k3"/><circle cx="601.8" cy="326.2" r="3.1" class="ke"/><circle cx="608.6" cy="336.6" r="3.1" class="kh"/><circle cx="653.8" cy="376.8" r="3.1" class="kq"/><circle cx="599.8" cy="318.7" r="3.1" class="kc"/><circle cx="657.6" cy="377.2" r="3.1" class="kq"/><circle cx="723.3" cy="367.9" r="3.1" class="ko"/><circle cx="582.4" cy="289.5" r="3.1" class="k6"/><circle cx="631.8" cy="361.6" r="3.1" class="km"/><circle cx="579.4" cy="284.7" r="3.1" class="k4"/><circle cx="649.2" cy="372.5" r="3.1" class="kp"/><circle cx="609.6" cy="338.5" r="3.1" class="kh"/><circle cx="584.1" cy="293.1" r="3.1" class="k6"/><circle cx="601.3" cy="319.3" r="3.1" class="kd"/><circle cx="709.6" cy="376.2" r="3.1" class="kq"/><circle cx="671.8" cy="378.5" r="3.1" class="kq"/><circle cx="623.9" cy="355.1" r="3.1" class="kl"/><circle cx="614" cy="338.6" r="3.1" class="kh"/><circle cx="579" cy="284.1" r="3.1" class="k4"/><circle cx="576.5" cy="278.9" r="3.1" class="k3"/><circle cx="685.7" cy="379.4" r="3.1" class="kr"/><circle cx="592.3" cy="307.9" r="3.1" class="ka"/><circle cx="582.5" cy="288.5" r="3.1" class="k5"/><circle cx="589.4" cy="302.4" r="3.1" class="k9"/><circle cx="585.4" cy="296.2" r="3.1" class="k7"/><circle cx="604.4" cy="327.8" r="3.1" class="kf"/><circle cx="583.7" cy="292.4" r="3.1" class="k6"/><circle cx="617.8" cy="342.9" r="3.1" class="ki"/><circle cx="639.8" cy="367.5" r="3.1" class="ko"/><circle cx="747.1" cy="348.4" r="3.1" class="kj"/><circle cx="616.5" cy="341.1" r="3.1" class="ki"/><circle cx="610.9" cy="338.9" r="3.1" class="kh"/><circle cx="601.6" cy="321.3" r="3.1" class="kd"/><circle cx="594.2" cy="309.5" r="3.1" class="ka"/><circle cx="695.2" cy="377.7" r="3.1" class="kq"/><circle cx="615.3" cy="338.8" r="3.1" class="kh"/><circle cx="592.1" cy="304.1" r="3.1" class="k9"/><circle cx="763.4" cy="332.8" r="3.1" class="kg"/><circle cx="576" cy="278.3" r="3.1" class="k3"/><circle cx="584.5" cy="295.9" r="3.1" class="k7"/><circle cx="677.9" cy="378.3" r="3.1" class="kq"/><circle cx="739.3" cy="354.2" r="3.1" class="kl"/><circle cx="578.7" cy="283.3" r="3.1" class="k4"/><circle cx="721.5" cy="366.8" r="3.1" class="kn"/><circle cx="629.6" cy="358.5" r="3.1" class="km"/><circle cx="588.6" cy="302.1" r="3.1" class="k8"/><circle cx="600.6" cy="319" r="3.1" class="kc"/><circle cx="612" cy="340.5" r="3.1" class="kh"/><circle cx="627.9" cy="360.5" r="3.1" class="km"/><circle cx="708.1" cy="375" r="3.1" class="kp"/><circle cx="605" cy="330" r="3.1" class="kf"/><circle cx="607.1" cy="329" r="3.1" class="kf"/><circle cx="666.9" cy="377.1" r="3.1" class="kq"/><circle cx="596.7" cy="313.5" r="3.1" class="kb"/><circle cx="599.8" cy="316.5" r="3.1" class="kc"/><circle cx="684.6" cy="378.4" r="3.1" class="kq"/><circle cx="622.1" cy="351.2" r="3.1" class="kk"/><circle cx="634.3" cy="362.2" r="3.1" class="km"/><circle cx="620.5" cy="350.9" r="3.1" class="kk"/><circle cx="618.8" cy="350.1" r="3.1" class="kk"/><circle cx="593.1" cy="309.7" r="3.1" class="ka"/><circle cx="583.8" cy="291.4" r="3.1" class="k6"/><circle cx="575.6" cy="277.6" r="3.1" class="k3"/><circle cx="587.8" cy="298.2" r="3.1" class="k7"/><circle cx="597.4" cy="316" r="3.1" class="kc"/><circle cx="582.9" cy="287.3" r="3.1" class="k5"/><circle cx="603.4" cy="324.6" r="3.1" class="ke"/><circle cx="595" cy="314.9" r="3.1" class="kb"/><circle cx="617.3" cy="347.7" r="3.1" class="kj"/><circle cx="595.1" cy="311.1" r="3.1" class="ka"/><circle cx="582.2" cy="286.9" r="3.1" class="k5"/><circle cx="591.9" cy="303.1" r="3.1" class="k9"/><circle cx="587" cy="297.9" r="3.1" class="k7"/><circle cx="642.5" cy="366.8" r="3.1" class="kn"/><circle cx="723.2" cy="364.8" r="3.1" class="kn"/><circle cx="588.4" cy="301" r="3.1" class="k8"/><circle cx="748.4" cy="346.1" r="3.1" class="kj"/><circle cx="598.8" cy="317" r="3.1" class="kc"/><circle cx="592.9" cy="305.6" r="3.1" class="k9"/><circle cx="662.3" cy="375.9" r="3.1" class="kq"/><circle cx="646.4" cy="370.6" r="3.1" class="ko"/><circle cx="580" cy="282" r="3.1" class="k4"/><circle cx="583.9" cy="290.4" r="3.1" class="k6"/><circle cx="581.8" cy="286.2" r="3.1" class="k5"/><circle cx="625.8" cy="355.9" r="3.1" class="kl"/><circle cx="591.1" cy="302.9" r="3.1" class="k8"/><circle cx="608.4" cy="328.5" r="3.1" class="kf"/><circle cx="637.1" cy="363.9" r="3.1" class="kn"/><circle cx="586" cy="293.6" r="3.1" class="k6"/><circle cx="579.2" cy="281.4" r="3.1" class="k3"/><circle cx="632" cy="359.5" r="3.1" class="km"/><circle cx="616.2" cy="341.4" r="3.1" class="ki"/><circle cx="603" cy="320.3" r="3.1" class="kd"/><circle cx="613.8" cy="337" r="3.1" class="kh"/><circle cx="709.1" cy="372.4" r="3.1" class="kp"/><circle cx="600.6" cy="317" r="3.1" class="kc"/><circle cx="653.7" cy="372.6" r="3.1" class="kp"/><circle cx="593.5" cy="307.7" r="3.1" class="ka"/><circle cx="595" cy="309.8" r="3.1" class="ka"/><circle cx="649.5" cy="370.1" r="3.1" class="ko"/><circle cx="671.9" cy="375.3" r="3.1" class="kp"/><circle cx="740.1" cy="351.9" r="3.1" class="kk"/><circle cx="604.6" cy="324.4" r="3.1" class="ke"/><circle cx="609.2" cy="330.4" r="3.1" class="kf"/><circle cx="578.3" cy="281" r="3.1" class="k3"/><circle cx="602.9" cy="323.9" r="3.1" class="kd"/><circle cx="763.9" cy="330.4" r="3.1" class="kf"/><circle cx="584" cy="289.4" r="3.1" class="k5"/><circle cx="581.8" cy="285.4" r="3.1" class="k4"/><circle cx="597.6" cy="313.7" r="3.1" class="kb"/><circle cx="592.9" cy="304.3" r="3.1" class="k9"/><circle cx="656.8" cy="371.1" r="3.1" class="ko"/><circle cx="587.7" cy="296.2" r="3.1" class="k7"/><circle cx="622.1" cy="352.9" r="3.1" class="kk"/><circle cx="685.5" cy="375.6" r="3.1" class="kp"/><circle cx="591" cy="301.7" r="3.1" class="k8"/><circle cx="607.1" cy="326.5" r="3.1" class="ke"/><circle cx="577.9" cy="280.3" r="3.1" class="k3"/><circle cx="749" cy="343.5" r="3.1" class="ki"/><circle cx="598.6" cy="315.5" r="3.1" class="kb"/><circle cx="721.2" cy="363.6" r="3.1" class="km"/><circle cx="615.3" cy="335.7" r="3.1" class="kg"/><circle cx="678.8" cy="376.6" r="3.1" class="kq"/><circle cx="695.3" cy="374.6" r="3.1" class="kp"/><circle cx="592" cy="304.3" r="3.1" class="k9"/><circle cx="623.9" cy="350.2" r="3.1" class="kk"/><circle cx="581.7" cy="284.6" r="3.1" class="k4"/><circle cx="596.3" cy="310.8" r="3.1" class="ka"/><circle cx="610.4" cy="330.4" r="3.1" class="kf"/><circle cx="707.5" cy="371.2" r="3.1" class="ko"/><circle cx="587.1" cy="291.8" r="3.1" class="k6"/><circle cx="607.7" cy="328.7" r="3.1" class="ke"/><circle cx="596.7" cy="313.8" r="3.1" class="kb"/><circle cx="603.6" cy="325.5" r="3.1" class="ke"/><circle cx="584.3" cy="288.3" r="3.1" class="k5"/><circle cx="605.6" cy="325" r="3.1" class="ke"/><circle cx="639.5" cy="362.5" r="3.1" class="km"/><circle cx="590.5" cy="297.7" r="3.1" class="k7"/><circle cx="723.3" cy="361.8" r="3.1" class="km"/><circle cx="620.5" cy="348.3" r="3.1" class="kj"/><circle cx="684.5" cy="374.9" r="3.1" class="kp"/><circle cx="634.5" cy="360.3" r="3.1" class="km"/><circle cx="588.1" cy="294.9" r="3.1" class="k6"/><circle cx="590.8" cy="300.8" r="3.1" class="k8"/><circle cx="611.5" cy="331.6" r="3.1" class="kf"/><circle cx="601.7" cy="316.9" r="3.1" class="kc"/><circle cx="629.5" cy="353.4" r="3.1" class="kk"/><circle cx="586.6" cy="291.3" r="3.1" class="k6"/><circle cx="666.2" cy="371.9" r="3.1" class="ko"/><circle cx="581.8" cy="283.7" r="3.1" class="k4"/><circle cx="579" cy="279.1" r="3.1" class="k3"/><circle cx="595.8" cy="307.1" r="3.1" class="k9"/><circle cx="580.5" cy="283.5" r="3.1" class="k4"/><circle cx="601.1" cy="314.1" r="3.1" class="kb"/><circle cx="603.4" cy="317.2" r="3.1" class="kc"/><circle cx="617.4" cy="342.7" r="3.1" class="ki"/><circle cx="584.6" cy="287.3" r="3.1" class="k5"/><circle cx="740.7" cy="349.5" r="3.1" class="kj"/><circle cx="587.8" cy="294.1" r="3.1" class="k6"/><circle cx="749.7" cy="340.9" r="3.1" class="kh"/><circle cx="642.6" cy="363.6" r="3.1" class="km"/><circle cx="595" cy="304" r="3.1" class="k9"/><circle cx="586.1" cy="290.8" r="3.1" class="k5"/><circle cx="612.8" cy="332" r="3.1" class="kf"/><circle cx="578.6" cy="278.5" r="3.1" class="k2"/><circle cx="596.3" cy="309.3" r="3.1" class="ka"/><circle cx="619" cy="342.5" r="3.1" class="ki"/><circle cx="596.4" cy="312.6" r="3.1" class="kb"/><circle cx="606.8" cy="325.2" r="3.1" class="ke"/><circle cx="616.2" cy="338.8" r="3.1" class="kh"/><circle cx="591.1" cy="296.1" r="3.1" class="k7"/><circle cx="763.8" cy="327.7" r="3.1" class="ke"/><circle cx="661.7" cy="370.8" r="3.1" class="ko"/><circle cx="580.4" cy="282.8" r="3.1" class="k3"/><circle cx="609.3" cy="327.2" r="3.1" class="ke"/><circle cx="627.5" cy="351" r="3.1" class="kk"/><circle cx="589.6" cy="296.5" r="3.1" class="k7"/><circle cx="613.9" cy="333.1" r="3.1" class="kf"/><circle cx="595.2" cy="306.6" r="3.1" class="k9"/><circle cx="708.3" cy="368.4" r="3.1" class="kn"/><circle cx="610" cy="330.3" r="3.1" class="kf"/><circle cx="632.1" cy="356.8" r="3.1" class="kl"/><circle cx="593.6" cy="300.9" r="3.1" class="k8"/><circle cx="584.9" cy="286.3" r="3.1" class="k4"/><circle cx="604" cy="318.6" r="3.1" class="kc"/><circle cx="625.7" cy="350.6" r="3.1" class="kj"/><circle cx="645.6" cy="363.7" r="3.1" class="km"/><circle cx="578.7" cy="277.7" r="3.1" class="k2"/><circle cx="615.2" cy="333.9" r="3.1" class="kg"/><circle cx="721.2" cy="360.8" r="3.1" class="km"/><circle cx="636.8" cy="358.6" r="3.1" class="kl"/><circle cx="601.6" cy="315.4" r="3.1" class="kb"/><circle cx="607.6" cy="326.7" r="3.1" class="ke"/><circle cx="649.5" cy="366.2" r="3.1" class="kn"/><circle cx="605.6" cy="322.9" r="3.1" class="kd"/><circle cx="671.2" cy="370.3" r="3.1" class="ko"/><circle cx="657" cy="368.1" r="3.1" class="kn"/><circle cx="588.5" cy="292.6" r="3.1" class="k6"/><circle cx="600.9" cy="312.8" r="3.1" class="ka"/><circle cx="685.2" cy="372" r="3.1" class="ko"/><circle cx="723.5" cy="359" r="3.1" class="kl"/><circle cx="595.2" cy="302.5" r="3.1" class="k8"/><circle cx="695.4" cy="371.7" r="3.1" class="ko"/><circle cx="653" cy="366.6" r="3.1" class="kn"/><circle cx="587.4" cy="288.9" r="3.1" class="k5"/><circle cx="589.8" cy="295.4" r="3.1" class="k6"/><circle cx="603.4" cy="315.4" r="3.1" class="kb"/><circle cx="707.5" cy="368.2" r="3.1" class="kn"/><circle cx="750.5" cy="338.5" r="3.1" class="kh"/><circle cx="593.1" cy="297" r="3.1" class="k7"/><circle cx="598.9" cy="311.5" r="3.1" class="ka"/><circle cx="581.9" cy="281.3" r="3.1" class="k3"/><circle cx="593.6" cy="299.8" r="3.1" class="k7"/><circle cx="611.5" cy="329.2" r="3.1" class="ke"/><circle cx="595.3" cy="305.1" r="3.1" class="k9"/><circle cx="677.6" cy="371" r="3.1" class="ko"/><circle cx="629.8" cy="353.7" r="3.1" class="kk"/><circle cx="585.9" cy="284.9" r="3.1" class="k4"/><circle cx="584.2" cy="285.1" r="3.1" class="k4"/><circle cx="592.1" cy="297.2" r="3.1" class="k7"/><circle cx="604.8" cy="319.6" r="3.1" class="kc"/><circle cx="597.1" cy="306.5" r="3.1" class="k9"/><circle cx="623.8" cy="345.6" r="3.1" class="ki"/><circle cx="587" cy="288.4" r="3.1" class="k5"/><circle cx="589.1" cy="295" r="3.1" class="k6"/><circle cx="581" cy="281" r="3.1" class="k3"/><circle cx="597.1" cy="309.8" r="3.1" class="ka"/><circle cx="740.6" cy="346.7" r="3.1" class="ki"/><circle cx="684.1" cy="370.9" r="3.1" class="ko"/><circle cx="588.8" cy="291.5" r="3.1" class="k5"/><circle cx="595" cy="301.7" r="3.1" class="k8"/><circle cx="592.5" cy="300.1" r="3.1" class="k7"/><circle cx="639.6" cy="359.1" r="3.1" class="kl"/><circle cx="609" cy="326.3" r="3.1" class="ke"/><circle cx="622.1" cy="344.5" r="3.1" class="ki"/><circle cx="583.7" cy="284.6" r="3.1" class="k4"/><circle cx="614.7" cy="335.7" r="3.1" class="kg"/><circle cx="597.9" cy="311.9" r="3.1" class="ka"/><circle cx="616" cy="337.9" r="3.1" class="kg"/><circle cx="612.8" cy="329.1" r="3.1" class="ke"/><circle cx="580.6" cy="280.3" r="3.1" class="k3"/><circle cx="665.7" cy="367.4" r="3.1" class="kn"/><circle cx="602.7" cy="315.3" r="3.1" class="kb"/><circle cx="604" cy="316.5" r="3.1" class="kb"/><circle cx="627.8" cy="352" r="3.1" class="kk"/><circle cx="763.6" cy="325" r="3.1" class="kd"/><circle cx="620.5" cy="341.3" r="3.1" class="kh"/><circle cx="601.9" cy="312.9" r="3.1" class="ka"/><circle cx="607.3" cy="321" r="3.1" class="kc"/><circle cx="634" cy="353.1" r="3.1" class="kk"/><circle cx="617.5" cy="338" r="3.1" class="kg"/><circle cx="589.2" cy="290.3" r="3.1" class="k5"/><circle cx="642.7" cy="360.5" r="3.1" class="kl"/><circle cx="594.6" cy="301" r="3.1" class="k8"/><circle cx="708.7" cy="366" r="3.1" class="kn"/><circle cx="583.7" cy="283.8" r="3.1" class="k3"/><circle cx="587.9" cy="287" r="3.1" class="k4"/><circle cx="592.6" cy="295.6" r="3.1" class="k6"/><circle cx="597.1" cy="305.3" r="3.1" class="k9"/><circle cx="610.2" cy="326.6" r="3.1" class="ke"/><circle cx="614.1" cy="329.5" r="3.1" class="ke"/><circle cx="724" cy="356.5" r="3.1" class="kl"/><circle cx="619.1" cy="338.1" r="3.1" class="kg"/><circle cx="751.2" cy="336.1" r="3.1" class="kg"/><circle cx="590.1" cy="293.2" r="3.1" class="k6"/><circle cx="599.8" cy="312" r="3.1" class="ka"/><circle cx="661.7" cy="367.3" r="3.1" class="kn"/><circle cx="720.8" cy="357.6" r="3.1" class="kl"/><circle cx="586.9" cy="286.8" r="3.1" class="k4"/><circle cx="602" cy="308.6" r="3.1" class="k9"/><circle cx="672.7" cy="370.4" r="3.1" class="ko"/><circle cx="625.8" cy="349" r="3.1" class="kj"/><circle cx="581.3" cy="279.3" r="3.1" class="k2"/><circle cx="606.2" cy="318.6" r="3.1" class="kc"/><circle cx="596.5" cy="302.1" r="3.1" class="k8"/><circle cx="589.1" cy="289.5" r="3.1" class="k5"/><circle cx="583.6" cy="283.1" r="3.1" class="k3"/><circle cx="650" cy="364.8" r="3.1" class="km"/><circle cx="645.7" cy="360.6" r="3.1" class="kl"/><circle cx="580.2" cy="279" r="3.1" class="k2"/><circle cx="695.4" cy="368.7" r="3.1" class="kn"/><circle cx="595.3" cy="302.7" r="3.1" class="k8"/><circle cx="684.9" cy="368.5" r="3.1" class="kn"/><circle cx="592.8" cy="294.5" r="3.1" class="k6"/><circle cx="631.8" cy="350.9" r="3.1" class="kj"/><circle cx="598.5" cy="306" r="3.1" class="k9"/><circle cx="741" cy="344.2" r="3.1" class="ki"/><circle cx="594.6" cy="296.6" r="3.1" class="k6"/><circle cx="656.8" cy="364.2" r="3.1" class="km"/><circle cx="605.3" cy="316" r="3.1" class="kb"/><circle cx="587.1" cy="285.9" r="3.1" class="k4"/><circle cx="707.1" cy="364.8" r="3.1" class="km"/><circle cx="582.8" cy="282.7" r="3.1" class="k3"/><circle cx="608.8" cy="319.6" r="3.1" class="kc"/><circle cx="595.1" cy="299.2" r="3.1" class="k7"/><circle cx="599" cy="312.1" r="3.1" class="ka"/><circle cx="652.9" cy="363.1" r="3.1" class="km"/><circle cx="604.2" cy="314.2" r="3.1" class="kb"/><circle cx="589.1" cy="288.7" r="3.1" class="k5"/><circle cx="580.2" cy="278.2" r="3.1" class="k2"/><circle cx="636.2" cy="351.5" r="3.1" class="kj"/><circle cx="597.6" cy="303.2" r="3.1" class="k8"/><circle cx="677.6" cy="368.1" r="3.1" class="kn"/><circle cx="607.2" cy="319.3" r="3.1" class="kc"/><circle cx="592.3" cy="294.1" r="3.1" class="k6"/><circle cx="603.4" cy="311.8" r="3.1" class="ka"/><circle cx="589.6" cy="291.9" r="3.1" class="k5"/><circle cx="591.6" cy="291" r="3.1" class="k5"/><circle cx="605.5" cy="319.2" r="3.1" class="kc"/><circle cx="612.1" cy="323.2" r="3.1" class="kd"/><circle cx="683.8" cy="367.4" r="3.1" class="kn"/><circle cx="587.1" cy="285.2" r="3.1" class="k4"/><circle cx="623.8" cy="341.6" r="3.1" class="kh"/><circle cx="609.6" cy="321.1" r="3.1" class="kc"/><circle cx="594.4" cy="295.8" r="3.1" class="k6"/><circle cx="629.7" cy="349.3" r="3.1" class="kj"/><circle cx="751.9" cy="333.7" r="3.1" class="kf"/><circle cx="724.9" cy="354.3" r="3.1" class="kk"/><circle cx="763.7" cy="322.5" r="3.1" class="kc"/><circle cx="583.2" cy="281.7" r="3.1" class="k3"/><circle cx="600.1" cy="306.2" r="3.1" class="k9"/><circle cx="588.9" cy="288.1" r="3.1" class="k4"/><circle cx="639.5" cy="355.6" r="3.1" class="kk"/><circle cx="598.3" cy="305" r="3.1" class="k8"/><circle cx="613.1" cy="324.6" r="3.1" class="kd"/><circle cx="586" cy="285.1" r="3.1" class="k4"/><circle cx="622.1" cy="340" r="3.1" class="kh"/><circle cx="595.2" cy="298.2" r="3.1" class="k7"/><circle cx="614" cy="327.7" r="3.1" class="ke"/><circle cx="615" cy="330.8" r="3.1" class="ke"/><circle cx="592.2" cy="293.2" r="3.1" class="k6"/><circle cx="665.4" cy="363.6" r="3.1" class="km"/><circle cx="617.6" cy="334.7" r="3.1" class="kf"/><circle cx="634.2" cy="351.4" r="3.1" class="kj"/><circle cx="589.9" cy="290.8" r="3.1" class="k5"/><circle cx="582.9" cy="281.2" r="3.1" class="k3"/><circle cx="596.5" cy="299.9" r="3.1" class="k7"/><circle cx="594" cy="295.4" r="3.1" class="k6"/><circle cx="619" cy="336" r="3.1" class="kg"/><circle cx="610.6" cy="322.3" r="3.1" class="kc"/><circle cx="627.8" cy="348" r="3.1" class="ki"/><circle cx="708.2" cy="362.7" r="3.1" class="km"/><circle cx="721" cy="355.1" r="3.1" class="kk"/><circle cx="597.9" cy="301.6" r="3.1" class="k7"/><circle cx="602.3" cy="308.9" r="3.1" class="k9"/><circle cx="605.5" cy="313.7" r="3.1" class="ka"/><circle cx="616.5" cy="330.2" r="3.1" class="ke"/><circle cx="642.6" cy="356.8" r="3.1" class="kl"/><circle cx="589.3" cy="287" r="3.1" class="k4"/><circle cx="611.4" cy="324.7" r="3.1" class="kd"/><circle cx="596.2" cy="303" r="3.1" class="k8"/><circle cx="586.6" cy="284" r="3.1" class="k3"/><circle cx="620.6" cy="333.9" r="3.1" class="kf"/><circle cx="595.2" cy="297.1" r="3.1" class="k6"/><circle cx="741.3" cy="341.8" r="3.1" class="kh"/><circle cx="673" cy="368" r="3.1" class="kn"/><circle cx="593.5" cy="295" r="3.1" class="k6"/><circle cx="582.9" cy="280.4" r="3.1" class="k2"/><circle cx="604.8" cy="311" r="3.1" class="ka"/><circle cx="600.3" cy="304.5" r="3.1" class="k8"/><circle cx="625.7" cy="344.7" r="3.1" class="ki"/></g><g class="ad"><circle cx="607.4" cy="316.5" r="3.1" class="kb"/><circle cx="585.9" cy="283.6" r="3.1" class="k3"/><circle cx="600.7" cy="307.2" r="3.1" class="k9"/><circle cx="596.5" cy="298.9" r="3.1" class="k7"/><circle cx="660.3" cy="360.8" r="3.1" class="kl"/><circle cx="645.7" cy="357.7" r="3.1" class="kl"/><circle cx="695" cy="365.3" r="3.1" class="km"/><circle cx="685" cy="365.7" r="3.1" class="km"/><circle cx="593.4" cy="291.2" r="3.1" class="k5"/><circle cx="707.4" cy="362.4" r="3.1" class="km"/><circle cx="591.1" cy="289" r="3.1" class="k4"/><circle cx="589.5" cy="286.1" r="3.1" class="k4"/><circle cx="636.9" cy="352.6" r="3.1" class="kj"/><circle cx="725.2" cy="351.7" r="3.1" class="kj"/><circle cx="612.8" cy="324.3" r="3.1" class="kd"/><circle cx="609.8" cy="318.5" r="3.1" class="kb"/><circle cx="751.9" cy="331.1" r="3.1" class="ke"/><circle cx="656.7" cy="361" r="3.1" class="kl"/><circle cx="631.7" cy="346.9" r="3.1" class="ki"/><circle cx="649.3" cy="359.3" r="3.1" class="kl"/><circle cx="601.9" cy="308.3" r="3.1" class="k9"/><circle cx="653.3" cy="361.2" r="3.1" class="kl"/><circle cx="606.4" cy="314.4" r="3.1" class="ka"/><circle cx="595.2" cy="296.1" r="3.1" class="k6"/><circle cx="602.7" cy="310.4" r="3.1" class="k9"/><circle cx="583.6" cy="279.4" r="3.1" class="k2"/><circle cx="590.1" cy="289" r="3.1" class="k4"/><circle cx="613.8" cy="326.9" r="3.1" class="kd"/><circle cx="586" cy="282.9" r="3.1" class="k3"/><circle cx="677.4" cy="364.6" r="3.1" class="km"/><circle cx="600.1" cy="303.8" r="3.1" class="k8"/><circle cx="684.4" cy="365.6" r="3.1" class="km"/><circle cx="593.4" cy="290.4" r="3.1" class="k5"/><circle cx="589.7" cy="285.3" r="3.1" class="k3"/><circle cx="610.6" cy="320.4" r="3.1" class="kc"/><circle cx="598.5" cy="302.2" r="3.1" class="k7"/><circle cx="605.7" cy="311.6" r="3.1" class="ka"/><circle cx="596.6" cy="297.7" r="3.1" class="k6"/><circle cx="608.4" cy="317.1" r="3.1" class="kb"/><circle cx="582.7" cy="279.1" r="3.1" class="k2"/><circle cx="594.7" cy="292.8" r="3.1" class="k5"/><circle cx="623.8" cy="337.5" r="3.1" class="kg"/><circle cx="597.6" cy="299.8" r="3.1" class="k7"/><circle cx="629.7" cy="346.2" r="3.1" class="ki"/><circle cx="666.7" cy="363.8" r="3.1" class="km"/><circle cx="615.2" cy="326" r="3.1" class="kd"/><circle cx="617.6" cy="332.1" r="3.1" class="kf"/><circle cx="590.2" cy="288.1" r="3.1" class="k4"/><circle cx="622.1" cy="336" r="3.1" class="kf"/><circle cx="639.6" cy="353" r="3.1" class="kj"/><circle cx="721.1" cy="352.5" r="3.1" class="kj"/><circle cx="586.9" cy="281.7" r="3.1" class="k3"/><circle cx="708.1" cy="359.8" r="3.1" class="kl"/><circle cx="601.6" cy="307.5" r="3.1" class="k9"/><circle cx="596" cy="294.3" r="3.1" class="k6"/><circle cx="616.5" cy="327" r="3.1" class="kd"/><circle cx="594.5" cy="292.2" r="3.1" class="k5"/><circle cx="583" cy="278.3" r="3.1" class="k2"/><circle cx="741.2" cy="339.1" r="3.1" class="kg"/><circle cx="596.6" cy="300.2" r="3.1" class="k7"/><circle cx="627.8" cy="345.8" r="3.1" class="ki"/><circle cx="611.7" cy="320.9" r="3.1" class="kc"/><circle cx="585.1" cy="281.9" r="3.1" class="k3"/><circle cx="596.3" cy="297.1" r="3.1" class="k6"/><circle cx="591.7" cy="290.4" r="3.1" class="k5"/><circle cx="619.2" cy="330.8" r="3.1" class="ke"/><circle cx="602.1" cy="303.2" r="3.1" class="k8"/><circle cx="634.1" cy="347.4" r="3.1" class="ki"/><circle cx="588.3" cy="284.7" r="3.1" class="k3"/><circle cx="589.7" cy="287.8" r="3.1" class="k4"/><circle cx="725.5" cy="349.1" r="3.1" class="ki"/><circle cx="598.6" cy="301" r="3.1" class="k7"/><circle cx="612.5" cy="323.8" r="3.1" class="kc"/><circle cx="603.1" cy="307.9" r="3.1" class="k9"/><circle cx="600.6" cy="301.7" r="3.1" class="k7"/><circle cx="605.2" cy="311.3" r="3.1" class="ka"/><circle cx="595.4" cy="294.1" r="3.1" class="k5"/><circle cx="642.2" cy="352.4" r="3.1" class="kj"/><circle cx="604.5" cy="308.7" r="3.1" class="k9"/><circle cx="752.6" cy="328.9" r="3.1" class="ke"/><circle cx="591.5" cy="289.8" r="3.1" class="k4"/><circle cx="594.6" cy="291.2" r="3.1" class="k5"/><circle cx="672.3" cy="363.6" r="3.1" class="km"/><circle cx="596.3" cy="299.5" r="3.1" class="k7"/><circle cx="585.9" cy="280.8" r="3.1" class="k2"/><circle cx="588.7" cy="283.8" r="3.1" class="k3"/><circle cx="625.7" cy="340.5" r="3.1" class="kg"/><circle cx="706.9" cy="359.2" r="3.1" class="kl"/><circle cx="590.1" cy="286.7" r="3.1" class="k4"/><circle cx="685" cy="362.9" r="3.1" class="kl"/><circle cx="660.1" cy="357.3" r="3.1" class="kk"/><circle cx="694.2" cy="361.5" r="3.1" class="kl"/><circle cx="601.9" cy="302.3" r="3.1" class="k7"/><circle cx="598.4" cy="300.3" r="3.1" class="k7"/><circle cx="631.8" cy="344.6" r="3.1" class="kh"/><circle cx="595.3" cy="293.4" r="3.1" class="k5"/><circle cx="636.6" cy="348.3" r="3.1" class="ki"/><circle cx="597.5" cy="294.6" r="3.1" class="k6"/><circle cx="600.3" cy="301.1" r="3.1" class="k7"/><circle cx="614.2" cy="321.6" r="3.1" class="kc"/><circle cx="607.2" cy="313.7" r="3.1" class="ka"/><circle cx="645.1" cy="352.1" r="3.1" class="kj"/><circle cx="656.6" cy="357.7" r="3.1" class="kk"/><circle cx="585.5" cy="280.3" r="3.1" class="k2"/><circle cx="603.3" cy="310.3" r="3.1" class="k9"/><circle cx="623.8" cy="337.7" r="3.1" class="kg"/><circle cx="591.3" cy="289.1" r="3.1" class="k4"/><circle cx="594.9" cy="290.2" r="3.1" class="k4"/><circle cx="588.9" cy="283" r="3.1" class="k3"/><circle cx="677.7" cy="362.4" r="3.1" class="kl"/><circle cx="604.7" cy="311.2" r="3.1" class="k9"/><circle cx="603.2" cy="306.4" r="3.1" class="k8"/><circle cx="606.2" cy="311.7" r="3.1" class="ka"/><circle cx="652.4" cy="355.7" r="3.1" class="kk"/><circle cx="648.4" cy="353.2" r="3.1" class="kj"/><circle cx="684.5" cy="362.9" r="3.1" class="kl"/><circle cx="615.3" cy="323" r="3.1" class="kc"/><circle cx="622.1" cy="335.5" r="3.1" class="kf"/><circle cx="603.4" cy="302.6" r="3.1" class="k7"/><circle cx="616.4" cy="326.4" r="3.1" class="kd"/><circle cx="619" cy="332.2" r="3.1" class="ke"/><circle cx="617.6" cy="329.3" r="3.1" class="ke"/><circle cx="620.5" cy="333.6" r="3.1" class="kf"/><circle cx="726.6" cy="347.2" r="3.1" class="ki"/><circle cx="721" cy="349.8" r="3.1" class="ki"/><circle cx="741.6" cy="336.8" r="3.1" class="kf"/><circle cx="592" cy="284.7" r="3.1" class="k3"/><circle cx="629.6" cy="342.6" r="3.1" class="kh"/><circle cx="586" cy="279.4" r="3.1" class="k2"/><circle cx="597.6" cy="296.9" r="3.1" class="k6"/><circle cx="597.6" cy="293.7" r="3.1" class="k5"/><circle cx="707.9" cy="356.9" r="3.1" class="kk"/><circle cx="599.8" cy="300.8" r="3.1" class="k7"/><circle cx="595.7" cy="292.1" r="3.1" class="k5"/><circle cx="589.2" cy="282.2" r="3.1" class="k3"/><circle cx="594.9" cy="289.4" r="3.1" class="k4"/><circle cx="608.1" cy="314.9" r="3.1" class="ka"/><circle cx="666.3" cy="360" r="3.1" class="kl"/><circle cx="592.1" cy="287.7" r="3.1" class="k4"/><circle cx="599.1" cy="298.2" r="3.1" class="k6"/><circle cx="587.3" cy="282.5" r="3.1" class="k3"/><circle cx="639" cy="347.3" r="3.1" class="ki"/><circle cx="610.3" cy="317.8" r="3.1" class="kb"/><circle cx="585.1" cy="279.2" r="3.1" class="k2"/><circle cx="613" cy="318.8" r="3.1" class="kb"/><circle cx="591.6" cy="284.3" r="3.1" class="k3"/><circle cx="634.1" cy="344.7" r="3.1" class="kh"/><circle cx="602.8" cy="302.5" r="3.1" class="k7"/><circle cx="596.7" cy="293.8" r="3.1" class="k5"/><circle cx="593.8" cy="289.6" r="3.1" class="k4"/><circle cx="604.1" cy="311.3" r="3.1" class="k9"/><circle cx="605.7" cy="311.7" r="3.1" class="k9"/><circle cx="752.7" cy="326.5" r="3.1" class="kd"/><circle cx="627.5" cy="338.3" r="3.1" class="kg"/><circle cx="597.9" cy="299" r="3.1" class="k6"/><circle cx="601.3" cy="301.1" r="3.1" class="k7"/><circle cx="592.5" cy="286.7" r="3.1" class="k4"/><circle cx="599.7" cy="300" r="3.1" class="k7"/><circle cx="584.6" cy="278.7" r="3.1" class="k2"/><circle cx="587.5" cy="281.7" r="3.1" class="k2"/><circle cx="609" cy="316.2" r="3.1" class="ka"/><circle cx="597" cy="290" r="3.1" class="k4"/><circle cx="661.6" cy="358.3" r="3.1" class="kk"/><circle cx="604.5" cy="302.4" r="3.1" class="k7"/><circle cx="641.9" cy="348" r="3.1" class="ki"/><circle cx="706.7" cy="356.4" r="3.1" class="kk"/><circle cx="599.1" cy="293.9" r="3.1" class="k5"/><circle cx="611.6" cy="317.8" r="3.1" class="kb"/><circle cx="685.4" cy="360.9" r="3.1" class="kl"/><circle cx="694.7" cy="359.5" r="3.1" class="kl"/><circle cx="605.5" cy="303.8" r="3.1" class="k7"/><circle cx="625.6" cy="335.4" r="3.1" class="kf"/><circle cx="727.4" cy="345" r="3.1" class="kh"/><circle cx="670.8" cy="357.9" r="3.1" class="kk"/><circle cx="599.8" cy="302.6" r="3.1" class="k7"/><circle cx="590.5" cy="283.7" r="3.1" class="k3"/><circle cx="597.6" cy="292" r="3.1" class="k5"/><circle cx="592.6" cy="285.9" r="3.1" class="k3"/><circle cx="618.8" cy="332.8" r="3.1" class="ke"/><circle cx="596.1" cy="290.1" r="3.1" class="k4"/><circle cx="616.4" cy="324.1" r="3.1" class="kc"/><circle cx="608.1" cy="313.2" r="3.1" class="ka"/><circle cx="631.5" cy="340.3" r="3.1" class="kg"/><circle cx="636.7" cy="345.9" r="3.1" class="kh"/><circle cx="622.1" cy="334.8" r="3.1" class="kf"/><circle cx="645.1" cy="349.6" r="3.1" class="ki"/><circle cx="623.8" cy="333.6" r="3.1" class="kf"/><circle cx="617.6" cy="327.3" r="3.1" class="kd"/><circle cx="588.4" cy="280.6" r="3.1" class="k2"/><circle cx="593.1" cy="288.8" r="3.1" class="k4"/><circle cx="599.5" cy="299.3" r="3.1" class="k6"/><circle cx="620.5" cy="331.4" r="3.1" class="ke"/><circle cx="606.8" cy="311.9" r="3.1" class="k9"/><circle cx="742.1" cy="334.6" r="3.1" class="kf"/><circle cx="655.7" cy="352.7" r="3.1" class="kj"/><circle cx="677.7" cy="359.7" r="3.1" class="kl"/><circle cx="610.1" cy="316.9" r="3.1" class="kb"/><circle cx="612.7" cy="318.9" r="3.1" class="kb"/><circle cx="720.8" cy="347.2" r="3.1" class="ki"/><circle cx="648.3" cy="350.3" r="3.1" class="ki"/><circle cx="605.7" cy="310.1" r="3.1" class="k9"/><circle cx="684" cy="359.4" r="3.1" class="kl"/><circle cx="599.8" cy="295.3" r="3.1" class="k5"/><circle cx="651.5" cy="350.3" r="3.1" class="ki"/><circle cx="587.3" cy="280.5" r="3.1" class="k2"/><circle cx="707.5" cy="353.8" r="3.1" class="kj"/><circle cx="592.7" cy="285.2" r="3.1" class="k3"/><circle cx="591.5" cy="282.5" r="3.1" class="k2"/><circle cx="605.3" cy="306.7" r="3.1" class="k8"/><circle cx="597.7" cy="291.1" r="3.1" class="k4"/><circle cx="596.3" cy="289.2" r="3.1" class="k4"/><circle cx="592.3" cy="288.7" r="3.1" class="k4"/><circle cx="613.7" cy="321.1" r="3.1" class="kc"/><circle cx="605.6" cy="302.3" r="3.1" class="k7"/><circle cx="602.6" cy="300.9" r="3.1" class="k7"/><circle cx="629.3" cy="336.7" r="3.1" class="kf"/><circle cx="609.1" cy="314" r="3.1" class="ka"/><circle cx="598.4" cy="293.2" r="3.1" class="k5"/><circle cx="665.4" cy="355.4" r="3.1" class="kk"/><circle cx="611.4" cy="317.2" r="3.1" class="kb"/><circle cx="595.4" cy="289.3" r="3.1" class="k4"/><circle cx="587.8" cy="279.6" r="3.1" class="k2"/><circle cx="592.9" cy="284.4" r="3.1" class="k3"/><circle cx="634.1" cy="342.5" r="3.1" class="kh"/><circle cx="607.7" cy="313" r="3.1" class="ka"/><circle cx="728" cy="342.8" r="3.1" class="kh"/><circle cx="602.3" cy="297.5" r="3.1" class="k6"/><circle cx="753.1" cy="324.3" r="3.1" class="kc"/><circle cx="597.9" cy="290.2" r="3.1" class="k4"/><circle cx="600.3" cy="293.7" r="3.1" class="k5"/><circle cx="606.1" cy="312.7" r="3.1" class="k9"/><circle cx="637.8" cy="338.9" r="3.1" class="kg"/><circle cx="601.1" cy="295.8" r="3.1" class="k5"/><circle cx="593.2" cy="287.2" r="3.1" class="k3"/><circle cx="589.8" cy="282.2" r="3.1" class="k2"/><circle cx="591.1" cy="285" r="3.1" class="k3"/><circle cx="627.2" cy="332" r="3.1" class="ke"/><circle cx="612" cy="321.2" r="3.1" class="kb"/><circle cx="586.8" cy="279.5" r="3.1" class="k2"/><circle cx="605.8" cy="308.5" r="3.1" class="k8"/><circle cx="602.2" cy="300.6" r="3.1" class="k7"/><circle cx="616.3" cy="323.1" r="3.1" class="kc"/><circle cx="598.5" cy="292.3" r="3.1" class="k5"/><circle cx="610.1" cy="315.2" r="3.1" class="ka"/><circle cx="605.5" cy="301.4" r="3.1" class="k7"/><circle cx="617.4" cy="327.5" r="3.1" class="kd"/><circle cx="595.9" cy="288.1" r="3.1" class="k4"/><circle cx="625.5" cy="331.8" r="3.1" class="ke"/><circle cx="706.2" cy="353.3" r="3.1" class="kj"/><circle cx="641.5" cy="344" r="3.1" class="kh"/><circle cx="695" cy="357.3" r="3.1" class="kk"/><circle cx="660.3" cy="352.7" r="3.1" class="kj"/><circle cx="601.6" cy="297.7" r="3.1" class="k6"/><circle cx="599.9" cy="293.5" r="3.1" class="k5"/><circle cx="589.5" cy="281.7" r="3.1" class="k2"/><circle cx="671.2" cy="356.1" r="3.1" class="kk"/><circle cx="684.2" cy="356.4" r="3.1" class="kk"/><circle cx="631.9" cy="340.7" r="3.1" class="kg"/><circle cx="593.9" cy="286.1" r="3.1" class="k3"/><circle cx="619" cy="326.4" r="3.1" class="kd"/><circle cx="620.5" cy="329.6" r="3.1" class="kd"/><circle cx="601.3" cy="294.7" r="3.1" class="k5"/><circle cx="586.7" cy="278.8" r="3.1" class="k1"/><circle cx="603.5" cy="301.1" r="3.1" class="k7"/><circle cx="613.2" cy="322.4" r="3.1" class="kc"/><circle cx="623.7" cy="328.1" r="3.1" class="kd"/><circle cx="741.9" cy="332" r="3.1" class="ke"/><circle cx="622.1" cy="329" r="3.1" class="kd"/><circle cx="721.1" cy="345" r="3.1" class="kh"/><circle cx="609.3" cy="312" r="3.1" class="k9"/><circle cx="594.6" cy="288.6" r="3.1" class="k4"/><circle cx="644.8" cy="346.1" r="3.1" class="kh"/><circle cx="707.8" cy="351.5" r="3.1" class="kj"/><circle cx="635.5" cy="337" r="3.1" class="kf"/><circle cx="607.5" cy="312.3" r="3.1" class="k9"/><circle cx="655.6" cy="349.8" r="3.1" class="ki"/><circle cx="678.3" cy="358.2" r="3.1" class="kk"/><circle cx="611.5" cy="315" r="3.1" class="ka"/><circle cx="602.9" cy="298.3" r="3.1" class="k6"/><circle cx="590.3" cy="280.6" r="3.1" class="k2"/><circle cx="605.4" cy="300.6" r="3.1" class="k7"/><circle cx="599.8" cy="292.9" r="3.1" class="k5"/><circle cx="647.5" cy="345.1" r="3.1" class="kh"/><circle cx="683" cy="355.5" r="3.1" class="kj"/><circle cx="728.4" cy="340.4" r="3.1" class="kg"/><circle cx="650.9" cy="346" r="3.1" class="kh"/><circle cx="629.6" cy="336.8" r="3.1" class="kf"/><circle cx="592.8" cy="282.6" r="3.1" class="k2"/><circle cx="607.4" cy="307.4" r="3.1" class="k8"/><circle cx="614.9" cy="320.7" r="3.1" class="kb"/><circle cx="602.2" cy="295.8" r="3.1" class="k5"/><circle cx="606.2" cy="302.2" r="3.1" class="k7"/><circle cx="606.6" cy="305.3" r="3.1" class="k8"/><circle cx="601.7" cy="293.2" r="3.1" class="k5"/><circle cx="595.4" cy="287.3" r="3.1" class="k3"/><circle cx="598.9" cy="290.3" r="3.1" class="k4"/><circle cx="603.5" cy="300.2" r="3.1" class="k6"/><circle cx="610.1" cy="313.9" r="3.1" class="ka"/><circle cx="597.3" cy="288.7" r="3.1" class="k4"/><circle cx="590.2" cy="280.1" r="3.1" class="k2"/><circle cx="612.2" cy="318.3" r="3.1" class="kb"/><circle cx="616.2" cy="322.6" r="3.1" class="kc"/><circle cx="665" cy="352.1" r="3.1" class="kj"/><circle cx="591.9" cy="282.6" r="3.1" class="k2"/><circle cx="638.3" cy="338.9" r="3.1" class="kf"/><circle cx="627.4" cy="333" r="3.1" class="ke"/><circle cx="633.6" cy="336.8" r="3.1" class="kf"/><circle cx="752.8" cy="321.8" r="3.1" class="kb"/><circle cx="600.2" cy="291.6" r="3.1" class="k4"/><circle cx="594.4" cy="287.4" r="3.1" class="k3"/><circle cx="604.9" cy="300.6" r="3.1" class="k6"/><circle cx="603.6" cy="296.1" r="3.1" class="k5"/><circle cx="609.2" cy="310.7" r="3.1" class="k9"/><circle cx="617.6" cy="323.4" r="3.1" class="kc"/><circle cx="601.6" cy="292.7" r="3.1" class="k5"/><circle cx="602.3" cy="294.9" r="3.1" class="k5"/><circle cx="596.3" cy="288.9" r="3.1" class="k4"/><circle cx="599" cy="289.5" r="3.1" class="k4"/><circle cx="590.1" cy="279.5" r="3.1" class="k1"/><circle cx="625.5" cy="330.4" r="3.1" class="kd"/><circle cx="593.6" cy="284.3" r="3.1" class="k3"/><circle cx="619" cy="324.8" r="3.1" class="kc"/><circle cx="608.9" cy="306.6" r="3.1" class="k8"/><circle cx="614" cy="316" r="3.1" class="ka"/><circle cx="607" cy="302.9" r="3.1" class="k7"/><circle cx="607.7" cy="305.4" r="3.1" class="k8"/><circle cx="611.7" cy="312.5" r="3.1" class="k9"/><circle cx="623.8" cy="327.8" r="3.1" class="kd"/><circle cx="640.9" cy="339.3" r="3.1" class="kg"/><circle cx="705.6" cy="350.4" r="3.1" class="ki"/><circle cx="622.1" cy="326.9" r="3.1" class="kd"/><circle cx="620.6" cy="323.7" r="3.1" class="kc"/><circle cx="604.8" cy="296.7" r="3.1" class="k5"/><circle cx="660.5" cy="350.6" r="3.1" class="ki"/><circle cx="695" cy="354.9" r="3.1" class="kj"/><circle cx="631.8" cy="337.4" r="3.1" class="kf"/><circle cx="587.9" cy="280" r="3.1" class="k2"/><circle cx="595.7" cy="285.7" r="3.1" class="k3"/><circle cx="742.4" cy="329.9" r="3.1" class="kd"/><circle cx="683.1" cy="352.5" r="3.1" class="kj"/><circle cx="670.8" cy="353" r="3.1" class="kj"/><circle cx="721.3" cy="342.7" r="3.1" class="kg"/><circle cx="729.1" cy="338.3" r="3.1" class="kf"/><circle cx="603.5" cy="295.5" r="3.1" class="k5"/><circle cx="708.2" cy="349.3" r="3.1" class="ki"/><circle cx="597.2" cy="287.5" r="3.1" class="k3"/><circle cx="601.8" cy="291.6" r="3.1" class="k4"/><circle cx="591.1" cy="281.8" r="3.1" class="k2"/><circle cx="593.5" cy="283.8" r="3.1" class="k2"/><circle cx="602.7" cy="293.3" r="3.1" class="k5"/><circle cx="604.6" cy="300.1" r="3.1" class="k6"/><circle cx="615.1" cy="317.4" r="3.1" class="ka"/><circle cx="635.3" cy="333.5" r="3.1" class="ke"/><circle cx="611" cy="308.6" r="3.1" class="k8"/><circle cx="643.9" cy="340.3" r="3.1" class="kg"/><circle cx="655.4" cy="346.9" r="3.1" class="kh"/><circle cx="612.7" cy="314.1" r="3.1" class="ka"/><circle cx="588.9" cy="278.9" r="3.1" class="k1"/><circle cx="606.3" cy="299.9" r="3.1" class="k6"/><circle cx="648.4" cy="345.5" r="3.1" class="kh"/><circle cx="677.1" cy="353.7" r="3.1" class="kj"/><circle cx="609.5" cy="308.3" r="3.1" class="k8"/><circle cx="629.4" cy="332.8" r="3.1" class="ke"/><circle cx="651.5" cy="345.5" r="3.1" class="kh"/><circle cx="616.4" cy="318.8" r="3.1" class="kb"/><circle cx="682.8" cy="352.7" r="3.1" class="kj"/><circle cx="598.2" cy="289" r="3.1" class="k4"/><circle cx="596.9" cy="287" r="3.1" class="k3"/><circle cx="593.2" cy="283.4" r="3.1" class="k2"/><circle cx="591.6" cy="280.9" r="3.1" class="k2"/><circle cx="606.9" cy="302.3" r="3.1" class="k7"/><circle cx="608.6" cy="306.1" r="3.1" class="k8"/><circle cx="601.6" cy="291.1" r="3.1" class="k4"/><circle cx="608" cy="303.4" r="3.1" class="k7"/><circle cx="603.7" cy="294.3" r="3.1" class="k5"/><circle cx="617.6" cy="321.7" r="3.1" class="kb"/><circle cx="611.4" cy="312.2" r="3.1" class="k9"/><circle cx="627.4" cy="330.4" r="3.1" class="kd"/><circle cx="605.5" cy="297.3" r="3.1" class="k6"/><circle cx="594.5" cy="285.4" r="3.1" class="k3"/><circle cx="638.4" cy="337" r="3.1" class="kf"/><circle cx="614.1" cy="313.3" r="3.1" class="k9"/><circle cx="599.3" cy="290.4" r="3.1" class="k4"/><circle cx="633.5" cy="333.9" r="3.1" class="ke"/><circle cx="665.2" cy="350.2" r="3.1" class="ki"/><circle cx="590.3" cy="281" r="3.1" class="k2"/><circle cx="593.3" cy="282.7" r="3.1" class="k2"/><circle cx="596.2" cy="287" r="3.1" class="k3"/><circle cx="619.1" cy="320.9" r="3.1" class="kb"/><circle cx="625.4" cy="326.9" r="3.1" class="kc"/><circle cx="604.6" cy="295.4" r="3.1" class="k5"/><circle cx="605.7" cy="300.3" r="3.1" class="k6"/><circle cx="610.8" cy="308.3" r="3.1" class="k8"/><circle cx="620.6" cy="320.9" r="3.1" class="kb"/><circle cx="623.7" cy="324.6" r="3.1" class="kc"/><circle cx="604.2" cy="292.6" r="3.1" class="k4"/><circle cx="622.1" cy="323.2" r="3.1" class="kc"/><circle cx="602.8" cy="291.8" r="3.1" class="k4"/><circle cx="729.7" cy="336.1" r="3.1" class="kf"/><circle cx="594.9" cy="284.5" r="3.1" class="k2"/><circle cx="615.3" cy="314.3" r="3.1" class="k9"/><circle cx="606.9" cy="301" r="3.1" class="k6"/><circle cx="609.8" cy="306.3" r="3.1" class="k8"/><circle cx="613.4" cy="309.2" r="3.1" class="k8"/><circle cx="591.9" cy="279.6" r="3.1" class="k1"/><circle cx="641" cy="337.4" r="3.1" class="kf"/><circle cx="598.8" cy="290.3" r="3.1" class="k4"/><circle cx="609.2" cy="303.1" r="3.1" class="k7"/><circle cx="592.8" cy="282.4" r="3.1" class="k2"/><circle cx="607.7" cy="303.1" r="3.1" class="k7"/><circle cx="631.2" cy="331.1" r="3.1" class="kd"/><circle cx="708.8" cy="347.4" r="3.1" class="kh"/><circle cx="705.6" cy="348" r="3.1" class="kh"/><circle cx="721.3" cy="340.3" r="3.1" class="kg"/><circle cx="742.5" cy="327.7" r="3.1" class="kd"/><circle cx="660.5" cy="348.3" r="3.1" class="kh"/><circle cx="694" cy="351.2" r="3.1" class="ki"/><circle cx="600.8" cy="290.8" r="3.1" class="k4"/><circle cx="616.5" cy="315.7" r="3.1" class="ka"/><circle cx="669.2" cy="347.7" r="3.1" class="kh"/><circle cx="604.8" cy="294.2" r="3.1" class="k5"/><circle cx="635.7" cy="333.7" r="3.1" class="ke"/><circle cx="595.4" cy="283.5" r="3.1" class="k2"/><circle cx="684.9" cy="352.7" r="3.1" class="ki"/><circle cx="603.8" cy="292.5" r="3.1" class="k4"/><circle cx="611.9" cy="308.9" r="3.1" class="k8"/><circle cx="644.4" cy="340" r="3.1" class="kf"/><circle cx="590.3" cy="279.8" r="3.1" class="k1"/><circle cx="592.7" cy="281.9" r="3.1" class="k2"/><circle cx="614.3" cy="311" r="3.1" class="k9"/><circle cx="629.2" cy="329.2" r="3.1" class="kd"/><circle cx="655.1" cy="344" r="3.1" class="kg"/><circle cx="611.2" cy="305.3" r="3.1" class="k7"/><circle cx="646.9" cy="338.7" r="3.1" class="kf"/><circle cx="617.7" cy="318.8" r="3.1" class="ka"/><circle cx="596.2" cy="288.9" r="3.1" class="k3"/><circle cx="606.6" cy="300.9" r="3.1" class="k6"/><circle cx="650.7" cy="341.2" r="3.1" class="kg"/><circle cx="604.9" cy="296.8" r="3.1" class="k5"/><circle cx="600.6" cy="290.3" r="3.1" class="k4"/><circle cx="677.4" cy="351.8" r="3.1" class="ki"/><circle cx="610" cy="304.3" r="3.1" class="k7"/><circle cx="627.1" cy="325.5" r="3.1" class="kc"/><circle cx="682.9" cy="350.5" r="3.1" class="ki"/><circle cx="590.3" cy="279.2" r="3.1" class="k1"/><circle cx="619.1" cy="320.7" r="3.1" class="kb"/><circle cx="633" cy="329.1" r="3.1" class="kd"/><circle cx="613.2" cy="308.7" r="3.1" class="k8"/><circle cx="591.6" cy="281.9" r="3.1" class="k2"/><circle cx="615.4" cy="312.4" r="3.1" class="k9"/><circle cx="638.1" cy="333.6" r="3.1" class="ke"/><circle cx="625.4" cy="323.6" r="3.1" class="kc"/><circle cx="602.8" cy="293.4" r="3.1" class="k4"/><circle cx="595.5" cy="285.7" r="3.1" class="k3"/><circle cx="620.6" cy="320.4" r="3.1" class="kb"/><circle cx="623.7" cy="320.7" r="3.1" class="kb"/><circle cx="597.2" cy="287.4" r="3.1" class="k3"/><circle cx="730.1" cy="333.9" r="3.1" class="ke"/><circle cx="622.1" cy="322.9" r="3.1" class="kb"/><circle cx="664.6" cy="346.6" r="3.1" class="kh"/><circle cx="594.3" cy="283.1" r="3.1" class="k2"/><circle cx="592.9" cy="280.6" r="3.1" class="k1"/><circle cx="607.1" cy="298.7" r="3.1" class="k6"/><circle cx="611.8" cy="308.1" r="3.1" class="k8"/><circle cx="599.7" cy="290.6" r="3.1" class="k4"/><circle cx="605.1" cy="295.6" r="3.1" class="k5"/><circle cx="616.6" cy="314" r="3.1" class="k9"/><circle cx="595.9" cy="284.8" r="3.1" class="k2"/><circle cx="631.1" cy="328.1" r="3.1" class="kd"/><circle cx="708.6" cy="344.6" r="3.1" class="kg"/><circle cx="640.7" cy="334.4" r="3.1" class="ke"/><circle cx="610.9" cy="305.5" r="3.1" class="k7"/><circle cx="603.1" cy="292.1" r="3.1" class="k4"/><circle cx="610.3" cy="302.3" r="3.1" class="k6"/><circle cx="607.6" cy="301.2" r="3.1" class="k6"/><circle cx="606.5" cy="295.8" r="3.1" class="k5"/><circle cx="594.4" cy="282.5" r="3.1" class="k2"/><circle cx="635.4" cy="330.2" r="3.1" class="kd"/><circle cx="721.2" cy="337.9" r="3.1" class="kf"/><circle cx="592.6" cy="280.2" r="3.1" class="k1"/><circle cx="596.9" cy="283.5" r="3.1" class="k2"/><circle cx="617.7" cy="317.5" r="3.1" class="ka"/><circle cx="605.9" cy="293.4" r="3.1" class="k4"/><circle cx="705.7" cy="345.8" r="3.1" class="kh"/><circle cx="693.5" cy="348.3" r="3.1" class="kh"/><circle cx="660.1" cy="345.2" r="3.1" class="kh"/><circle cx="629.1" cy="326.2" r="3.1" class="kc"/><circle cx="607.7" cy="296.4" r="3.1" class="k5"/><circle cx="742.7" cy="325.5" r="3.1" class="kc"/><circle cx="598.1" cy="285.3" r="3.1" class="k2"/><circle cx="613" cy="308.6" r="3.1" class="k8"/><circle cx="602.1" cy="289.9" r="3.1" class="k4"/><circle cx="670.3" cy="347.4" r="3.1" class="kh"/><circle cx="598.6" cy="287.9" r="3.1" class="k3"/><circle cx="626.9" cy="321.2" r="3.1" class="kb"/><circle cx="619.2" cy="316.7" r="3.1" class="ka"/><circle cx="644.7" cy="338.7" r="3.1" class="kf"/><circle cx="604.4" cy="292.6" r="3.1" class="k4"/><circle cx="684.7" cy="350.1" r="3.1" class="ki"/><circle cx="594.7" cy="281.7" r="3.1" class="k2"/><circle cx="646.7" cy="336.3" r="3.1" class="ke"/><circle cx="620.7" cy="316.7" r="3.1" class="ka"/><circle cx="611.5" cy="302.3" r="3.1" class="k6"/><circle cx="592.3" cy="279.8" r="3.1" class="k1"/><circle cx="655.4" cy="342.6" r="3.1" class="kg"/><circle cx="625.3" cy="320.6" r="3.1" class="kb"/><circle cx="622.1" cy="317.8" r="3.1" class="ka"/><circle cx="611.7" cy="307.1" r="3.1" class="k8"/><circle cx="650.7" cy="339" r="3.1" class="kf"/><circle cx="623.7" cy="319.2" r="3.1" class="ka"/><circle cx="607.7" cy="300" r="3.1" class="k6"/><circle cx="596.3" cy="283.3" r="3.1" class="k2"/><circle cx="633.4" cy="329.2" r="3.1" class="kd"/><circle cx="595.2" cy="280.8" r="3.1" class="k1"/><circle cx="676.2" cy="347.7" r="3.1" class="kh"/><circle cx="605.8" cy="292.9" r="3.1" class="k4"/><circle cx="597.6" cy="285.2" r="3.1" class="k2"/><circle cx="601.9" cy="289.4" r="3.1" class="k3"/><circle cx="730.7" cy="331.8" r="3.1" class="kd"/><circle cx="598.6" cy="287.3" r="3.1" class="k3"/><circle cx="638.8" cy="334.7" r="3.1" class="ke"/><circle cx="683.7" cy="349.4" r="3.1" class="kh"/><circle cx="604.4" cy="291.8" r="3.1" class="k4"/><circle cx="613.8" cy="311.1" r="3.1" class="k8"/><circle cx="607.2" cy="296.9" r="3.1" class="k5"/><circle cx="591.7" cy="279.6" r="3.1" class="k1"/><circle cx="630.7" cy="323.6" r="3.1" class="kb"/><circle cx="596.4" cy="282.7" r="3.1" class="k2"/><circle cx="617.9" cy="313.5" r="3.1" class="k9"/><circle cx="599.5" cy="285.7" r="3.1" class="k2"/><circle cx="663.9" cy="343.3" r="3.1" class="kg"/><circle cx="598" cy="284.2" r="3.1" class="k2"/><circle cx="608.4" cy="297.5" r="3.1" class="k5"/><circle cx="606.6" cy="294.2" r="3.1" class="k4"/><circle cx="708.9" cy="342.4" r="3.1" class="kg"/><circle cx="594.8" cy="280.5" r="3.1" class="k1"/><circle cx="601.9" cy="288.8" r="3.1" class="k3"/><circle cx="612.6" cy="308.9" r="3.1" class="k8"/><circle cx="612.1" cy="304.5" r="3.1" class="k7"/><circle cx="605.6" cy="292.4" r="3.1" class="k4"/><circle cx="596.9" cy="281.8" r="3.1" class="k2"/><circle cx="628.8" cy="322" r="3.1" class="kb"/><circle cx="611.1" cy="302.5" r="3.1" class="k6"/><circle cx="598.9" cy="283" r="3.1" class="k2"/><circle cx="608.9" cy="300.1" r="3.1" class="k6"/><circle cx="603" cy="290.2" r="3.1" class="k3"/><circle cx="641.5" cy="335.2" r="3.1" class="ke"/><circle cx="607.4" cy="295.5" r="3.1" class="k5"/><circle cx="635.8" cy="330.1" r="3.1" class="kd"/><circle cx="599.5" cy="285.2" r="3.1" class="k2"/><circle cx="627" cy="320" r="3.1" class="ka"/><circle cx="595" cy="279.9" r="3.1" class="k1"/><circle cx="619.1" cy="317.2" r="3.1" class="ka"/><circle cx="721.3" cy="335.8" r="3.1" class="ke"/><circle cx="599.7" cy="288" r="3.1" class="k3"/><circle cx="620.6" cy="316.4" r="3.1" class="ka"/><circle cx="622.1" cy="316.7" r="3.1" class="ka"/><circle cx="614.1" cy="308.2" r="3.1" class="k8"/><circle cx="659.7" cy="342.3" r="3.1" class="kg"/><circle cx="606.3" cy="293.9" r="3.1" class="k4"/><circle cx="694.2" cy="346.8" r="3.1" class="kh"/><circle cx="608.2" cy="297" r="3.1" class="k5"/><circle cx="623.7" cy="318.2" r="3.1" class="ka"/><circle cx="598.7" cy="282.5" r="3.1" class="k2"/><circle cx="625.4" cy="320.5" r="3.1" class="kb"/><circle cx="596.4" cy="281.6" r="3.1" class="k1"/><circle cx="616.4" cy="312.3" r="3.1" class="k9"/><circle cx="644.6" cy="336.4" r="3.1" class="ke"/><circle cx="706.1" cy="344" r="3.1" class="kg"/><circle cx="742.7" cy="323.2" r="3.1" class="kb"/><circle cx="646.7" cy="334.3" r="3.1" class="ke"/><circle cx="604.4" cy="290.5" r="3.1" class="k4"/><circle cx="683.8" cy="346.7" r="3.1" class="kh"/><circle cx="599.5" cy="284.6" r="3.1" class="k2"/><circle cx="670.9" cy="346.3" r="3.1" class="kh"/><circle cx="613" cy="306.1" r="3.1" class="k7"/><circle cx="650.4" cy="336.2" r="3.1" class="ke"/><circle cx="611.4" cy="300.6" r="3.1" class="k6"/><circle cx="655" cy="339.7" r="3.1" class="kf"/><circle cx="604.7" cy="293.2" r="3.1" class="k4"/><circle cx="602.3" cy="290.5" r="3.1" class="k3"/><circle cx="633.3" cy="327.3" r="3.1" class="kc"/><circle cx="607.3" cy="294.9" r="3.1" class="k5"/><circle cx="602.1" cy="287.4" r="3.1" class="k3"/><circle cx="612" cy="303.9" r="3.1" class="k7"/><circle cx="730.8" cy="329.5" r="3.1" class="kd"/><circle cx="598.8" cy="281.9" r="3.1" class="k1"/><circle cx="593.5" cy="280.2" r="3.1" class="k1"/><circle cx="596.6" cy="281" r="3.1" class="k1"/><circle cx="599" cy="288.2" r="3.1" class="k3"/><circle cx="608.2" cy="300.9" r="3.1" class="k6"/><circle cx="605.7" cy="290.9" r="3.1" class="k4"/><circle cx="606.3" cy="293.1" r="3.1" class="k4"/><circle cx="615.2" cy="310" r="3.1" class="k8"/><circle cx="631" cy="324" r="3.1" class="kb"/><circle cx="599.3" cy="284.3" r="3.1" class="k2"/><circle cx="677.1" cy="346.9" r="3.1" class="kh"/><circle cx="608.2" cy="296.3" r="3.1" class="k5"/><circle cx="639.2" cy="334.5" r="3.1" class="ke"/><circle cx="682.6" cy="345.8" r="3.1" class="kg"/><circle cx="600.1" cy="286.4" r="3.1" class="k2"/><circle cx="602.6" cy="289.4" r="3.1" class="k3"/><circle cx="593.9" cy="279.4" r="3.1" class="k1"/><circle cx="709.9" cy="340.9" r="3.1" class="kf"/><circle cx="596.8" cy="280.3" r="3.1" class="k1"/><circle cx="600.2" cy="282.9" r="3.1" class="k2"/><circle cx="628.9" cy="321.2" r="3.1" class="kb"/><circle cx="664" cy="341.3" r="3.1" class="kf"/><circle cx="619.1" cy="315.8" r="3.1" class="k9"/><circle cx="620.6" cy="314.9" r="3.1" class="k9"/><circle cx="610.2" cy="298.7" r="3.1" class="k5"/><circle cx="611.3" cy="300" r="3.1" class="k6"/><circle cx="601.3" cy="287.7" r="3.1" class="k3"/><circle cx="603.2" cy="288.1" r="3.1" class="k3"/><circle cx="604.7" cy="288.9" r="3.1" class="k3"/><circle cx="641.3" cy="332.6" r="3.1" class="kd"/><circle cx="606.4" cy="292.3" r="3.1" class="k4"/><circle cx="605.6" cy="290.4" r="3.1" class="k3"/><circle cx="600.4" cy="285.6" r="3.1" class="k2"/><circle cx="613.7" cy="309.2" r="3.1" class="k8"/><circle cx="627.1" cy="320.1" r="3.1" class="ka"/><circle cx="606.7" cy="295.3" r="3.1" class="k5"/><circle cx="643" cy="329.6" r="3.1" class="kd"/><circle cx="625.3" cy="318.2" r="3.1" class="ka"/><circle cx="612.8" cy="305.7" r="3.1" class="k7"/><circle cx="616.3" cy="312.1" r="3.1" class="k8"/><circle cx="622.1" cy="316.6" r="3.1" class="ka"/><circle cx="608" cy="292" r="3.1" class="k4"/><circle cx="601.5" cy="283.9" r="3.1" class="k2"/><circle cx="623.7" cy="317.4" r="3.1" class="ka"/><circle cx="596.6" cy="279.9" r="3.1" class="k1"/><circle cx="598.7" cy="281" r="3.1" class="k1"/><circle cx="617.9" cy="310.2" r="3.1" class="k8"/><circle cx="636.1" cy="330.1" r="3.1" class="kd"/><circle cx="721" cy="333.4" r="3.1" class="kd"/><circle cx="607.7" cy="296.5" r="3.1" class="k5"/><circle cx="615.2" cy="308.6" r="3.1" class="k8"/><circle cx="633.1" cy="324.2" r="3.1" class="kb"/><circle cx="659.5" cy="339.8" r="3.1" class="kf"/><circle cx="603.2" cy="287.5" r="3.1" class="k3"/><circle cx="600.6" cy="281.6" r="3.1" class="k1"/><circle cx="614.3" cy="305" r="3.1" class="k7"/><circle cx="694.3" cy="344.6" r="3.1" class="kg"/><circle cx="604.4" cy="288.6" r="3.1" class="k3"/><circle cx="600.9" cy="287.6" r="3.1" class="k3"/><circle cx="596.5" cy="279.4" r="3.1" class="k1"/><circle cx="647.1" cy="333.4" r="3.1" class="kd"/><circle cx="650.4" cy="334.3" r="3.1" class="ke"/><circle cx="601.2" cy="283.7" r="3.1" class="k2"/><circle cx="611.3" cy="299.1" r="3.1" class="k5"/><circle cx="654.9" cy="337.4" r="3.1" class="ke"/><circle cx="683.4" cy="344" r="3.1" class="kg"/><circle cx="705.9" cy="341.6" r="3.1" class="kf"/><circle cx="670.4" cy="343.4" r="3.1" class="kg"/><circle cx="605.1" cy="290.6" r="3.1" class="k3"/><circle cx="742.7" cy="321" r="3.1" class="kb"/><circle cx="612.1" cy="301.4" r="3.1" class="k6"/><circle cx="628.7" cy="317.9" r="3.1" class="ka"/><circle cx="616.6" cy="308.6" r="3.1" class="k8"/><circle cx="630.9" cy="322.1" r="3.1" class="kb"/><circle cx="731.2" cy="327.5" r="3.1" class="kc"/><circle cx="619.1" cy="313.4" r="3.1" class="k9"/><circle cx="597.6" cy="281.3" r="3.1" class="k1"/><circle cx="638.7" cy="330.5" r="3.1" class="kd"/><circle cx="607.9" cy="295.5" r="3.1" class="k4"/><circle cx="601" cy="286.9" r="3.1" class="k2"/><circle cx="602.9" cy="287.2" r="3.1" class="k3"/><circle cx="601.4" cy="283" r="3.1" class="k2"/><circle cx="600" cy="281.6" r="3.1" class="k1"/><circle cx="596.2" cy="279.1" r="3.1" class="k1"/><circle cx="620.6" cy="314.2" r="3.1" class="k9"/><circle cx="606.5" cy="290.8" r="3.1" class="k3"/><circle cx="710.3" cy="338.9" r="3.1" class="kf"/><circle cx="614.5" cy="302.8" r="3.1" class="k6"/><circle cx="627.1" cy="318.3" r="3.1" class="ka"/><circle cx="625.3" cy="316.4" r="3.1" class="k9"/><circle cx="623.7" cy="315.3" r="3.1" class="k9"/><circle cx="676.6" cy="344.1" r="3.1" class="kg"/><circle cx="622.1" cy="315" r="3.1" class="k9"/><circle cx="640.8" cy="329" r="3.1" class="kc"/><circle cx="604.9" cy="286.8" r="3.1" class="k2"/><circle cx="682.6" cy="343.7" r="3.1" class="kg"/><circle cx="597.4" cy="280.9" r="3.1" class="k1"/><circle cx="635.6" cy="325.9" r="3.1" class="kc"/><circle cx="608.7" cy="297.2" r="3.1" class="k5"/><circle cx="602.5" cy="284.2" r="3.1" class="k2"/><circle cx="601.1" cy="286.1" r="3.1" class="k2"/><circle cx="615.1" cy="307.8" r="3.1" class="k7"/><circle cx="605.8" cy="288.3" r="3.1" class="k3"/><circle cx="613.2" cy="302" r="3.1" class="k6"/><circle cx="602.8" cy="286.8" r="3.1" class="k2"/><circle cx="643.3" cy="328.9" r="3.1" class="kc"/><circle cx="665.1" cy="341.3" r="3.1" class="kf"/><circle cx="606.3" cy="290.5" r="3.1" class="k3"/><circle cx="633.1" cy="322.8" r="3.1" class="kb"/><circle cx="597.3" cy="280.5" r="3.1" class="k1"/><circle cx="604.8" cy="286.3" r="3.1" class="k2"/><circle cx="606.1" cy="287.3" r="3.1" class="k2"/><circle cx="658.4" cy="335.6" r="3.1" class="ke"/><circle cx="637.6" cy="324.5" r="3.1" class="kb"/><circle cx="602.5" cy="283.7" r="3.1" class="k2"/><circle cx="617.5" cy="313.2" r="3.1" class="k9"/><circle cx="619.2" cy="311.7" r="3.1" class="k8"/><circle cx="600" cy="280.6" r="3.1" class="k1"/><circle cx="603.1" cy="285.9" r="3.1" class="k2"/><circle cx="620.6" cy="311.7" r="3.1" class="k8"/><circle cx="721.2" cy="331.4" r="3.1" class="kd"/><circle cx="598" cy="279.6" r="3.1" class="k1"/><circle cx="693.2" cy="341.2" r="3.1" class="kf"/><circle cx="607.4" cy="291.1" r="3.1" class="k3"/><circle cx="654.2" cy="334.1" r="3.1" class="kd"/><circle cx="630.9" cy="320.6" r="3.1" class="ka"/><circle cx="647.2" cy="332" r="3.1" class="kd"/><circle cx="602.8" cy="282.9" r="3.1" class="k1"/><circle cx="601.7" cy="281.3" r="3.1" class="k1"/><circle cx="650.4" cy="332.5" r="3.1" class="kd"/><circle cx="600.3" cy="279.9" r="3.1" class="k1"/><circle cx="608.4" cy="296.9" r="3.1" class="k5"/><circle cx="606.3" cy="289.9" r="3.1" class="k3"/><circle cx="608.7" cy="291.5" r="3.1" class="k3"/><circle cx="622.1" cy="313.3" r="3.1" class="k9"/><circle cx="608" cy="289.6" r="3.1" class="k3"/><circle cx="604.6" cy="286" r="3.1" class="k2"/><circle cx="640" cy="324.8" r="3.1" class="kb"/><circle cx="625.3" cy="314.9" r="3.1" class="k9"/><circle cx="629" cy="318.9" r="3.1" class="ka"/><circle cx="627.1" cy="316.6" r="3.1" class="k9"/><circle cx="684.3" cy="342.9" r="3.1" class="kg"/><circle cx="670.6" cy="341.6" r="3.1" class="kf"/><circle cx="614.1" cy="304" r="3.1" class="k6"/><circle cx="597.8" cy="279.2" r="3.1" class="k1"/><circle cx="731.4" cy="325.4" r="3.1" class="kb"/><circle cx="635.2" cy="322.6" r="3.1" class="kb"/><circle cx="613" cy="302" r="3.1" class="k6"/><circle cx="609" cy="294.9" r="3.1" class="k4"/><circle cx="602.7" cy="285.8" r="3.1" class="k2"/><circle cx="710.6" cy="336.8" r="3.1" class="ke"/><circle cx="706.3" cy="339.9" r="3.1" class="kf"/><circle cx="623.7" cy="315" r="3.1" class="k9"/><circle cx="606.5" cy="289" r="3.1" class="k3"/><circle cx="599.9" cy="279.7" r="3.1" class="k1"/><circle cx="616.6" cy="306.5" r="3.1" class="k7"/><circle cx="619.2" cy="309.8" r="3.1" class="k8"/><circle cx="608" cy="288.9" r="3.1" class="k3"/><circle cx="605.9" cy="286.4" r="3.1" class="k2"/><circle cx="676.1" cy="341.2" r="3.1" class="kf"/><circle cx="604.5" cy="285.7" r="3.1" class="k2"/><circle cx="600.8" cy="281.6" r="3.1" class="k1"/><circle cx="682.1" cy="341" r="3.1" class="kf"/><circle cx="606.8" cy="287.9" r="3.1" class="k3"/><circle cx="612.2" cy="298.6" r="3.1" class="k5"/><circle cx="614.3" cy="301.9" r="3.1" class="k6"/><circle cx="603.3" cy="284.1" r="3.1" class="k2"/><circle cx="599.9" cy="279.3" r="3.1" class="k1"/><circle cx="601.2" cy="280.7" r="3.1" class="k1"/><circle cx="608.2" cy="291.9" r="3.1" class="k3"/><circle cx="620.6" cy="311.4" r="3.1" class="k8"/><circle cx="610.3" cy="294.6" r="3.1" class="k4"/><circle cx="600.6" cy="278.4" r="3.1" class="k0"/><circle cx="625.2" cy="312.3" r="3.1" class="k8"/><circle cx="665.1" cy="339.4" r="3.1" class="kf"/><circle cx="633.4" cy="322.7" r="3.1" class="kb"/><circle cx="601.7" cy="279.9" r="3.1" class="k1"/><circle cx="610.6" cy="298.7" r="3.1" class="k5"/><circle cx="607.9" cy="288.4" r="3.1" class="k3"/><circle cx="623.7" cy="312.2" r="3.1" class="k8"/><circle cx="614.6" cy="299.4" r="3.1" class="k5"/><circle cx="609.1" cy="298.6" r="3.1" class="k5"/><circle cx="617.7" cy="308.7" r="3.1" class="k7"/><circle cx="644.5" cy="330.8" r="3.1" class="kd"/><circle cx="638.2" cy="325.3" r="3.1" class="kb"/><circle cx="606.6" cy="287.6" r="3.1" class="k2"/><circle cx="631.2" cy="320.7" r="3.1" class="ka"/><circle cx="720.6" cy="328.8" r="3.1" class="kc"/><circle cx="606" cy="285.2" r="3.1" class="k2"/><circle cx="693.6" cy="339.5" r="3.1" class="kf"/><circle cx="614.9" cy="307.3" r="3.1" class="k7"/><circle cx="650.4" cy="330.8" r="3.1" class="kd"/><circle cx="654.4" cy="332.6" r="3.1" class="kd"/><circle cx="659.7" cy="336.3" r="3.1" class="ke"/><circle cx="647.4" cy="330.8" r="3.1" class="kd"/><circle cx="605.2" cy="286.9" r="3.1" class="k2"/><circle cx="602.4" cy="278.5" r="3.1" class="k0"/><circle cx="627.2" cy="316.4" r="3.1" class="k9"/><circle cx="601.5" cy="279.7" r="3.1" class="k1"/><circle cx="607.9" cy="287.9" r="3.1" class="k2"/><circle cx="612" cy="298.2" r="3.1" class="k5"/><circle cx="710.1" cy="334.1" r="3.1" class="kd"/><circle cx="608.8" cy="289.5" r="3.1" class="k3"/><circle cx="629.2" cy="319" r="3.1" class="ka"/><circle cx="604.3" cy="281.7" r="3.1" class="k1"/><circle cx="616.4" cy="306.5" r="3.1" class="k7"/><circle cx="603.3" cy="280.2" r="3.1" class="k1"/><circle cx="610.8" cy="291.8" r="3.1" class="k3"/><circle cx="606.8" cy="286.8" r="3.1" class="k2"/><circle cx="609.4" cy="291.7" r="3.1" class="k3"/><circle cx="683.8" cy="340.2" r="3.1" class="kf"/><circle cx="615.3" cy="303.9" r="3.1" class="k6"/><circle cx="635.5" cy="322.2" r="3.1" class="kb"/><circle cx="610.6" cy="297.7" r="3.1" class="k5"/><circle cx="619.1" cy="309.9" r="3.1" class="k8"/><circle cx="670.5" cy="339.6" r="3.1" class="kf"/><circle cx="604.5" cy="281.1" r="3.1" class="k1"/><circle cx="640.9" cy="326.2" r="3.1" class="kb"/><circle cx="604.5" cy="284.1" r="3.1" class="k2"/><circle cx="602.2" cy="278.3" r="3.1" class="k0"/><circle cx="625.2" cy="311" r="3.1" class="k8"/><circle cx="614.5" cy="299.1" r="3.1" class="k5"/><circle cx="731.4" cy="323.3" r="3.1" class="kb"/><circle cx="605.7" cy="285.2" r="3.1" class="k2"/><circle cx="706.2" cy="337.7" r="3.1" class="ke"/><circle cx="620.6" cy="310.8" r="3.1" class="k8"/><circle cx="623.7" cy="310.9" r="3.1" class="k8"/><circle cx="608.7" cy="289.1" r="3.1" class="k3"/><circle cx="617.8" cy="307.4" r="3.1" class="k7"/><circle cx="633.2" cy="320.4" r="3.1" class="ka"/><circle cx="606.1" cy="284.1" r="3.1" class="k2"/><circle cx="611.5" cy="293.8" r="3.1" class="k4"/><circle cx="615.4" cy="302" r="3.1" class="k6"/><circle cx="613.2" cy="298.5" r="3.1" class="k5"/><circle cx="676.1" cy="339.3" r="3.1" class="kf"/><circle cx="607.5" cy="288" r="3.1" class="k2"/><circle cx="610.7" cy="291.6" r="3.1" class="k3"/><circle cx="612" cy="297.6" r="3.1" class="k5"/><circle cx="611.9" cy="292.1" r="3.1" class="k3"/><circle cx="610.6" cy="297" r="3.1" class="k5"/><circle cx="643.9" cy="327.4" r="3.1" class="kc"/><circle cx="664.4" cy="336.2" r="3.1" class="ke"/><circle cx="606.9" cy="285.6" r="3.1" class="k2"/><circle cx="682.7" cy="339.8" r="3.1" class="kf"/><circle cx="616.9" cy="301.5" r="3.1" class="k6"/><circle cx="603.7" cy="278.6" r="3.1" class="k0"/><circle cx="604.2" cy="283.9" r="3.1" class="k1"/><circle cx="603" cy="279.5" r="3.1" class="k0"/><circle cx="604" cy="281.1" r="3.1" class="k1"/><circle cx="604.6" cy="280.1" r="3.1" class="k1"/><circle cx="607.9" cy="286.9" r="3.1" class="k2"/><circle cx="615.7" cy="299.7" r="3.1" class="k5"/><circle cx="649.9" cy="328" r="3.1" class="kc"/><circle cx="620.7" cy="307.8" r="3.1" class="k7"/><circle cx="606" cy="283.8" r="3.1" class="k1"/><circle cx="627.2" cy="315.4" r="3.1" class="k9"/><circle cx="647.1" cy="328.3" r="3.1" class="kc"/><circle cx="631.3" cy="319.9" r="3.1" class="ka"/><circle cx="638.4" cy="324.5" r="3.1" class="kb"/><circle cx="613.4" cy="297.1" r="3.1" class="k5"/><circle cx="607.1" cy="284.9" r="3.1" class="k2"/><circle cx="629.2" cy="317.6" r="3.1" class="k9"/><circle cx="608.2" cy="285.9" r="3.1" class="k2"/><circle cx="603.8" cy="278.1" r="3.1" class="k0"/><circle cx="608.6" cy="288.8" r="3.1" class="k3"/><circle cx="659.1" cy="333.4" r="3.1" class="kd"/><circle cx="617" cy="299.2" r="3.1" class="k5"/><circle cx="616.2" cy="306.8" r="3.1" class="k7"/><circle cx="617.8" cy="305.6" r="3.1" class="k7"/><circle cx="635.4" cy="320.4" r="3.1" class="ka"/><circle cx="604.9" cy="282.3" r="3.1" class="k1"/><circle cx="693.8" cy="337.5" r="3.1" class="ke"/><circle cx="605.4" cy="281.3" r="3.1" class="k1"/><circle cx="612" cy="296.7" r="3.1" class="k4"/><circle cx="618.1" cy="302.1" r="3.1" class="k6"/><circle cx="710.4" cy="332.1" r="3.1" class="kd"/><circle cx="611.8" cy="291.7" r="3.1" class="k3"/><circle cx="654.9" cy="332" r="3.1" class="kd"/><circle cx="610.5" cy="291.4" r="3.1" class="k3"/><circle cx="604.3" cy="279.9" r="3.1" class="k0"/><circle cx="721" cy="327.1" r="3.1" class="kc"/><circle cx="622.1" cy="309.5" r="3.1" class="k7"/><circle cx="640.7" cy="324" r="3.1" class="kb"/><circle cx="608.3" cy="285.3" r="3.1" class="k2"/><circle cx="605.9" cy="283.4" r="3.1" class="k1"/><circle cx="612.3" cy="294.9" r="3.1" class="k4"/><circle cx="615.7" cy="298.7" r="3.1" class="k5"/><circle cx="604.5" cy="279.3" r="3.1" class="k0"/><circle cx="684.7" cy="339.1" r="3.1" class="ke"/><circle cx="609" cy="287" r="3.1" class="k2"/><circle cx="670.2" cy="337.2" r="3.1" class="ke"/><circle cx="619.4" cy="303" r="3.1" class="k6"/><circle cx="619.2" cy="307" r="3.1" class="k7"/><circle cx="604.7" cy="278.8" r="3.1" class="k0"/><circle cx="605.9" cy="282.9" r="3.1" class="k1"/><circle cx="633.4" cy="319.7" r="3.1" class="ka"/><circle cx="605.6" cy="280.3" r="3.1" class="k1"/><circle cx="620.7" cy="306.9" r="3.1" class="k7"/><circle cx="613.2" cy="296.9" r="3.1" class="k4"/><circle cx="643.7" cy="325.1" r="3.1" class="kb"/><circle cx="631.1" cy="317.3" r="3.1" class="k9"/><circle cx="612.4" cy="293.9" r="3.1" class="k4"/><circle cx="608" cy="289.1" r="3.1" class="k3"/><circle cx="613.6" cy="294.8" r="3.1" class="k4"/><circle cx="604.8" cy="281.5" r="3.1" class="k1"/><circle cx="605.8" cy="279.6" r="3.1" class="k0"/><circle cx="625.4" cy="312.9" r="3.1" class="k8"/><circle cx="646.4" cy="325.1" r="3.1" class="kb"/><circle cx="618.1" cy="301.3" r="3.1" class="k5"/><circle cx="706" cy="335.5" r="3.1" class="kd"/><circle cx="731.6" cy="321.3" r="3.1" class="ka"/><circle cx="604.8" cy="278.3" r="3.1" class="k0"/><circle cx="675.6" cy="336.8" r="3.1" class="ke"/><circle cx="611.6" cy="291.7" r="3.1" class="k3"/><circle cx="620.7" cy="303.8" r="3.1" class="k6"/><circle cx="606" cy="282.4" r="3.1" class="k1"/><circle cx="627.2" cy="314.5" r="3.1" class="k9"/><circle cx="638.2" cy="322.3" r="3.1" class="ka"/><circle cx="608.9" cy="286.6" r="3.1" class="k2"/><circle cx="612.6" cy="292.6" r="3.1" class="k3"/><circle cx="640.2" cy="321" r="3.1" class="ka"/><circle cx="606.3" cy="281.7" r="3.1" class="k1"/><circle cx="629.3" cy="316.9" r="3.1" class="k9"/><circle cx="622.1" cy="308.5" r="3.1" class="k7"/><circle cx="606.7" cy="277.7" r="3.1" class="k0"/><circle cx="682.4" cy="337.4" r="3.1" class="ke"/><circle cx="606.5" cy="284.7" r="3.1" class="k2"/><circle cx="664.6" cy="334.9" r="3.1" class="kd"/><circle cx="622.1" cy="304.6" r="3.1" class="k6"/><circle cx="616.8" cy="300.3" r="3.1" class="k5"/><circle cx="626.9" cy="310.4" r="3.1" class="k8"/><circle cx="623.7" cy="309" r="3.1" class="k7"/><circle cx="609.5" cy="288.6" r="3.1" class="k2"/><circle cx="606.8" cy="283.8" r="3.1" class="k1"/><circle cx="623.6" cy="305.3" r="3.1" class="k6"/><circle cx="635.6" cy="319.9" r="3.1" class="ka"/><circle cx="642.7" cy="321" r="3.1" class="ka"/><circle cx="614.7" cy="295.2" r="3.1" class="k4"/><circle cx="710.6" cy="330.1" r="3.1" class="kc"/><circle cx="606.3" cy="281.2" r="3.1" class="k1"/><circle cx="605.4" cy="279.6" r="3.1" class="k0"/><circle cx="650.8" cy="328.5" r="3.1" class="kc"/><circle cx="625.3" cy="310.5" r="3.1" class="k8"/><circle cx="611.5" cy="291.3" r="3.1" class="k3"/><circle cx="615.8" cy="296.9" r="3.1" class="k4"/><circle cx="630.9" cy="315.1" r="3.1" class="k9"/><circle cx="605.7" cy="279" r="3.1" class="k0"/><circle cx="683.8" cy="336" r="3.1" class="ke"/><circle cx="606.5" cy="280.6" r="3.1" class="k0"/><circle cx="625.2" cy="306.7" r="3.1" class="k7"/><circle cx="633.3" cy="317.9" r="3.1" class="k9"/><circle cx="629" cy="313.5" r="3.1" class="k8"/><circle cx="616.9" cy="298.8" r="3.1" class="k5"/><circle cx="613.4" cy="294.9" r="3.1" class="k4"/><circle cx="607.1" cy="282.5" r="3.1" class="k1"/><circle cx="695.6" cy="337.3" r="3.1" class="ke"/><circle cx="610.8" cy="288.4" r="3.1" class="k2"/><circle cx="721" cy="325" r="3.1" class="kb"/><circle cx="655.6" cy="331.8" r="3.1" class="kd"/><circle cx="637.8" cy="319.6" r="3.1" class="ka"/><circle cx="607.4" cy="278.5" r="3.1" class="k0"/><circle cx="669.8" cy="334.8" r="3.1" class="kd"/><circle cx="660.8" cy="334.9" r="3.1" class="kd"/><circle cx="607.6" cy="284.8" r="3.1" class="k1"/><circle cx="606.3" cy="283.9" r="3.1" class="k1"/><circle cx="613.5" cy="293.7" r="3.1" class="k4"/><circle cx="606.7" cy="279.5" r="3.1" class="k0"/><circle cx="611.4" cy="290.9" r="3.1" class="k3"/><circle cx="612.6" cy="291.4" r="3.1" class="k3"/><circle cx="646.6" cy="323.9" r="3.1" class="kb"/><circle cx="640.2" cy="319.5" r="3.1" class="ka"/><circle cx="614.5" cy="295.4" r="3.1" class="k4"/><circle cx="608.9" cy="289.3" r="3.1" class="k2"/><circle cx="705.1" cy="332.8" r="3.1" class="kd"/><circle cx="619.3" cy="302.3" r="3.1" class="k6"/><circle cx="605.9" cy="280.7" r="3.1" class="k0"/><circle cx="628.9" cy="311.6" r="3.1" class="k8"/><circle cx="635.6" cy="318.6" r="3.1" class="k9"/><circle cx="681.7" cy="334.8" r="3.1" class="kd"/><circle cx="630.9" cy="313.6" r="3.1" class="k8"/><circle cx="664.6" cy="333.1" r="3.1" class="kd"/><circle cx="731.7" cy="319.3" r="3.1" class="ka"/><circle cx="607.4" cy="280.9" r="3.1" class="k0"/><circle cx="627.1" cy="311" r="3.1" class="k8"/><circle cx="616.8" cy="298.8" r="3.1" class="k5"/><circle cx="676.6" cy="336.3" r="3.1" class="kd"/><circle cx="606.9" cy="281.8" r="3.1" class="k1"/><circle cx="612.6" cy="291" r="3.1" class="k3"/><circle cx="606.4" cy="282.8" r="3.1" class="k1"/><circle cx="625.2" cy="306.7" r="3.1" class="k7"/><circle cx="683.4" cy="333.4" r="3.1" class="kd"/><circle cx="633.3" cy="316.9" r="3.1" class="k9"/><circle cx="711.2" cy="328.4" r="3.1" class="kc"/><circle cx="654.8" cy="328.4" r="3.1" class="kc"/><circle cx="617.9" cy="301.3" r="3.1" class="k5"/><circle cx="651.1" cy="327.5" r="3.1" class="kb"/><circle cx="643.4" cy="321.2" r="3.1" class="ka"/><circle cx="659.7" cy="331.2" r="3.1" class="kc"/><circle cx="614.5" cy="294.9" r="3.1" class="k4"/><circle cx="606.4" cy="279.1" r="3.1" class="k0"/><circle cx="611.4" cy="289.7" r="3.1" class="k3"/><circle cx="622.1" cy="303.9" r="3.1" class="k6"/><circle cx="607.5" cy="279.9" r="3.1" class="k0"/><circle cx="607.2" cy="284.4" r="3.1" class="k1"/><circle cx="607.1" cy="280.8" r="3.1" class="k0"/><circle cx="627" cy="308.9" r="3.1" class="k7"/><circle cx="696" cy="335.6" r="3.1" class="kd"/><circle cx="618" cy="299.7" r="3.1" class="k5"/><circle cx="721" cy="323.1" r="3.1" class="ka"/><circle cx="615.4" cy="297" r="3.1" class="k4"/><circle cx="607.2" cy="283.9" r="3.1" class="k1"/><circle cx="628.9" cy="311" r="3.1" class="k7"/><circle cx="607.4" cy="279.7" r="3.1" class="k0"/><circle cx="640.6" cy="319.2" r="3.1" class="k9"/><circle cx="607.7" cy="279" r="3.1" class="k0"/><circle cx="615.6" cy="295.5" r="3.1" class="k4"/><circle cx="619.2" cy="303" r="3.1" class="k6"/><circle cx="671.1" cy="334.9" r="3.1" class="kd"/><circle cx="620.7" cy="302.8" r="3.1" class="k6"/><circle cx="633.3" cy="315.4" r="3.1" class="k8"/><circle cx="613.1" cy="293.8" r="3.1" class="k3"/><circle cx="623.7" cy="306" r="3.1" class="k6"/><circle cx="613.4" cy="292.2" r="3.1" class="k3"/><circle cx="608" cy="285.5" r="3.1" class="k1"/><circle cx="635.9" cy="318.4" r="3.1" class="k9"/><circle cx="631.2" cy="313.9" r="3.1" class="k8"/><circle cx="612.4" cy="290.3" r="3.1" class="k3"/><circle cx="647.6" cy="324.9" r="3.1" class="kb"/><circle cx="704.9" cy="330.7" r="3.1" class="kc"/><circle cx="676.1" cy="333.8" r="3.1" class="kd"/><circle cx="608.2" cy="281" r="3.1" class="k0"/><circle cx="664.7" cy="331.6" r="3.1" class="kc"/><circle cx="654.6" cy="326.6" r="3.1" class="kb"/><circle cx="651" cy="325.8" r="3.1" class="kb"/><circle cx="625.3" cy="307.2" r="3.1" class="k7"/><circle cx="682.2" cy="333.6" r="3.1" class="kd"/><circle cx="643.5" cy="320.2" r="3.1" class="ka"/><circle cx="684.2" cy="332.4" r="3.1" class="kc"/><circle cx="638" cy="317.6" r="3.1" class="k9"/><circle cx="711.6" cy="326.7" r="3.1" class="kb"/><circle cx="659.8" cy="329.7" r="3.1" class="kc"/><circle cx="622.1" cy="304.1" r="3.1" class="k6"/><circle cx="608.7" cy="279.1" r="3.1" class="k0"/><circle cx="608.1" cy="280.6" r="3.1" class="k0"/><circle cx="635.4" cy="315.2" r="3.1" class="k8"/><circle cx="608.4" cy="279.9" r="3.1" class="k0"/><circle cx="617.9" cy="300" r="3.1" class="k5"/><circle cx="607.9" cy="285.2" r="3.1" class="k1"/><circle cx="619.2" cy="302.4" r="3.1" class="k5"/><circle cx="607.3" cy="282.5" r="3.1" class="k1"/><circle cx="616.5" cy="298.9" r="3.1" class="k5"/><circle cx="608.8" cy="286.8" r="3.1" class="k2"/><circle cx="646.9" cy="321.8" r="3.1" class="ka"/><circle cx="620.6" cy="302.5" r="3.1" class="k5"/><circle cx="649.9" cy="322" r="3.1" class="ka"/><circle cx="627.2" cy="309.7" r="3.1" class="k7"/><circle cx="633.3" cy="314.1" r="3.1" class="k8"/><circle cx="609.7" cy="279.7" r="3.1" class="k0"/><circle cx="617.9" cy="298.6" r="3.1" class="k4"/><circle cx="613.7" cy="289.5" r="3.1" class="k2"/><circle cx="609.7" cy="283.8" r="3.1" class="k1"/><circle cx="696.9" cy="334.4" r="3.1" class="kd"/><circle cx="616.6" cy="297.2" r="3.1" class="k4"/><circle cx="609.9" cy="283.1" r="3.1" class="k1"/><circle cx="619.2" cy="300.7" r="3.1" class="k5"/><circle cx="720.9" cy="321.1" r="3.1" class="ka"/><circle cx="615.5" cy="294.5" r="3.1" class="k3"/><circle cx="629.2" cy="311.6" r="3.1" class="k7"/><circle cx="609.3" cy="280.7" r="3.1" class="k0"/><circle cx="614.5" cy="292" r="3.1" class="k3"/><circle cx="610.2" cy="286.4" r="3.1" class="k2"/><circle cx="614.2" cy="293.7" r="3.1" class="k3"/><circle cx="670.9" cy="332.9" r="3.1" class="kc"/><circle cx="631.3" cy="313.4" r="3.1" class="k8"/><circle cx="643.4" cy="318.6" r="3.1" class="k9"/><circle cx="622.1" cy="303.5" r="3.1" class="k6"/><circle cx="623.7" cy="303.6" r="3.1" class="k6"/><circle cx="613.7" cy="288.9" r="3.1" class="k2"/><circle cx="610.4" cy="285.6" r="3.1" class="k1"/><circle cx="609.9" cy="282.6" r="3.1" class="k1"/><circle cx="614.9" cy="289.6" r="3.1" class="k2"/><circle cx="616.9" cy="294.3" r="3.1" class="k3"/><circle cx="618" cy="297.5" r="3.1" class="k4"/><circle cx="615.7" cy="293.3" r="3.1" class="k3"/><circle cx="675.5" cy="331.4" r="3.1" class="kc"/><circle cx="664.5" cy="329.6" r="3.1" class="kc"/><circle cx="608.7" cy="281.7" r="3.1" class="k0"/><circle cx="630.9" cy="310.2" r="3.1" class="k7"/><circle cx="629" cy="309" r="3.1" class="k7"/><circle cx="620.6" cy="301.5" r="3.1" class="k5"/><circle cx="625.4" cy="307.5" r="3.1" class="k6"/><circle cx="704.3" cy="328.5" r="3.1" class="kb"/><circle cx="659.3" cy="327.3" r="3.1" class="kb"/><circle cx="635.5" cy="314.3" r="3.1" class="k8"/><circle cx="611" cy="283.1" r="3.1" class="k1"/><circle cx="655" cy="325.8" r="3.1" class="kb"/><circle cx="609.4" cy="279.7" r="3.1" class="k0"/><circle cx="681.9" cy="331.5" r="3.1" class="kc"/><circle cx="610.9" cy="288.6" r="3.1" class="k2"/><circle cx="618" cy="296.3" r="3.1" class="k4"/><circle cx="611.2" cy="287.4" r="3.1" class="k2"/><circle cx="711.7" cy="324.7" r="3.1" class="kb"/><circle cx="685.2" cy="331.4" r="3.1" class="kc"/><circle cx="619.3" cy="298" r="3.1" class="k4"/><circle cx="611.1" cy="282.6" r="3.1" class="k1"/><circle cx="616.9" cy="293.6" r="3.1" class="k3"/><circle cx="615.8" cy="291.3" r="3.1" class="k3"/><circle cx="633.3" cy="313.2" r="3.1" class="k8"/><circle cx="638.6" cy="318.3" r="3.1" class="k9"/><circle cx="611.3" cy="286.7" r="3.1" class="k2"/><circle cx="612.3" cy="288.3" r="3.1" class="k2"/><circle cx="610.5" cy="284.5" r="3.1" class="k1"/><circle cx="610.2" cy="281" r="3.1" class="k0"/><circle cx="618.1" cy="295.2" r="3.1" class="k4"/><circle cx="611.2" cy="282.1" r="3.1" class="k0"/><circle cx="614.7" cy="289.5" r="3.1" class="k2"/><circle cx="623.6" cy="300.5" r="3.1" class="k5"/><circle cx="669.5" cy="329.3" r="3.1" class="kc"/><circle cx="640.9" cy="317.6" r="3.1" class="k9"/><circle cx="696.5" cy="332" r="3.1" class="kc"/><circle cx="610.5" cy="279.8" r="3.1" class="k0"/><circle cx="623.7" cy="303.2" r="3.1" class="k5"/><circle cx="647.3" cy="321.3" r="3.1" class="ka"/><circle cx="616.9" cy="292.7" r="3.1" class="k3"/><circle cx="620.7" cy="298.7" r="3.1" class="k4"/><circle cx="611.7" cy="280.1" r="3.1" class="k0"/><circle cx="622.1" cy="298.8" r="3.1" class="k4"/><circle cx="635.4" cy="312.7" r="3.1" class="k8"/><circle cx="638.1" cy="315.3" r="3.1" class="k8"/><circle cx="611.3" cy="286.3" r="3.1" class="k1"/><circle cx="610.1" cy="280.7" r="3.1" class="k0"/><circle cx="611.4" cy="281" r="3.1" class="k0"/><circle cx="618.2" cy="292.7" r="3.1" class="k3"/><circle cx="664" cy="327.3" r="3.1" class="kb"/><circle cx="611.9" cy="283.7" r="3.1" class="k1"/><circle cx="633.2" cy="311.3" r="3.1" class="k7"/><circle cx="651" cy="322.8" r="3.1" class="ka"/><circle cx="615.9" cy="289.8" r="3.1" class="k2"/><circle cx="611" cy="281.9" r="3.1" class="k0"/><circle cx="654.7" cy="323.7" r="3.1" class="ka"/><circle cx="612.7" cy="286" r="3.1" class="k1"/><circle cx="611.4" cy="285.6" r="3.1" class="k1"/><circle cx="721.2" cy="319.3" r="3.1" class="k9"/><circle cx="629.1" cy="309.2" r="3.1" class="k7"/><circle cx="635" cy="310.3" r="3.1" class="k7"/><circle cx="619.3" cy="296.3" r="3.1" class="k4"/><circle cx="613.4" cy="288.9" r="3.1" class="k2"/><circle cx="616.9" cy="292.4" r="3.1" class="k3"/><circle cx="619.2" cy="298.3" r="3.1" class="k4"/><circle cx="613.7" cy="286.8" r="3.1" class="k2"/><circle cx="659.8" cy="326.6" r="3.1" class="kb"/><circle cx="676.3" cy="330.7" r="3.1" class="kc"/><circle cx="646.9" cy="319.2" r="3.1" class="k9"/><circle cx="619.4" cy="295" r="3.1" class="k3"/><circle cx="612.4" cy="281.2" r="3.1" class="k0"/><circle cx="632.9" cy="309.3" r="3.1" class="k7"/><circle cx="637.8" cy="313.4" r="3.1" class="k8"/><circle cx="711.9" cy="322.9" r="3.1" class="ka"/><circle cx="704.8" cy="327" r="3.1" class="kb"/><circle cx="622.1" cy="298.5" r="3.1" class="k4"/><circle cx="612.7" cy="284.9" r="3.1" class="k1"/><circle cx="634.7" cy="308.3" r="3.1" class="k7"/><circle cx="695.8" cy="329.4" r="3.1" class="kb"/><circle cx="682.7" cy="330.7" r="3.1" class="kc"/><circle cx="641" cy="316.7" r="3.1" class="k8"/><circle cx="686.8" cy="331.2" r="3.1" class="kc"/><circle cx="613.4" cy="288.4" r="3.1" class="k2"/><circle cx="615.8" cy="289.6" r="3.1" class="k2"/><circle cx="629" cy="307.5" r="3.1" class="k6"/><circle cx="616.9" cy="291.8" r="3.1" class="k3"/><circle cx="613.7" cy="286.4" r="3.1" class="k1"/><circle cx="613.9" cy="285.5" r="3.1" class="k1"/><circle cx="618.1" cy="292.9" r="3.1" class="k3"/><circle cx="631" cy="308.9" r="3.1" class="k7"/><circle cx="650.6" cy="320.7" r="3.1" class="k9"/><circle cx="623.7" cy="301.3" r="3.1" class="k5"/><circle cx="614" cy="284.7" r="3.1" class="k1"/><circle cx="658.4" cy="322.9" r="3.1" class="ka"/><circle cx="618.2" cy="291.7" r="3.1" class="k3"/><circle cx="643.6" cy="316.8" r="3.1" class="k8"/><circle cx="637.5" cy="311.1" r="3.1" class="k7"/><circle cx="617" cy="290.8" r="3.1" class="k2"/><circle cx="612.9" cy="283.6" r="3.1" class="k1"/><circle cx="670" cy="328.4" r="3.1" class="kb"/><circle cx="612.2" cy="281" r="3.1" class="k0"/><circle cx="619.4" cy="294.5" r="3.1" class="k3"/><circle cx="618.3" cy="290.7" r="3.1" class="k2"/><circle cx="611" cy="280.8" r="3.1" class="k0"/><circle cx="615.1" cy="285.5" r="3.1" class="k1"/><circle cx="617" cy="289.9" r="3.1" class="k2"/><circle cx="620.7" cy="298" r="3.1" class="k4"/><circle cx="674.8" cy="327.3" r="3.1" class="kb"/><circle cx="640.6" cy="314.4" r="3.1" class="k8"/><circle cx="611.5" cy="283.5" r="3.1" class="k1"/><circle cx="654.9" cy="322.7" r="3.1" class="ka"/><circle cx="625.3" cy="302.4" r="3.1" class="k5"/><circle cx="664.4" cy="326.4" r="3.1" class="kb"/><circle cx="617.1" cy="289.1" r="3.1" class="k2"/><circle cx="634.7" cy="307.4" r="3.1" class="k6"/><circle cx="613.9" cy="284.5" r="3.1" class="k1"/><circle cx="622.1" cy="298.5" r="3.1" class="k4"/><circle cx="619.4" cy="293.8" r="3.1" class="k3"/><circle cx="720.7" cy="317.2" r="3.1" class="k9"/><circle cx="615.8" cy="288.6" r="3.1" class="k2"/><circle cx="632.6" cy="306.2" r="3.1" class="k6"/><circle cx="612" cy="281" r="3.1" class="k0"/><circle cx="647.2" cy="318.6" r="3.1" class="k9"/><circle cx="616" cy="286.8" r="3.1" class="k1"/><circle cx="615" cy="285.3" r="3.1" class="k1"/><circle cx="613.9" cy="284.1" r="3.1" class="k1"/><circle cx="637.5" cy="310.1" r="3.1" class="k7"/><circle cx="613" cy="282.2" r="3.1" class="k0"/><circle cx="612.7" cy="283.7" r="3.1" class="k1"/><circle cx="687.2" cy="329.6" r="3.1" class="kb"/><circle cx="711.9" cy="321.1" r="3.1" class="k9"/><circle cx="627.1" cy="304.2" r="3.1" class="k5"/><circle cx="695.8" cy="327.5" r="3.1" class="kb"/><circle cx="613.1" cy="281.6" r="3.1" class="k0"/><circle cx="682.5" cy="328.7" r="3.1" class="kb"/><circle cx="650.6" cy="319.4" r="3.1" class="k9"/><circle cx="630.8" cy="305.9" r="3.1" class="k6"/><circle cx="617.2" cy="287.8" r="3.1" class="k2"/><circle cx="618.3" cy="289.7" r="3.1" class="k2"/><circle cx="629" cy="305.1" r="3.1" class="k6"/><circle cx="620.7" cy="296" r="3.1" class="k4"/><circle cx="623.7" cy="299.6" r="3.1" class="k4"/><circle cx="640.5" cy="313.1" r="3.1" class="k8"/><circle cx="705.2" cy="325.5" r="3.1" class="ka"/><circle cx="613.2" cy="281.1" r="3.1" class="k0"/><circle cx="618.3" cy="288.8" r="3.1" class="k2"/><circle cx="663.6" cy="323.8" r="3.1" class="ka"/><circle cx="654.5" cy="320.7" r="3.1" class="k9"/><circle cx="619.4" cy="292.1" r="3.1" class="k3"/><circle cx="614.4" cy="280.9" r="3.1" class="k0"/><circle cx="618.1" cy="291.2" r="3.1" class="k2"/><circle cx="614.3" cy="281.6" r="3.1" class="k0"/><circle cx="632.6" cy="305.2" r="3.1" class="k6"/><circle cx="670.2" cy="327.1" r="3.1" class="kb"/><circle cx="659" cy="322.5" r="3.1" class="ka"/><circle cx="615.9" cy="286.7" r="3.1" class="k1"/><circle cx="623.7" cy="298.4" r="3.1" class="k4"/><circle cx="637.3" cy="308.6" r="3.1" class="k6"/><circle cx="644.3" cy="317.2" r="3.1" class="k8"/><circle cx="620.7" cy="295.3" r="3.1" class="k3"/><circle cx="619.5" cy="290.3" r="3.1" class="k2"/><circle cx="625.4" cy="302.9" r="3.1" class="k5"/><circle cx="625.3" cy="300.8" r="3.1" class="k5"/><circle cx="647.2" cy="317.3" r="3.1" class="k8"/><circle cx="675.5" cy="326.5" r="3.1" class="kb"/><circle cx="620.7" cy="294.2" r="3.1" class="k3"/><circle cx="627" cy="301.5" r="3.1" class="k5"/><circle cx="615.9" cy="286.2" r="3.1" class="k1"/><circle cx="625.2" cy="297.5" r="3.1" class="k4"/><circle cx="686.9" cy="327.4" r="3.1" class="kb"/><circle cx="640.5" cy="311.8" r="3.1" class="k7"/><circle cx="619.4" cy="291.9" r="3.1" class="k2"/><circle cx="643.7" cy="314.5" r="3.1" class="k8"/><circle cx="635.2" cy="308" r="3.1" class="k6"/><circle cx="623.7" cy="297.6" r="3.1" class="k4"/><circle cx="623.6" cy="296" r="3.1" class="k3"/><circle cx="629.1" cy="304.8" r="3.1" class="k5"/><circle cx="637.2" cy="307.2" r="3.1" class="k6"/><circle cx="620.8" cy="292" r="3.1" class="k2"/><circle cx="618.2" cy="288.9" r="3.1" class="k2"/><circle cx="617.1" cy="287.2" r="3.1" class="k1"/><circle cx="622.1" cy="296.2" r="3.1" class="k3"/><circle cx="617.2" cy="286.4" r="3.1" class="k1"/><circle cx="619.5" cy="288.9" r="3.1" class="k2"/><circle cx="696.2" cy="326" r="3.1" class="ka"/><circle cx="619.5" cy="290" r="3.1" class="k2"/><circle cx="618.4" cy="287.1" r="3.1" class="k1"/><circle cx="625.1" cy="296.6" r="3.1" class="k4"/><circle cx="613.7" cy="283.2" r="3.1" class="k0"/><circle cx="630.8" cy="303.8" r="3.1" class="k5"/><circle cx="614.8" cy="284.4" r="3.1" class="k1"/><circle cx="646.7" cy="315.1" r="3.1" class="k8"/><circle cx="711.8" cy="319.2" r="3.1" class="k9"/><circle cx="616.1" cy="284.3" r="3.1" class="k1"/><circle cx="616.3" cy="282.8" r="3.1" class="k0"/><circle cx="628.7" cy="301.2" r="3.1" class="k5"/><circle cx="704.6" cy="323.3" r="3.1" class="ka"/><circle cx="682.9" cy="327.5" r="3.1" class="kb"/><circle cx="614.9" cy="283.8" r="3.1" class="k1"/><circle cx="623.6" cy="295.2" r="3.1" class="k3"/><circle cx="627" cy="300.8" r="3.1" class="k5"/><circle cx="654.9" cy="320.1" r="3.1" class="k9"/><circle cx="626.9" cy="299" r="3.1" class="k4"/><circle cx="651.4" cy="319.6" r="3.1" class="k9"/><circle cx="670.1" cy="325.4" r="3.1" class="ka"/><circle cx="618.4" cy="286.5" r="3.1" class="k1"/><circle cx="664.2" cy="323.1" r="3.1" class="ka"/><circle cx="625" cy="294.2" r="3.1" class="k3"/><circle cx="615.1" cy="282.5" r="3.1" class="k0"/><circle cx="640.4" cy="310.5" r="3.1" class="k7"/><circle cx="614.9" cy="283.4" r="3.1" class="k0"/><circle cx="619.6" cy="287.6" r="3.1" class="k1"/><circle cx="622.1" cy="291.7" r="3.1" class="k2"/><circle cx="623.6" cy="292.9" r="3.1" class="k3"/><circle cx="659.7" cy="322.1" r="3.1" class="k9"/><circle cx="615.1" cy="282" r="3.1" class="k0"/><circle cx="687" cy="325.5" r="3.1" class="ka"/><circle cx="618.4" cy="286" r="3.1" class="k1"/><circle cx="620.8" cy="290.8" r="3.1" class="k2"/><circle cx="642.9" cy="310.6" r="3.1" class="k7"/><circle cx="643.9" cy="313.8" r="3.1" class="k7"/><circle cx="616" cy="284.2" r="3.1" class="k1"/><circle cx="635" cy="305.3" r="3.1" class="k6"/><circle cx="650.9" cy="317.4" r="3.1" class="k8"/><circle cx="626.9" cy="298.5" r="3.1" class="k4"/><circle cx="654.5" cy="318.1" r="3.1" class="k8"/><circle cx="658.6" cy="319" r="3.1" class="k9"/><circle cx="617.1" cy="285" r="3.1" class="k1"/><circle cx="617.3" cy="283.5" r="3.1" class="k0"/><circle cx="616.2" cy="282.3" r="3.1" class="k0"/><circle cx="622.1" cy="290.2" r="3.1" class="k2"/><circle cx="640.3" cy="309.3" r="3.1" class="k6"/><circle cx="676.8" cy="326.4" r="3.1" class="ka"/><circle cx="682.3" cy="325.3" r="3.1" class="ka"/><circle cx="625.2" cy="297" r="3.1" class="k4"/><circle cx="623.6" cy="292.7" r="3.1" class="k3"/><circle cx="696.5" cy="324.4" r="3.1" class="ka"/><circle cx="628.7" cy="299.4" r="3.1" class="k4"/><circle cx="647.1" cy="314.8" r="3.1" class="k8"/><circle cx="633.1" cy="305.1" r="3.1" class="k5"/><circle cx="626.7" cy="295.9" r="3.1" class="k3"/><circle cx="711.4" cy="317.2" r="3.1" class="k8"/><circle cx="637.8" cy="307.9" r="3.1" class="k6"/><circle cx="620.8" cy="289.5" r="3.1" class="k2"/><circle cx="628.9" cy="301.5" r="3.1" class="k5"/><circle cx="628.4" cy="296.5" r="3.1" class="k3"/><circle cx="630.8" cy="302.4" r="3.1" class="k5"/><circle cx="617.3" cy="283.2" r="3.1" class="k0"/><circle cx="704.6" cy="321.5" r="3.1" class="k9"/><circle cx="631.1" cy="304.5" r="3.1" class="k5"/><circle cx="653.8" cy="315.8" r="3.1" class="k8"/><circle cx="625.1" cy="294.6" r="3.1" class="k3"/><circle cx="687" cy="323.7" r="3.1" class="ka"/><circle cx="670.5" cy="324.4" r="3.1" class="ka"/><circle cx="632.9" cy="303.5" r="3.1" class="k5"/><circle cx="628.6" cy="298.4" r="3.1" class="k4"/><circle cx="650.8" cy="316.1" r="3.1" class="k8"/><circle cx="665" cy="322.8" r="3.1" class="k9"/><circle cx="630.5" cy="299.4" r="3.1" class="k4"/><circle cx="628.4" cy="295.7" r="3.1" class="k3"/><circle cx="640.3" cy="308.3" r="3.1" class="k6"/><circle cx="653.1" cy="313.3" r="3.1" class="k7"/><circle cx="615.9" cy="283.8" r="3.1" class="k0"/><circle cx="635.2" cy="305.2" r="3.1" class="k5"/><circle cx="658.5" cy="317.7" r="3.1" class="k8"/><circle cx="632.8" cy="302.2" r="3.1" class="k5"/><circle cx="643.5" cy="310.7" r="3.1" class="k7"/><circle cx="617" cy="285.2" r="3.1" class="k1"/><circle cx="623.6" cy="292.6" r="3.1" class="k2"/><circle cx="630.9" cy="301.7" r="3.1" class="k5"/><circle cx="632.5" cy="300.7" r="3.1" class="k4"/><circle cx="647.2" cy="313.8" r="3.1" class="k7"/><circle cx="628.3" cy="294.8" r="3.1" class="k3"/><circle cx="618.2" cy="286.1" r="3.1" class="k1"/><circle cx="686.5" cy="321.6" r="3.1" class="k9"/><circle cx="619.4" cy="288.8" r="3.1" class="k1"/><circle cx="650.4" cy="314.2" r="3.1" class="k7"/><circle cx="638" cy="307.7" r="3.1" class="k6"/><circle cx="635.2" cy="304.1" r="3.1" class="k5"/><circle cx="664.2" cy="320.3" r="3.1" class="k9"/><circle cx="637.6" cy="305.5" r="3.1" class="k5"/><circle cx="710.8" cy="315.1" r="3.1" class="k8"/><circle cx="682.6" cy="324" r="3.1" class="ka"/></g><g class="ae"><circle cx="677.2" cy="325.3" r="3.1" class="ka"/><circle cx="670.2" cy="322.6" r="3.1" class="k9"/><circle cx="617.1" cy="283.4" r="3.1" class="k0"/><circle cx="625.2" cy="294.7" r="3.1" class="k3"/><circle cx="630.3" cy="297.3" r="3.1" class="k3"/><circle cx="618.2" cy="285.6" r="3.1" class="k1"/><circle cx="632.5" cy="299.6" r="3.1" class="k4"/><circle cx="630.2" cy="295.9" r="3.1" class="k3"/><circle cx="620.8" cy="286.3" r="3.1" class="k1"/><circle cx="620.8" cy="285.5" r="3.1" class="k1"/><circle cx="643.3" cy="309.4" r="3.1" class="k6"/><circle cx="618.3" cy="284.1" r="3.1" class="k0"/><circle cx="640.4" cy="307.5" r="3.1" class="k6"/><circle cx="697.7" cy="323.6" r="3.1" class="ka"/><circle cx="637.3" cy="303.8" r="3.1" class="k5"/><circle cx="635" cy="302.7" r="3.1" class="k5"/><circle cx="618.2" cy="285" r="3.1" class="k1"/><circle cx="623.6" cy="291.3" r="3.1" class="k2"/><circle cx="647" cy="312.3" r="3.1" class="k7"/><circle cx="630.7" cy="299.4" r="3.1" class="k4"/><circle cx="705.3" cy="320.3" r="3.1" class="k9"/><circle cx="628.4" cy="294.7" r="3.1" class="k3"/><circle cx="623.6" cy="290.6" r="3.1" class="k2"/><circle cx="622.1" cy="290.6" r="3.1" class="k2"/><circle cx="634.9" cy="301.5" r="3.1" class="k4"/><circle cx="663.9" cy="318.6" r="3.1" class="k8"/><circle cx="632.6" cy="299.1" r="3.1" class="k4"/><circle cx="640.3" cy="306.4" r="3.1" class="k6"/><circle cx="622.1" cy="287.9" r="3.1" class="k1"/><circle cx="650.6" cy="313.4" r="3.1" class="k7"/><circle cx="643.3" cy="308.3" r="3.1" class="k6"/><circle cx="630.3" cy="295.7" r="3.1" class="k3"/><circle cx="618.2" cy="284.1" r="3.1" class="k0"/><circle cx="659.5" cy="317.9" r="3.1" class="k8"/><circle cx="622.1" cy="287.2" r="3.1" class="k1"/><circle cx="626.8" cy="293.7" r="3.1" class="k3"/><circle cx="632.1" cy="296.4" r="3.1" class="k3"/><circle cx="677" cy="323.6" r="3.1" class="ka"/><circle cx="619.5" cy="285.7" r="3.1" class="k1"/><circle cx="632.4" cy="298" r="3.1" class="k4"/><circle cx="647" cy="311.2" r="3.1" class="k7"/><circle cx="687.7" cy="320.9" r="3.1" class="k9"/><circle cx="623.6" cy="290.3" r="3.1" class="k2"/><circle cx="637.5" cy="303.5" r="3.1" class="k5"/><circle cx="630.2" cy="294.7" r="3.1" class="k3"/><circle cx="682.9" cy="322.7" r="3.1" class="k9"/><circle cx="622.1" cy="285.8" r="3.1" class="k1"/><circle cx="654.6" cy="314.6" r="3.1" class="k7"/><circle cx="697.7" cy="321.9" r="3.1" class="k9"/><circle cx="619.5" cy="284.4" r="3.1" class="k0"/><circle cx="640.2" cy="305.2" r="3.1" class="k5"/><circle cx="623.6" cy="289.4" r="3.1" class="k1"/><circle cx="622.1" cy="286.8" r="3.1" class="k1"/><circle cx="670.9" cy="322" r="3.1" class="k9"/><circle cx="704.8" cy="318.3" r="3.1" class="k8"/><circle cx="675.7" cy="320.7" r="3.1" class="k9"/><circle cx="646.7" cy="309.5" r="3.1" class="k6"/><circle cx="625.2" cy="293.1" r="3.1" class="k2"/><circle cx="659.2" cy="316.2" r="3.1" class="k8"/><circle cx="626.9" cy="293.5" r="3.1" class="k2"/><circle cx="634.8" cy="299.8" r="3.1" class="k4"/><circle cx="650.7" cy="312.4" r="3.1" class="k7"/><circle cx="635.2" cy="301.6" r="3.1" class="k4"/><circle cx="619.4" cy="285.6" r="3.1" class="k1"/><circle cx="620.8" cy="286.3" r="3.1" class="k1"/><circle cx="622.1" cy="285.6" r="3.1" class="k1"/><circle cx="625.2" cy="292.3" r="3.1" class="k2"/><circle cx="623.6" cy="289.1" r="3.1" class="k1"/><circle cx="632.3" cy="296.2" r="3.1" class="k3"/><circle cx="643.6" cy="308" r="3.1" class="k6"/><circle cx="623.6" cy="288.4" r="3.1" class="k1"/><circle cx="620.8" cy="285.9" r="3.1" class="k1"/><circle cx="637.7" cy="303.3" r="3.1" class="k5"/><circle cx="620.8" cy="285.1" r="3.1" class="k0"/><circle cx="664.8" cy="318.4" r="3.1" class="k8"/><circle cx="682.6" cy="320.9" r="3.1" class="k9"/><circle cx="634.8" cy="299" r="3.1" class="k4"/><circle cx="688.5" cy="319.9" r="3.1" class="k9"/><circle cx="625.2" cy="291.8" r="3.1" class="k2"/><circle cx="655" cy="314.1" r="3.1" class="k7"/><circle cx="650.5" cy="311.1" r="3.1" class="k6"/><circle cx="697.8" cy="320.3" r="3.1" class="k9"/><circle cx="630.5" cy="295.2" r="3.1" class="k3"/><circle cx="626.9" cy="293.3" r="3.1" class="k2"/><circle cx="637.6" cy="302.1" r="3.1" class="k4"/><circle cx="625.2" cy="290.1" r="3.1" class="k1"/><circle cx="623.6" cy="288.1" r="3.1" class="k1"/><circle cx="704.8" cy="316.6" r="3.1" class="k8"/><circle cx="647.2" cy="309.4" r="3.1" class="k6"/><circle cx="671.7" cy="321.6" r="3.1" class="k9"/><circle cx="623.6" cy="287.4" r="3.1" class="k1"/><circle cx="654.5" cy="312.1" r="3.1" class="k7"/><circle cx="643.9" cy="307.5" r="3.1" class="k6"/><circle cx="634.8" cy="298.4" r="3.1" class="k3"/><circle cx="640.9" cy="305.9" r="3.1" class="k5"/><circle cx="646.5" cy="307.3" r="3.1" class="k6"/><circle cx="640.5" cy="304" r="3.1" class="k5"/><circle cx="660" cy="316" r="3.1" class="k8"/><circle cx="682" cy="318.9" r="3.1" class="k8"/><circle cx="628.8" cy="294.4" r="3.1" class="k2"/><circle cx="622.1" cy="286" r="3.1" class="k1"/><circle cx="677" cy="320.6" r="3.1" class="k9"/><circle cx="650.6" cy="310" r="3.1" class="k6"/><circle cx="632.7" cy="296.7" r="3.1" class="k3"/><circle cx="637.7" cy="301.5" r="3.1" class="k4"/><circle cx="649.9" cy="307.9" r="3.1" class="k6"/><circle cx="665.2" cy="317.7" r="3.1" class="k8"/><circle cx="623.6" cy="287.1" r="3.1" class="k1"/><circle cx="688.8" cy="318.5" r="3.1" class="k8"/><circle cx="697.4" cy="318.3" r="3.1" class="k8"/><circle cx="630.7" cy="295.2" r="3.1" class="k3"/><circle cx="634.9" cy="297.7" r="3.1" class="k3"/><circle cx="637.1" cy="298.6" r="3.1" class="k3"/><circle cx="643.9" cy="306.6" r="3.1" class="k5"/><circle cx="625.2" cy="290.1" r="3.1" class="k1"/><circle cx="626.9" cy="291.4" r="3.1" class="k2"/><circle cx="623.6" cy="286.5" r="3.1" class="k1"/><circle cx="627" cy="292.5" r="3.1" class="k2"/><circle cx="654.6" cy="311.1" r="3.1" class="k6"/><circle cx="671.5" cy="319.9" r="3.1" class="k8"/><circle cx="634.7" cy="296.6" r="3.1" class="k3"/><circle cx="704.1" cy="314.5" r="3.1" class="k7"/><circle cx="676.3" cy="318.5" r="3.1" class="k8"/><circle cx="664.5" cy="315.6" r="3.1" class="k7"/><circle cx="660.1" cy="315" r="3.1" class="k7"/><circle cx="628.9" cy="294.3" r="3.1" class="k2"/><circle cx="625.2" cy="288.7" r="3.1" class="k1"/><circle cx="625.2" cy="289.7" r="3.1" class="k1"/><circle cx="637.9" cy="301.2" r="3.1" class="k4"/><circle cx="647.1" cy="307.3" r="3.1" class="k5"/><circle cx="627.2" cy="294.3" r="3.1" class="k2"/><circle cx="626.9" cy="291" r="3.1" class="k2"/><circle cx="688.6" cy="316.8" r="3.1" class="k8"/><circle cx="659.3" cy="312.8" r="3.1" class="k7"/><circle cx="682.7" cy="318.1" r="3.1" class="k8"/><circle cx="650.2" cy="307.4" r="3.1" class="k5"/><circle cx="630.9" cy="295.1" r="3.1" class="k3"/><circle cx="641.1" cy="304.6" r="3.1" class="k5"/><circle cx="628.9" cy="293.6" r="3.1" class="k2"/><circle cx="671.1" cy="318.1" r="3.1" class="k8"/><circle cx="630.6" cy="292.9" r="3.1" class="k2"/><circle cx="634.9" cy="296.3" r="3.1" class="k3"/><circle cx="628.7" cy="291.5" r="3.1" class="k2"/><circle cx="632.8" cy="295.8" r="3.1" class="k3"/><circle cx="675.7" cy="316.6" r="3.1" class="k8"/><circle cx="637.5" cy="298.7" r="3.1" class="k3"/><circle cx="640.4" cy="301.3" r="3.1" class="k4"/><circle cx="664.3" cy="314.1" r="3.1" class="k7"/><circle cx="655" cy="310.6" r="3.1" class="k6"/><circle cx="626.9" cy="289.6" r="3.1" class="k1"/><circle cx="647.1" cy="306.3" r="3.1" class="k5"/><circle cx="698.1" cy="317.2" r="3.1" class="k8"/><circle cx="630.9" cy="294.5" r="3.1" class="k2"/><circle cx="628.7" cy="290.9" r="3.1" class="k1"/><circle cx="644.5" cy="306.9" r="3.1" class="k5"/><circle cx="627" cy="290.7" r="3.1" class="k1"/><circle cx="640.2" cy="300.1" r="3.1" class="k4"/><circle cx="625.3" cy="288.7" r="3.1" class="k1"/><circle cx="626.9" cy="288.9" r="3.1" class="k1"/><circle cx="641.2" cy="303.8" r="3.1" class="k4"/><circle cx="644.1" cy="305.2" r="3.1" class="k5"/><circle cx="632.3" cy="291.8" r="3.1" class="k2"/><circle cx="650.5" cy="306.9" r="3.1" class="k5"/><circle cx="682.6" cy="316.6" r="3.1" class="k7"/><circle cx="670.9" cy="316.6" r="3.1" class="k7"/><circle cx="637.6" cy="298.2" r="3.1" class="k3"/><circle cx="659.7" cy="312.1" r="3.1" class="k6"/><circle cx="632.8" cy="294.4" r="3.1" class="k2"/><circle cx="630.8" cy="292.9" r="3.1" class="k2"/><circle cx="633.1" cy="295.7" r="3.1" class="k3"/><circle cx="625.3" cy="288.3" r="3.1" class="k1"/><circle cx="655" cy="309.6" r="3.1" class="k6"/><circle cx="689.5" cy="315.9" r="3.1" class="k7"/><circle cx="630.7" cy="292" r="3.1" class="k2"/><circle cx="697.4" cy="315.2" r="3.1" class="k7"/><circle cx="676.1" cy="315.6" r="3.1" class="k7"/><circle cx="632.8" cy="293.6" r="3.1" class="k2"/><circle cx="634.9" cy="294.2" r="3.1" class="k2"/><circle cx="635.4" cy="296.9" r="3.1" class="k3"/><circle cx="665.2" cy="313.9" r="3.1" class="k7"/><circle cx="628.9" cy="291.1" r="3.1" class="k1"/><circle cx="659.6" cy="310.8" r="3.1" class="k6"/><circle cx="654.9" cy="308.3" r="3.1" class="k5"/><circle cx="630.7" cy="291.6" r="3.1" class="k1"/><circle cx="644" cy="303.2" r="3.1" class="k4"/><circle cx="647.3" cy="304.7" r="3.1" class="k5"/><circle cx="682.7" cy="315.3" r="3.1" class="k7"/><circle cx="648" cy="306.9" r="3.1" class="k5"/><circle cx="635.4" cy="296.1" r="3.1" class="k3"/><circle cx="689.1" cy="314.1" r="3.1" class="k7"/><circle cx="638.1" cy="298.4" r="3.1" class="k3"/><circle cx="628.9" cy="290.7" r="3.1" class="k1"/><circle cx="676.2" cy="314.3" r="3.1" class="k7"/><circle cx="671.8" cy="316.2" r="3.1" class="k7"/><circle cx="651.4" cy="307.2" r="3.1" class="k5"/><circle cx="641.1" cy="301.1" r="3.1" class="k4"/><circle cx="665.2" cy="312.6" r="3.1" class="k6"/><circle cx="632.9" cy="292.6" r="3.1" class="k2"/><circle cx="697.7" cy="313.8" r="3.1" class="k7"/><circle cx="637.9" cy="297.4" r="3.1" class="k3"/><circle cx="640.8" cy="299.7" r="3.1" class="k3"/><circle cx="637.7" cy="296.1" r="3.1" class="k2"/><circle cx="644.1" cy="302.5" r="3.1" class="k4"/><circle cx="627.2" cy="289.9" r="3.1" class="k1"/><circle cx="659.9" cy="310.1" r="3.1" class="k6"/><circle cx="643.8" cy="301.1" r="3.1" class="k4"/><circle cx="682.6" cy="313.8" r="3.1" class="k7"/><circle cx="635.3" cy="294.7" r="3.1" class="k2"/><circle cx="650.6" cy="304.2" r="3.1" class="k4"/><circle cx="629" cy="290.5" r="3.1" class="k1"/><circle cx="655.6" cy="308.3" r="3.1" class="k5"/><circle cx="676.1" cy="312.9" r="3.1" class="k6"/><circle cx="635.3" cy="293.8" r="3.1" class="k2"/><circle cx="689.6" cy="313" r="3.1" class="k6"/><circle cx="665.1" cy="311.4" r="3.1" class="k6"/><circle cx="659.6" cy="308.6" r="3.1" class="k5"/><circle cx="648" cy="304.9" r="3.1" class="k4"/><circle cx="633" cy="292.4" r="3.1" class="k2"/><circle cx="631.1" cy="292.1" r="3.1" class="k1"/><circle cx="641" cy="299.3" r="3.1" class="k3"/><circle cx="672.1" cy="315.2" r="3.1" class="k7"/><circle cx="643.4" cy="298.9" r="3.1" class="k3"/><circle cx="637.9" cy="296" r="3.1" class="k2"/><circle cx="640.8" cy="298.2" r="3.1" class="k3"/><circle cx="647.8" cy="303.7" r="3.1" class="k4"/><circle cx="635.3" cy="293.3" r="3.1" class="k2"/><circle cx="650.8" cy="303.4" r="3.1" class="k4"/><circle cx="631.1" cy="291.5" r="3.1" class="k1"/><circle cx="637.8" cy="295" r="3.1" class="k2"/><circle cx="655.6" cy="307.3" r="3.1" class="k5"/><circle cx="659.4" cy="307.3" r="3.1" class="k5"/><circle cx="682.6" cy="312.5" r="3.1" class="k6"/><circle cx="689" cy="311.2" r="3.1" class="k6"/><circle cx="671.6" cy="313.4" r="3.1" class="k6"/><circle cx="640.8" cy="297.4" r="3.1" class="k3"/><circle cx="655.3" cy="305.8" r="3.1" class="k5"/><circle cx="647.7" cy="302.6" r="3.1" class="k4"/><circle cx="676.5" cy="312" r="3.1" class="k6"/><circle cx="650.6" cy="302.3" r="3.1" class="k4"/><circle cx="633.2" cy="292.3" r="3.1" class="k1"/><circle cx="665.6" cy="310.7" r="3.1" class="k6"/><circle cx="654.6" cy="304" r="3.1" class="k4"/><circle cx="647.4" cy="301.3" r="3.1" class="k3"/><circle cx="644.7" cy="301.8" r="3.1" class="k4"/><circle cx="635.5" cy="293" r="3.1" class="k2"/><circle cx="640.9" cy="296.8" r="3.1" class="k2"/><circle cx="638.2" cy="295" r="3.1" class="k2"/><circle cx="672" cy="312.5" r="3.1" class="k6"/><circle cx="683.5" cy="311.8" r="3.1" class="k6"/><circle cx="644.3" cy="299.5" r="3.1" class="k3"/><circle cx="665.7" cy="309.7" r="3.1" class="k5"/><circle cx="676.8" cy="311" r="3.1" class="k6"/><circle cx="651.1" cy="302" r="3.1" class="k4"/><circle cx="647.6" cy="300.8" r="3.1" class="k3"/><circle cx="660.5" cy="307.6" r="3.1" class="k5"/><circle cx="638.2" cy="294.4" r="3.1" class="k2"/><circle cx="659.9" cy="305.8" r="3.1" class="k4"/><circle cx="682.7" cy="309.8" r="3.1" class="k5"/><circle cx="644.3" cy="298.7" r="3.1" class="k3"/><circle cx="665.7" cy="308.6" r="3.1" class="k5"/><circle cx="676.5" cy="309.5" r="3.1" class="k5"/><circle cx="647.7" cy="300.1" r="3.1" class="k3"/><circle cx="672.7" cy="312" r="3.1" class="k6"/><circle cx="641.6" cy="297.2" r="3.1" class="k2"/><circle cx="656.3" cy="305.1" r="3.1" class="k4"/><circle cx="660.2" cy="305.1" r="3.1" class="k4"/><circle cx="665.6" cy="307.3" r="3.1" class="k5"/><circle cx="644.6" cy="298.4" r="3.1" class="k3"/><circle cx="655.8" cy="303.5" r="3.1" class="k4"/><circle cx="672.1" cy="310.2" r="3.1" class="k5"/><circle cx="652" cy="302.3" r="3.1" class="k3"/><circle cx="641.7" cy="296.6" r="3.1" class="k2"/><circle cx="655.6" cy="302.4" r="3.1" class="k3"/><circle cx="651.8" cy="301.1" r="3.1" class="k3"/><circle cx="677.4" cy="308.9" r="3.1" class="k5"/><circle cx="648.3" cy="300" r="3.1" class="k3"/><circle cx="660.6" cy="304.5" r="3.1" class="k4"/><circle cx="645" cy="298.1" r="3.1" class="k2"/><circle cx="651.6" cy="300" r="3.1" class="k3"/><circle cx="672.8" cy="309.6" r="3.1" class="k5"/><circle cx="648.5" cy="299.5" r="3.1" class="k3"/><circle cx="666.7" cy="307.3" r="3.1" class="k4"/><circle cx="656.1" cy="302" r="3.1" class="k3"/><circle cx="660.7" cy="303.6" r="3.1" class="k4"/><circle cx="666.2" cy="305.7" r="3.1" class="k4"/><circle cx="673.8" cy="309.3" r="3.1" class="k5"/></g></g>
<path d="M789.5 139.5L869.5 139.5Q872.5 139.5 872.5 137.5L872.5 118.5Q872.5 115.5 869.5 115.5L789.5 115.5Q787.5 115.5 787.5 118.5L787.5 137.5Q787.5 139.5 789.5 139.5Z" style="fill:#fff;opacity:0.8;stroke:#ccc;stroke-linejoin:miter;stroke-width:1.389"/>
<path d="M806.08 130.51C806.9 130.51 807.69 130.19 808.28 129.6C808.86 129.02 809.18 128.23 809.18 127.41C809.18 126.58 808.86 125.79 808.28 125.21C807.69 124.63 806.9 124.3 806.08 124.3C805.26 124.3 804.47 124.63 803.88 125.21C803.3 125.79 802.97 126.58 802.97 127.41C802.97 128.23 803.3 129.02 803.88 129.6C804.47 130.19 805.26 130.51 806.08 130.51Z" style="fill:#482677;stroke:#482677;stroke-width:1.389"/>
<path d="M286 801L418 801L418 669L286 669Z" style="fill:#fff"/>
<clipPath id="c2"><rect x="286.17" y="669" width="132" height="132"/></clipPath><g clip-path="url(#c2)"><path d="M308.2 667.1L398.2 667L400.5 669.9L400.7 670.2L402.7 674.5L402.7 674.6L404.2 679.2L405.4 683.8L405.4 684.2L406.6 693L406.7 693.5L406.7 693.5L403.4 710.8L402.4 714.2L402 715.3L400.4 718.8L400.2 719.1L397.7 722.6L395.1 726L390.3 731.1L388.9 732.3L383 737.3L376.1 742.5L367.4 745.1L366.2 745.4L365 745.6L359.5 746.2L357.2 746.4L353.6 746.7L344 745.9L343.5 745.8L339.9 744.9L334.5 743.5L333 742.8L329.7 741.2L327.8 740.2L325.9 738.9L319.5 733.4L317.4 731.5L313.4 727.4L310.5 723.8L310.3 723.6L307.9 720.3L302.7 708.4L301.5 704L300.3 699.3L300.3 694.6L301.3 685.2L301.5 683.8L301.6 683.2L303 678.6L305.8 671.1L306.3 670.1L308.2 667.1Z" style="fill:#90ee90;stroke:#90ee90;stroke-width:2"/><path d="M385.8 740h0M384.6 739.9h0M385.4 739.6h0M385.8 739.1h0M386.6 738.7h0M387.5 738.2h0M388.3 737.5h0M388.9 736.8h0M389.7 736.2h0M388.5 736.2h0M386.8 736.1h0M385.1 736h0M383.5 736h0M381.8 736h0M390.5 735.7h0M391 735.2h0M391.8 734.7h0M392.3 734.1h0M392.9 733.6h0M393.3 733.1h0M392 733.1h0M390.3 733.2h0M388.6 733.3h0M386.9 733.4h0M385.2 733.5h0M393.8 732.7h0M394.1 732h0M394.6 731.6h0M395.2 731h0M395.8 730.4h0M396.6 729.7h0M397.1 729h0M395.3 729h0M393.6 729.3h0M391.8 729.5h0M390.1 729.8h0M388.3 730h0M398.9 727.2h0M398.2 727.2h0M398.9 726.6h0M399.2 726.1h0M399.7 725.4h0M400.1 724.8h0M400.6 724.3h0M400.8 723.7h0M400.1 723.7h0M398.3 724.2h0M396.5 724.6h0M394.7 725.1h0M392.9 725.5h0M401.5 723.7h0M401.2 723.1h0M404.2 719.6h0M403.7 719.3h0M404 718.7h0M404.2 718.1h0M404.5 717.4h0M404.7 716.8h0M402.5 717.3h0M400.6 717.9h0M398.8 718.6h0M405.9 715.7h0M406 715h0M406.4 714.4h0M406.4 713.6h0M406.5 713h0M406.8 712.1h0M406.9 711.5h0M407.2 710.9h0M407.4 710.1h0M406.4 710.2h0M404.5 711h0M402.6 711.9h0M400.8 712.8h0M406.2 712h0M407.4 709.4h0M406.9 707.9h0M407.3 707.3h0M407.7 706.6h0M407.9 705.8h0M408 705.1h0M408.1 704.5h0M408.3 703.9h0M408.5 703.2h0M406.1 704.5h0M404.2 705.6h0M402.4 706.6h0M407.8 703.3h0M409.2 697.9h0M409.4 697.2h0M409.4 696.6h0M409.3 695.9h0M409.4 695.3h0M409.5 694.7h0M408.4 695.4h0M406.6 696.7h0M404.8 698h0M410.4 692.2h0M410.2 691.6h0M410.1 690.8h0M409.7 690.2h0M409.9 689.5h0M409.7 688.7h0M409.5 688.1h0M408.8 687.9h0M407 689.4h0M405.2 690.9h0M409.7 687.4h0M409.4 686.8h0M409.1 686.2h0M409 685.6h0M407.7 686.4h0M405.9 688h0M404.1 689.5h0M408.9 682.6h0M408.8 681.9h0M408.5 681.4h0M408.2 680.8h0M406.7 681.6h0M405 683.3h0M403.3 685h0M407.2 678.2h0M407.3 677.6h0M407.5 677h0M407.1 676.4h0M407 675.7h0M405.7 676.8h0M404 678.7h0M402.3 680.6h0M405.7 673.2h0M405.8 672.4h0M405.7 671.8h0M405.2 671.4h0M404.3 672h0M402.7 674h0M401.1 676h0M403.4 668.8h0M403.5 668.2h0M403.6 667.4h0M403.2 667h0M402.6 667.2h0M401 669.3h0M399.5 671.4h0M401 664.2h0M399 664.5h0M397.6 666.8h0M396.2 668.9h0M394 664.4h0M392.7 666.7h0M391.4 668.9h0M389.1 664.6h0M388 666.9h0M386.8 669.1h0M384.4 665h0M383.4 667.3h0M382.3 669.6h0M379.8 665.8h0M378.9 668.1h0M376.1 664.4h0M375.4 666.7h0M374.6 669h0M371.8 665.6h0M371.2 668h0M368.1 664.7h0M367.6 667.1h0M367.1 669.4h0M364 666.4h0M363.7 668.7h0M360.4 665.9h0M360.2 668.2h0M356.8 665.5h0M356.7 667.9h0M353.1 665.5h0M353.1 667.8h0M353.1 670.2h0M349.5 665.6h0M349.6 667.9h0M345.9 665.9h0M346.1 668.2h0M342.2 666.4h0M342.6 668.7h0M338.2 664.7h0M338.7 667.1h0M339.2 669.4h0M334.5 665.6h0M335.1 668h0M330.1 664.4h0M330.9 666.8h0M331.7 669.1h0M326.5 665.8h0M327.4 668.1h0M321.9 665.1h0M322.9 667.4h0M323.9 669.6h0M317.2 664.6h0M318.3 666.9h0M319.5 669.1h0M312.3 664.4h0M313.6 666.7h0M314.9 668.9h0M305.4 666h0M305.3 665.3h0M305.3 664.6h0M307.3 664.6h0M308.7 666.8h0M310.1 669h0M302.7 670h0M302.8 669.3h0M302.8 668.6h0M303.2 668.1h0M303.3 667.5h0M305.3 669.3h0M306.8 671.5h0M301.5 675.8h0M301.3 675h0M301.2 674.3h0M301.4 673.6h0M301.4 672.9h0M301.5 672.2h0M303.7 674.1h0M305.3 676.1h0M299.2 679.6h0M299.3 678.8h0M299.3 678.1h0M299.4 677.4h0M299.6 676.7h0M299.8 676.1h0M300.6 676.9h0M302.3 678.8h0M304 680.6h0M297.9 684.3h0M297.8 683.6h0M298 682.9h0M298 682.3h0M298.3 681.6h0M298.4 681h0M299.6 681.6h0M301.3 683.4h0M303 685.1h0M297.1 689.1h0M297.2 688.4h0M297.4 687.8h0M297.5 687.1h0M297.7 686.3h0M297.8 685.7h0M298.8 686.3h0M300.6 687.9h0M302.3 689.4h0M296.5 693.7h0M296.8 693.2h0M297.1 692.5h0M297.4 691.9h0M297.5 691.3h0M297.7 690.6h0M298.3 690.8h0M300.1 692.2h0M301.9 693.7h0M296.4 698.4h0M297 698h0M297.1 697.4h0M297.3 696.8h0M297.2 696.1h0M297.5 695.4h0M299.9 696.5h0M301.7 697.8h0M297.6 703.6h0M297.6 702.9h0M297.8 702.4h0M297.8 701.7h0M297.7 700.9h0M297.7 700.2h0M297.6 699.5h0M299.9 700.6h0M301.8 701.8h0M303.6 703h0M299 708.4h0M298.9 707.7h0M298.8 706.9h0M298.8 706.3h0M298.6 705.6h0M298.6 704.9h0M298.3 704h0M300.2 704.6h0M302.1 705.7h0M303.9 706.7h0M301.2 713.3h0M300.8 712.6h0M300.7 712h0M300.5 711.4h0M300.3 710.8h0M299.9 710.1h0M299.7 709.6h0M299.5 708.8h0M300.7 708.5h0M302.6 709.4h0M304.4 710.3h0M306.2 711.3h0M302.8 717.4h0M302.5 716.7h0M302.3 716h0M302 715.5h0M301.7 714.9h0M301.4 714.3h0M301.4 712.2h0M303.3 713h0M305.1 713.8h0M306.9 714.6h0M304 721h0M303.9 720.2h0M303.7 719.5h0M303.6 718.9h0M303.2 718.3h0M304.1 716.4h0M306 717.1h0M307.8 717.8h0M306.6 724.8h0M306.4 724.2h0M306.1 723.7h0M305.7 723h0M305.3 722.3h0M304.9 721.7h0M304.6 720.9h0M305.2 719.6h0M307 720.2h0M308.8 720.8h0M310.6 721.4h0M309.2 728.2h0M308.8 727.6h0M308.5 727h0M308.1 726.5h0M307.7 726h0M307.2 725.5h0M306.4 722.7h0M308.2 723.2h0M310 723.6h0M311.8 724.1h0M313.5 724.6h0M312 731.3h0M311.6 730.8h0M311.2 730.3h0M310.6 729.7h0M310.2 729.1h0M309.7 728.7h0M309.5 726h0M311.4 726.3h0M313.1 726.7h0M314.9 727.1h0M314.6 733.9h0M314.2 733.5h0M313.7 732.9h0M313.3 732.5h0M312.8 732h0M311 728.5h0M312.8 728.8h0M314.6 729.1h0M316.3 729.4h0M318 729.6h0M317.4 736.3h0M316.9 735.8h0M316.5 735.4h0M315.7 735h0M315.3 734.5h0M312.6 730.9h0M314.4 731.1h0M316.1 731.3h0M317.8 731.5h0M319.5 731.7h0M319.3 738.3h0M319.1 737.7h0M318.3 737.2h0M317.9 736.7h0M316 733.2h0M317.7 733.3h0M319.4 733.4h0M321.1 733.5h0M322.8 733.6h0M321.3 740.1h0M322 739.9h0M321.3 739.4h0M320.7 739.1h0M320.2 738.7h0M317.7 735.2h0M319.4 735.2h0M321.1 735.2h0M322.8 735.2h0M324.5 735.2h0M323 741.7h0M323.9 741.4h0M323.6 740.9h0M322.8 740.7h0M322.7 740h0M319.5 737h0M321.2 736.9h0M322.9 736.8h0M324.5 736.7h0M326.2 736.6h0M325 743.1h0M325.7 742.9h0M326.1 742.5h0M325.4 742.2h0M324.8 741.7h0M321.4 738.6h0M323 738.4h0M324.7 738.2h0M326.3 738h0M327.9 737.8h0M327.5 744.2h0M328.3 743.8h0M327 743.5h0M327.7 743.3h0M327.1 742.9h0M323.3 739.9h0M324.9 739.7h0M326.5 739.4h0M328.1 739.2h0M329.7 738.9h0M329.4 745.2h0M330 744.8h0M329.5 744.4h0M329 744.1h0M330.3 743.8h0M329.4 743.7h0M325.2 741.1h0M326.8 740.8h0M328.4 740.5h0M330 740.1h0M331.5 739.8h0M330.7 746.1h0M331.5 745.9h0M331.9 745.4h0M331.3 745.2h0M327.2 742.2h0M328.7 741.7h0M330.3 741.3h0M331.8 740.9h0M332.3 746.9h0M333 746.6h0M333.4 746.2h0M332.8 745.9h0M329.1 743h0M330.6 742.5h0M332.1 742h0M333.6 741.5h0M334.3 747.3h0M334.9 747h0M335.4 746.7h0M334.5 746.6h0M334.9 746.1h0M330.7 744.7h0M331.1 743.7h0M332.6 743.1h0M334 742.5h0M335.5 742h0M335.8 747.8h0M336.3 747.4h0M337 747h0M336.3 746.8h0M333 744.2h0M334.4 743.5h0M335.9 742.9h0M337.3 742.2h0M337.4 748.1h0M337.8 747.6h0M337.7 747h0M333.5 745.2h0M334.9 744.5h0M336.3 743.8h0M337.7 743.1h0M338.3 748.6h0M338.9 748.2h0M339.1 747.5h0M338.4 747.4h0M335.4 745.4h0M336.8 744.6h0M338.1 743.9h0M339.5 743.1h0M339.6 748.8h0M340.6 748h0M340 748.2h0M337.3 745.5h0M338.6 744.6h0M339.9 743.8h0M340.5 749.1h0M341.3 748.5h0M341.7 747.8h0M337.9 746.3h0M339.1 745.4h0M340.4 744.5h0M341.6 743.6h0M341.6 749.2h0M342.1 748.8h0M342.6 748.2h0M339.7 746.1h0M340.9 745.1h0M342.1 744.1h0M342.6 749.3h0M343 748.9h0M343.5 748.3h0M340.3 746.8h0M341.4 745.7h0M342.6 744.7h0M343.4 749.5h0M343.8 749.1h0M344.3 748.5h0M340.9 747.4h0M342 746.3h0M343.1 745.2h0M344.2 744.2h0M344.1 749.7h0M344.5 749.2h0M345 748.6h0M342.6 747h0M343.6 745.7h0M344.7 744.6h0M345 749.6h0M345.4 749.1h0M345.8 748.4h0M343.2 747.4h0M344.2 746.2h0M345.2 745h0M345.9 749.5h0M346.3 748.8h0M344.8 746.7h0M345.7 745.5h0M346.6 744.2h0M346.6 749.4h0M346.9 748.9h0M347.2 748.3h0M345.4 747.1h0M346.2 745.8h0M347.5 748.9h0M346 747.5h0M346.8 746.2h0M347.6 744.8h0M348.2 748.8h0M347.5 749.9h0M346.7 747.8h0M347.4 746.5h0M348.8 748.6h0M348.3 749.6h0M348 746.8h0M348.6 745.4h0M349 749.2h0M348.6 747h0M349.9 748.3h0M349.7 748.9h0M349.2 747.3h0M349.7 745.8h0M349.9 749.4h0M349.2 749.9h0M349.9 747.4h0M350.6 744.5h0M350.6 748.8h0M350.3 750h0M350.5 747.6h0M350.8 746.1h0M350.9 749.6h0M351.2 747.7h0M351.6 744.7h0M351.5 749h0M351.5 748.3h0M351.4 750.2h0M351.5 749.7h0M351.8 747.8h0M352 746.3h0M352.1 749.1h0M352.1 750h0M352.5 747.8h0M352.6 744.8h0M352.5 749.6h0M353 750.1h0M353.1 749.4h0M353.1 747.8h0M353.1 746.3h0M353.4 750.7h0M353.9 749.2h0M353.8 747.8h0M353.6 744.8h0M353.3 748.7h0M353.5 749.8h0M354.5 748.9h0M354.5 747.8h0M354.3 746.3h0M354.2 750.2h0M354.5 749.6h0M355.2 749.6h0M355.1 747.7h0M354.6 744.7h0M354.8 750.4h0M355.9 749.9h0M356.1 749.1h0M355.8 747.6h0M355.5 746.1h0M355.2 748.9h0M356.5 749.7h0M357.1 750.1h0M356.8 748.9h0M356.4 747.4h0M357.9 749.9h0M357.5 748.7h0M357 747.2h0M356.6 745.8h0M356.5 750.4h0M358.5 749.5h0M358.2 748.5h0M357.7 747h0M359.2 749.2h0M358.9 748.1h0M358.3 746.8h0M357.7 745.4h0M357.4 749.4h0M359.1 750h0M360 749.4h0M359.6 747.8h0M358.9 746.5h0M359.9 748.8h0M360.9 749.3h0M360.2 747.5h0M359.5 746.2h0M358.7 744.9h0M360.7 748.5h0M361.5 748.8h0M360.9 747.1h0M360 745.8h0M360.5 749.8h0M362.5 748.6h0M362.4 747.9h0M361.5 746.7h0M360.6 745.4h0M359.7 744.2h0M361.4 749.9h0M363.6 748.3h0M363 747.5h0M362.1 746.2h0M361.1 745h0M361.9 749.4h0M362.8 749.2h0M364.2 748.3h0M363.7 746.9h0M362.6 745.7h0M361.6 744.6h0M365.3 747.9h0M364.3 746.3h0M363.2 745.2h0M362.1 744.2h0M363.7 749.1h0M364.8 748.6h0M366 748.1h0M367 747.7h0M366 746.8h0M364.8 745.7h0M363.7 744.7h0M366.4 748.6h0M366.4 747.6h0M367.7 747.5h0M366.6 746.1h0M365.4 745.1h0M364.2 744.1h0M364.6 749.4h0M365.6 748.9h0M368.6 747.2h0M369.4 747.1h0M368.4 746.3h0M367.1 745.4h0M365.9 744.5h0M366.2 749.4h0M370.4 746.8h0M369 745.5h0M367.7 744.6h0M366.4 743.8h0M367.5 749.2h0M367.2 748.4h0M368.4 747.8h0M369.1 747.7h0M371.5 746.7h0M371.7 746h0M370.8 745.4h0M369.5 744.6h0M368.1 743.9h0M368.9 748.8h0M368.3 748.5h0M370.2 747.5h0M370.9 746.5h0M373 746h0M372.8 745.2h0M371.4 744.5h0M370 743.8h0M368.6 743.1h0M369.9 748.2h0M374 745.6h0M374.9 745.2h0M373.3 744.2h0M371.8 743.5h0M370.4 742.9h0M371.7 747.8h0M370.8 747.4h0M372.3 746.3h0M373.4 745.4h0M375.1 744.6h0M376.2 744.5h0M375.2 743.7h0M373.7 743.1h0M372.3 742.5h0M370.8 742h0M373.4 747.1h0M372.7 746.8h0M373.6 746.3h0M377.1 744.2h0M378 743.8h0M378.7 743.5h0M377.2 743h0M375.6 742.5h0M374.1 742h0M372.6 741.5h0M375.4 746.4h0M374.9 746.1h0M379.7 743.1h0M380.2 742.5h0M379.1 742.2h0M377.6 741.7h0M376 741.3h0M374.5 740.9h0M378.4 745.7h0M377.5 745.5h0M377.1 745h0M381 742h0M381.6 741.7h0M382.4 741.5h0M381.1 741.2h0M379.5 740.8h0M377.9 740.5h0M376.3 740.1h0M379.2 744.4h0M378.7 744.2h0M383.2 741h0M383.8 740.5h0M383 739.9h0M381.4 739.7h0M379.8 739.4h0M378.2 739.2h0M380.9 743.2h0M384.9 738.5h0M383.2 738.4h0M381.6 738.2h0M380 738h0M383.2 741.7h0M395.6 735.4h0M397 734.6h0" style="fill:none;stroke:#90ee90;stroke-width:9.72;stroke-linecap:round"/></g>
<path transform="translate(294.5 801.5)" d="M0 0L0 4.86" style="stroke:#000;stroke-width:1.111"/>
<path transform="translate(352.5 801.5)" d="M0 0L0 4.86" style="stroke:#000;stroke-width:1.111"/>
<path transform="translate(411.5 801.5)" d="M0 0L0 4.86" style="stroke:#000;stroke-width:1.111"/>
<path transform="translate(286.5 794.5)" d="M0 0L-4.86 0" style="stroke:#000;stroke-width:1.111"/>
<path transform="translate(286.5 735.5)" d="M0 0L-4.86 0" style="stroke:#000;stroke-width:1.111"/>
<path transform="translate(286.5 676.5)" d="M0 0L-4.86 0" style="stroke:#000;stroke-width:1.111"/>
<path d="M286.5 801.5L286.5 669.5" style="fill:none;stroke:#000;stroke-width:1.111;stroke-linejoin:miter;stroke-linecap:square"/>
<path d="M418.5 801.5L418.5 669.5" style="fill:none;stroke:#000;stroke-width:1.111;stroke-linejoin:miter;stroke-linecap:square"/>
<path d="M286.5 801.5L418.5 801.5" style="fill:none;stroke:#000;stroke-width:1.111;stroke-linejoin:miter;stroke-linecap:square"/>
<path d="M286.5 669.5L418.5 669.5" style="fill:none;stroke:#000;stroke-width:1.111;stroke-linejoin:miter;stroke-linecap:square"/>
<path d="M434.5 721.5L514.5 721.5Q517.5 721.5 517.5 718.5L517.5 679.5Q517.5 676.5 514.5 676.5L434.5 676.5Q432.5 676.5 432.5 679.5L432.5 718.5Q432.5 721.5 434.5 721.5Z" style="fill:#fff;opacity:0.8;stroke:#ccc;stroke-linejoin:miter;stroke-width:1.389"/>
<path transform="translate(451.16 688.41)" d="M0 4.17C1.11 4.17 2.16 3.73 2.95 2.95C3.73 2.16 4.17 1.11 4.17 0C4.17-1.11 3.73-2.16 2.95-2.95C2.16-3.73 1.11-4.17 0-4.17C-1.11-4.17-2.16-3.73-2.95-2.95C-3.73-2.16-4.17-1.11-4.17 0C-4.17 1.11-3.73 2.16-2.95 2.95C-2.16 3.73-1.11 4.17 0 4.17Z" style="stroke:#90ee90;fill:#90ee90;stroke-width:1.389"/>
<path transform="translate(451.16 708.79)" d="M0 4.17C1.11 4.17 2.16 3.73 2.95 2.95C3.73 2.16 4.17 1.11 4.17 0C4.17-1.11 3.73-2.16 2.95-2.95C2.16-3.73 1.11-4.17 0-4.17C-1.11-4.17-2.16-3.73-2.95-2.95C-3.73-2.16-4.17-1.11-4.17 0C-4.17 1.11-3.73 2.16-2.95 2.95C-2.16 3.73-1.11 4.17 0 4.17Z" style="stroke:#00f;fill:#00f;stroke-width:1.389"/>
<path d="M676 801L1080 801L1080 669L676 669Z" style="fill:#fff"/>
<path d="M689 801L730 801L730 757L689 757Z" clip-path="url(#p7de2c0d83e)" style="fill:#00f"/>
<path d="M730 801L771 801L771 764L730 764Z" clip-path="url(#p7de2c0d83e)" style="fill:#00f"/>
<path d="M771 801L812 801L812 774L771 774Z" clip-path="url(#p7de2c0d83e)" style="fill:#00f"/>
<path d="M812 801L853 801L853 777L812 777Z" clip-path="url(#p7de2c0d83e)" style="fill:#00f"/>
<path d="M853 801L894 801L894 781L853 781Z" clip-path="url(#p7de2c0d83e)" style="fill:#00f"/>
<path d="M894 801L935 801L935 784L894 784Z" clip-path="url(#p7de2c0d83e)" style="fill:#00f"/>
<path d="M935 801L976 801L976 788L935 788Z" clip-path="url(#p7de2c0d83e)" style="fill:#00f"/>
<path d="M976 801L1017 801L1017 789L976 789Z" clip-path="url(#p7de2c0d83e)" style="fill:#00f"/>
<path d="M1017 801L1058 801L1058 790L1017 790Z" clip-path="url(#p7de2c0d83e)" style="fill:#00f"/>
<path d="M1058 801L1099 801L1099 675L1058 675Z" clip-path="url(#p7de2c0d83e)" style="fill:#00f"/>
<path transform="translate(676.5 801.5)" d="M0 0L0 4.86" style="stroke:#000;stroke-width:1.111"/>
<path transform="translate(728.5 801.5)" d="M0 0L0 4.86" style="stroke:#000;stroke-width:1.111"/>
<path transform="translate(781.5 801.5)" d="M0 0L0 4.86" style="stroke:#000;stroke-width:1.111"/>
<path transform="translate(833.5 801.5)" d="M0 0L0 4.86" style="stroke:#000;stroke-width:1.111"/>
<path transform="translate(886.5 801.5)" d="M0 0L0 4.86" style="stroke:#000;stroke-width:1.111"/>
<path transform="translate(938.5 801.5)" d="M0 0L0 4.86" style="stroke:#000;stroke-width:1.111"/>
<path transform="translate(991.5 801.5)" d="M0 0L0 4.86" style="stroke:#000;stroke-width:1.111"/>
<path transform="translate(1043.5 801.5)" d="M0 0L0 4.86" style="stroke:#000;stroke-width:1.111"/>
<path transform="translate(676.5 801.5)" d="M0 0L-4.86 0" style="stroke:#000;stroke-width:1.111"/>
<path transform="translate(676.5 762.5)" d="M0 0L-4.86 0" style="stroke:#000;stroke-width:1.111"/>
<path transform="translate(676.5 723.5)" d="M0 0L-4.86 0" style="stroke:#000;stroke-width:1.111"/>
<path transform="translate(676.5 684.5)" d="M0 0L-4.86 0" style="stroke:#000;stroke-width:1.111"/>
<path d="M676.5 801.5L676.5 669.5" style="fill:none;stroke:#000;stroke-width:1.111;stroke-linejoin:miter;stroke-linecap:square"/>
<path d="M1080.5 801.5L1080.5 669.5" style="fill:none;stroke:#000;stroke-width:1.111;stroke-linejoin:miter;stroke-linecap:square"/>
<path d="M676.5 801.5L1080.5 801.5" style="fill:none;stroke:#000;stroke-width:1.111;stroke-linejoin:miter;stroke-linecap:square"/>
<path d="M676.5 669.5L1080.5 669.5" style="fill:none;stroke:#000;stroke-width:1.111;stroke-linejoin:miter;stroke-linecap:square"/>
<path d="M685.5 700.5L776.5 700.5Q779.5 700.5 779.5 698.5L779.5 679.5Q779.5 676.5 776.5 676.5L685.5 676.5Q683.5 676.5 683.5 679.5L683.5 698.5Q683.5 700.5 685.5 700.5Z" style="fill:#fff;opacity:0.8;stroke:#ccc;stroke-linejoin:miter;stroke-width:1.389"/>
<path d="M688 692L716 692L716 682L688 682Z" style="fill:#00f"/>
<g opacity="0.999"><text transform="translate(510.3 594.44) rotate(-341.96)" x="-22.94" y="4" font-size="14.14" textLength="45.88" lengthAdjust="spacingAndGlyphs">X (cm)</text><text x="402.38" y="546.23" font-size="14.14" textLength="37.88" lengthAdjust="spacingAndGlyphs">−400</text><text x="452.67" y="562.83" font-size="14.14" textLength="37.88" lengthAdjust="spacingAndGlyphs">−200</text><text x="518.44" y="579.74" font-size="14.14" textLength="8.75" lengthAdjust="spacingAndGlyphs">0</text><text x="561.86" y="596.96" font-size="14.14" textLength="26.25" lengthAdjust="spacingAndGlyphs">200</text><text x="615" y="614.51" font-size="14.14" textLength="26.25" lengthAdjust="spacingAndGlyphs">400</text><text transform="translate(811.15 548.93) rotate(-45.69)" x="-22.38" y="4" font-size="14.14" textLength="44.75" lengthAdjust="spacingAndGlyphs">Y (cm)</text><text x="715.59" y="598.18" font-size="14.14" textLength="37.88" lengthAdjust="spacingAndGlyphs">−400</text><text x="743.99" y="568.51" font-size="14.14" textLength="37.88" lengthAdjust="spacingAndGlyphs">−200</text><text x="786.07" y="539.77" font-size="14.14" textLength="8.75" lengthAdjust="spacingAndGlyphs">0</text><text x="803.99" y="511.91" font-size="14.14" textLength="26.25" lengthAdjust="spacingAndGlyphs">200</text><text x="829.85" y="484.9" font-size="14.14" textLength="26.25" lengthAdjust="spacingAndGlyphs">400</text><text transform="translate(911.27 326.13) rotate(-87.33)" x="-23.38" y="4" font-size="14.14" textLength="46.75" lengthAdjust="spacingAndGlyphs">H (cm)</text><text x="881.22" y="242.12" font-size="14.14" textLength="8.75" lengthAdjust="spacingAndGlyphs">0</text><text x="871.06" y="268.22" font-size="14.14" textLength="26.38" lengthAdjust="spacingAndGlyphs">100</text><text x="869.78" y="294.04" font-size="14.14" textLength="26.25" lengthAdjust="spacingAndGlyphs">200</text><text x="868.45" y="319.61" font-size="14.14" textLength="26.25" lengthAdjust="spacingAndGlyphs">300</text><text x="867.14" y="344.91" font-size="14.14" textLength="26.25" lengthAdjust="spacingAndGlyphs">400</text><text x="865.84" y="369.96" font-size="14.14" textLength="26.25" lengthAdjust="spacingAndGlyphs">500</text><text x="864.49" y="394.76" font-size="14.14" textLength="26.38" lengthAdjust="spacingAndGlyphs">600</text><text x="863.28" y="419.31" font-size="14.14" textLength="26.25" lengthAdjust="spacingAndGlyphs">700</text><text x="476.5" y="99.67" font-size="16.97" textLength="277" lengthAdjust="spacingAndGlyphs">LiDAR Point 3D Coordinate Graph</text><text x="831" y="131.5" font-size="14.14" textLength="35.5" lengthAdjust="spacingAndGlyphs">point</text><text x="329.24" y="841.28" font-size="14.14" textLength="45.88" lengthAdjust="spacingAndGlyphs">X (cm)</text><text x="274.73" y="821.72" font-size="14.14" textLength="37.88" lengthAdjust="spacingAndGlyphs">−500</text><text x="347.8" y="821.72" font-size="14.14" textLength="8.75" lengthAdjust="spacingAndGlyphs">0</text><text x="397.56" y="821.72" font-size="14.14" textLength="26.25" lengthAdjust="spacingAndGlyphs">500</text><text transform="translate(226.02 735) rotate(-90)" x="-22.38" y="4" font-size="14.14" textLength="44.75" lengthAdjust="spacingAndGlyphs">Y (cm)</text><text x="238.58" y="799.01" font-size="14.14" textLength="37.88" lengthAdjust="spacingAndGlyphs">−500</text><text x="267.7" y="740.5" font-size="14.14" textLength="8.75" lengthAdjust="spacingAndGlyphs">0</text><text x="250.2" y="681.99" font-size="14.14" textLength="26.25" lengthAdjust="spacingAndGlyphs">500</text><text x="213.67" y="660.67" font-size="16.97" textLength="277" lengthAdjust="spacingAndGlyphs">LiDAR Point 2D Coordinate Graph</text><text x="476.16" y="692.5" font-size="14.14" textLength="35.5" lengthAdjust="spacingAndGlyphs">point</text><text x="476.16" y="713.44" font-size="14.14" textLength="27.75" lengthAdjust="spacingAndGlyphs">wall</text><text x="671.28" y="821.72" font-size="14.14" textLength="8.75" lengthAdjust="spacingAndGlyphs">0</text><text x="715.01" y="821.72" font-size="14.14" textLength="26.38" lengthAdjust="spacingAndGlyphs">100</text><text x="767.62" y="821.72" font-size="14.14" textLength="26.25" lengthAdjust="spacingAndGlyphs">200</text><text x="820.17" y="821.72" font-size="14.14" textLength="26.25" lengthAdjust="spacingAndGlyphs">300</text><text x="872.71" y="821.72" font-size="14.14" textLength="26.25" lengthAdjust="spacingAndGlyphs">400</text><text x="925.26" y="821.72" font-size="14.14" textLength="26.25" lengthAdjust="spacingAndGlyphs">500</text><text x="977.75" y="821.72" font-size="14.14" textLength="26.38" lengthAdjust="spacingAndGlyphs">600</text><text x="1030.35" y="821.72" font-size="14.14" textLength="26.25" lengthAdjust="spacingAndGlyphs">700</text><text x="657.18" y="806.5" font-size="14.14" textLength="8.75" lengthAdjust="spacingAndGlyphs">0</text><text x="630.8" y="767.57" font-size="14.14" textLength="35.12" lengthAdjust="spacingAndGlyphs">1000</text><text x="630.93" y="728.63" font-size="14.14" textLength="35" lengthAdjust="spacingAndGlyphs">2000</text><text x="630.93" y="689.7" font-size="14.14" textLength="35" lengthAdjust="spacingAndGlyphs">3000</text><text x="804.64" y="660.67" font-size="16.97" textLength="146.38" lengthAdjust="spacingAndGlyphs">Height Histogram</text><text x="727.04" y="692.5" font-size="14.14" textLength="45.88" lengthAdjust="spacingAndGlyphs">Height</text></g>
</svg></body></html>
